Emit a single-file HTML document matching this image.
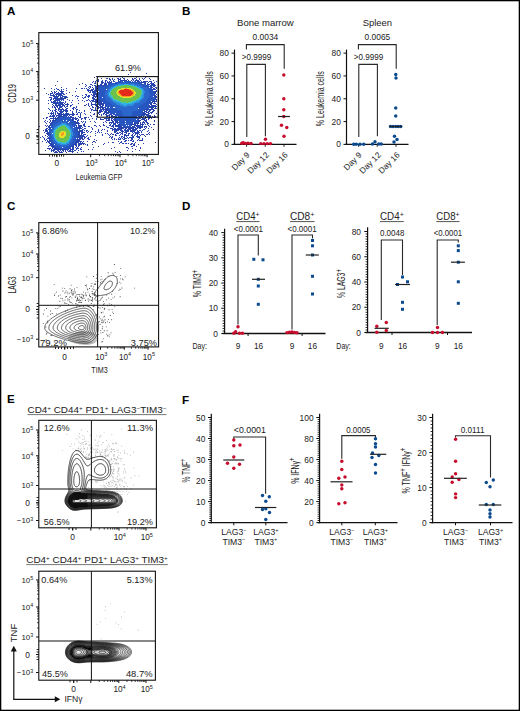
<!DOCTYPE html>
<html><head><meta charset="utf-8"><style>
html,body{margin:0;padding:0;background:#fff;}
svg{display:block;font-family:"Liberation Sans", sans-serif;}
</style></head><body>
<svg width="520" height="711" viewBox="0 0 520 711">
<rect x="0" y="0" width="520" height="711" fill="#fff"/>
<text x="7" y="14.8" font-size="11.6" text-anchor="start" font-weight="bold" fill="#000" >A</text>
<text x="182" y="15" font-size="11.6" text-anchor="start" font-weight="bold" fill="#000" >B</text>
<text x="7" y="210" font-size="11.6" text-anchor="start" font-weight="bold" fill="#000" >C</text>
<text x="182" y="210" font-size="11.6" text-anchor="start" font-weight="bold" fill="#000" >D</text>
<text x="7" y="403.2" font-size="11.6" text-anchor="start" font-weight="bold" fill="#000" >E</text>
<text x="182" y="403.7" font-size="11.6" text-anchor="start" font-weight="bold" fill="#000" >F</text>
<line x1="234.5" y1="145" x2="234.5" y2="49.6" stroke="#111" stroke-width="1.2"/>
<line x1="231.5" y1="144.4" x2="234.5" y2="144.4" stroke="#111" stroke-width="1.0"/>
<text x="228.9" y="147.4" font-size="8.4" text-anchor="end" font-weight="normal" fill="#222" >0</text>
<line x1="231.5" y1="121.59" x2="234.5" y2="121.59" stroke="#111" stroke-width="1.0"/>
<text x="228.9" y="124.59" font-size="8.4" text-anchor="end" font-weight="normal" fill="#222" >20</text>
<line x1="231.5" y1="98.78" x2="234.5" y2="98.78" stroke="#111" stroke-width="1.0"/>
<text x="228.9" y="101.78" font-size="8.4" text-anchor="end" font-weight="normal" fill="#222" >40</text>
<line x1="231.5" y1="75.96" x2="234.5" y2="75.96" stroke="#111" stroke-width="1.0"/>
<text x="228.9" y="78.96" font-size="8.4" text-anchor="end" font-weight="normal" fill="#222" >60</text>
<line x1="231.5" y1="53.15" x2="234.5" y2="53.15" stroke="#111" stroke-width="1.0"/>
<text x="228.9" y="56.15" font-size="8.4" text-anchor="end" font-weight="normal" fill="#222" >80</text>
<line x1="233" y1="144.4" x2="296.5" y2="144.4" stroke="#111" stroke-width="1.2"/>
<line x1="246.6" y1="144.4" x2="246.6" y2="146.8" stroke="#111" stroke-width="0.9"/>
<line x1="265.2" y1="144.4" x2="265.2" y2="146.8" stroke="#111" stroke-width="0.9"/>
<line x1="284" y1="144.4" x2="284" y2="146.8" stroke="#111" stroke-width="0.9"/>
<text x="265.4" y="25.8" font-size="9.4" text-anchor="middle" font-weight="normal" fill="#222" textLength="56.7" lengthAdjust="spacingAndGlyphs" >Bone marrow</text>
<text x="265.4" y="40" font-size="8.3" text-anchor="middle" font-weight="normal" fill="#222" textLength="25.7" lengthAdjust="spacingAndGlyphs" >0.0034</text>
<path d="M246.4 49.6 V44.6 H284.2 V68.8" fill="none" stroke="#2a2a2a" stroke-width="1.1"/>
<text x="256.5" y="60" font-size="8.3" text-anchor="middle" font-weight="normal" fill="#222" textLength="29.5" lengthAdjust="spacingAndGlyphs" >&gt;0.9999</text>
<path d="M246.8 137 V64.4 H265.4 V136.3" fill="none" stroke="#2a2a2a" stroke-width="1.1"/>
<circle cx="241.8" cy="143.2" r="1.72" fill="#c80c2c"/>
<circle cx="243.3" cy="142.8" r="1.72" fill="#c80c2c"/>
<circle cx="245.5" cy="143.4" r="1.72" fill="#c80c2c"/>
<circle cx="248" cy="143.1" r="1.72" fill="#c80c2c"/>
<circle cx="251" cy="143.5" r="1.72" fill="#c80c2c"/>
<circle cx="265.5" cy="139.3" r="1.72" fill="#c80c2c"/>
<circle cx="260.8" cy="143.6" r="1.72" fill="#c80c2c"/>
<circle cx="264" cy="143.6" r="1.72" fill="#c80c2c"/>
<circle cx="267.3" cy="143.6" r="1.72" fill="#c80c2c"/>
<circle cx="270.5" cy="143.6" r="1.72" fill="#c80c2c"/>
<circle cx="283.8" cy="75" r="1.72" fill="#c80c2c"/>
<circle cx="283.8" cy="98.8" r="1.72" fill="#c80c2c"/>
<circle cx="283.8" cy="109.8" r="1.72" fill="#c80c2c"/>
<circle cx="283.8" cy="116.5" r="1.72" fill="#c80c2c"/>
<circle cx="281.5" cy="125.3" r="1.72" fill="#c80c2c"/>
<circle cx="286.8" cy="127.5" r="1.72" fill="#c80c2c"/>
<circle cx="284" cy="136.3" r="1.72" fill="#c80c2c"/>
<line x1="278" y1="116.5" x2="290" y2="116.5" stroke="#222" stroke-width="1.2"/>
<text transform="translate(250.3,155.6) rotate(-45)" font-size="8.3" text-anchor="end" fill="#222">Day 9</text>
<text transform="translate(269.4,155.6) rotate(-45)" font-size="8.3" text-anchor="end" fill="#222">Day 12</text>
<text transform="translate(288.3,155.6) rotate(-45)" font-size="8.3" text-anchor="end" fill="#222">Day 16</text>
<text transform="translate(213.4,98.75) rotate(-90) scale(0.707,1)" x="0" y="0" font-size="10.0" text-anchor="middle" fill="#222" >% Leukemia cells</text>
<line x1="346.5" y1="145" x2="346.5" y2="49.6" stroke="#111" stroke-width="1.2"/>
<line x1="343.5" y1="144.4" x2="346.5" y2="144.4" stroke="#111" stroke-width="1.0"/>
<text x="340.9" y="147.4" font-size="8.4" text-anchor="end" font-weight="normal" fill="#222" >0</text>
<line x1="343.5" y1="121.59" x2="346.5" y2="121.59" stroke="#111" stroke-width="1.0"/>
<text x="340.9" y="124.59" font-size="8.4" text-anchor="end" font-weight="normal" fill="#222" >20</text>
<line x1="343.5" y1="98.78" x2="346.5" y2="98.78" stroke="#111" stroke-width="1.0"/>
<text x="340.9" y="101.78" font-size="8.4" text-anchor="end" font-weight="normal" fill="#222" >40</text>
<line x1="343.5" y1="75.96" x2="346.5" y2="75.96" stroke="#111" stroke-width="1.0"/>
<text x="340.9" y="78.96" font-size="8.4" text-anchor="end" font-weight="normal" fill="#222" >60</text>
<line x1="343.5" y1="53.15" x2="346.5" y2="53.15" stroke="#111" stroke-width="1.0"/>
<text x="340.9" y="56.15" font-size="8.4" text-anchor="end" font-weight="normal" fill="#222" >80</text>
<line x1="345" y1="144.4" x2="408.5" y2="144.4" stroke="#111" stroke-width="1.2"/>
<line x1="358.6" y1="144.4" x2="358.6" y2="146.8" stroke="#111" stroke-width="0.9"/>
<line x1="377.2" y1="144.4" x2="377.2" y2="146.8" stroke="#111" stroke-width="0.9"/>
<line x1="396" y1="144.4" x2="396" y2="146.8" stroke="#111" stroke-width="0.9"/>
<text x="377.4" y="25.8" font-size="9.4" text-anchor="middle" font-weight="normal" fill="#222" textLength="29.5" lengthAdjust="spacingAndGlyphs" >Spleen</text>
<text x="377.4" y="40" font-size="8.3" text-anchor="middle" font-weight="normal" fill="#222" textLength="25.7" lengthAdjust="spacingAndGlyphs" >0.0065</text>
<path d="M358.4 49.6 V44.6 H396.2 V68.8" fill="none" stroke="#2a2a2a" stroke-width="1.1"/>
<text x="368.5" y="60" font-size="8.3" text-anchor="middle" font-weight="normal" fill="#222" textLength="29.5" lengthAdjust="spacingAndGlyphs" >&gt;0.9999</text>
<path d="M358.8 137 V64.4 H377.4 V136.3" fill="none" stroke="#2a2a2a" stroke-width="1.1"/>
<circle cx="353.75" cy="144.2" r="1.72" fill="#0b4a8e"/>
<circle cx="356.25" cy="144.2" r="1.72" fill="#0b4a8e"/>
<circle cx="360" cy="144.2" r="1.72" fill="#0b4a8e"/>
<circle cx="363.75" cy="144.2" r="1.72" fill="#0b4a8e"/>
<circle cx="375" cy="141.8" r="1.72" fill="#0b4a8e"/>
<circle cx="372.5" cy="144" r="1.72" fill="#0b4a8e"/>
<circle cx="378.75" cy="144" r="1.72" fill="#0b4a8e"/>
<circle cx="381.25" cy="144" r="1.72" fill="#0b4a8e"/>
<circle cx="395.75" cy="74.5" r="1.72" fill="#0b4a8e"/>
<circle cx="396" cy="78" r="1.72" fill="#0b4a8e"/>
<circle cx="395.75" cy="108" r="1.72" fill="#0b4a8e"/>
<circle cx="395.75" cy="116" r="1.72" fill="#0b4a8e"/>
<circle cx="390.5" cy="126.5" r="1.72" fill="#0b4a8e"/>
<circle cx="393" cy="126.5" r="1.72" fill="#0b4a8e"/>
<circle cx="395.75" cy="126.5" r="1.72" fill="#0b4a8e"/>
<circle cx="398.25" cy="126.5" r="1.72" fill="#0b4a8e"/>
<circle cx="400.75" cy="126.5" r="1.72" fill="#0b4a8e"/>
<circle cx="394.5" cy="136.3" r="1.72" fill="#0b4a8e"/>
<circle cx="397" cy="139.5" r="1.72" fill="#0b4a8e"/>
<circle cx="394" cy="142" r="1.72" fill="#0b4a8e"/>
<line x1="389.5" y1="126.5" x2="402" y2="126.5" stroke="#222" stroke-width="1.2"/>
<text transform="translate(362.3,155.6) rotate(-45)" font-size="8.3" text-anchor="end" fill="#222">Day 9</text>
<text transform="translate(381.4,155.6) rotate(-45)" font-size="8.3" text-anchor="end" fill="#222">Day 12</text>
<text transform="translate(400.3,155.6) rotate(-45)" font-size="8.3" text-anchor="end" fill="#222">Day 16</text>
<text transform="translate(323.9,98.75) rotate(-90) scale(0.707,1)" x="0" y="0" font-size="10.0" text-anchor="middle" fill="#222" >% Leukemia cells</text>
<line x1="224.6" y1="334.1" x2="224.6" y2="228.8" stroke="#111" stroke-width="1.2"/>
<line x1="222.6" y1="330.98" x2="224.6" y2="330.98" stroke="#111" stroke-width="0.9"/>
<line x1="222.6" y1="328.45" x2="224.6" y2="328.45" stroke="#111" stroke-width="0.9"/>
<line x1="222.6" y1="325.93" x2="224.6" y2="325.93" stroke="#111" stroke-width="0.9"/>
<line x1="222.6" y1="323.41" x2="224.6" y2="323.41" stroke="#111" stroke-width="0.9"/>
<line x1="222.6" y1="320.89" x2="224.6" y2="320.89" stroke="#111" stroke-width="0.9"/>
<line x1="222.6" y1="318.37" x2="224.6" y2="318.37" stroke="#111" stroke-width="0.9"/>
<line x1="222.6" y1="315.84" x2="224.6" y2="315.84" stroke="#111" stroke-width="0.9"/>
<line x1="222.6" y1="313.32" x2="224.6" y2="313.32" stroke="#111" stroke-width="0.9"/>
<line x1="222.6" y1="310.8" x2="224.6" y2="310.8" stroke="#111" stroke-width="0.9"/>
<line x1="222.6" y1="305.75" x2="224.6" y2="305.75" stroke="#111" stroke-width="0.9"/>
<line x1="222.6" y1="303.23" x2="224.6" y2="303.23" stroke="#111" stroke-width="0.9"/>
<line x1="222.6" y1="300.71" x2="224.6" y2="300.71" stroke="#111" stroke-width="0.9"/>
<line x1="222.6" y1="298.19" x2="224.6" y2="298.19" stroke="#111" stroke-width="0.9"/>
<line x1="222.6" y1="295.66" x2="224.6" y2="295.66" stroke="#111" stroke-width="0.9"/>
<line x1="222.6" y1="293.14" x2="224.6" y2="293.14" stroke="#111" stroke-width="0.9"/>
<line x1="222.6" y1="290.62" x2="224.6" y2="290.62" stroke="#111" stroke-width="0.9"/>
<line x1="222.6" y1="288.1" x2="224.6" y2="288.1" stroke="#111" stroke-width="0.9"/>
<line x1="222.6" y1="285.57" x2="224.6" y2="285.57" stroke="#111" stroke-width="0.9"/>
<line x1="222.6" y1="280.53" x2="224.6" y2="280.53" stroke="#111" stroke-width="0.9"/>
<line x1="222.6" y1="278" x2="224.6" y2="278" stroke="#111" stroke-width="0.9"/>
<line x1="222.6" y1="275.48" x2="224.6" y2="275.48" stroke="#111" stroke-width="0.9"/>
<line x1="222.6" y1="272.96" x2="224.6" y2="272.96" stroke="#111" stroke-width="0.9"/>
<line x1="222.6" y1="270.44" x2="224.6" y2="270.44" stroke="#111" stroke-width="0.9"/>
<line x1="222.6" y1="267.92" x2="224.6" y2="267.92" stroke="#111" stroke-width="0.9"/>
<line x1="222.6" y1="265.39" x2="224.6" y2="265.39" stroke="#111" stroke-width="0.9"/>
<line x1="222.6" y1="262.87" x2="224.6" y2="262.87" stroke="#111" stroke-width="0.9"/>
<line x1="222.6" y1="260.35" x2="224.6" y2="260.35" stroke="#111" stroke-width="0.9"/>
<line x1="222.6" y1="255.3" x2="224.6" y2="255.3" stroke="#111" stroke-width="0.9"/>
<line x1="222.6" y1="252.78" x2="224.6" y2="252.78" stroke="#111" stroke-width="0.9"/>
<line x1="222.6" y1="250.26" x2="224.6" y2="250.26" stroke="#111" stroke-width="0.9"/>
<line x1="222.6" y1="247.74" x2="224.6" y2="247.74" stroke="#111" stroke-width="0.9"/>
<line x1="222.6" y1="245.21" x2="224.6" y2="245.21" stroke="#111" stroke-width="0.9"/>
<line x1="222.6" y1="242.69" x2="224.6" y2="242.69" stroke="#111" stroke-width="0.9"/>
<line x1="222.6" y1="240.17" x2="224.6" y2="240.17" stroke="#111" stroke-width="0.9"/>
<line x1="222.6" y1="237.64" x2="224.6" y2="237.64" stroke="#111" stroke-width="0.9"/>
<line x1="222.6" y1="235.12" x2="224.6" y2="235.12" stroke="#111" stroke-width="0.9"/>
<line x1="221.3" y1="333.5" x2="224.6" y2="333.5" stroke="#111" stroke-width="1.0"/>
<text x="218" y="336.5" font-size="8.4" text-anchor="end" font-weight="normal" fill="#222" >0</text>
<line x1="221.3" y1="308.27" x2="224.6" y2="308.27" stroke="#111" stroke-width="1.0"/>
<text x="218" y="311.27" font-size="8.4" text-anchor="end" font-weight="normal" fill="#222" >10</text>
<line x1="221.3" y1="283.05" x2="224.6" y2="283.05" stroke="#111" stroke-width="1.0"/>
<text x="218" y="286.05" font-size="8.4" text-anchor="end" font-weight="normal" fill="#222" >20</text>
<line x1="221.3" y1="257.82" x2="224.6" y2="257.82" stroke="#111" stroke-width="1.0"/>
<text x="218" y="260.82" font-size="8.4" text-anchor="end" font-weight="normal" fill="#222" >30</text>
<line x1="221.3" y1="232.6" x2="224.6" y2="232.6" stroke="#111" stroke-width="1.0"/>
<text x="218" y="235.6" font-size="8.4" text-anchor="end" font-weight="normal" fill="#222" >40</text>
<line x1="222.6" y1="333.5" x2="325.5" y2="333.5" stroke="#111" stroke-width="1.3"/>
<text transform="translate(201.3,283.6) rotate(-90) scale(0.696,1)" x="0" y="0" font-size="10.0" text-anchor="middle" fill="#222" >% TIM3<tspan dy="-3.6" font-size="8.5">+</tspan></text>
<line x1="248.1" y1="333.5" x2="248.1" y2="336" stroke="#111" stroke-width="1.0"/>
<line x1="302.1" y1="333.5" x2="302.1" y2="336" stroke="#111" stroke-width="1.0"/>
<text x="192.5" y="349" font-size="8.3" text-anchor="start" font-weight="normal" fill="#222" textLength="14.5" lengthAdjust="spacingAndGlyphs" >Day:</text>
<text x="238" y="349" font-size="8.3" text-anchor="middle" font-weight="normal" fill="#222" >9</text>
<text x="258.5" y="349" font-size="8.3" text-anchor="middle" font-weight="normal" fill="#222" >16</text>
<text x="292" y="349" font-size="8.3" text-anchor="middle" font-weight="normal" fill="#222" >9</text>
<text x="312.4" y="349" font-size="8.3" text-anchor="middle" font-weight="normal" fill="#222" >16</text>
<line x1="367.6" y1="333.1" x2="367.6" y2="227.3" stroke="#111" stroke-width="1.2"/>
<line x1="365.6" y1="329.98" x2="367.6" y2="329.98" stroke="#111" stroke-width="0.9"/>
<line x1="365.6" y1="327.45" x2="367.6" y2="327.45" stroke="#111" stroke-width="0.9"/>
<line x1="365.6" y1="324.93" x2="367.6" y2="324.93" stroke="#111" stroke-width="0.9"/>
<line x1="365.6" y1="322.4" x2="367.6" y2="322.4" stroke="#111" stroke-width="0.9"/>
<line x1="365.6" y1="319.88" x2="367.6" y2="319.88" stroke="#111" stroke-width="0.9"/>
<line x1="365.6" y1="317.35" x2="367.6" y2="317.35" stroke="#111" stroke-width="0.9"/>
<line x1="365.6" y1="314.82" x2="367.6" y2="314.82" stroke="#111" stroke-width="0.9"/>
<line x1="365.6" y1="312.3" x2="367.6" y2="312.3" stroke="#111" stroke-width="0.9"/>
<line x1="365.6" y1="309.77" x2="367.6" y2="309.77" stroke="#111" stroke-width="0.9"/>
<line x1="365.6" y1="304.73" x2="367.6" y2="304.73" stroke="#111" stroke-width="0.9"/>
<line x1="365.6" y1="302.2" x2="367.6" y2="302.2" stroke="#111" stroke-width="0.9"/>
<line x1="365.6" y1="299.68" x2="367.6" y2="299.68" stroke="#111" stroke-width="0.9"/>
<line x1="365.6" y1="297.15" x2="367.6" y2="297.15" stroke="#111" stroke-width="0.9"/>
<line x1="365.6" y1="294.62" x2="367.6" y2="294.62" stroke="#111" stroke-width="0.9"/>
<line x1="365.6" y1="292.1" x2="367.6" y2="292.1" stroke="#111" stroke-width="0.9"/>
<line x1="365.6" y1="289.57" x2="367.6" y2="289.57" stroke="#111" stroke-width="0.9"/>
<line x1="365.6" y1="287.05" x2="367.6" y2="287.05" stroke="#111" stroke-width="0.9"/>
<line x1="365.6" y1="284.52" x2="367.6" y2="284.52" stroke="#111" stroke-width="0.9"/>
<line x1="365.6" y1="279.48" x2="367.6" y2="279.48" stroke="#111" stroke-width="0.9"/>
<line x1="365.6" y1="276.95" x2="367.6" y2="276.95" stroke="#111" stroke-width="0.9"/>
<line x1="365.6" y1="274.43" x2="367.6" y2="274.43" stroke="#111" stroke-width="0.9"/>
<line x1="365.6" y1="271.9" x2="367.6" y2="271.9" stroke="#111" stroke-width="0.9"/>
<line x1="365.6" y1="269.38" x2="367.6" y2="269.38" stroke="#111" stroke-width="0.9"/>
<line x1="365.6" y1="266.85" x2="367.6" y2="266.85" stroke="#111" stroke-width="0.9"/>
<line x1="365.6" y1="264.32" x2="367.6" y2="264.32" stroke="#111" stroke-width="0.9"/>
<line x1="365.6" y1="261.8" x2="367.6" y2="261.8" stroke="#111" stroke-width="0.9"/>
<line x1="365.6" y1="259.27" x2="367.6" y2="259.27" stroke="#111" stroke-width="0.9"/>
<line x1="365.6" y1="254.23" x2="367.6" y2="254.23" stroke="#111" stroke-width="0.9"/>
<line x1="365.6" y1="251.7" x2="367.6" y2="251.7" stroke="#111" stroke-width="0.9"/>
<line x1="365.6" y1="249.18" x2="367.6" y2="249.18" stroke="#111" stroke-width="0.9"/>
<line x1="365.6" y1="246.65" x2="367.6" y2="246.65" stroke="#111" stroke-width="0.9"/>
<line x1="365.6" y1="244.12" x2="367.6" y2="244.12" stroke="#111" stroke-width="0.9"/>
<line x1="365.6" y1="241.6" x2="367.6" y2="241.6" stroke="#111" stroke-width="0.9"/>
<line x1="365.6" y1="239.07" x2="367.6" y2="239.07" stroke="#111" stroke-width="0.9"/>
<line x1="365.6" y1="236.55" x2="367.6" y2="236.55" stroke="#111" stroke-width="0.9"/>
<line x1="365.6" y1="234.03" x2="367.6" y2="234.03" stroke="#111" stroke-width="0.9"/>
<line x1="364.3" y1="332.5" x2="367.6" y2="332.5" stroke="#111" stroke-width="1.0"/>
<text x="361" y="335.5" font-size="8.4" text-anchor="end" font-weight="normal" fill="#222" >0</text>
<line x1="364.3" y1="307.25" x2="367.6" y2="307.25" stroke="#111" stroke-width="1.0"/>
<text x="361" y="310.25" font-size="8.4" text-anchor="end" font-weight="normal" fill="#222" >20</text>
<line x1="364.3" y1="282" x2="367.6" y2="282" stroke="#111" stroke-width="1.0"/>
<text x="361" y="285" font-size="8.4" text-anchor="end" font-weight="normal" fill="#222" >40</text>
<line x1="364.3" y1="256.75" x2="367.6" y2="256.75" stroke="#111" stroke-width="1.0"/>
<text x="361" y="259.75" font-size="8.4" text-anchor="end" font-weight="normal" fill="#222" >60</text>
<line x1="364.3" y1="231.5" x2="367.6" y2="231.5" stroke="#111" stroke-width="1.0"/>
<text x="361" y="234.5" font-size="8.4" text-anchor="end" font-weight="normal" fill="#222" >80</text>
<line x1="365.6" y1="332.5" x2="472" y2="332.5" stroke="#111" stroke-width="1.3"/>
<text transform="translate(345.1,283.6) rotate(-90) scale(0.682,1)" x="0" y="0" font-size="10.0" text-anchor="middle" fill="#222" >% LAG3<tspan dy="-3.6" font-size="8.5">+</tspan></text>
<line x1="392" y1="332.5" x2="392" y2="335" stroke="#111" stroke-width="1.0"/>
<line x1="447.5" y1="332.5" x2="447.5" y2="335" stroke="#111" stroke-width="1.0"/>
<text x="336.3" y="349" font-size="8.3" text-anchor="start" font-weight="normal" fill="#222" textLength="14.5" lengthAdjust="spacingAndGlyphs" >Day:</text>
<text x="381.3" y="349" font-size="8.3" text-anchor="middle" font-weight="normal" fill="#222" >9</text>
<text x="402.5" y="349" font-size="8.3" text-anchor="middle" font-weight="normal" fill="#222" >16</text>
<text x="437.2" y="349" font-size="8.3" text-anchor="middle" font-weight="normal" fill="#222" >9</text>
<text x="458.3" y="349" font-size="8.3" text-anchor="middle" font-weight="normal" fill="#222" >16</text>
<text x="247.9" y="219.9" font-size="10" text-anchor="middle" fill="#222" textLength="23.2" lengthAdjust="spacingAndGlyphs">CD4<tspan dy="-3.0" font-size="7.2">+</tspan></text>
<line x1="236.3" y1="221.6" x2="259.5" y2="221.6" stroke="#555" stroke-width="1.0"/>
<text x="302.25" y="219.9" font-size="10" text-anchor="middle" fill="#222" textLength="24.5" lengthAdjust="spacingAndGlyphs">CD8<tspan dy="-3.0" font-size="7.2">+</tspan></text>
<line x1="290" y1="221.6" x2="314.5" y2="221.6" stroke="#555" stroke-width="1.0"/>
<text x="391.9" y="219.9" font-size="10" text-anchor="middle" fill="#222" textLength="23.8" lengthAdjust="spacingAndGlyphs">CD4<tspan dy="-3.0" font-size="7.2">+</tspan></text>
<line x1="380" y1="221.6" x2="403.8" y2="221.6" stroke="#555" stroke-width="1.0"/>
<text x="447.9" y="219.9" font-size="10" text-anchor="middle" fill="#222" textLength="23.2" lengthAdjust="spacingAndGlyphs">CD8<tspan dy="-3.0" font-size="7.2">+</tspan></text>
<line x1="436.3" y1="221.6" x2="459.5" y2="221.6" stroke="#555" stroke-width="1.0"/>
<text x="248.4" y="231.8" font-size="8.3" text-anchor="middle" font-weight="normal" fill="#222" textLength="29.2" lengthAdjust="spacingAndGlyphs" >&lt;0.0001</text>
<text x="302.1" y="231.8" font-size="8.3" text-anchor="middle" font-weight="normal" fill="#222" textLength="29.2" lengthAdjust="spacingAndGlyphs" >&lt;0.0001</text>
<text x="392.2" y="236.3" font-size="8.3" text-anchor="middle" font-weight="normal" fill="#222" textLength="24.5" lengthAdjust="spacingAndGlyphs" >0.0048</text>
<text x="447.9" y="236.3" font-size="8.3" text-anchor="middle" font-weight="normal" fill="#222" textLength="28.3" lengthAdjust="spacingAndGlyphs" >&lt;0.0001</text>
<path d="M238 324.5 V235 H258.3 V255.5" fill="none" stroke="#2a2a2a" stroke-width="1.1"/>
<path d="M292 329.5 V235 H312.5 V238.5" fill="none" stroke="#2a2a2a" stroke-width="1.1"/>
<path d="M381.3 320 V240 H402.5 V275" fill="none" stroke="#2a2a2a" stroke-width="1.1"/>
<path d="M437.2 325 V240 H458.3 V242.6" fill="none" stroke="#2a2a2a" stroke-width="1.1"/>
<circle cx="238" cy="326.8" r="1.72" fill="#c80c2c"/>
<circle cx="233.8" cy="333.2" r="1.72" fill="#c80c2c"/>
<circle cx="235.6" cy="331.8" r="1.72" fill="#c80c2c"/>
<circle cx="239.5" cy="333.2" r="1.72" fill="#c80c2c"/>
<circle cx="242.5" cy="333.2" r="1.72" fill="#c80c2c"/>
<rect x="252.3" y="257.8" width="3.0" height="3.0" fill="#0b4a8e"/>
<rect x="261.5" y="258.3" width="3.0" height="3.0" fill="#0b4a8e"/>
<rect x="256.8" y="277.8" width="3.0" height="3.0" fill="#0b4a8e"/>
<rect x="256.8" y="284.5" width="3.0" height="3.0" fill="#0b4a8e"/>
<rect x="256.8" y="302.8" width="3.0" height="3.0" fill="#0b4a8e"/>
<line x1="252" y1="279.3" x2="265" y2="279.3" stroke="#222" stroke-width="1.2"/>
<circle cx="287" cy="332.6" r="1.72" fill="#c80c2c"/>
<circle cx="289.5" cy="332.2" r="1.72" fill="#c80c2c"/>
<circle cx="292" cy="332" r="1.72" fill="#c80c2c"/>
<circle cx="294.5" cy="332.4" r="1.72" fill="#c80c2c"/>
<circle cx="297" cy="332.8" r="1.72" fill="#c80c2c"/>
<rect x="311" y="239" width="3.0" height="3.0" fill="#0b4a8e"/>
<rect x="311" y="244.3" width="3.0" height="3.0" fill="#0b4a8e"/>
<rect x="311" y="253.5" width="3.0" height="3.0" fill="#0b4a8e"/>
<rect x="311" y="274.8" width="3.0" height="3.0" fill="#0b4a8e"/>
<rect x="311" y="292.5" width="3.0" height="3.0" fill="#0b4a8e"/>
<line x1="305.8" y1="255" x2="318.8" y2="255" stroke="#222" stroke-width="1.2"/>
<circle cx="376.8" cy="326.3" r="1.72" fill="#c80c2c"/>
<circle cx="386.3" cy="322.5" r="1.72" fill="#c80c2c"/>
<circle cx="376.8" cy="332.3" r="1.72" fill="#c80c2c"/>
<circle cx="386.3" cy="330.5" r="1.72" fill="#c80c2c"/>
<line x1="374.5" y1="328.3" x2="388.8" y2="328.3" stroke="#222" stroke-width="1.2"/>
<rect x="401" y="275.5" width="3.0" height="3.0" fill="#0b4a8e"/>
<rect x="406" y="280.3" width="3.0" height="3.0" fill="#0b4a8e"/>
<rect x="396" y="283" width="3.0" height="3.0" fill="#0b4a8e"/>
<rect x="401" y="300.8" width="3.0" height="3.0" fill="#0b4a8e"/>
<rect x="401" y="307.8" width="3.0" height="3.0" fill="#0b4a8e"/>
<line x1="395" y1="284.5" x2="410" y2="284.5" stroke="#222" stroke-width="1.2"/>
<circle cx="437.5" cy="327.5" r="1.72" fill="#c80c2c"/>
<circle cx="432.5" cy="332.5" r="1.72" fill="#c80c2c"/>
<circle cx="437.5" cy="332.5" r="1.72" fill="#c80c2c"/>
<circle cx="442.5" cy="332.5" r="1.72" fill="#c80c2c"/>
<rect x="456.8" y="244.3" width="3.0" height="3.0" fill="#0b4a8e"/>
<rect x="456.8" y="249.1" width="3.0" height="3.0" fill="#0b4a8e"/>
<rect x="456.8" y="260.7" width="3.0" height="3.0" fill="#0b4a8e"/>
<rect x="456.8" y="280.3" width="3.0" height="3.0" fill="#0b4a8e"/>
<rect x="456.8" y="301.8" width="3.0" height="3.0" fill="#0b4a8e"/>
<line x1="451" y1="262.2" x2="464.9" y2="262.2" stroke="#222" stroke-width="1.2"/>
<line x1="211.3" y1="523.2" x2="211.3" y2="413.8" stroke="#111" stroke-width="1.2"/>
<line x1="209.3" y1="520.5" x2="211.3" y2="520.5" stroke="#111" stroke-width="0.9"/>
<line x1="209.3" y1="518.4" x2="211.3" y2="518.4" stroke="#111" stroke-width="0.9"/>
<line x1="209.3" y1="516.29" x2="211.3" y2="516.29" stroke="#111" stroke-width="0.9"/>
<line x1="209.3" y1="514.19" x2="211.3" y2="514.19" stroke="#111" stroke-width="0.9"/>
<line x1="209.3" y1="512.09" x2="211.3" y2="512.09" stroke="#111" stroke-width="0.9"/>
<line x1="209.3" y1="509.99" x2="211.3" y2="509.99" stroke="#111" stroke-width="0.9"/>
<line x1="209.3" y1="507.89" x2="211.3" y2="507.89" stroke="#111" stroke-width="0.9"/>
<line x1="209.3" y1="505.78" x2="211.3" y2="505.78" stroke="#111" stroke-width="0.9"/>
<line x1="209.3" y1="503.68" x2="211.3" y2="503.68" stroke="#111" stroke-width="0.9"/>
<line x1="209.3" y1="499.48" x2="211.3" y2="499.48" stroke="#111" stroke-width="0.9"/>
<line x1="209.3" y1="497.38" x2="211.3" y2="497.38" stroke="#111" stroke-width="0.9"/>
<line x1="209.3" y1="495.27" x2="211.3" y2="495.27" stroke="#111" stroke-width="0.9"/>
<line x1="209.3" y1="493.17" x2="211.3" y2="493.17" stroke="#111" stroke-width="0.9"/>
<line x1="209.3" y1="491.07" x2="211.3" y2="491.07" stroke="#111" stroke-width="0.9"/>
<line x1="209.3" y1="488.97" x2="211.3" y2="488.97" stroke="#111" stroke-width="0.9"/>
<line x1="209.3" y1="486.87" x2="211.3" y2="486.87" stroke="#111" stroke-width="0.9"/>
<line x1="209.3" y1="484.76" x2="211.3" y2="484.76" stroke="#111" stroke-width="0.9"/>
<line x1="209.3" y1="482.66" x2="211.3" y2="482.66" stroke="#111" stroke-width="0.9"/>
<line x1="209.3" y1="478.46" x2="211.3" y2="478.46" stroke="#111" stroke-width="0.9"/>
<line x1="209.3" y1="476.36" x2="211.3" y2="476.36" stroke="#111" stroke-width="0.9"/>
<line x1="209.3" y1="474.25" x2="211.3" y2="474.25" stroke="#111" stroke-width="0.9"/>
<line x1="209.3" y1="472.15" x2="211.3" y2="472.15" stroke="#111" stroke-width="0.9"/>
<line x1="209.3" y1="470.05" x2="211.3" y2="470.05" stroke="#111" stroke-width="0.9"/>
<line x1="209.3" y1="467.95" x2="211.3" y2="467.95" stroke="#111" stroke-width="0.9"/>
<line x1="209.3" y1="465.85" x2="211.3" y2="465.85" stroke="#111" stroke-width="0.9"/>
<line x1="209.3" y1="463.74" x2="211.3" y2="463.74" stroke="#111" stroke-width="0.9"/>
<line x1="209.3" y1="461.64" x2="211.3" y2="461.64" stroke="#111" stroke-width="0.9"/>
<line x1="209.3" y1="457.44" x2="211.3" y2="457.44" stroke="#111" stroke-width="0.9"/>
<line x1="209.3" y1="455.34" x2="211.3" y2="455.34" stroke="#111" stroke-width="0.9"/>
<line x1="209.3" y1="453.23" x2="211.3" y2="453.23" stroke="#111" stroke-width="0.9"/>
<line x1="209.3" y1="451.13" x2="211.3" y2="451.13" stroke="#111" stroke-width="0.9"/>
<line x1="209.3" y1="449.03" x2="211.3" y2="449.03" stroke="#111" stroke-width="0.9"/>
<line x1="209.3" y1="446.93" x2="211.3" y2="446.93" stroke="#111" stroke-width="0.9"/>
<line x1="209.3" y1="444.83" x2="211.3" y2="444.83" stroke="#111" stroke-width="0.9"/>
<line x1="209.3" y1="442.72" x2="211.3" y2="442.72" stroke="#111" stroke-width="0.9"/>
<line x1="209.3" y1="440.62" x2="211.3" y2="440.62" stroke="#111" stroke-width="0.9"/>
<line x1="209.3" y1="436.42" x2="211.3" y2="436.42" stroke="#111" stroke-width="0.9"/>
<line x1="209.3" y1="434.32" x2="211.3" y2="434.32" stroke="#111" stroke-width="0.9"/>
<line x1="209.3" y1="432.21" x2="211.3" y2="432.21" stroke="#111" stroke-width="0.9"/>
<line x1="209.3" y1="430.11" x2="211.3" y2="430.11" stroke="#111" stroke-width="0.9"/>
<line x1="209.3" y1="428.01" x2="211.3" y2="428.01" stroke="#111" stroke-width="0.9"/>
<line x1="209.3" y1="425.91" x2="211.3" y2="425.91" stroke="#111" stroke-width="0.9"/>
<line x1="209.3" y1="423.81" x2="211.3" y2="423.81" stroke="#111" stroke-width="0.9"/>
<line x1="209.3" y1="421.7" x2="211.3" y2="421.7" stroke="#111" stroke-width="0.9"/>
<line x1="209.3" y1="419.6" x2="211.3" y2="419.6" stroke="#111" stroke-width="0.9"/>
<line x1="208" y1="522.6" x2="211.3" y2="522.6" stroke="#111" stroke-width="1.0"/>
<text x="205.3" y="525.6" font-size="8.4" text-anchor="end" font-weight="normal" fill="#222" >0</text>
<line x1="208" y1="501.58" x2="211.3" y2="501.58" stroke="#111" stroke-width="1.0"/>
<text x="205.3" y="504.58" font-size="8.4" text-anchor="end" font-weight="normal" fill="#222" >10</text>
<line x1="208" y1="480.56" x2="211.3" y2="480.56" stroke="#111" stroke-width="1.0"/>
<text x="205.3" y="483.56" font-size="8.4" text-anchor="end" font-weight="normal" fill="#222" >20</text>
<line x1="208" y1="459.54" x2="211.3" y2="459.54" stroke="#111" stroke-width="1.0"/>
<text x="205.3" y="462.54" font-size="8.4" text-anchor="end" font-weight="normal" fill="#222" >30</text>
<line x1="208" y1="438.52" x2="211.3" y2="438.52" stroke="#111" stroke-width="1.0"/>
<text x="205.3" y="441.52" font-size="8.4" text-anchor="end" font-weight="normal" fill="#222" >40</text>
<line x1="208" y1="417.5" x2="211.3" y2="417.5" stroke="#111" stroke-width="1.0"/>
<text x="205.3" y="420.5" font-size="8.4" text-anchor="end" font-weight="normal" fill="#222" >50</text>
<line x1="209.3" y1="522.6" x2="287.5" y2="522.6" stroke="#111" stroke-width="1.3"/>
<line x1="233.8" y1="522.6" x2="233.8" y2="525.3" stroke="#111" stroke-width="1.0"/>
<line x1="265.8" y1="522.6" x2="265.8" y2="525.3" stroke="#111" stroke-width="1.0"/>
<text x="233.8" y="534.8" font-size="8.6" text-anchor="middle" fill="#222">LAG3<tspan dy="-3.3" font-size="5.5">−</tspan></text>
<text x="233.8" y="544.5" font-size="8.6" text-anchor="middle" fill="#222">TIM3<tspan dy="-3.3" font-size="5.5">−</tspan></text>
<text x="265.8" y="534.8" font-size="8.6" text-anchor="middle" fill="#222">LAG3<tspan dy="-3.3" font-size="5.5">+</tspan></text>
<text x="265.8" y="544.5" font-size="8.6" text-anchor="middle" fill="#222">TIM3<tspan dy="-3.3" font-size="5.5">+</tspan></text>
<text transform="translate(189.9,470.6) rotate(-90) scale(0.669,1)" x="0" y="0" font-size="10.0" text-anchor="middle" fill="#222" >% TNF<tspan dy="-3.6" font-size="8.5">+</tspan></text>
<text x="249.8" y="433" font-size="8.3" text-anchor="middle" font-weight="normal" fill="#222" textLength="32" lengthAdjust="spacingAndGlyphs" >&lt;0.0001</text>
<path d="M233.8 439.5 V437 H265.6 V493.8" fill="none" stroke="#2a2a2a" stroke-width="1.1"/>
<circle cx="233.8" cy="440" r="1.72" fill="#c80c2c"/>
<circle cx="233.8" cy="445.8" r="1.72" fill="#c80c2c"/>
<circle cx="240" cy="445" r="1.72" fill="#c80c2c"/>
<circle cx="233.8" cy="457" r="1.72" fill="#c80c2c"/>
<circle cx="227.5" cy="463.3" r="1.72" fill="#c80c2c"/>
<circle cx="239.5" cy="464.3" r="1.72" fill="#c80c2c"/>
<circle cx="233.8" cy="468.3" r="1.72" fill="#c80c2c"/>
<line x1="223.3" y1="460" x2="244.3" y2="460" stroke="#222" stroke-width="1.2"/>
<circle cx="262.5" cy="495.5" r="1.72" fill="#0b4a8e"/>
<circle cx="269.3" cy="496.8" r="1.72" fill="#0b4a8e"/>
<circle cx="265.8" cy="501.3" r="1.72" fill="#0b4a8e"/>
<circle cx="262.5" cy="509.5" r="1.72" fill="#0b4a8e"/>
<circle cx="265.8" cy="508.8" r="1.72" fill="#0b4a8e"/>
<circle cx="269.5" cy="512.5" r="1.72" fill="#0b4a8e"/>
<circle cx="265.8" cy="519.5" r="1.72" fill="#0b4a8e"/>
<line x1="255" y1="507.5" x2="276.3" y2="507.5" stroke="#222" stroke-width="1.2"/>
<line x1="319.6" y1="523.2" x2="319.6" y2="413.8" stroke="#111" stroke-width="1.2"/>
<line x1="317.6" y1="520.5" x2="319.6" y2="520.5" stroke="#111" stroke-width="0.9"/>
<line x1="317.6" y1="518.4" x2="319.6" y2="518.4" stroke="#111" stroke-width="0.9"/>
<line x1="317.6" y1="516.29" x2="319.6" y2="516.29" stroke="#111" stroke-width="0.9"/>
<line x1="317.6" y1="514.19" x2="319.6" y2="514.19" stroke="#111" stroke-width="0.9"/>
<line x1="317.6" y1="512.09" x2="319.6" y2="512.09" stroke="#111" stroke-width="0.9"/>
<line x1="317.6" y1="509.99" x2="319.6" y2="509.99" stroke="#111" stroke-width="0.9"/>
<line x1="317.6" y1="507.89" x2="319.6" y2="507.89" stroke="#111" stroke-width="0.9"/>
<line x1="317.6" y1="505.78" x2="319.6" y2="505.78" stroke="#111" stroke-width="0.9"/>
<line x1="317.6" y1="503.68" x2="319.6" y2="503.68" stroke="#111" stroke-width="0.9"/>
<line x1="317.6" y1="499.48" x2="319.6" y2="499.48" stroke="#111" stroke-width="0.9"/>
<line x1="317.6" y1="497.38" x2="319.6" y2="497.38" stroke="#111" stroke-width="0.9"/>
<line x1="317.6" y1="495.27" x2="319.6" y2="495.27" stroke="#111" stroke-width="0.9"/>
<line x1="317.6" y1="493.17" x2="319.6" y2="493.17" stroke="#111" stroke-width="0.9"/>
<line x1="317.6" y1="491.07" x2="319.6" y2="491.07" stroke="#111" stroke-width="0.9"/>
<line x1="317.6" y1="488.97" x2="319.6" y2="488.97" stroke="#111" stroke-width="0.9"/>
<line x1="317.6" y1="486.87" x2="319.6" y2="486.87" stroke="#111" stroke-width="0.9"/>
<line x1="317.6" y1="484.76" x2="319.6" y2="484.76" stroke="#111" stroke-width="0.9"/>
<line x1="317.6" y1="482.66" x2="319.6" y2="482.66" stroke="#111" stroke-width="0.9"/>
<line x1="317.6" y1="478.46" x2="319.6" y2="478.46" stroke="#111" stroke-width="0.9"/>
<line x1="317.6" y1="476.36" x2="319.6" y2="476.36" stroke="#111" stroke-width="0.9"/>
<line x1="317.6" y1="474.25" x2="319.6" y2="474.25" stroke="#111" stroke-width="0.9"/>
<line x1="317.6" y1="472.15" x2="319.6" y2="472.15" stroke="#111" stroke-width="0.9"/>
<line x1="317.6" y1="470.05" x2="319.6" y2="470.05" stroke="#111" stroke-width="0.9"/>
<line x1="317.6" y1="467.95" x2="319.6" y2="467.95" stroke="#111" stroke-width="0.9"/>
<line x1="317.6" y1="465.85" x2="319.6" y2="465.85" stroke="#111" stroke-width="0.9"/>
<line x1="317.6" y1="463.74" x2="319.6" y2="463.74" stroke="#111" stroke-width="0.9"/>
<line x1="317.6" y1="461.64" x2="319.6" y2="461.64" stroke="#111" stroke-width="0.9"/>
<line x1="317.6" y1="457.44" x2="319.6" y2="457.44" stroke="#111" stroke-width="0.9"/>
<line x1="317.6" y1="455.34" x2="319.6" y2="455.34" stroke="#111" stroke-width="0.9"/>
<line x1="317.6" y1="453.23" x2="319.6" y2="453.23" stroke="#111" stroke-width="0.9"/>
<line x1="317.6" y1="451.13" x2="319.6" y2="451.13" stroke="#111" stroke-width="0.9"/>
<line x1="317.6" y1="449.03" x2="319.6" y2="449.03" stroke="#111" stroke-width="0.9"/>
<line x1="317.6" y1="446.93" x2="319.6" y2="446.93" stroke="#111" stroke-width="0.9"/>
<line x1="317.6" y1="444.83" x2="319.6" y2="444.83" stroke="#111" stroke-width="0.9"/>
<line x1="317.6" y1="442.72" x2="319.6" y2="442.72" stroke="#111" stroke-width="0.9"/>
<line x1="317.6" y1="440.62" x2="319.6" y2="440.62" stroke="#111" stroke-width="0.9"/>
<line x1="317.6" y1="436.42" x2="319.6" y2="436.42" stroke="#111" stroke-width="0.9"/>
<line x1="317.6" y1="434.32" x2="319.6" y2="434.32" stroke="#111" stroke-width="0.9"/>
<line x1="317.6" y1="432.21" x2="319.6" y2="432.21" stroke="#111" stroke-width="0.9"/>
<line x1="317.6" y1="430.11" x2="319.6" y2="430.11" stroke="#111" stroke-width="0.9"/>
<line x1="317.6" y1="428.01" x2="319.6" y2="428.01" stroke="#111" stroke-width="0.9"/>
<line x1="317.6" y1="425.91" x2="319.6" y2="425.91" stroke="#111" stroke-width="0.9"/>
<line x1="317.6" y1="423.81" x2="319.6" y2="423.81" stroke="#111" stroke-width="0.9"/>
<line x1="317.6" y1="421.7" x2="319.6" y2="421.7" stroke="#111" stroke-width="0.9"/>
<line x1="317.6" y1="419.6" x2="319.6" y2="419.6" stroke="#111" stroke-width="0.9"/>
<line x1="316.3" y1="522.6" x2="319.6" y2="522.6" stroke="#111" stroke-width="1.0"/>
<text x="313.6" y="525.6" font-size="8.4" text-anchor="end" font-weight="normal" fill="#222" >0</text>
<line x1="316.3" y1="501.58" x2="319.6" y2="501.58" stroke="#111" stroke-width="1.0"/>
<text x="313.6" y="504.58" font-size="8.4" text-anchor="end" font-weight="normal" fill="#222" >20</text>
<line x1="316.3" y1="480.56" x2="319.6" y2="480.56" stroke="#111" stroke-width="1.0"/>
<text x="313.6" y="483.56" font-size="8.4" text-anchor="end" font-weight="normal" fill="#222" >40</text>
<line x1="316.3" y1="459.54" x2="319.6" y2="459.54" stroke="#111" stroke-width="1.0"/>
<text x="313.6" y="462.54" font-size="8.4" text-anchor="end" font-weight="normal" fill="#222" >60</text>
<line x1="316.3" y1="438.52" x2="319.6" y2="438.52" stroke="#111" stroke-width="1.0"/>
<text x="313.6" y="441.52" font-size="8.4" text-anchor="end" font-weight="normal" fill="#222" >80</text>
<line x1="316.3" y1="417.5" x2="319.6" y2="417.5" stroke="#111" stroke-width="1.0"/>
<text x="313.6" y="420.5" font-size="8.4" text-anchor="end" font-weight="normal" fill="#222" >100</text>
<line x1="317.6" y1="522.6" x2="397.5" y2="522.6" stroke="#111" stroke-width="1.3"/>
<line x1="341.8" y1="522.6" x2="341.8" y2="525.3" stroke="#111" stroke-width="1.0"/>
<line x1="375.3" y1="522.6" x2="375.3" y2="525.3" stroke="#111" stroke-width="1.0"/>
<text x="341.8" y="534.8" font-size="8.6" text-anchor="middle" fill="#222">LAG3<tspan dy="-3.3" font-size="5.5">−</tspan></text>
<text x="341.8" y="544.5" font-size="8.6" text-anchor="middle" fill="#222">TIM3<tspan dy="-3.3" font-size="5.5">−</tspan></text>
<text x="375.3" y="534.8" font-size="8.6" text-anchor="middle" fill="#222">LAG3<tspan dy="-3.3" font-size="5.5">+</tspan></text>
<text x="375.3" y="544.5" font-size="8.6" text-anchor="middle" fill="#222">TIM3<tspan dy="-3.3" font-size="5.5">+</tspan></text>
<text transform="translate(299,470.6) rotate(-90) scale(0.699,1)" x="0" y="0" font-size="10.0" text-anchor="middle" fill="#222" >% IFNγ<tspan dy="-3.6" font-size="8.5">+</tspan></text>
<text x="358.4" y="433" font-size="8.3" text-anchor="middle" font-weight="normal" fill="#222" textLength="24.3" lengthAdjust="spacingAndGlyphs" >0.0005</text>
<path d="M341.8 458.8 V435.6 H375.5 V437.5" fill="none" stroke="#2a2a2a" stroke-width="1.1"/>
<circle cx="341.8" cy="461.3" r="1.72" fill="#c80c2c"/>
<circle cx="341.8" cy="469.5" r="1.72" fill="#c80c2c"/>
<circle cx="338.8" cy="478.3" r="1.72" fill="#c80c2c"/>
<circle cx="345" cy="477" r="1.72" fill="#c80c2c"/>
<circle cx="341.8" cy="485" r="1.72" fill="#c80c2c"/>
<circle cx="341.8" cy="488.8" r="1.72" fill="#c80c2c"/>
<circle cx="338.8" cy="503.8" r="1.72" fill="#c80c2c"/>
<circle cx="345" cy="502.8" r="1.72" fill="#c80c2c"/>
<line x1="330.5" y1="481.8" x2="352.5" y2="481.8" stroke="#222" stroke-width="1.2"/>
<circle cx="375.5" cy="438.8" r="1.72" fill="#0b4a8e"/>
<circle cx="375.5" cy="443.8" r="1.72" fill="#0b4a8e"/>
<circle cx="375.5" cy="447" r="1.72" fill="#0b4a8e"/>
<circle cx="372.5" cy="453" r="1.72" fill="#0b4a8e"/>
<circle cx="378.8" cy="455.5" r="1.72" fill="#0b4a8e"/>
<circle cx="372" cy="457.5" r="1.72" fill="#0b4a8e"/>
<circle cx="375.5" cy="464.5" r="1.72" fill="#0b4a8e"/>
<circle cx="375.5" cy="473" r="1.72" fill="#0b4a8e"/>
<line x1="370" y1="454.3" x2="386.3" y2="454.3" stroke="#222" stroke-width="1.2"/>
<line x1="432.6" y1="523.2" x2="432.6" y2="413.8" stroke="#111" stroke-width="1.2"/>
<line x1="430.6" y1="519.1" x2="432.6" y2="519.1" stroke="#111" stroke-width="0.9"/>
<line x1="430.6" y1="515.59" x2="432.6" y2="515.59" stroke="#111" stroke-width="0.9"/>
<line x1="430.6" y1="512.09" x2="432.6" y2="512.09" stroke="#111" stroke-width="0.9"/>
<line x1="430.6" y1="508.59" x2="432.6" y2="508.59" stroke="#111" stroke-width="0.9"/>
<line x1="430.6" y1="505.08" x2="432.6" y2="505.08" stroke="#111" stroke-width="0.9"/>
<line x1="430.6" y1="501.58" x2="432.6" y2="501.58" stroke="#111" stroke-width="0.9"/>
<line x1="430.6" y1="498.08" x2="432.6" y2="498.08" stroke="#111" stroke-width="0.9"/>
<line x1="430.6" y1="494.57" x2="432.6" y2="494.57" stroke="#111" stroke-width="0.9"/>
<line x1="430.6" y1="491.07" x2="432.6" y2="491.07" stroke="#111" stroke-width="0.9"/>
<line x1="430.6" y1="484.06" x2="432.6" y2="484.06" stroke="#111" stroke-width="0.9"/>
<line x1="430.6" y1="480.56" x2="432.6" y2="480.56" stroke="#111" stroke-width="0.9"/>
<line x1="430.6" y1="477.06" x2="432.6" y2="477.06" stroke="#111" stroke-width="0.9"/>
<line x1="430.6" y1="473.55" x2="432.6" y2="473.55" stroke="#111" stroke-width="0.9"/>
<line x1="430.6" y1="470.05" x2="432.6" y2="470.05" stroke="#111" stroke-width="0.9"/>
<line x1="430.6" y1="466.55" x2="432.6" y2="466.55" stroke="#111" stroke-width="0.9"/>
<line x1="430.6" y1="463.04" x2="432.6" y2="463.04" stroke="#111" stroke-width="0.9"/>
<line x1="430.6" y1="459.54" x2="432.6" y2="459.54" stroke="#111" stroke-width="0.9"/>
<line x1="430.6" y1="456.04" x2="432.6" y2="456.04" stroke="#111" stroke-width="0.9"/>
<line x1="430.6" y1="449.03" x2="432.6" y2="449.03" stroke="#111" stroke-width="0.9"/>
<line x1="430.6" y1="445.53" x2="432.6" y2="445.53" stroke="#111" stroke-width="0.9"/>
<line x1="430.6" y1="442.02" x2="432.6" y2="442.02" stroke="#111" stroke-width="0.9"/>
<line x1="430.6" y1="438.52" x2="432.6" y2="438.52" stroke="#111" stroke-width="0.9"/>
<line x1="430.6" y1="435.02" x2="432.6" y2="435.02" stroke="#111" stroke-width="0.9"/>
<line x1="430.6" y1="431.51" x2="432.6" y2="431.51" stroke="#111" stroke-width="0.9"/>
<line x1="430.6" y1="428.01" x2="432.6" y2="428.01" stroke="#111" stroke-width="0.9"/>
<line x1="430.6" y1="424.51" x2="432.6" y2="424.51" stroke="#111" stroke-width="0.9"/>
<line x1="430.6" y1="421" x2="432.6" y2="421" stroke="#111" stroke-width="0.9"/>
<line x1="429.3" y1="522.6" x2="432.6" y2="522.6" stroke="#111" stroke-width="1.0"/>
<text x="426.6" y="525.6" font-size="8.4" text-anchor="end" font-weight="normal" fill="#222" >0</text>
<line x1="429.3" y1="487.57" x2="432.6" y2="487.57" stroke="#111" stroke-width="1.0"/>
<text x="426.6" y="490.57" font-size="8.4" text-anchor="end" font-weight="normal" fill="#222" >10</text>
<line x1="429.3" y1="452.53" x2="432.6" y2="452.53" stroke="#111" stroke-width="1.0"/>
<text x="426.6" y="455.53" font-size="8.4" text-anchor="end" font-weight="normal" fill="#222" >20</text>
<line x1="429.3" y1="417.5" x2="432.6" y2="417.5" stroke="#111" stroke-width="1.0"/>
<text x="426.6" y="420.5" font-size="8.4" text-anchor="end" font-weight="normal" fill="#222" >30</text>
<line x1="430.6" y1="522.6" x2="512.5" y2="522.6" stroke="#111" stroke-width="1.3"/>
<line x1="455.5" y1="522.6" x2="455.5" y2="525.3" stroke="#111" stroke-width="1.0"/>
<line x1="490.5" y1="522.6" x2="490.5" y2="525.3" stroke="#111" stroke-width="1.0"/>
<text x="455.5" y="534.8" font-size="8.6" text-anchor="middle" fill="#222">LAG3<tspan dy="-3.3" font-size="5.5">−</tspan></text>
<text x="455.5" y="544.5" font-size="8.6" text-anchor="middle" fill="#222">TIM3<tspan dy="-3.3" font-size="5.5">−</tspan></text>
<text x="490.5" y="534.8" font-size="8.6" text-anchor="middle" fill="#222">LAG3<tspan dy="-3.3" font-size="5.5">+</tspan></text>
<text x="490.5" y="544.5" font-size="8.6" text-anchor="middle" fill="#222">TIM3<tspan dy="-3.3" font-size="5.5">+</tspan></text>
<text transform="translate(409.5,470.6) rotate(-90) scale(0.711,1)" x="0" y="0" font-size="10.0" text-anchor="middle" fill="#222" >% TNF<tspan dy="-3.6" font-size="8.5">+</tspan><tspan dy="4"> IFNγ</tspan><tspan dy="-3.6" font-size="8.5">+</tspan></text>
<text x="472.6" y="433" font-size="8.3" text-anchor="middle" font-weight="normal" fill="#222" textLength="23.7" lengthAdjust="spacingAndGlyphs" >0.0111</text>
<path d="M455.5 437.5 V435.8 H490.5 V477.5" fill="none" stroke="#2a2a2a" stroke-width="1.1"/>
<circle cx="455.6" cy="439.3" r="1.72" fill="#c80c2c"/>
<circle cx="455.6" cy="461.3" r="1.72" fill="#c80c2c"/>
<circle cx="455.6" cy="473.8" r="1.72" fill="#c80c2c"/>
<circle cx="452.2" cy="476.9" r="1.72" fill="#c80c2c"/>
<circle cx="458.9" cy="479.5" r="1.72" fill="#c80c2c"/>
<circle cx="452.2" cy="482.2" r="1.72" fill="#c80c2c"/>
<circle cx="455.6" cy="493.9" r="1.72" fill="#c80c2c"/>
<circle cx="455.6" cy="497.6" r="1.72" fill="#c80c2c"/>
<line x1="444" y1="478.3" x2="466.8" y2="478.3" stroke="#222" stroke-width="1.2"/>
<circle cx="486.3" cy="482.5" r="1.72" fill="#0b4a8e"/>
<circle cx="493.3" cy="480" r="1.72" fill="#0b4a8e"/>
<circle cx="490" cy="486.8" r="1.72" fill="#0b4a8e"/>
<circle cx="486.3" cy="504.5" r="1.72" fill="#0b4a8e"/>
<circle cx="493.3" cy="504.5" r="1.72" fill="#0b4a8e"/>
<circle cx="490" cy="510" r="1.72" fill="#0b4a8e"/>
<circle cx="490" cy="513.8" r="1.72" fill="#0b4a8e"/>
<circle cx="490" cy="517" r="1.72" fill="#0b4a8e"/>
<line x1="478.8" y1="505" x2="501.3" y2="505" stroke="#222" stroke-width="1.2"/>
<path fill="#2744ac" d="M130 72h1v1h-1zM146 73h1v1h-1zM128 74h1v1h-1zM96 76h1v1h-1zM120 76h1v1h-1zM132 76h1v1h-1zM94 77h1v1h-1zM122 77h1v1h-1zM136 77h1v1h-1zM145 77h1v1h-1zM101 78h1v1h-1zM106 78h2v1h-2zM109 78h1v1h-1zM112 78h1v1h-1zM117 78h2v1h-2zM120 78h1v1h-1zM123 78h2v1h-2zM132 78h1v1h-1zM134 78h2v1h-2zM139 78h1v1h-1zM142 78h1v1h-1zM144 78h1v1h-1zM149 78h1v1h-1zM98 79h1v1h-1zM109 79h2v1h-2zM112 79h1v1h-1zM114 79h1v1h-1zM118 79h3v1h-3zM124 79h1v1h-1zM127 79h1v1h-1zM132 79h2v1h-2zM136 79h1v1h-1zM139 79h1v1h-1zM143 79h1v1h-1zM150 79h1v1h-1zM96 80h1v1h-1zM98 80h1v1h-1zM102 80h1v1h-1zM105 80h2v1h-2zM110 80h1v1h-1zM113 80h1v1h-1zM118 80h1v1h-1zM120 80h7v1h-7zM128 80h1v1h-1zM131 80h1v1h-1zM133 80h1v1h-1zM135 80h4v1h-4zM140 80h1v1h-1zM153 80h1v1h-1zM57 81h1v1h-1zM93 81h1v1h-1zM95 81h1v1h-1zM97 81h2v1h-2zM101 81h2v1h-2zM105 81h1v1h-1zM107 81h1v1h-1zM109 81h1v1h-1zM111 81h1v1h-1zM113 81h2v1h-2zM118 81h1v1h-1zM137 81h3v1h-3zM141 81h1v1h-1zM143 81h5v1h-5zM149 81h3v1h-3zM156 81h1v1h-1zM92 82h1v1h-1zM95 82h1v1h-1zM101 82h3v1h-3zM105 82h1v1h-1zM107 82h5v1h-5zM141 82h5v1h-5zM148 82h1v1h-1zM151 82h1v1h-1zM154 82h1v1h-1zM82 83h1v1h-1zM94 83h2v1h-2zM101 83h2v1h-2zM104 83h3v1h-3zM108 83h1v1h-1zM144 83h2v1h-2zM147 83h1v1h-1zM150 83h4v1h-4zM79 84h1v1h-1zM85 84h1v1h-1zM90 84h2v1h-2zM97 84h1v1h-1zM100 84h2v1h-2zM104 84h3v1h-3zM147 84h3v1h-3zM151 84h4v1h-4zM55 85h1v1h-1zM86 85h1v1h-1zM92 85h1v1h-1zM94 85h2v1h-2zM97 85h9v1h-9zM150 85h6v1h-6zM85 86h1v1h-1zM89 86h2v1h-2zM95 86h5v1h-5zM150 86h2v1h-2zM153 86h2v1h-2zM61 87h1v1h-1zM88 87h1v1h-1zM90 87h1v1h-1zM92 87h1v1h-1zM95 87h2v1h-2zM98 87h1v1h-1zM151 87h2v1h-2zM155 87h2v1h-2zM44 88h1v1h-1zM51 88h1v1h-1zM56 88h1v1h-1zM66 88h1v1h-1zM76 88h1v1h-1zM81 88h2v1h-2zM84 88h1v1h-1zM86 88h1v1h-1zM89 88h1v1h-1zM93 88h1v1h-1zM95 88h3v1h-3zM153 88h2v1h-2zM156 88h1v1h-1zM54 89h1v1h-1zM57 89h2v1h-2zM61 89h1v1h-1zM63 89h1v1h-1zM87 89h2v1h-2zM91 89h3v1h-3zM95 89h2v1h-2zM152 89h4v1h-4zM59 90h1v1h-1zM61 90h1v1h-1zM66 90h1v1h-1zM87 90h6v1h-6zM94 90h3v1h-3zM98 90h1v1h-1zM156 90h1v1h-1zM51 91h1v1h-1zM54 91h1v1h-1zM56 91h1v1h-1zM60 91h4v1h-4zM75 91h1v1h-1zM88 91h1v1h-1zM90 91h1v1h-1zM92 91h6v1h-6zM153 91h4v1h-4zM52 92h1v1h-1zM54 92h2v1h-2zM58 92h1v1h-1zM61 92h2v1h-2zM69 92h1v1h-1zM89 92h2v1h-2zM92 92h4v1h-4zM97 92h2v1h-2zM154 92h2v1h-2zM46 93h1v1h-1zM50 93h3v1h-3zM54 93h1v1h-1zM56 93h8v1h-8zM66 93h1v1h-1zM93 93h6v1h-6zM154 93h2v1h-2zM48 94h1v1h-1zM50 94h1v1h-1zM53 94h1v1h-1zM55 94h7v1h-7zM63 94h2v1h-2zM85 94h2v1h-2zM91 94h1v1h-1zM93 94h5v1h-5zM154 94h1v1h-1zM156 94h1v1h-1zM50 95h5v1h-5zM56 95h1v1h-1zM58 95h5v1h-5zM72 95h1v1h-1zM76 95h1v1h-1zM82 95h1v1h-1zM86 95h1v1h-1zM88 95h2v1h-2zM92 95h3v1h-3zM96 95h2v1h-2zM154 95h2v1h-2zM53 96h6v1h-6zM60 96h1v1h-1zM62 96h5v1h-5zM75 96h1v1h-1zM77 96h2v1h-2zM85 96h1v1h-1zM87 96h3v1h-3zM93 96h5v1h-5zM154 96h3v1h-3zM49 97h3v1h-3zM54 97h4v1h-4zM60 97h3v1h-3zM64 97h4v1h-4zM82 97h1v1h-1zM84 97h2v1h-2zM88 97h1v1h-1zM92 97h2v1h-2zM95 97h1v1h-1zM97 97h1v1h-1zM155 97h2v1h-2zM51 98h1v1h-1zM53 98h13v1h-13zM77 98h1v1h-1zM83 98h1v1h-1zM92 98h3v1h-3zM97 98h2v1h-2zM155 98h1v1h-1zM50 99h2v1h-2zM53 99h1v1h-1zM55 99h9v1h-9zM67 99h1v1h-1zM88 99h1v1h-1zM93 99h4v1h-4zM98 99h1v1h-1zM155 99h2v1h-2zM48 100h1v1h-1zM50 100h1v1h-1zM54 100h4v1h-4zM59 100h1v1h-1zM61 100h1v1h-1zM63 100h1v1h-1zM69 100h1v1h-1zM72 100h1v1h-1zM78 100h1v1h-1zM82 100h1v1h-1zM86 100h2v1h-2zM89 100h1v1h-1zM91 100h3v1h-3zM95 100h6v1h-6zM154 100h1v1h-1zM156 100h1v1h-1zM51 101h1v1h-1zM53 101h3v1h-3zM57 101h1v1h-1zM60 101h1v1h-1zM65 101h1v1h-1zM84 101h1v1h-1zM90 101h1v1h-1zM92 101h10v1h-10zM152 101h5v1h-5zM51 102h7v1h-7zM60 102h4v1h-4zM65 102h1v1h-1zM71 102h1v1h-1zM91 102h1v1h-1zM95 102h7v1h-7zM151 102h2v1h-2zM154 102h1v1h-1zM48 103h1v1h-1zM53 103h5v1h-5zM60 103h3v1h-3zM64 103h1v1h-1zM67 103h1v1h-1zM78 103h1v1h-1zM88 103h1v1h-1zM91 103h1v1h-1zM95 103h1v1h-1zM98 103h6v1h-6zM150 103h2v1h-2zM153 103h3v1h-3zM52 104h1v1h-1zM55 104h2v1h-2zM58 104h6v1h-6zM65 104h4v1h-4zM72 104h1v1h-1zM86 104h1v1h-1zM88 104h1v1h-1zM91 104h6v1h-6zM98 104h6v1h-6zM150 104h2v1h-2zM156 104h1v1h-1zM53 105h1v1h-1zM55 105h6v1h-6zM62 105h3v1h-3zM67 105h1v1h-1zM70 105h2v1h-2zM84 105h2v1h-2zM88 105h1v1h-1zM91 105h1v1h-1zM95 105h2v1h-2zM99 105h2v1h-2zM102 105h2v1h-2zM105 105h1v1h-1zM149 105h1v1h-1zM151 105h5v1h-5zM52 106h1v1h-1zM54 106h1v1h-1zM56 106h2v1h-2zM59 106h4v1h-4zM64 106h1v1h-1zM66 106h2v1h-2zM70 106h1v1h-1zM76 106h1v1h-1zM89 106h1v1h-1zM92 106h1v1h-1zM96 106h3v1h-3zM100 106h3v1h-3zM105 106h1v1h-1zM149 106h8v1h-8zM52 107h1v1h-1zM54 107h2v1h-2zM57 107h1v1h-1zM59 107h3v1h-3zM65 107h1v1h-1zM73 107h2v1h-2zM76 107h1v1h-1zM92 107h2v1h-2zM95 107h1v1h-1zM98 107h8v1h-8zM149 107h5v1h-5zM155 107h1v1h-1zM48 108h1v1h-1zM55 108h1v1h-1zM58 108h2v1h-2zM62 108h1v1h-1zM66 108h2v1h-2zM72 108h2v1h-2zM75 108h1v1h-1zM90 108h1v1h-1zM95 108h1v1h-1zM97 108h2v1h-2zM100 108h1v1h-1zM102 108h2v1h-2zM105 108h3v1h-3zM151 108h2v1h-2zM154 108h3v1h-3zM49 109h1v1h-1zM55 109h2v1h-2zM58 109h6v1h-6zM65 109h2v1h-2zM73 109h1v1h-1zM76 109h2v1h-2zM91 109h2v1h-2zM95 109h1v1h-1zM100 109h8v1h-8zM146 109h8v1h-8zM50 110h1v1h-1zM52 110h1v1h-1zM54 110h2v1h-2zM58 110h1v1h-1zM60 110h2v1h-2zM63 110h5v1h-5zM70 110h1v1h-1zM76 110h1v1h-1zM79 110h1v1h-1zM84 110h1v1h-1zM91 110h1v1h-1zM93 110h5v1h-5zM99 110h3v1h-3zM103 110h1v1h-1zM105 110h4v1h-4zM144 110h1v1h-1zM146 110h2v1h-2zM149 110h2v1h-2zM153 110h2v1h-2zM52 111h1v1h-1zM55 111h2v1h-2zM59 111h5v1h-5zM65 111h3v1h-3zM72 111h1v1h-1zM76 111h1v1h-1zM84 111h1v1h-1zM99 111h4v1h-4zM104 111h3v1h-3zM108 111h2v1h-2zM144 111h3v1h-3zM148 111h2v1h-2zM152 111h2v1h-2zM51 112h1v1h-1zM53 112h1v1h-1zM55 112h1v1h-1zM57 112h1v1h-1zM60 112h3v1h-3zM66 112h1v1h-1zM72 112h1v1h-1zM76 112h1v1h-1zM78 112h2v1h-2zM81 112h1v1h-1zM90 112h1v1h-1zM98 112h3v1h-3zM104 112h6v1h-6zM142 112h3v1h-3zM146 112h3v1h-3zM150 112h3v1h-3zM48 113h1v1h-1zM50 113h4v1h-4zM55 113h1v1h-1zM57 113h5v1h-5zM63 113h1v1h-1zM65 113h4v1h-4zM72 113h2v1h-2zM77 113h1v1h-1zM80 113h1v1h-1zM84 113h1v1h-1zM94 113h1v1h-1zM98 113h1v1h-1zM103 113h2v1h-2zM106 113h3v1h-3zM110 113h1v1h-1zM142 113h4v1h-4zM148 113h2v1h-2zM151 113h1v1h-1zM156 113h1v1h-1zM51 114h1v1h-1zM53 114h1v1h-1zM55 114h1v1h-1zM58 114h17v1h-17zM76 114h2v1h-2zM80 114h1v1h-1zM85 114h1v1h-1zM93 114h2v1h-2zM99 114h1v1h-1zM101 114h1v1h-1zM103 114h1v1h-1zM105 114h2v1h-2zM109 114h3v1h-3zM142 114h7v1h-7zM50 115h1v1h-1zM52 115h3v1h-3zM56 115h6v1h-6zM63 115h5v1h-5zM69 115h1v1h-1zM72 115h2v1h-2zM80 115h1v1h-1zM90 115h1v1h-1zM101 115h1v1h-1zM106 115h4v1h-4zM111 115h2v1h-2zM141 115h4v1h-4zM146 115h5v1h-5zM154 115h1v1h-1zM49 116h6v1h-6zM56 116h1v1h-1zM58 116h6v1h-6zM66 116h1v1h-1zM68 116h1v1h-1zM70 116h2v1h-2zM78 116h1v1h-1zM80 116h1v1h-1zM91 116h1v1h-1zM96 116h2v1h-2zM106 116h2v1h-2zM109 116h1v1h-1zM111 116h4v1h-4zM140 116h2v1h-2zM143 116h1v1h-1zM145 116h1v1h-1zM147 116h4v1h-4zM152 116h1v1h-1zM154 116h2v1h-2zM46 117h2v1h-2zM53 117h1v1h-1zM55 117h1v1h-1zM57 117h3v1h-3zM70 117h4v1h-4zM75 117h1v1h-1zM79 117h2v1h-2zM84 117h3v1h-3zM88 117h1v1h-1zM109 117h2v1h-2zM113 117h1v1h-1zM139 117h1v1h-1zM141 117h2v1h-2zM145 117h2v1h-2zM148 117h4v1h-4zM153 117h2v1h-2zM43 118h1v1h-1zM46 118h1v1h-1zM50 118h9v1h-9zM72 118h6v1h-6zM81 118h2v1h-2zM84 118h2v1h-2zM92 118h1v1h-1zM96 118h1v1h-1zM100 118h1v1h-1zM104 118h6v1h-6zM111 118h2v1h-2zM114 118h2v1h-2zM138 118h3v1h-3zM142 118h4v1h-4zM148 118h2v1h-2zM151 118h1v1h-1zM49 119h1v1h-1zM53 119h1v1h-1zM55 119h2v1h-2zM72 119h2v1h-2zM75 119h2v1h-2zM78 119h1v1h-1zM81 119h1v1h-1zM85 119h1v1h-1zM89 119h1v1h-1zM96 119h1v1h-1zM100 119h4v1h-4zM106 119h1v1h-1zM108 119h2v1h-2zM111 119h1v1h-1zM113 119h3v1h-3zM138 119h1v1h-1zM141 119h4v1h-4zM146 119h1v1h-1zM148 119h1v1h-1zM45 120h1v1h-1zM50 120h1v1h-1zM52 120h4v1h-4zM72 120h2v1h-2zM77 120h2v1h-2zM106 120h4v1h-4zM111 120h2v1h-2zM114 120h3v1h-3zM138 120h3v1h-3zM144 120h3v1h-3zM154 120h1v1h-1zM44 121h1v1h-1zM47 121h1v1h-1zM50 121h1v1h-1zM52 121h2v1h-2zM73 121h3v1h-3zM77 121h1v1h-1zM81 121h1v1h-1zM83 121h1v1h-1zM85 121h1v1h-1zM90 121h1v1h-1zM94 121h1v1h-1zM105 121h1v1h-1zM112 121h2v1h-2zM115 121h3v1h-3zM138 121h2v1h-2zM143 121h1v1h-1zM145 121h2v1h-2zM154 121h1v1h-1zM45 122h1v1h-1zM49 122h1v1h-1zM51 122h2v1h-2zM74 122h5v1h-5zM82 122h1v1h-1zM85 122h1v1h-1zM95 122h1v1h-1zM103 122h1v1h-1zM106 122h1v1h-1zM109 122h5v1h-5zM115 122h4v1h-4zM134 122h1v1h-1zM137 122h2v1h-2zM140 122h1v1h-1zM142 122h3v1h-3zM146 122h2v1h-2zM46 123h1v1h-1zM50 123h2v1h-2zM75 123h5v1h-5zM84 123h1v1h-1zM109 123h1v1h-1zM111 123h1v1h-1zM113 123h3v1h-3zM117 123h1v1h-1zM132 123h1v1h-1zM134 123h5v1h-5zM140 123h1v1h-1zM142 123h1v1h-1zM144 123h1v1h-1zM147 123h2v1h-2zM50 124h1v1h-1zM78 124h1v1h-1zM83 124h2v1h-2zM103 124h1v1h-1zM110 124h1v1h-1zM113 124h3v1h-3zM118 124h2v1h-2zM131 124h5v1h-5zM137 124h1v1h-1zM140 124h4v1h-4zM145 124h1v1h-1zM147 124h1v1h-1zM150 124h1v1h-1zM153 124h2v1h-2zM45 125h1v1h-1zM47 125h1v1h-1zM49 125h2v1h-2zM76 125h1v1h-1zM78 125h4v1h-4zM83 125h2v1h-2zM94 125h2v1h-2zM99 125h1v1h-1zM103 125h2v1h-2zM109 125h2v1h-2zM112 125h2v1h-2zM115 125h6v1h-6zM131 125h1v1h-1zM134 125h7v1h-7zM142 125h1v1h-1zM148 125h1v1h-1zM39 126h1v1h-1zM46 126h1v1h-1zM48 126h2v1h-2zM76 126h1v1h-1zM78 126h4v1h-4zM84 126h2v1h-2zM88 126h2v1h-2zM96 126h1v1h-1zM100 126h1v1h-1zM106 126h1v1h-1zM111 126h3v1h-3zM115 126h7v1h-7zM130 126h1v1h-1zM132 126h3v1h-3zM136 126h7v1h-7zM144 126h3v1h-3zM149 126h1v1h-1zM48 127h2v1h-2zM77 127h4v1h-4zM82 127h1v1h-1zM91 127h1v1h-1zM107 127h2v1h-2zM113 127h1v1h-1zM118 127h18v1h-18zM137 127h6v1h-6zM144 127h1v1h-1zM146 127h1v1h-1zM151 127h1v1h-1zM46 128h2v1h-2zM49 128h1v1h-1zM78 128h4v1h-4zM84 128h2v1h-2zM92 128h1v1h-1zM110 128h3v1h-3zM114 128h2v1h-2zM117 128h7v1h-7zM125 128h2v1h-2zM128 128h6v1h-6zM135 128h3v1h-3zM139 128h2v1h-2zM145 128h1v1h-1zM148 128h1v1h-1zM45 129h2v1h-2zM48 129h1v1h-1zM79 129h1v1h-1zM82 129h2v1h-2zM92 129h1v1h-1zM98 129h1v1h-1zM102 129h1v1h-1zM104 129h1v1h-1zM112 129h10v1h-10zM124 129h2v1h-2zM127 129h4v1h-4zM132 129h5v1h-5zM143 129h2v1h-2zM153 129h1v1h-1zM43 130h1v1h-1zM45 130h3v1h-3zM77 130h1v1h-1zM79 130h4v1h-4zM84 130h1v1h-1zM86 130h2v1h-2zM98 130h1v1h-1zM101 130h1v1h-1zM107 130h1v1h-1zM112 130h1v1h-1zM114 130h5v1h-5zM120 130h3v1h-3zM124 130h5v1h-5zM130 130h6v1h-6zM137 130h1v1h-1zM139 130h2v1h-2zM142 130h1v1h-1zM148 130h1v1h-1zM45 131h3v1h-3zM77 131h6v1h-6zM86 131h1v1h-1zM88 131h1v1h-1zM91 131h1v1h-1zM95 131h1v1h-1zM98 131h1v1h-1zM107 131h1v1h-1zM114 131h3v1h-3zM121 131h3v1h-3zM125 131h4v1h-4zM130 131h5v1h-5zM137 131h2v1h-2zM141 131h1v1h-1zM147 131h1v1h-1zM44 132h1v1h-1zM47 132h2v1h-2zM78 132h2v1h-2zM81 132h4v1h-4zM87 132h1v1h-1zM90 132h1v1h-1zM97 132h1v1h-1zM99 132h1v1h-1zM101 132h1v1h-1zM114 132h2v1h-2zM117 132h1v1h-1zM119 132h2v1h-2zM122 132h1v1h-1zM124 132h3v1h-3zM132 132h1v1h-1zM134 132h6v1h-6zM141 132h1v1h-1zM149 132h1v1h-1zM46 133h3v1h-3zM78 133h2v1h-2zM81 133h2v1h-2zM95 133h1v1h-1zM105 133h1v1h-1zM107 133h1v1h-1zM111 133h1v1h-1zM116 133h3v1h-3zM121 133h2v1h-2zM126 133h1v1h-1zM128 133h2v1h-2zM133 133h1v1h-1zM135 133h4v1h-4zM148 133h1v1h-1zM47 134h2v1h-2zM78 134h2v1h-2zM81 134h1v1h-1zM83 134h3v1h-3zM102 134h1v1h-1zM108 134h1v1h-1zM110 134h1v1h-1zM112 134h2v1h-2zM115 134h1v1h-1zM120 134h1v1h-1zM122 134h1v1h-1zM124 134h2v1h-2zM128 134h1v1h-1zM132 134h1v1h-1zM135 134h1v1h-1zM137 134h1v1h-1zM139 134h1v1h-1zM141 134h3v1h-3zM146 134h2v1h-2zM149 134h1v1h-1zM45 135h1v1h-1zM48 135h1v1h-1zM78 135h6v1h-6zM87 135h1v1h-1zM95 135h1v1h-1zM102 135h1v1h-1zM109 135h1v1h-1zM115 135h2v1h-2zM119 135h1v1h-1zM124 135h5v1h-5zM131 135h2v1h-2zM134 135h1v1h-1zM137 135h1v1h-1zM140 135h1v1h-1zM144 135h1v1h-1zM42 136h1v1h-1zM47 136h1v1h-1zM78 136h7v1h-7zM86 136h1v1h-1zM90 136h1v1h-1zM110 136h1v1h-1zM112 136h1v1h-1zM121 136h2v1h-2zM124 136h1v1h-1zM126 136h1v1h-1zM132 136h2v1h-2zM136 136h4v1h-4zM145 136h1v1h-1zM40 137h1v1h-1zM43 137h1v1h-1zM48 137h1v1h-1zM78 137h5v1h-5zM84 137h2v1h-2zM88 137h1v1h-1zM109 137h1v1h-1zM111 137h2v1h-2zM119 137h1v1h-1zM121 137h1v1h-1zM123 137h2v1h-2zM127 137h1v1h-1zM129 137h5v1h-5zM137 137h3v1h-3zM44 138h1v1h-1zM47 138h3v1h-3zM77 138h1v1h-1zM79 138h4v1h-4zM84 138h1v1h-1zM87 138h2v1h-2zM111 138h1v1h-1zM114 138h1v1h-1zM118 138h1v1h-1zM120 138h1v1h-1zM122 138h1v1h-1zM124 138h3v1h-3zM128 138h1v1h-1zM131 138h2v1h-2zM139 138h1v1h-1zM142 138h1v1h-1zM44 139h1v1h-1zM46 139h1v1h-1zM49 139h1v1h-1zM77 139h4v1h-4zM82 139h2v1h-2zM88 139h2v1h-2zM94 139h1v1h-1zM112 139h1v1h-1zM114 139h1v1h-1zM116 139h1v1h-1zM118 139h3v1h-3zM123 139h2v1h-2zM131 139h2v1h-2zM138 139h1v1h-1zM142 139h1v1h-1zM45 140h1v1h-1zM47 140h1v1h-1zM49 140h1v1h-1zM76 140h4v1h-4zM96 140h1v1h-1zM125 140h2v1h-2zM128 140h1v1h-1zM130 140h2v1h-2zM133 140h1v1h-1zM137 140h1v1h-1zM139 140h4v1h-4zM42 141h1v1h-1zM47 141h4v1h-4zM76 141h6v1h-6zM83 141h1v1h-1zM87 141h1v1h-1zM93 141h2v1h-2zM118 141h1v1h-1zM121 141h1v1h-1zM124 141h2v1h-2zM132 141h2v1h-2zM46 142h1v1h-1zM48 142h2v1h-2zM75 142h4v1h-4zM80 142h1v1h-1zM82 142h1v1h-1zM92 142h1v1h-1zM95 142h1v1h-1zM108 142h1v1h-1zM112 142h2v1h-2zM120 142h2v1h-2zM135 142h1v1h-1zM155 142h1v1h-1zM49 143h3v1h-3zM75 143h2v1h-2zM78 143h7v1h-7zM104 143h1v1h-1zM119 143h1v1h-1zM122 143h2v1h-2zM125 143h2v1h-2zM128 143h1v1h-1zM131 143h2v1h-2zM134 143h1v1h-1zM143 143h1v1h-1zM50 144h3v1h-3zM73 144h4v1h-4zM78 144h4v1h-4zM83 144h1v1h-1zM85 144h1v1h-1zM87 144h1v1h-1zM92 144h1v1h-1zM103 144h1v1h-1zM130 144h2v1h-2zM133 144h2v1h-2zM138 144h1v1h-1zM49 145h4v1h-4zM72 145h2v1h-2zM75 145h2v1h-2zM78 145h2v1h-2zM87 145h1v1h-1zM133 145h2v1h-2zM48 146h1v1h-1zM51 146h3v1h-3zM71 146h3v1h-3zM76 146h1v1h-1zM78 146h1v1h-1zM98 146h1v1h-1zM131 146h2v1h-2zM136 146h1v1h-1zM52 147h4v1h-4zM72 147h2v1h-2zM75 147h1v1h-1zM77 147h1v1h-1zM81 147h1v1h-1zM93 147h1v1h-1zM114 147h1v1h-1zM126 147h2v1h-2zM140 147h1v1h-1zM47 148h4v1h-4zM52 148h1v1h-1zM54 148h5v1h-5zM69 148h2v1h-2zM72 148h2v1h-2zM76 148h3v1h-3zM80 148h1v1h-1zM111 148h1v1h-1zM128 148h1v1h-1zM132 148h1v1h-1zM140 148h1v1h-1zM49 149h1v1h-1zM51 149h1v1h-1zM53 149h16v1h-16zM70 149h4v1h-4zM76 149h1v1h-1zM80 149h2v1h-2zM88 149h1v1h-1zM92 149h1v1h-1zM135 149h1v1h-1zM45 150h1v1h-1zM51 150h4v1h-4zM57 150h2v1h-2zM60 150h1v1h-1zM62 150h2v1h-2zM65 150h1v1h-1zM67 150h1v1h-1zM69 150h2v1h-2zM72 150h1v1h-1zM74 150h2v1h-2zM78 150h1v1h-1zM127 150h1v1h-1zM139 150h1v1h-1zM51 151h1v1h-1zM53 151h1v1h-1zM55 151h2v1h-2zM58 151h2v1h-2zM61 151h1v1h-1zM63 151h1v1h-1zM65 151h1v1h-1zM68 151h6v1h-6zM81 151h1v1h-1zM83 151h1v1h-1zM115 151h1v1h-1zM119 151h1v1h-1zM132 151h1v1h-1zM54 152h4v1h-4zM59 152h4v1h-4zM66 152h1v1h-1zM72 152h1v1h-1zM77 152h1v1h-1zM117 152h1v1h-1zM120 152h1v1h-1z"/>
<path fill="#2856c0" d="M119 81h4v1h-4zM124 81h7v1h-7zM132 81h1v1h-1zM134 81h2v1h-2zM115 82h8v1h-8zM127 82h14v1h-14zM109 83h8v1h-8zM137 83h5v1h-5zM108 84h5v1h-5zM140 84h6v1h-6zM106 85h5v1h-5zM142 85h7v1h-7zM100 86h9v1h-9zM143 86h7v1h-7zM99 87h9v1h-9zM147 87h2v1h-2zM150 87h1v1h-1zM98 88h9v1h-9zM148 88h4v1h-4zM98 89h8v1h-8zM148 89h4v1h-4zM99 90h7v1h-7zM149 90h4v1h-4zM99 91h6v1h-6zM149 91h4v1h-4zM99 92h6v1h-6zM149 92h5v1h-5zM99 93h6v1h-6zM149 93h5v1h-5zM98 94h6v1h-6zM150 94h4v1h-4zM98 95h7v1h-7zM150 95h4v1h-4zM98 96h7v1h-7zM149 96h4v1h-4zM98 97h4v1h-4zM103 97h2v1h-2zM149 97h6v1h-6zM99 98h6v1h-6zM148 98h7v1h-7zM99 99h7v1h-7zM147 99h8v1h-8zM58 100h1v1h-1zM101 100h5v1h-5zM146 100h8v1h-8zM59 101h1v1h-1zM102 101h6v1h-6zM146 101h5v1h-5zM58 102h2v1h-2zM103 102h7v1h-7zM145 102h6v1h-6zM58 103h2v1h-2zM104 103h7v1h-7zM143 103h7v1h-7zM105 104h7v1h-7zM142 104h7v1h-7zM106 105h8v1h-8zM140 105h9v1h-9zM106 106h8v1h-8zM138 106h11v1h-11zM107 107h2v1h-2zM110 107h3v1h-3zM138 107h11v1h-11zM108 108h7v1h-7zM139 108h10v1h-10zM108 109h9v1h-9zM138 109h8v1h-8zM109 110h12v1h-12zM138 110h6v1h-6zM110 111h12v1h-12zM133 111h10v1h-10zM110 112h12v1h-12zM132 112h10v1h-10zM111 113h4v1h-4zM116 113h6v1h-6zM132 113h10v1h-10zM113 114h10v1h-10zM132 114h10v1h-10zM115 115h8v1h-8zM132 115h9v1h-9zM64 116h2v1h-2zM115 116h2v1h-2zM118 116h5v1h-5zM131 116h6v1h-6zM138 116h2v1h-2zM60 117h10v1h-10zM115 117h9v1h-9zM127 117h2v1h-2zM130 117h8v1h-8zM59 118h12v1h-12zM116 118h22v1h-22zM57 119h15v1h-15zM116 119h20v1h-20zM137 119h1v1h-1zM56 120h7v1h-7zM64 120h2v1h-2zM67 120h5v1h-5zM117 120h21v1h-21zM54 121h6v1h-6zM68 121h1v1h-1zM70 121h3v1h-3zM119 121h6v1h-6zM126 121h12v1h-12zM53 122h5v1h-5zM69 122h5v1h-5zM119 122h14v1h-14zM135 122h2v1h-2zM52 123h5v1h-5zM70 123h5v1h-5zM119 123h6v1h-6zM126 123h6v1h-6zM51 124h4v1h-4zM71 124h5v1h-5zM120 124h11v1h-11zM51 125h3v1h-3zM72 125h4v1h-4zM121 125h5v1h-5zM127 125h1v1h-1zM129 125h2v1h-2zM51 126h2v1h-2zM73 126h2v1h-2zM123 126h7v1h-7zM50 127h3v1h-3zM74 127h3v1h-3zM50 128h1v1h-1zM74 128h4v1h-4zM49 129h3v1h-3zM74 129h4v1h-4zM49 130h3v1h-3zM74 130h3v1h-3zM49 131h2v1h-2zM74 131h3v1h-3zM49 132h2v1h-2zM74 132h4v1h-4zM49 133h2v1h-2zM75 133h3v1h-3zM49 134h2v1h-2zM75 134h3v1h-3zM49 135h2v1h-2zM75 135h3v1h-3zM49 136h3v1h-3zM74 136h4v1h-4zM49 137h3v1h-3zM74 137h4v1h-4zM50 138h2v1h-2zM74 138h2v1h-2zM50 139h2v1h-2zM73 139h4v1h-4zM50 140h3v1h-3zM73 140h3v1h-3zM51 141h2v1h-2zM72 141h4v1h-4zM51 142h3v1h-3zM72 142h3v1h-3zM52 143h3v1h-3zM71 143h4v1h-4zM53 144h1v1h-1zM55 144h1v1h-1zM70 144h3v1h-3zM53 145h5v1h-5zM69 145h3v1h-3zM54 146h6v1h-6zM66 146h5v1h-5zM56 147h6v1h-6zM63 147h8v1h-8zM59 148h10v1h-10z"/>
<path fill="#2a66cc" d="M123 82h4v1h-4zM117 83h20v1h-20zM113 84h5v1h-5zM134 84h6v1h-6zM111 85h4v1h-4zM137 85h5v1h-5zM109 86h4v1h-4zM140 86h3v1h-3zM108 87h3v1h-3zM141 87h6v1h-6zM107 88h3v1h-3zM143 88h5v1h-5zM107 89h2v1h-2zM144 89h4v1h-4zM106 90h3v1h-3zM144 90h5v1h-5zM105 91h3v1h-3zM145 91h4v1h-4zM105 92h3v1h-3zM145 92h4v1h-4zM105 93h2v1h-2zM144 93h5v1h-5zM104 94h3v1h-3zM144 94h6v1h-6zM105 95h3v1h-3zM144 95h6v1h-6zM105 96h3v1h-3zM144 96h5v1h-5zM105 97h4v1h-4zM144 97h5v1h-5zM105 98h5v1h-5zM143 98h5v1h-5zM106 99h5v1h-5zM142 99h5v1h-5zM106 100h6v1h-6zM141 100h5v1h-5zM108 101h5v1h-5zM140 101h6v1h-6zM110 102h4v1h-4zM139 102h6v1h-6zM111 103h5v1h-5zM135 103h8v1h-8zM112 104h5v1h-5zM134 104h8v1h-8zM114 105h6v1h-6zM133 105h7v1h-7zM114 106h9v1h-9zM127 106h11v1h-11zM115 107h23v1h-23zM115 108h23v1h-23zM117 109h21v1h-21zM121 110h17v1h-17zM122 111h11v1h-11zM122 112h10v1h-10zM122 113h10v1h-10zM123 114h9v1h-9zM123 115h9v1h-9zM123 116h8v1h-8zM124 117h3v1h-3zM129 117h1v1h-1zM60 121h8v1h-8zM58 122h10v1h-10zM57 123h4v1h-4zM66 123h4v1h-4zM55 124h5v1h-5zM67 124h4v1h-4zM54 125h4v1h-4zM69 125h3v1h-3zM53 126h3v1h-3zM70 126h3v1h-3zM53 127h2v1h-2zM70 127h3v1h-3zM52 128h2v1h-2zM71 128h3v1h-3zM52 129h2v1h-2zM72 129h2v1h-2zM52 130h1v1h-1zM72 130h2v1h-2zM51 131h2v1h-2zM72 131h2v1h-2zM51 132h2v1h-2zM73 132h1v1h-1zM51 133h1v1h-1zM73 133h2v1h-2zM51 134h2v1h-2zM73 134h2v1h-2zM51 135h2v1h-2zM73 135h2v1h-2zM52 136h1v1h-1zM72 136h2v1h-2zM52 137h2v1h-2zM72 137h2v1h-2zM52 138h2v1h-2zM72 138h2v1h-2zM52 139h2v1h-2zM71 139h2v1h-2zM53 140h2v1h-2zM71 140h2v1h-2zM53 141h3v1h-3zM70 141h2v1h-2zM54 142h3v1h-3zM69 142h3v1h-3zM55 143h3v1h-3zM69 143h2v1h-2zM56 144h4v1h-4zM67 144h3v1h-3zM58 145h11v1h-11zM60 146h6v1h-6z"/>
<path fill="#2f8edc" d="M118 84h6v1h-6zM128 84h6v1h-6zM115 85h3v1h-3zM134 85h3v1h-3zM113 86h2v1h-2zM137 86h3v1h-3zM111 87h2v1h-2zM139 87h2v1h-2zM110 88h2v1h-2zM141 88h2v1h-2zM109 89h2v1h-2zM142 89h2v1h-2zM109 90h1v1h-1zM143 90h1v1h-1zM108 91h2v1h-2zM143 91h2v1h-2zM108 92h1v1h-1zM143 92h2v1h-2zM107 93h2v1h-2zM143 93h1v1h-1zM107 94h2v1h-2zM143 94h1v1h-1zM108 95h1v1h-1zM142 95h2v1h-2zM108 96h2v1h-2zM142 96h2v1h-2zM109 97h2v1h-2zM142 97h2v1h-2zM110 98h2v1h-2zM141 98h2v1h-2zM111 99h2v1h-2zM140 99h2v1h-2zM112 100h2v1h-2zM138 100h3v1h-3zM113 101h3v1h-3zM136 101h4v1h-4zM114 102h5v1h-5zM134 102h5v1h-5zM116 103h5v1h-5zM132 103h3v1h-3zM117 104h6v1h-6zM127 104h7v1h-7zM120 105h13v1h-13zM123 106h4v1h-4zM61 123h5v1h-5zM60 124h2v1h-2zM65 124h2v1h-2zM58 125h2v1h-2zM67 125h2v1h-2zM56 126h2v1h-2zM68 126h2v1h-2zM55 127h2v1h-2zM69 127h1v1h-1zM54 128h2v1h-2zM70 128h1v1h-1zM54 129h1v1h-1zM70 129h2v1h-2zM53 130h1v1h-1zM71 130h1v1h-1zM53 131h1v1h-1zM71 131h1v1h-1zM53 132h1v1h-1zM71 132h2v1h-2zM53 133h1v1h-1zM71 133h2v1h-2zM53 134h1v1h-1zM71 134h2v1h-2zM53 135h1v1h-1zM71 135h2v1h-2zM53 136h1v1h-1zM71 136h1v1h-1zM71 137h1v1h-1zM54 138h1v1h-1zM70 138h2v1h-2zM54 139h1v1h-1zM70 139h1v1h-1zM55 140h1v1h-1zM69 140h2v1h-2zM56 141h1v1h-1zM69 141h1v1h-1zM57 142h1v1h-1zM68 142h1v1h-1zM58 143h3v1h-3zM66 143h3v1h-3zM60 144h7v1h-7z"/>
<path fill="#2fb6e6" d="M124 84h4v1h-4zM118 85h3v1h-3zM131 85h3v1h-3zM115 86h2v1h-2zM135 86h2v1h-2zM113 87h2v1h-2zM137 87h2v1h-2zM112 88h1v1h-1zM139 88h2v1h-2zM111 89h1v1h-1zM141 89h1v1h-1zM110 90h1v1h-1zM142 90h1v1h-1zM110 91h1v1h-1zM142 91h1v1h-1zM109 92h1v1h-1zM142 92h1v1h-1zM109 93h1v1h-1zM142 93h1v1h-1zM109 94h1v1h-1zM142 94h1v1h-1zM109 95h2v1h-2zM141 95h1v1h-1zM110 96h1v1h-1zM141 96h1v1h-1zM111 97h1v1h-1zM140 97h2v1h-2zM112 98h1v1h-1zM139 98h2v1h-2zM113 99h1v1h-1zM138 99h2v1h-2zM114 100h3v1h-3zM136 100h2v1h-2zM116 101h4v1h-4zM133 101h3v1h-3zM119 102h2v1h-2zM131 102h3v1h-3zM121 103h11v1h-11zM123 104h4v1h-4zM62 124h3v1h-3zM60 125h2v1h-2zM65 125h2v1h-2zM58 126h2v1h-2zM66 126h2v1h-2zM57 127h1v1h-1zM67 127h2v1h-2zM56 128h1v1h-1zM68 128h2v1h-2zM55 129h1v1h-1zM69 129h1v1h-1zM54 130h1v1h-1zM70 130h1v1h-1zM54 131h1v1h-1zM70 131h1v1h-1zM54 132h1v1h-1zM70 132h1v1h-1zM54 133h1v1h-1zM54 134h1v1h-1zM54 135h1v1h-1zM70 135h1v1h-1zM54 136h1v1h-1zM70 136h1v1h-1zM54 137h1v1h-1zM70 137h1v1h-1zM55 138h1v1h-1zM69 138h1v1h-1zM55 139h1v1h-1zM69 139h1v1h-1zM56 140h1v1h-1zM68 140h1v1h-1zM57 141h1v1h-1zM67 141h2v1h-2zM58 142h4v1h-4zM66 142h2v1h-2zM61 143h5v1h-5z"/>
<path fill="#4cc39a" d="M121 85h3v1h-3zM129 85h2v1h-2zM117 86h1v1h-1zM133 86h2v1h-2zM115 87h1v1h-1zM136 87h1v1h-1zM113 88h1v1h-1zM138 88h1v1h-1zM112 89h1v1h-1zM139 89h2v1h-2zM111 90h1v1h-1zM141 90h1v1h-1zM141 91h1v1h-1zM110 92h1v1h-1zM141 92h1v1h-1zM110 93h1v1h-1zM141 93h1v1h-1zM110 94h1v1h-1zM141 94h1v1h-1zM111 95h1v1h-1zM140 95h1v1h-1zM111 96h2v1h-2zM140 96h1v1h-1zM112 97h1v1h-1zM139 97h1v1h-1zM113 98h1v1h-1zM138 98h1v1h-1zM114 99h3v1h-3zM136 99h2v1h-2zM117 100h2v1h-2zM134 100h2v1h-2zM120 101h1v1h-1zM131 101h2v1h-2zM121 102h5v1h-5zM128 102h3v1h-3zM62 125h3v1h-3zM60 126h1v1h-1zM65 126h1v1h-1zM58 127h1v1h-1zM66 127h1v1h-1zM57 128h1v1h-1zM67 128h1v1h-1zM56 129h1v1h-1zM68 129h1v1h-1zM55 130h1v1h-1zM69 130h1v1h-1zM55 131h1v1h-1zM69 131h1v1h-1zM70 133h1v1h-1zM70 134h1v1h-1zM69 136h1v1h-1zM55 137h1v1h-1zM69 137h1v1h-1zM56 139h1v1h-1zM68 139h1v1h-1zM57 140h1v1h-1zM67 140h1v1h-1zM58 141h2v1h-2zM66 141h1v1h-1zM62 142h4v1h-4z"/>
<path fill="#6bc24c" d="M124 85h5v1h-5zM118 86h15v1h-15zM116 87h20v1h-20zM114 88h7v1h-7zM131 88h7v1h-7zM113 89h5v1h-5zM133 89h6v1h-6zM112 90h5v1h-5zM134 90h7v1h-7zM111 91h6v1h-6zM135 91h6v1h-6zM111 92h5v1h-5zM136 92h5v1h-5zM111 93h6v1h-6zM136 93h5v1h-5zM111 94h6v1h-6zM135 94h6v1h-6zM112 95h6v1h-6zM135 95h5v1h-5zM113 96h7v1h-7zM133 96h7v1h-7zM113 97h9v1h-9zM131 97h8v1h-8zM114 98h24v1h-24zM117 99h19v1h-19zM119 100h15v1h-15zM121 101h10v1h-10zM126 102h2v1h-2zM61 126h4v1h-4zM59 127h7v1h-7zM58 128h9v1h-9zM57 129h11v1h-11zM56 130h13v1h-13zM56 131h5v1h-5zM65 131h4v1h-4zM55 132h5v1h-5zM66 132h4v1h-4zM55 133h4v1h-4zM66 133h4v1h-4zM55 134h4v1h-4zM66 134h4v1h-4zM55 135h4v1h-4zM66 135h4v1h-4zM55 136h4v1h-4zM65 136h4v1h-4zM56 137h4v1h-4zM64 137h5v1h-5zM56 138h13v1h-13zM57 139h11v1h-11zM58 140h9v1h-9zM60 141h6v1h-6z"/>
<path fill="#e6e02a" d="M121 88h4v1h-4zM127 88h4v1h-4zM118 89h3v1h-3zM131 89h2v1h-2zM117 90h2v1h-2zM133 90h1v1h-1zM117 91h1v1h-1zM134 91h1v1h-1zM116 92h2v1h-2zM134 92h2v1h-2zM117 93h1v1h-1zM134 93h2v1h-2zM117 94h2v1h-2zM134 94h1v1h-1zM118 95h2v1h-2zM133 95h2v1h-2zM120 96h2v1h-2zM130 96h3v1h-3zM122 97h9v1h-9zM61 131h4v1h-4zM60 132h2v1h-2zM64 132h2v1h-2zM59 133h2v1h-2zM64 133h2v1h-2zM59 134h2v1h-2zM64 134h2v1h-2zM59 135h2v1h-2zM63 135h3v1h-3zM59 136h6v1h-6zM60 137h4v1h-4z"/>
<path fill="#f4a024" d="M125 88h2v1h-2zM121 89h3v1h-3zM129 89h2v1h-2zM119 90h1v1h-1zM131 90h2v1h-2zM118 91h1v1h-1zM132 91h2v1h-2zM118 92h1v1h-1zM133 92h1v1h-1zM118 93h2v1h-2zM133 93h1v1h-1zM119 94h2v1h-2zM132 94h2v1h-2zM120 95h2v1h-2zM131 95h2v1h-2zM122 96h8v1h-8zM62 132h2v1h-2zM61 133h3v1h-3zM61 134h3v1h-3zM61 135h2v1h-2z"/>
<path fill="#e42a1c" d="M124 89h5v1h-5zM120 90h11v1h-11zM119 91h13v1h-13zM119 92h14v1h-14zM120 93h13v1h-13zM121 94h11v1h-11zM122 95h9v1h-9z"/>
<rect x="38.8" y="32.6" width="119.6" height="121.8" fill="none" stroke="#111" stroke-width="1.1"/>
<line x1="36" y1="43.6" x2="38.8" y2="43.6" stroke="#111" stroke-width="1.0"/>
<text x="33.2" y="46.5" font-size="7.9" text-anchor="end" fill="#222">10<tspan dy="-2.7" font-size="5.4">5</tspan></text>
<line x1="36" y1="71.6" x2="38.8" y2="71.6" stroke="#111" stroke-width="1.0"/>
<text x="33.2" y="74.5" font-size="7.9" text-anchor="end" fill="#222">10<tspan dy="-2.7" font-size="5.4">4</tspan></text>
<line x1="36" y1="100.2" x2="38.8" y2="100.2" stroke="#111" stroke-width="1.0"/>
<text x="33.2" y="103.1" font-size="7.9" text-anchor="end" fill="#222">10<tspan dy="-2.7" font-size="5.4">3</tspan></text>
<line x1="36" y1="135.8" x2="38.8" y2="135.8" stroke="#111" stroke-width="1.0"/>
<text x="27.5" y="138.8" font-size="8.4" text-anchor="middle" font-weight="normal" fill="#222" >0</text>
<line x1="37" y1="91.59" x2="38.8" y2="91.59" stroke="#111" stroke-width="0.8"/>
<line x1="37" y1="86.55" x2="38.8" y2="86.55" stroke="#111" stroke-width="0.8"/>
<line x1="37" y1="82.98" x2="38.8" y2="82.98" stroke="#111" stroke-width="0.8"/>
<line x1="37" y1="80.21" x2="38.8" y2="80.21" stroke="#111" stroke-width="0.8"/>
<line x1="37" y1="77.94" x2="38.8" y2="77.94" stroke="#111" stroke-width="0.8"/>
<line x1="37" y1="76.03" x2="38.8" y2="76.03" stroke="#111" stroke-width="0.8"/>
<line x1="37" y1="74.37" x2="38.8" y2="74.37" stroke="#111" stroke-width="0.8"/>
<line x1="37" y1="72.91" x2="38.8" y2="72.91" stroke="#111" stroke-width="0.8"/>
<line x1="37" y1="63.17" x2="38.8" y2="63.17" stroke="#111" stroke-width="0.8"/>
<line x1="37" y1="58.24" x2="38.8" y2="58.24" stroke="#111" stroke-width="0.8"/>
<line x1="37" y1="54.74" x2="38.8" y2="54.74" stroke="#111" stroke-width="0.8"/>
<line x1="37" y1="52.03" x2="38.8" y2="52.03" stroke="#111" stroke-width="0.8"/>
<line x1="37" y1="49.81" x2="38.8" y2="49.81" stroke="#111" stroke-width="0.8"/>
<line x1="37" y1="47.94" x2="38.8" y2="47.94" stroke="#111" stroke-width="0.8"/>
<line x1="37" y1="46.31" x2="38.8" y2="46.31" stroke="#111" stroke-width="0.8"/>
<line x1="37" y1="44.88" x2="38.8" y2="44.88" stroke="#111" stroke-width="0.8"/>
<line x1="36.6" y1="129.5" x2="38.8" y2="129.5" stroke="#111" stroke-width="0.9"/>
<line x1="36.6" y1="132.7" x2="38.8" y2="132.7" stroke="#111" stroke-width="0.9"/>
<line x1="36.6" y1="136.4" x2="38.8" y2="136.4" stroke="#111" stroke-width="0.9"/>
<line x1="36.6" y1="137" x2="38.8" y2="137" stroke="#111" stroke-width="0.9"/>
<line x1="36.6" y1="139.6" x2="38.8" y2="139.6" stroke="#111" stroke-width="0.9"/>
<line x1="36.6" y1="143.3" x2="38.8" y2="143.3" stroke="#111" stroke-width="0.9"/>
<line x1="56.8" y1="154.4" x2="56.8" y2="157.2" stroke="#111" stroke-width="1.0"/>
<line x1="90.7" y1="154.4" x2="90.7" y2="157.2" stroke="#111" stroke-width="1.0"/>
<line x1="120" y1="154.4" x2="120" y2="157.2" stroke="#111" stroke-width="1.0"/>
<line x1="147.1" y1="154.4" x2="147.1" y2="157.2" stroke="#111" stroke-width="1.0"/>
<line x1="99.52" y1="154.4" x2="99.52" y2="156.2" stroke="#111" stroke-width="0.8"/>
<line x1="104.68" y1="154.4" x2="104.68" y2="156.2" stroke="#111" stroke-width="0.8"/>
<line x1="108.34" y1="154.4" x2="108.34" y2="156.2" stroke="#111" stroke-width="0.8"/>
<line x1="111.18" y1="154.4" x2="111.18" y2="156.2" stroke="#111" stroke-width="0.8"/>
<line x1="113.5" y1="154.4" x2="113.5" y2="156.2" stroke="#111" stroke-width="0.8"/>
<line x1="115.46" y1="154.4" x2="115.46" y2="156.2" stroke="#111" stroke-width="0.8"/>
<line x1="117.16" y1="154.4" x2="117.16" y2="156.2" stroke="#111" stroke-width="0.8"/>
<line x1="118.66" y1="154.4" x2="118.66" y2="156.2" stroke="#111" stroke-width="0.8"/>
<line x1="128.16" y1="154.4" x2="128.16" y2="156.2" stroke="#111" stroke-width="0.8"/>
<line x1="132.93" y1="154.4" x2="132.93" y2="156.2" stroke="#111" stroke-width="0.8"/>
<line x1="136.32" y1="154.4" x2="136.32" y2="156.2" stroke="#111" stroke-width="0.8"/>
<line x1="138.94" y1="154.4" x2="138.94" y2="156.2" stroke="#111" stroke-width="0.8"/>
<line x1="141.09" y1="154.4" x2="141.09" y2="156.2" stroke="#111" stroke-width="0.8"/>
<line x1="142.9" y1="154.4" x2="142.9" y2="156.2" stroke="#111" stroke-width="0.8"/>
<line x1="144.47" y1="154.4" x2="144.47" y2="156.2" stroke="#111" stroke-width="0.8"/>
<line x1="145.86" y1="154.4" x2="145.86" y2="156.2" stroke="#111" stroke-width="0.8"/>
<line x1="49.6" y1="154.4" x2="49.6" y2="156.6" stroke="#111" stroke-width="0.9"/>
<line x1="52.5" y1="154.4" x2="52.5" y2="156.6" stroke="#111" stroke-width="0.9"/>
<line x1="54.5" y1="154.4" x2="54.5" y2="156.6" stroke="#111" stroke-width="0.9"/>
<line x1="56.8" y1="154.4" x2="56.8" y2="156.6" stroke="#111" stroke-width="0.9"/>
<line x1="59.5" y1="154.4" x2="59.5" y2="156.6" stroke="#111" stroke-width="0.9"/>
<line x1="61.5" y1="154.4" x2="61.5" y2="156.6" stroke="#111" stroke-width="0.9"/>
<line x1="63.6" y1="154.4" x2="63.6" y2="156.6" stroke="#111" stroke-width="0.9"/>
<text x="56.8" y="165.9" font-size="8.4" text-anchor="middle" font-weight="normal" fill="#222" >0</text>
<text x="91.5" y="165.7" font-size="8.2" text-anchor="middle" fill="#222">10<tspan dy="-3.2" font-size="5.5">3</tspan></text>
<text x="120.8" y="165.7" font-size="8.2" text-anchor="middle" fill="#222">10<tspan dy="-3.2" font-size="5.5">4</tspan></text>
<text x="147.9" y="165.7" font-size="8.2" text-anchor="middle" fill="#222">10<tspan dy="-3.2" font-size="5.5">5</tspan></text>
<text x="99.1" y="180" font-size="9.6" text-anchor="middle" font-weight="normal" fill="#222" textLength="46.7" lengthAdjust="spacingAndGlyphs" >Leukemia GFP</text>
<text transform="translate(16.2,93.4) rotate(-90) scale(0.713,1)" x="0" y="0" font-size="10.2" text-anchor="middle" fill="#222" >CD19</text>
<rect x="97.3" y="76.6" width="60.9" height="40.6" fill="none" stroke="#111" stroke-width="1.1"/>
<text x="128" y="71.1" font-size="9.7" text-anchor="middle" font-weight="normal" fill="#222" textLength="26" lengthAdjust="spacingAndGlyphs" >61.9%</text>
<defs><clipPath id="clipC"><rect x="38.8" y="222.6" width="119.8" height="124.29999999999998"/></clipPath></defs>
<g clip-path="url(#clipC)">
<path fill="#3a3a3a" d="M111.96 290.97h0.85v0.85h-0.85zM109.24 304.88h0.85v0.85h-0.85zM81.54 299.63h0.85v0.85h-0.85zM69.73 301.84h0.85v0.85h-0.85zM99.65 307.55h0.85v0.85h-0.85zM85.84 286.5h0.85v0.85h-0.85zM78.4 299.94h0.85v0.85h-0.85zM87.73 298.39h0.85v0.85h-0.85zM75.11 296.81h0.85v0.85h-0.85zM103.02 303.91h0.85v0.85h-0.85zM91.72 291.04h0.85v0.85h-0.85zM79.12 294.28h0.85v0.85h-0.85zM108.85 303.42h0.85v0.85h-0.85zM64.53 299.73h0.85v0.85h-0.85zM120.29 278.52h0.85v0.85h-0.85zM93.14 276.1h0.85v0.85h-0.85zM95.62 299.85h0.85v0.85h-0.85zM95.25 296.39h0.85v0.85h-0.85zM67.28 291.75h0.85v0.85h-0.85zM88.44 306.08h0.85v0.85h-0.85zM64.31 287.97h0.85v0.85h-0.85zM89.65 296.33h0.85v0.85h-0.85zM83.16 295.92h0.85v0.85h-0.85zM103.81 308.86h0.85v0.85h-0.85zM96.55 314h0.85v0.85h-0.85zM120.29 268.17h0.85v0.85h-0.85zM69.99 296.27h0.85v0.85h-0.85zM106.67 330.35h0.85v0.85h-0.85zM101.58 278.72h0.85v0.85h-0.85zM83.23 295.04h0.85v0.85h-0.85zM114.33 306.51h0.85v0.85h-0.85zM116.53 275.98h0.85v0.85h-0.85zM56.14 291.72h0.85v0.85h-0.85zM75.45 303.07h0.85v0.85h-0.85zM101.72 322.43h0.85v0.85h-0.85zM84.99 292.55h0.85v0.85h-0.85zM98.1 334h0.85v0.85h-0.85zM78.54 302.07h0.85v0.85h-0.85zM81.02 302.07h0.85v0.85h-0.85zM55.33 307.97h0.85v0.85h-0.85zM111.29 293.82h0.85v0.85h-0.85zM102.63 311.66h0.85v0.85h-0.85zM53.74 284h0.85v0.85h-0.85zM119.43 288.73h0.85v0.85h-0.85zM106.95 305.46h0.85v0.85h-0.85zM90.28 307.27h0.85v0.85h-0.85zM65.51 292.16h0.85v0.85h-0.85zM73.85 290.46h0.85v0.85h-0.85zM77.37 298.46h0.85v0.85h-0.85zM101.73 283h0.85v0.85h-0.85zM92.73 309.23h0.85v0.85h-0.85zM69.13 292.68h0.85v0.85h-0.85zM98.3 300.75h0.85v0.85h-0.85zM81.16 296.95h0.85v0.85h-0.85zM64.39 292.69h0.85v0.85h-0.85zM97.55 281.16h0.85v0.85h-0.85zM83.36 294.86h0.85v0.85h-0.85zM68.93 296.82h0.85v0.85h-0.85zM111.72 309.13h0.85v0.85h-0.85zM107.3 335.55h0.85v0.85h-0.85zM122.04 278.61h0.85v0.85h-0.85zM92.63 294.28h0.85v0.85h-0.85zM76.46 294.19h0.85v0.85h-0.85zM95.88 277.83h0.85v0.85h-0.85zM100.39 332.49h0.85v0.85h-0.85zM100.8 276.23h0.85v0.85h-0.85zM45.55 339.29h0.85v0.85h-0.85zM51.73 313.07h0.85v0.85h-0.85zM85.86 295.32h0.85v0.85h-0.85zM91.81 292.92h0.85v0.85h-0.85zM51.49 335.09h0.85v0.85h-0.85zM92.05 292.75h0.85v0.85h-0.85zM105.21 322.35h0.85v0.85h-0.85zM100.95 297.77h0.85v0.85h-0.85zM120.48 282.64h0.85v0.85h-0.85zM72.66 294.54h0.85v0.85h-0.85zM99.57 300.19h0.85v0.85h-0.85zM91.5 283.26h0.85v0.85h-0.85zM44.22 309.65h0.85v0.85h-0.85zM49.99 310.57h0.85v0.85h-0.85zM107.87 275.76h0.85v0.85h-0.85zM77.77 299.62h0.85v0.85h-0.85zM79.41 300.76h0.85v0.85h-0.85zM46.97 320.87h0.85v0.85h-0.85zM83.01 305.89h0.85v0.85h-0.85zM113.01 274.44h0.85v0.85h-0.85zM101.74 318.79h0.85v0.85h-0.85zM79.38 295.97h0.85v0.85h-0.85zM91.87 297.04h0.85v0.85h-0.85zM108.18 319.14h0.85v0.85h-0.85zM94.04 295.07h0.85v0.85h-0.85zM104.54 319.28h0.85v0.85h-0.85zM100.28 279.38h0.85v0.85h-0.85zM103.84 330.29h0.85v0.85h-0.85zM68.8 298.91h0.85v0.85h-0.85zM112.46 297.49h0.85v0.85h-0.85zM89.13 288.09h0.85v0.85h-0.85zM73.13 293.33h0.85v0.85h-0.85zM70.87 290.75h0.85v0.85h-0.85zM92.8 305.94h0.85v0.85h-0.85zM75.67 295.42h0.85v0.85h-0.85zM105.84 299.48h0.85v0.85h-0.85zM59.41 300.8h0.85v0.85h-0.85zM112.33 311.63h0.85v0.85h-0.85zM93.81 283.95h0.85v0.85h-0.85zM100.18 281.97h0.85v0.85h-0.85zM97.05 313.05h0.85v0.85h-0.85zM108.65 309.28h0.85v0.85h-0.85zM101.57 320.05h0.85v0.85h-0.85zM66.22 296.04h0.85v0.85h-0.85zM86.16 284.57h0.85v0.85h-0.85zM77.8 294.17h0.85v0.85h-0.85zM107.02 321.52h0.85v0.85h-0.85zM54.18 295.07h0.85v0.85h-0.85zM95.92 296.25h0.85v0.85h-0.85zM91.06 285.6h0.85v0.85h-0.85zM116.98 283.24h0.85v0.85h-0.85zM61.94 287.68h0.85v0.85h-0.85zM110.67 299.13h0.85v0.85h-0.85zM90.84 303.12h0.85v0.85h-0.85zM80.81 293.78h0.85v0.85h-0.85zM99.62 324.12h0.85v0.85h-0.85zM58.04 295.56h0.85v0.85h-0.85zM49.26 342.78h0.85v0.85h-0.85zM91.89 297.56h0.85v0.85h-0.85zM85.21 300.07h0.85v0.85h-0.85zM94.5 294.16h0.85v0.85h-0.85zM82.12 294.47h0.85v0.85h-0.85zM124.71 276.48h0.85v0.85h-0.85zM77.35 304.2h0.85v0.85h-0.85zM91.99 300.66h0.85v0.85h-0.85zM64.12 302.53h0.85v0.85h-0.85zM65.06 296.53h0.85v0.85h-0.85zM98.37 321.53h0.85v0.85h-0.85zM81.25 296.57h0.85v0.85h-0.85zM45.39 326.62h0.85v0.85h-0.85zM71.55 289.29h0.85v0.85h-0.85zM119.72 296.34h0.85v0.85h-0.85zM113.15 313.15h0.85v0.85h-0.85zM65.65 290.44h0.85v0.85h-0.85zM100.71 312.41h0.85v0.85h-0.85zM96.17 314.57h0.85v0.85h-0.85zM94.78 294.12h0.85v0.85h-0.85zM65.2 310.79h0.85v0.85h-0.85zM61.91 298.34h0.85v0.85h-0.85zM93.55 306.21h0.85v0.85h-0.85zM42.89 323.14h0.85v0.85h-0.85zM70.73 292.21h0.85v0.85h-0.85zM56.09 313.39h0.85v0.85h-0.85zM89.25 293.77h0.85v0.85h-0.85zM60.45 297.78h0.85v0.85h-0.85zM102.47 332.08h0.85v0.85h-0.85zM134.22 287.77h0.85v0.85h-0.85zM99.27 316.61h0.85v0.85h-0.85zM62.55 290.6h0.85v0.85h-0.85zM87.29 289.31h0.85v0.85h-0.85zM89.16 295.03h0.85v0.85h-0.85zM86.81 288.38h0.85v0.85h-0.85zM59.83 306.15h0.85v0.85h-0.85zM94.39 292.55h0.85v0.85h-0.85zM94.69 298.45h0.85v0.85h-0.85zM67.41 298.53h0.85v0.85h-0.85zM102.23 307.01h0.85v0.85h-0.85zM70.85 302.01h0.85v0.85h-0.85zM66.36 303.23h0.85v0.85h-0.85zM76.21 300.75h0.85v0.85h-0.85zM103.05 301.2h0.85v0.85h-0.85zM77.27 296.71h0.85v0.85h-0.85zM100.36 298.82h0.85v0.85h-0.85zM112.48 272.86h0.85v0.85h-0.85zM110.89 319.32h0.85v0.85h-0.85zM93.58 289.07h0.85v0.85h-0.85zM79.41 300.71h0.85v0.85h-0.85zM122.78 279.43h0.85v0.85h-0.85zM120.04 275.16h0.85v0.85h-0.85zM89.48 299.56h0.85v0.85h-0.85zM83.24 297.7h0.85v0.85h-0.85zM92.35 288.47h0.85v0.85h-0.85zM79.8 300.1h0.85v0.85h-0.85zM114.05 296.47h0.85v0.85h-0.85zM103.24 338.4h0.85v0.85h-0.85zM93.67 304.43h0.85v0.85h-0.85zM46.21 308.07h0.85v0.85h-0.85zM92.7 293.36h0.85v0.85h-0.85zM105.85 326.5h0.85v0.85h-0.85zM47.29 322.28h0.85v0.85h-0.85zM65.25 302.72h0.85v0.85h-0.85zM97.62 295.33h0.85v0.85h-0.85zM85.3 294.51h0.85v0.85h-0.85zM106.23 294.65h0.85v0.85h-0.85zM50.5 335.01h0.85v0.85h-0.85zM100.31 330.24h0.85v0.85h-0.85zM102.27 341.21h0.85v0.85h-0.85zM106.19 333.63h0.85v0.85h-0.85zM97.6 287.53h0.85v0.85h-0.85zM101.22 321.77h0.85v0.85h-0.85zM95.42 280.93h0.85v0.85h-0.85zM90.94 300.17h0.85v0.85h-0.85zM43.17 313.58h0.85v0.85h-0.85zM50.2 313.86h0.85v0.85h-0.85zM76.02 306.81h0.85v0.85h-0.85zM103.15 321.72h0.85v0.85h-0.85zM94.57 283.32h0.85v0.85h-0.85zM71.83 294.42h0.85v0.85h-0.85zM69.6 288.34h0.85v0.85h-0.85zM74.7 296.51h0.85v0.85h-0.85zM76.7 298.63h0.85v0.85h-0.85zM104 315.77h0.85v0.85h-0.85zM70.86 284.7h0.85v0.85h-0.85zM47.45 315.7h0.85v0.85h-0.85zM74.52 292.66h0.85v0.85h-0.85zM96.28 274.45h0.85v0.85h-0.85zM109 321.88h0.85v0.85h-0.85zM71.41 297.46h0.85v0.85h-0.85zM102.26 326.34h0.85v0.85h-0.85zM82.95 291.66h0.85v0.85h-0.85zM79.21 298.63h0.85v0.85h-0.85zM86.7 304.76h0.85v0.85h-0.85zM102.67 321.63h0.85v0.85h-0.85zM98.07 306.94h0.85v0.85h-0.85zM109.83 315.05h0.85v0.85h-0.85zM72.61 291.54h0.85v0.85h-0.85zM90.05 296.06h0.85v0.85h-0.85zM98.79 321.01h0.85v0.85h-0.85zM103.33 281.37h0.85v0.85h-0.85zM95.18 297h0.85v0.85h-0.85zM111.05 304.17h0.85v0.85h-0.85zM101.02 311.96h0.85v0.85h-0.85zM59.83 294.75h0.85v0.85h-0.85zM114.75 272.2h0.85v0.85h-0.85zM54.55 293.46h0.85v0.85h-0.85zM110.64 332.51h0.85v0.85h-0.85zM97.15 314.67h0.85v0.85h-0.85zM109.47 334.44h0.85v0.85h-0.85zM104.05 308.68h0.85v0.85h-0.85zM54.59 342.25h0.85v0.85h-0.85zM118.42 290.27h0.85v0.85h-0.85zM84.87 285.04h0.85v0.85h-0.85zM92.28 298.87h0.85v0.85h-0.85zM119.76 289.18h0.85v0.85h-0.85zM77.26 299.86h0.85v0.85h-0.85zM104.6 279.3h0.85v0.85h-0.85zM95.16 283.86h0.85v0.85h-0.85zM79.74 302.07h0.85v0.85h-0.85zM91.34 299.7h0.85v0.85h-0.85zM90.22 296.38h0.85v0.85h-0.85zM97.04 295.01h0.85v0.85h-0.85zM81.74 297.61h0.85v0.85h-0.85zM103.42 320.52h0.85v0.85h-0.85zM101.57 280.91h0.85v0.85h-0.85zM85.09 299.69h0.85v0.85h-0.85zM80.27 297.01h0.85v0.85h-0.85zM113.95 264.07h0.85v0.85h-0.85zM104.26 307.85h0.85v0.85h-0.85zM99.86 318.41h0.85v0.85h-0.85zM86.41 276.4h0.85v0.85h-0.85zM101.46 341.54h0.85v0.85h-0.85zM107.72 272.33h0.85v0.85h-0.85zM68.23 303.92h0.85v0.85h-0.85zM94.1 298.48h0.85v0.85h-0.85zM81.77 298.12h0.85v0.85h-0.85zM77.63 294.13h0.85v0.85h-0.85zM108.93 336.47h0.85v0.85h-0.85zM103.49 316.55h0.85v0.85h-0.85zM75.96 300.15h0.85v0.85h-0.85zM71.84 303.47h0.85v0.85h-0.85zM46.51 332.57h0.85v0.85h-0.85zM79.41 305.66h0.85v0.85h-0.85zM85.61 294.42h0.85v0.85h-0.85zM92.93 286.42h0.85v0.85h-0.85zM92.08 300.58h0.85v0.85h-0.85zM77.05 297.85h0.85v0.85h-0.85zM97.66 302.77h0.85v0.85h-0.85zM69.11 300.76h0.85v0.85h-0.85zM101.83 328.32h0.85v0.85h-0.85zM71.61 293.03h0.85v0.85h-0.85zM102.22 296.78h0.85v0.85h-0.85zM75.59 303.65h0.85v0.85h-0.85zM57.33 308h0.85v0.85h-0.85zM108.16 297.68h0.85v0.85h-0.85zM88.07 300.69h0.85v0.85h-0.85zM107.61 334.77h0.85v0.85h-0.85zM87.54 291.67h0.85v0.85h-0.85zM118.92 281.64h0.85v0.85h-0.85zM121.53 287.6h0.85v0.85h-0.85zM83.78 297.69h0.85v0.85h-0.85zM62.44 300.42h0.85v0.85h-0.85zM90.57 285.68h0.85v0.85h-0.85zM74.77 291.59h0.85v0.85h-0.85zM71 290.03h0.85v0.85h-0.85zM87.66 298.89h0.85v0.85h-0.85zM76.63 287.25h0.85v0.85h-0.85zM66.95 309.62h0.85v0.85h-0.85zM45.91 333.6h0.85v0.85h-0.85zM74.13 288.62h0.85v0.85h-0.85zM67.54 300.18h0.85v0.85h-0.85zM58.58 306.41h0.85v0.85h-0.85zM99.92 283.39h0.85v0.85h-0.85zM67.51 293.4h0.85v0.85h-0.85zM103.75 303.31h0.85v0.85h-0.85z"/>
<path d="M89.5,344.1 89.0,344.2 88.5,344.3 88.0,344.3 87.5,344.3 87.0,344.3 86.5,344.3 86.0,344.3 85.5,344.3 85.0,344.3 84.5,344.3 84.0,344.3 83.5,344.3 83.0,344.2 82.5,344.2 82.0,344.2 81.5,344.1 81.3,344.1 80.8,344.0 80.3,344.0 79.8,343.9 79.3,343.9 79.0,343.8 78.5,343.7 78.0,343.7 77.7,343.6 77.3,343.5 76.8,343.4 76.5,343.4 76.0,343.3 75.5,343.1 75.3,343.1 74.8,342.9 74.5,342.9 74.0,342.7 73.7,342.6 73.3,342.5 73.0,342.4 72.5,342.2 72.3,342.1 71.8,341.9 71.5,341.7 71.3,341.6 70.8,341.4 70.5,341.2 70.3,341.0 70.0,340.9 69.7,340.6 69.4,340.4 69.2,340.1 69.0,339.9 68.8,339.5 68.6,339.1 68.5,338.8 68.5,338.4 68.6,338.1 68.7,337.6 68.8,337.3 69.0,336.9 69.2,336.6 69.5,336.4 69.7,336.1 70.0,335.9 70.3,335.6 70.5,335.4 70.8,335.2 71.0,335.1 71.4,334.9 71.8,334.6 72.0,334.5 72.3,334.4 72.8,334.1 73.0,334.0 73.5,333.9 73.8,333.7 74.1,333.6 74.5,333.5 74.9,333.4 75.3,333.2 75.7,333.1 76.0,333.0 76.5,332.9 76.8,332.8 77.3,332.7 77.8,332.6 78.0,332.5 78.5,332.4 79.0,332.4 79.3,332.3 79.8,332.2 80.3,332.2 80.8,332.1 81.0,332.1 81.5,332.0 82.0,332.0 82.5,331.9 83.0,331.9 83.5,331.9 83.8,331.8 84.3,331.8 84.8,331.8 85.3,331.8 85.8,331.8 86.3,331.8 86.8,331.8 87.3,331.8 87.8,331.8 88.3,331.8 88.5,331.9 89.0,331.9 89.5,332.0 90.0,332.1 90.3,332.2 90.8,332.3 91.1,332.4 91.5,332.5 91.9,332.6 92.3,332.7 92.6,332.9 93.0,333.0 93.3,333.1 93.8,333.4 94.0,333.5 94.3,333.6 94.6,333.9 95.0,334.1 95.3,334.3 95.5,334.5 95.8,334.7 96.0,334.9 96.3,335.2 96.5,335.5 96.8,335.8 97.0,336.1 97.2,336.4 97.3,336.6 97.5,337.1 97.6,337.4 97.7,337.9 97.7,338.4 97.7,338.9 97.6,339.4 97.5,339.6 97.3,340.1 97.2,340.4 97.0,340.6 96.8,340.9 96.5,341.1 96.3,341.4 96.0,341.6 95.7,341.9 95.4,342.1 95.0,342.3 94.8,342.4 94.5,342.6 94.0,342.8 93.8,342.9 93.4,343.1 93.0,343.3 92.8,343.4 92.3,343.5 92.0,343.6 91.5,343.7 91.0,343.8 90.8,343.9 90.3,344.0 89.8,344.1 89.5,344.1Z" fill="none" stroke="#9a9a9a" stroke-width="0.6"/>
<path d="M88.8,343.9 88.3,343.9 87.8,343.9 87.3,344.0 86.8,344.0 86.3,344.0 85.8,344.0 85.3,344.0 84.8,344.0 84.3,343.9 83.8,343.9 83.3,343.9 82.8,343.9 82.5,343.8 82.0,343.8 81.5,343.7 81.0,343.7 80.5,343.6 80.3,343.6 79.8,343.5 79.3,343.5 78.8,343.4 78.5,343.3 78.0,343.3 77.5,343.2 77.3,343.1 76.8,343.0 76.3,342.9 76.0,342.8 75.5,342.7 75.3,342.6 74.8,342.5 74.5,342.4 74.0,342.2 73.8,342.1 73.3,341.9 73.0,341.8 72.6,341.6 72.3,341.5 72.0,341.3 71.6,341.1 71.3,340.9 71.0,340.7 70.8,340.5 70.5,340.3 70.3,340.0 70.0,339.7 69.8,339.4 69.7,339.1 69.6,338.6 69.7,338.1 69.8,337.6 69.9,337.4 70.0,337.1 70.3,336.7 70.5,336.4 70.8,336.2 71.0,336.0 71.3,335.7 71.5,335.6 71.9,335.4 72.3,335.1 72.5,334.9 72.8,334.8 73.2,334.6 73.5,334.4 73.8,334.3 74.3,334.1 74.5,334.0 75.0,333.9 75.3,333.8 75.8,333.6 76.0,333.5 76.5,333.4 76.8,333.3 77.3,333.2 77.7,333.1 78.0,333.0 78.5,332.9 78.9,332.9 79.3,332.8 79.8,332.7 80.3,332.6 80.5,332.6 81.0,332.5 81.5,332.4 82.0,332.4 82.5,332.4 82.8,332.3 83.3,332.3 83.8,332.2 84.3,332.2 84.8,332.2 85.3,332.2 85.8,332.2 86.3,332.2 86.8,332.2 87.3,332.2 87.8,332.2 88.3,332.3 88.8,332.3 89.0,332.4 89.5,332.4 90.0,332.5 90.3,332.6 90.8,332.7 91.3,332.9 91.5,332.9 92.0,333.1 92.3,333.2 92.6,333.4 93.0,333.5 93.3,333.7 93.7,333.9 94.0,334.1 94.3,334.2 94.5,334.4 94.8,334.6 95.1,334.9 95.4,335.1 95.7,335.4 95.9,335.6 96.1,335.9 96.3,336.2 96.5,336.6 96.7,336.9 96.8,337.1 96.9,337.6 97.0,338.1 97.0,338.6 97.0,339.1 96.8,339.6 96.7,339.9 96.5,340.2 96.3,340.5 96.0,340.8 95.8,341.1 95.5,341.3 95.3,341.5 95.0,341.7 94.8,341.9 94.5,342.1 94.0,342.3 93.8,342.5 93.5,342.6 93.0,342.8 92.8,342.9 92.3,343.1 92.0,343.2 91.5,343.3 91.3,343.4 90.8,343.5 90.4,343.6 90.0,343.7 89.5,343.8 89.0,343.8 88.8,343.9Z" fill="none" stroke="#9a9a9a" stroke-width="0.6"/>
<path d="M86.5,343.6 86.0,343.6 85.8,343.6 85.3,343.6 84.8,343.6 84.3,343.6 83.8,343.5 83.3,343.5 82.8,343.5 82.3,343.4 81.8,343.4 81.5,343.3 81.0,343.3 80.5,343.2 80.0,343.2 79.7,343.1 79.3,343.0 78.8,342.9 78.3,342.9 78.0,342.8 77.5,342.7 77.2,342.6 76.8,342.5 76.3,342.4 76.0,342.3 75.5,342.2 75.3,342.1 74.8,341.9 74.5,341.8 74.0,341.6 73.8,341.5 73.5,341.4 73.0,341.1 72.8,341.0 72.5,340.8 72.2,340.6 71.9,340.4 71.6,340.1 71.4,339.9 71.2,339.6 71.0,339.4 70.8,338.9 70.8,338.4 70.9,337.9 71.0,337.5 71.3,337.1 71.4,336.9 71.6,336.6 71.9,336.4 72.2,336.1 72.5,335.9 72.8,335.6 73.0,335.5 73.3,335.3 73.7,335.1 74.0,334.9 74.3,334.8 74.7,334.6 75.0,334.5 75.4,334.4 75.8,334.2 76.1,334.1 76.5,333.9 76.9,333.9 77.3,333.7 77.8,333.6 78.0,333.5 78.5,333.4 78.9,333.4 79.3,333.3 79.8,333.2 80.2,333.1 80.5,333.0 81.0,333.0 81.5,332.9 82.0,332.9 82.3,332.8 82.8,332.8 83.3,332.7 83.8,332.7 84.3,332.7 84.8,332.6 85.3,332.6 85.8,332.6 86.3,332.6 86.8,332.6 87.3,332.6 87.8,332.7 88.3,332.7 88.8,332.8 89.3,332.9 89.5,332.9 90.0,333.0 90.4,333.1 90.8,333.2 91.3,333.4 91.5,333.4 91.9,333.6 92.3,333.7 92.5,333.9 93.0,334.1 93.3,334.3 93.5,334.4 93.9,334.6 94.2,334.9 94.5,335.1 94.8,335.4 95.0,335.6 95.3,335.9 95.5,336.1 95.6,336.4 95.8,336.6 96.0,337.1 96.1,337.4 96.3,337.9 96.3,338.2 96.3,338.6 96.3,338.9 96.2,339.4 96.0,339.7 95.8,340.1 95.6,340.4 95.4,340.6 95.2,340.9 94.9,341.1 94.6,341.4 94.3,341.6 94.0,341.8 93.8,341.9 93.5,342.1 93.0,342.3 92.8,342.4 92.3,342.6 92.0,342.7 91.6,342.9 91.3,343.0 90.8,343.1 90.5,343.1 90.0,343.3 89.5,343.3 89.3,343.4 88.8,343.5 88.3,343.5 87.8,343.6 87.3,343.6 86.8,343.6 86.5,343.6Z" fill="none" stroke="#9a9a9a" stroke-width="0.6"/>
<path d="M88.0,343.1 87.5,343.2 87.0,343.2 86.5,343.2 86.0,343.2 85.5,343.2 85.0,343.2 84.5,343.1 84.0,343.1 83.7,343.1 83.3,343.1 82.8,343.0 82.3,343.0 81.8,342.9 81.3,342.9 81.0,342.8 80.5,342.8 80.0,342.7 79.5,342.6 79.3,342.6 78.8,342.5 78.3,342.4 78.0,342.3 77.5,342.2 77.3,342.1 76.8,342.0 76.4,341.9 76.0,341.7 75.7,341.6 75.3,341.5 75.0,341.4 74.5,341.1 74.3,341.0 74.0,340.9 73.6,340.6 73.3,340.4 73.0,340.2 72.8,340.0 72.5,339.7 72.3,339.4 72.2,339.1 72.1,338.6 72.1,338.1 72.3,337.6 72.4,337.4 72.6,337.1 72.8,336.8 73.0,336.5 73.3,336.3 73.6,336.1 73.9,335.9 74.3,335.6 74.5,335.5 74.8,335.3 75.3,335.1 75.5,335.0 75.9,334.9 76.3,334.7 76.5,334.6 77.0,334.4 77.3,334.3 77.8,334.2 78.1,334.1 78.5,334.0 79.0,333.9 79.3,333.8 79.8,333.7 80.3,333.6 80.5,333.6 81.0,333.5 81.5,333.4 82.0,333.4 82.3,333.3 82.8,333.3 83.3,333.2 83.8,333.2 84.3,333.2 84.8,333.1 85.3,333.1 85.7,333.1 86.0,333.1 86.5,333.1 87.0,333.1 87.3,333.1 87.8,333.1 88.3,333.2 88.8,333.3 89.3,333.4 89.5,333.4 90.0,333.5 90.3,333.6 90.8,333.7 91.1,333.9 91.5,334.0 91.8,334.1 92.3,334.4 92.5,334.5 92.8,334.6 93.2,334.9 93.5,335.1 93.8,335.3 94.0,335.5 94.3,335.8 94.5,336.1 94.8,336.4 94.9,336.6 95.1,336.9 95.3,337.3 95.4,337.6 95.5,338.1 95.5,338.6 95.4,339.1 95.3,339.5 95.1,339.9 95.0,340.1 94.8,340.4 94.5,340.6 94.3,340.9 94.0,341.1 93.7,341.4 93.3,341.6 93.0,341.7 92.8,341.9 92.3,342.1 92.0,342.2 91.6,342.4 91.3,342.5 90.9,342.6 90.5,342.7 90.0,342.8 89.8,342.9 89.3,343.0 88.8,343.0 88.3,343.1 88.0,343.1Z" fill="none" stroke="#9a9a9a" stroke-width="0.6"/>
<path d="M88.3,342.6 87.8,342.7 87.3,342.7 86.8,342.7 86.3,342.7 85.8,342.7 85.3,342.7 84.8,342.7 84.3,342.7 83.8,342.6 83.3,342.6 83.0,342.6 82.5,342.5 82.0,342.5 81.5,342.4 81.1,342.4 80.8,342.3 80.3,342.2 79.8,342.1 79.5,342.1 79.0,342.0 78.5,341.9 78.3,341.8 77.8,341.7 77.5,341.6 77.0,341.4 76.8,341.3 76.3,341.1 76.0,341.0 75.7,340.9 75.3,340.7 75.0,340.5 74.8,340.4 74.4,340.1 74.2,339.9 73.9,339.6 73.7,339.4 73.5,338.9 73.5,338.6 73.5,338.1 73.6,337.9 73.8,337.4 74.0,337.1 74.2,336.9 74.5,336.6 74.8,336.4 75.0,336.2 75.3,336.0 75.6,335.9 76.0,335.6 76.3,335.5 76.5,335.3 77.0,335.1 77.3,335.0 77.8,334.9 78.0,334.8 78.5,334.6 78.8,334.6 79.3,334.4 79.6,334.4 80.0,334.3 80.5,334.2 80.8,334.1 81.3,334.0 81.8,333.9 82.3,333.9 82.5,333.8 83.0,333.8 83.5,333.7 84.0,333.7 84.5,333.7 85.0,333.6 85.5,333.6 86.0,333.6 86.5,333.6 87.0,333.6 87.5,333.7 88.0,333.7 88.5,333.8 89.0,333.9 89.3,333.9 89.8,334.0 90.0,334.1 90.5,334.3 90.8,334.4 91.3,334.6 91.5,334.7 91.9,334.9 92.3,335.1 92.5,335.2 92.8,335.4 93.1,335.6 93.3,335.9 93.6,336.1 93.8,336.4 94.0,336.7 94.3,337.1 94.4,337.4 94.5,337.8 94.6,338.1 94.6,338.6 94.6,339.1 94.5,339.4 94.3,339.7 94.0,340.1 93.8,340.4 93.6,340.6 93.3,340.8 93.0,341.0 92.8,341.2 92.5,341.4 92.0,341.6 91.8,341.7 91.5,341.9 91.0,342.0 90.8,342.1 90.3,342.2 89.9,342.4 89.5,342.4 89.0,342.5 88.5,342.6 88.3,342.6Z" fill="none" stroke="#9a9a9a" stroke-width="0.6"/>
<path d="M88.3,342.1 87.8,342.2 87.3,342.2 86.8,342.2 86.3,342.2 85.8,342.2 85.3,342.2 84.8,342.2 84.3,342.2 83.8,342.1 83.5,342.1 83.0,342.1 82.5,342.0 82.0,341.9 81.5,341.9 81.3,341.8 80.8,341.7 80.3,341.6 80.0,341.6 79.5,341.5 79.1,341.4 78.8,341.3 78.3,341.1 78.0,341.0 77.6,340.9 77.3,340.7 77.0,340.6 76.6,340.4 76.3,340.2 76.0,340.0 75.8,339.8 75.5,339.6 75.3,339.3 75.1,338.9 75.0,338.6 75.1,338.4 75.2,337.9 75.3,337.6 75.5,337.2 75.8,337.0 76.0,336.7 76.3,336.5 76.6,336.4 77.0,336.1 77.3,335.9 77.5,335.8 78.0,335.6 78.3,335.5 78.7,335.4 79.0,335.2 79.5,335.1 79.8,335.0 80.3,334.9 80.5,334.8 81.0,334.7 81.5,334.6 81.8,334.6 82.3,334.5 82.8,334.4 83.3,334.4 83.5,334.3 84.0,334.3 84.5,334.3 85.0,334.2 85.5,334.2 86.0,334.2 86.5,334.2 87.0,334.2 87.5,334.2 88.0,334.3 88.3,334.4 88.8,334.4 89.3,334.5 89.5,334.6 90.0,334.8 90.3,334.9 90.8,335.1 91.0,335.2 91.4,335.4 91.8,335.6 92.0,335.8 92.3,336.0 92.5,336.2 92.8,336.5 93.0,336.8 93.3,337.1 93.4,337.4 93.5,337.8 93.6,338.1 93.7,338.6 93.6,339.1 93.5,339.4 93.3,339.7 93.0,340.0 92.8,340.3 92.5,340.5 92.3,340.7 92.0,340.9 91.6,341.1 91.3,341.3 91.0,341.4 90.5,341.6 90.3,341.7 89.8,341.8 89.5,341.9 89.0,342.0 88.5,342.1 88.3,342.1Z" fill="none" stroke="#9a9a9a" stroke-width="0.6"/>
<path d="M87.3,341.6 86.8,341.6 86.3,341.6 85.8,341.6 85.3,341.6 85.0,341.6 84.5,341.6 84.0,341.5 83.5,341.5 83.0,341.4 82.5,341.4 82.3,341.3 81.8,341.2 81.3,341.1 81.0,341.1 80.5,341.0 80.1,340.9 79.8,340.7 79.4,340.6 79.0,340.5 78.7,340.4 78.3,340.1 78.0,340.0 77.8,339.8 77.5,339.6 77.2,339.4 77.0,339.1 76.9,338.6 76.9,338.1 77.0,337.8 77.3,337.4 77.5,337.2 77.8,337.0 78.0,336.8 78.3,336.6 78.8,336.4 79.0,336.2 79.3,336.1 79.8,335.9 80.0,335.8 80.5,335.7 80.8,335.6 81.3,335.5 81.8,335.4 82.0,335.3 82.5,335.2 83.0,335.1 83.3,335.1 83.8,335.0 84.3,335.0 84.8,334.9 85.3,334.9 85.8,334.9 86.3,334.9 86.8,334.9 87.3,334.9 87.8,335.0 88.3,335.1 88.5,335.1 89.0,335.2 89.4,335.4 89.8,335.5 90.1,335.6 90.5,335.8 90.8,336.0 91.0,336.1 91.3,336.4 91.6,336.6 91.9,336.9 92.1,337.1 92.3,337.5 92.4,337.9 92.5,338.4 92.5,338.9 92.3,339.3 92.1,339.6 91.9,339.9 91.7,340.1 91.4,340.4 91.0,340.5 90.8,340.7 90.5,340.9 90.0,341.0 89.8,341.1 89.3,341.3 89.0,341.4 88.5,341.4 88.0,341.5 87.5,341.6 87.3,341.6Z" fill="none" stroke="#9a9a9a" stroke-width="0.6"/>
<path d="M87.3,340.9 86.8,340.9 86.3,340.9 85.8,340.9 85.3,340.9 85.0,340.9 84.5,340.8 84.0,340.8 83.5,340.7 83.0,340.6 82.8,340.6 82.3,340.5 81.8,340.4 81.5,340.3 81.0,340.1 80.8,340.0 80.4,339.9 80.0,339.7 79.8,339.5 79.5,339.3 79.3,339.0 79.1,338.6 79.2,338.1 79.3,337.9 79.5,337.6 79.8,337.3 80.1,337.1 80.5,336.9 80.8,336.7 81.1,336.6 81.5,336.5 81.9,336.4 82.3,336.2 82.8,336.1 83.0,336.1 83.5,336.0 84.0,335.9 84.4,335.9 84.8,335.8 85.3,335.8 85.8,335.7 86.3,335.7 86.8,335.7 87.3,335.8 87.8,335.8 88.0,335.9 88.5,336.0 88.8,336.1 89.3,336.3 89.5,336.4 89.8,336.6 90.2,336.9 90.5,337.1 90.7,337.4 90.9,337.6 91.0,338.1 91.1,338.4 91.1,338.9 91.0,339.1 90.8,339.4 90.5,339.6 90.3,339.9 89.9,340.1 89.5,340.3 89.3,340.4 88.8,340.6 88.5,340.6 88.0,340.8 87.5,340.8 87.3,340.9Z" fill="none" stroke="#9a9a9a" stroke-width="0.6"/>
<path d="M87.8,339.6 87.3,339.7 86.8,339.8 86.3,339.8 85.8,339.8 85.3,339.7 84.8,339.7 84.4,339.6 84.0,339.5 83.5,339.4 83.3,339.3 83.0,339.1 82.7,338.9 82.5,338.6 82.5,338.3 82.8,337.9 83.0,337.8 83.3,337.6 83.8,337.4 84.0,337.3 84.5,337.2 85.0,337.1 85.3,337.1 85.8,337.0 86.3,337.0 86.8,337.0 87.3,337.1 87.5,337.1 88.0,337.3 88.3,337.5 88.5,337.6 88.8,337.9 89.0,338.4 88.9,338.9 88.7,339.1 88.4,339.4 88.0,339.5 87.8,339.6Z" fill="none" stroke="#9a9a9a" stroke-width="0.6"/>
<path d="M86.3,343.1 85.8,343.2 85.3,343.2 84.8,343.2 84.3,343.2 83.8,343.2 83.3,343.2 82.8,343.2 82.3,343.1 82.0,343.1 81.5,343.0 81.0,342.9 80.5,342.9 80.3,342.8 79.8,342.8 79.3,342.7 78.8,342.6 78.5,342.6 78.0,342.5 77.5,342.4 77.2,342.4 76.8,342.3 76.3,342.2 75.8,342.1 75.5,342.0 75.0,342.0 74.5,341.9 74.3,341.8 73.8,341.7 73.3,341.6 73.0,341.5 72.5,341.4 72.2,341.4 71.8,341.3 71.3,341.2 71.0,341.1 70.5,341.0 70.0,340.9 69.8,340.8 69.3,340.7 69.0,340.6 68.5,340.5 68.0,340.4 67.8,340.3 67.3,340.2 67.0,340.1 66.5,340.0 66.1,339.9 65.8,339.8 65.3,339.6 65.0,339.6 64.5,339.4 64.3,339.3 63.8,339.2 63.5,339.1 63.0,339.0 62.7,338.9 62.3,338.7 61.9,338.6 61.5,338.5 61.1,338.4 60.8,338.2 60.4,338.1 60.0,338.0 59.6,337.9 59.3,337.7 58.9,337.6 58.5,337.5 58.2,337.4 57.8,337.2 57.5,337.1 57.0,336.9 56.8,336.8 56.3,336.6 56.0,336.5 55.6,336.4 55.3,336.2 55.0,336.1 54.5,335.9 54.3,335.8 53.8,335.6 53.5,335.5 53.3,335.4 52.8,335.1 52.5,335.0 52.2,334.9 51.8,334.7 51.5,334.5 51.2,334.4 50.8,334.2 50.5,334.0 50.2,333.9 49.8,333.6 49.5,333.5 49.3,333.3 48.9,333.1 48.5,332.9 48.3,332.7 48.0,332.5 47.8,332.3 47.5,332.1 47.1,331.9 46.8,331.6 46.5,331.4 46.3,331.1 46.0,330.9 45.8,330.6 45.6,330.4 45.4,330.1 45.3,329.9 45.0,329.5 44.9,329.1 44.8,328.9 44.7,328.4 44.7,327.9 44.7,327.4 44.8,326.9 44.8,326.6 45.0,326.1 45.0,325.8 45.2,325.4 45.3,325.1 45.5,324.7 45.7,324.4 45.9,324.1 46.0,323.8 46.3,323.4 46.5,323.1 46.7,322.9 46.9,322.6 47.1,322.4 47.4,322.1 47.6,321.9 47.8,321.6 48.1,321.4 48.3,321.1 48.6,320.9 48.9,320.6 49.1,320.4 49.4,320.1 49.7,319.9 50.0,319.6 50.3,319.4 50.5,319.2 50.8,319.0 51.0,318.8 51.3,318.6 51.6,318.4 52.0,318.1 52.3,317.9 52.5,317.7 52.8,317.5 53.1,317.4 53.5,317.1 53.8,316.9 54.0,316.7 54.3,316.6 54.6,316.4 55.0,316.1 55.3,316.0 55.5,315.8 55.9,315.6 56.3,315.4 56.5,315.2 56.8,315.1 57.2,314.9 57.5,314.7 57.8,314.5 58.1,314.4 58.5,314.1 58.8,314.0 59.1,313.9 59.5,313.6 59.8,313.5 60.1,313.4 60.5,313.1 60.8,313.0 61.1,312.9 61.5,312.6 61.8,312.5 62.2,312.4 62.5,312.2 62.8,312.1 63.3,311.9 63.5,311.7 63.9,311.6 64.3,311.4 64.5,311.3 65.0,311.1 65.3,311.0 65.6,310.9 66.0,310.7 66.3,310.6 66.8,310.4 67.0,310.3 67.5,310.1 67.8,310.0 68.2,309.9 68.5,309.7 68.8,309.6 69.3,309.4 69.5,309.3 70.0,309.2 70.3,309.1 70.8,308.9 71.0,308.8 71.5,308.7 71.8,308.6 72.3,308.4 72.5,308.3 73.0,308.2 73.3,308.1 73.8,307.9 74.1,307.9 74.5,307.7 75.0,307.6 75.3,307.5 75.8,307.4 76.0,307.3 76.5,307.2 76.8,307.1 77.3,307.0 77.8,306.9 78.0,306.8 78.5,306.7 78.8,306.6 79.3,306.5 79.8,306.4 80.0,306.3 80.5,306.2 81.0,306.1 81.3,306.1 81.8,306.0 82.3,305.9 82.5,305.8 83.0,305.8 83.5,305.7 84.0,305.7 84.5,305.7 85.0,305.7 85.5,305.7 86.0,305.8 86.3,305.9 86.8,306.0 87.3,306.1 87.5,306.2 88.0,306.4 88.3,306.5 88.6,306.6 89.0,306.8 89.3,307.0 89.6,307.1 90.0,307.4 90.3,307.6 90.5,307.8 90.8,308.0 91.0,308.2 91.3,308.4 91.5,308.6 91.8,308.9 92.1,309.1 92.3,309.4 92.5,309.6 92.8,309.9 93.0,310.2 93.3,310.6 93.5,310.9 93.7,311.1 93.9,311.4 94.0,311.6 94.3,312.0 94.5,312.4 94.6,312.6 94.8,312.9 95.0,313.4 95.2,313.6 95.3,313.9 95.5,314.4 95.6,314.6 95.8,315.0 95.9,315.4 96.0,315.7 96.2,316.1 96.3,316.4 96.5,316.9 96.6,317.1 96.7,317.6 96.8,317.9 96.9,318.4 97.0,318.8 97.1,319.1 97.2,319.6 97.3,319.9 97.4,320.4 97.5,320.9 97.6,321.1 97.6,321.6 97.7,322.1 97.8,322.6 97.8,322.9 97.9,323.4 98.0,323.9 98.0,324.4 98.0,324.9 98.1,325.1 98.1,325.6 98.1,326.1 98.1,326.6 98.2,327.1 98.2,327.6 98.2,328.1 98.2,328.6 98.1,329.1 98.1,329.6 98.1,330.1 98.0,330.4 98.0,330.9 97.9,331.4 97.8,331.7 97.7,332.1 97.6,332.6 97.5,332.9 97.4,333.4 97.3,333.6 97.1,334.1 97.0,334.4 96.8,334.9 96.7,335.1 96.5,335.5 96.4,335.9 96.2,336.1 96.0,336.4 95.8,336.9 95.6,337.1 95.5,337.4 95.3,337.6 95.0,338.0 94.8,338.3 94.6,338.6 94.3,338.9 94.1,339.1 93.9,339.4 93.6,339.6 93.4,339.9 93.1,340.1 92.8,340.3 92.5,340.5 92.3,340.7 92.0,340.9 91.8,341.1 91.4,341.4 91.0,341.5 90.8,341.7 90.5,341.9 90.0,342.1 89.8,342.2 89.4,342.4 89.0,342.5 88.7,342.6 88.3,342.7 87.8,342.8 87.5,342.9 87.0,343.0 86.5,343.1 86.3,343.1Z" fill="none" stroke="#2e2e2e" stroke-width="0.8"/>
<path d="M86.0,341.4 85.5,341.4 85.0,341.5 84.5,341.5 84.0,341.5 83.5,341.5 83.0,341.5 82.5,341.5 82.0,341.4 81.6,341.4 81.3,341.3 80.8,341.3 80.3,341.2 79.8,341.1 79.5,341.1 79.0,341.0 78.5,340.9 78.0,340.9 77.8,340.8 77.3,340.7 76.8,340.7 76.5,340.6 76.0,340.5 75.5,340.4 75.1,340.4 74.8,340.3 74.3,340.2 73.9,340.1 73.5,340.0 73.0,339.9 72.7,339.9 72.3,339.8 71.8,339.7 71.5,339.6 71.0,339.5 70.5,339.4 70.3,339.3 69.8,339.2 69.4,339.1 69.0,339.0 68.5,338.9 68.3,338.8 67.8,338.7 67.5,338.6 67.0,338.5 66.6,338.4 66.3,338.3 65.8,338.1 65.5,338.0 65.0,337.9 64.8,337.8 64.3,337.7 64.0,337.6 63.5,337.4 63.3,337.3 62.8,337.2 62.5,337.1 62.0,336.9 61.8,336.8 61.3,336.7 61.0,336.6 60.5,336.4 60.3,336.3 59.8,336.1 59.5,336.0 59.1,335.9 58.8,335.7 58.5,335.6 58.0,335.4 57.8,335.3 57.3,335.1 57.0,335.0 56.7,334.9 56.3,334.7 56.0,334.5 55.6,334.4 55.3,334.2 55.0,334.1 54.6,333.9 54.3,333.7 54.0,333.5 53.7,333.4 53.3,333.1 53.0,333.0 52.8,332.8 52.5,332.6 52.1,332.4 51.8,332.1 51.5,332.0 51.3,331.8 51.0,331.6 50.8,331.3 50.5,331.1 50.3,330.9 50.0,330.6 49.8,330.3 49.5,330.0 49.3,329.6 49.2,329.4 49.0,329.0 48.9,328.6 48.9,328.1 48.9,327.6 48.9,327.1 49.0,326.6 49.1,326.4 49.3,325.9 49.3,325.6 49.5,325.1 49.7,324.9 49.8,324.6 50.0,324.2 50.3,323.9 50.4,323.6 50.6,323.4 50.8,323.1 51.0,322.8 51.3,322.5 51.5,322.2 51.8,321.9 52.0,321.7 52.3,321.4 52.5,321.2 52.8,321.0 53.0,320.7 53.3,320.5 53.5,320.3 53.8,320.1 54.1,319.9 54.4,319.6 54.7,319.4 55.0,319.1 55.3,318.9 55.5,318.8 55.8,318.6 56.1,318.4 56.5,318.1 56.8,317.9 57.0,317.8 57.3,317.6 57.7,317.4 58.0,317.1 58.3,317.0 58.5,316.8 58.9,316.6 59.3,316.4 59.5,316.2 59.8,316.1 60.3,315.9 60.5,315.7 60.8,315.6 61.2,315.4 61.5,315.2 61.8,315.1 62.2,314.9 62.5,314.7 62.8,314.6 63.2,314.4 63.5,314.2 63.8,314.1 64.3,313.9 64.5,313.7 64.9,313.6 65.3,313.4 65.5,313.3 66.0,313.1 66.3,313.0 66.6,312.9 67.0,312.7 67.3,312.6 67.8,312.4 68.0,312.3 68.5,312.1 68.8,312.0 69.2,311.9 69.5,311.7 69.9,311.6 70.3,311.4 70.6,311.4 71.0,311.2 71.3,311.1 71.8,310.9 72.0,310.8 72.5,310.7 72.8,310.6 73.3,310.5 73.6,310.4 74.0,310.2 74.5,310.1 74.8,310.0 75.3,309.9 75.5,309.8 76.0,309.7 76.3,309.6 76.8,309.5 77.3,309.4 77.5,309.3 78.0,309.2 78.4,309.1 78.8,309.0 79.3,308.9 79.5,308.8 80.0,308.7 80.5,308.6 80.8,308.6 81.3,308.5 81.8,308.4 82.2,308.4 82.5,308.3 83.0,308.2 83.5,308.2 84.0,308.2 84.5,308.2 85.0,308.2 85.5,308.3 85.8,308.4 86.3,308.5 86.7,308.6 87.0,308.7 87.4,308.9 87.8,309.0 88.0,309.1 88.5,309.4 88.8,309.6 89.0,309.7 89.3,309.9 89.6,310.1 89.9,310.4 90.2,310.6 90.5,310.9 90.8,311.1 91.0,311.4 91.2,311.6 91.5,311.9 91.7,312.1 91.9,312.4 92.1,312.6 92.3,312.9 92.5,313.3 92.8,313.6 92.9,313.9 93.1,314.1 93.3,314.5 93.5,314.9 93.6,315.1 93.8,315.4 94.0,315.9 94.1,316.1 94.3,316.5 94.4,316.9 94.5,317.2 94.7,317.6 94.8,317.9 95.0,318.4 95.1,318.6 95.2,319.1 95.3,319.4 95.4,319.9 95.5,320.4 95.6,320.6 95.7,321.1 95.8,321.5 95.9,321.9 96.0,322.4 96.0,322.9 96.1,323.1 96.1,323.6 96.2,324.1 96.3,324.6 96.3,325.0 96.3,325.4 96.4,325.9 96.4,326.4 96.4,326.9 96.4,327.4 96.4,327.9 96.4,328.4 96.4,328.9 96.4,329.4 96.3,329.9 96.3,330.1 96.2,330.6 96.1,331.1 96.0,331.5 96.0,331.9 95.8,332.4 95.7,332.6 95.6,333.1 95.5,333.4 95.3,333.8 95.2,334.1 95.0,334.4 94.8,334.9 94.7,335.1 94.5,335.4 94.3,335.8 94.1,336.1 94.0,336.4 93.8,336.6 93.5,336.9 93.3,337.2 93.0,337.5 92.8,337.8 92.5,338.1 92.3,338.3 92.0,338.5 91.8,338.8 91.5,339.0 91.3,339.2 91.0,339.4 90.7,339.6 90.3,339.8 90.0,340.0 89.8,340.1 89.4,340.4 89.0,340.5 88.8,340.6 88.3,340.8 88.0,340.9 87.5,341.0 87.3,341.1 86.8,341.2 86.3,341.3 86.0,341.4Z" fill="none" stroke="#2e2e2e" stroke-width="0.8"/>
<path d="M85.8,339.6 85.3,339.7 84.8,339.8 84.3,339.8 83.8,339.8 83.3,339.8 82.8,339.8 82.3,339.8 81.8,339.7 81.3,339.6 80.9,339.6 80.5,339.6 80.0,339.5 79.5,339.4 79.0,339.4 78.8,339.3 78.3,339.3 77.8,339.2 77.3,339.1 77.0,339.1 76.5,339.0 76.0,338.9 75.8,338.8 75.3,338.8 74.8,338.7 74.5,338.6 74.0,338.5 73.5,338.4 73.3,338.4 72.8,338.2 72.3,338.1 72.0,338.1 71.5,338.0 71.1,337.9 70.8,337.8 70.3,337.7 70.0,337.6 69.5,337.5 69.1,337.4 68.8,337.3 68.3,337.1 68.0,337.1 67.5,336.9 67.3,336.8 66.8,336.7 66.5,336.6 66.0,336.5 65.7,336.4 65.3,336.2 64.9,336.1 64.5,336.0 64.2,335.9 63.8,335.7 63.4,335.6 63.0,335.5 62.8,335.4 62.3,335.2 62.0,335.1 61.5,334.9 61.3,334.8 60.9,334.6 60.5,334.5 60.3,334.4 59.8,334.1 59.5,334.0 59.2,333.9 58.8,333.7 58.5,333.5 58.2,333.4 57.8,333.1 57.5,333.0 57.3,332.8 56.9,332.6 56.5,332.4 56.3,332.2 56.0,332.1 55.8,331.9 55.4,331.6 55.1,331.4 54.8,331.1 54.5,330.9 54.3,330.6 54.1,330.4 53.9,330.1 53.7,329.9 53.5,329.6 53.3,329.1 53.2,328.9 53.1,328.4 53.1,327.9 53.1,327.4 53.2,326.9 53.3,326.4 53.4,326.1 53.5,325.6 53.7,325.4 53.8,325.1 54.0,324.6 54.2,324.4 54.4,324.1 54.5,323.8 54.8,323.5 55.0,323.2 55.3,322.9 55.5,322.6 55.8,322.4 56.0,322.1 56.3,321.9 56.5,321.6 56.8,321.4 57.0,321.1 57.3,320.9 57.5,320.7 57.8,320.5 58.0,320.3 58.3,320.1 58.6,319.9 59.0,319.6 59.3,319.4 59.5,319.2 59.8,319.0 60.1,318.9 60.5,318.6 60.8,318.4 61.0,318.2 61.3,318.1 61.7,317.9 62.0,317.6 62.3,317.5 62.6,317.4 63.0,317.1 63.3,316.9 63.5,316.8 64.0,316.6 64.3,316.4 64.5,316.3 65.0,316.1 65.3,315.9 65.5,315.8 66.0,315.6 66.3,315.5 66.6,315.4 67.0,315.1 67.3,315.0 67.8,314.9 68.0,314.7 68.4,314.6 68.8,314.4 69.0,314.3 69.5,314.1 69.8,314.0 70.3,313.9 70.5,313.8 71.0,313.6 71.3,313.5 71.7,313.4 72.0,313.2 72.5,313.1 72.8,313.0 73.3,312.9 73.5,312.8 74.0,312.6 74.3,312.5 74.8,312.4 75.0,312.3 75.5,312.2 75.9,312.1 76.3,312.0 76.8,311.9 77.0,311.8 77.5,311.7 77.9,311.6 78.3,311.5 78.8,311.4 79.1,311.4 79.5,311.3 80.0,311.2 80.4,311.1 80.8,311.0 81.3,310.9 81.8,310.9 82.0,310.8 82.5,310.8 83.0,310.7 83.5,310.7 84.0,310.7 84.5,310.7 85.0,310.8 85.3,310.9 85.8,311.0 86.2,311.1 86.5,311.2 86.9,311.4 87.3,311.6 87.5,311.7 87.8,311.9 88.2,312.1 88.5,312.3 88.8,312.5 89.0,312.7 89.3,312.9 89.5,313.2 89.8,313.4 90.0,313.7 90.3,313.9 90.5,314.2 90.8,314.5 91.0,314.9 91.2,315.1 91.4,315.4 91.5,315.6 91.8,316.0 92.0,316.4 92.1,316.6 92.3,317.0 92.5,317.4 92.6,317.6 92.8,318.0 92.9,318.4 93.0,318.6 93.2,319.1 93.3,319.4 93.5,319.9 93.6,320.1 93.7,320.6 93.8,321.0 93.9,321.4 94.0,321.9 94.1,322.1 94.2,322.6 94.3,323.1 94.3,323.4 94.4,323.9 94.5,324.4 94.5,324.9 94.5,325.2 94.6,325.6 94.6,326.1 94.7,326.6 94.7,327.1 94.7,327.6 94.7,328.1 94.7,328.6 94.6,329.1 94.6,329.6 94.5,329.9 94.5,330.4 94.4,330.9 94.3,331.2 94.2,331.6 94.1,332.1 94.0,332.4 93.8,332.8 93.7,333.1 93.5,333.4 93.3,333.9 93.2,334.1 93.0,334.4 92.8,334.8 92.6,335.1 92.4,335.4 92.3,335.6 92.0,335.9 91.8,336.2 91.5,336.5 91.3,336.7 91.0,337.0 90.8,337.2 90.5,337.4 90.3,337.6 90.0,337.9 89.6,338.1 89.3,338.3 89.0,338.4 88.8,338.6 88.3,338.8 88.0,338.9 87.7,339.1 87.3,339.2 86.9,339.4 86.5,339.5 86.0,339.6 85.8,339.6Z" fill="none" stroke="#2e2e2e" stroke-width="0.8"/>
<path d="M83.8,338.1 83.3,338.1 82.8,338.1 82.5,338.1 82.0,338.0 81.5,338.0 81.0,338.0 80.5,337.9 80.1,337.9 79.8,337.8 79.3,337.8 78.8,337.7 78.3,337.6 78.0,337.6 77.5,337.5 77.0,337.4 76.6,337.4 76.3,337.3 75.8,337.2 75.3,337.1 75.0,337.1 74.5,337.0 74.0,336.9 73.8,336.8 73.3,336.7 72.9,336.6 72.5,336.5 72.0,336.4 71.8,336.4 71.3,336.2 70.8,336.1 70.5,336.0 70.0,335.9 69.8,335.8 69.3,335.7 69.0,335.6 68.5,335.5 68.2,335.4 67.8,335.2 67.4,335.1 67.0,335.0 66.6,334.9 66.3,334.7 65.9,334.6 65.5,334.5 65.3,334.4 64.8,334.2 64.5,334.1 64.0,333.9 63.8,333.8 63.4,333.6 63.0,333.4 62.8,333.3 62.4,333.1 62.0,332.9 61.8,332.8 61.4,332.6 61.0,332.4 60.8,332.2 60.5,332.1 60.2,331.9 59.8,331.6 59.5,331.4 59.3,331.2 59.0,331.0 58.8,330.8 58.5,330.5 58.3,330.3 58.0,330.0 57.8,329.6 57.6,329.4 57.5,329.1 57.4,328.6 57.3,328.3 57.3,327.9 57.3,327.6 57.4,327.1 57.5,326.6 57.5,326.3 57.7,325.9 57.8,325.6 58.0,325.1 58.2,324.9 58.3,324.6 58.5,324.3 58.8,323.9 59.0,323.6 59.2,323.4 59.5,323.1 59.7,322.9 59.9,322.6 60.2,322.4 60.4,322.1 60.7,321.9 61.0,321.6 61.3,321.4 61.5,321.2 61.8,321.0 62.0,320.8 62.3,320.6 62.6,320.4 63.0,320.1 63.3,319.9 63.5,319.7 63.8,319.6 64.2,319.4 64.5,319.1 64.8,319.0 65.0,318.8 65.5,318.6 65.8,318.4 66.0,318.3 66.4,318.1 66.8,317.9 67.0,317.8 67.4,317.6 67.8,317.4 68.0,317.3 68.5,317.1 68.8,317.0 69.1,316.9 69.5,316.6 69.8,316.5 70.3,316.4 70.5,316.2 70.9,316.1 71.3,316.0 71.6,315.9 72.0,315.7 72.3,315.6 72.8,315.4 73.0,315.3 73.5,315.2 73.8,315.1 74.3,314.9 74.6,314.9 75.0,314.7 75.5,314.6 75.8,314.5 76.3,314.4 76.5,314.3 77.0,314.2 77.5,314.1 77.8,314.0 78.3,313.9 78.7,313.9 79.0,313.8 79.5,313.7 80.0,313.6 80.3,313.5 80.8,313.5 81.3,313.4 81.6,313.4 82.0,313.3 82.5,313.2 83.0,313.2 83.5,313.2 84.0,313.2 84.5,313.3 84.9,313.4 85.3,313.5 85.8,313.6 86.0,313.7 86.4,313.9 86.8,314.1 87.0,314.2 87.3,314.4 87.6,314.6 87.9,314.9 88.2,315.1 88.5,315.4 88.8,315.6 89.0,315.9 89.2,316.1 89.4,316.4 89.6,316.6 89.8,316.9 90.0,317.2 90.3,317.6 90.5,317.9 90.6,318.1 90.8,318.4 91.0,318.9 91.1,319.1 91.3,319.5 91.5,319.9 91.6,320.1 91.7,320.6 91.8,320.9 92.0,321.4 92.1,321.6 92.2,322.1 92.3,322.5 92.4,322.9 92.5,323.4 92.5,323.6 92.6,324.1 92.7,324.6 92.8,325.1 92.8,325.4 92.9,325.9 92.9,326.4 92.9,326.9 92.9,327.4 92.9,327.9 92.9,328.4 92.9,328.9 92.9,329.4 92.8,329.8 92.8,330.1 92.6,330.6 92.5,331.0 92.4,331.4 92.3,331.8 92.2,332.1 92.0,332.4 91.8,332.9 91.7,333.1 91.5,333.4 91.3,333.8 91.1,334.1 90.9,334.4 90.7,334.6 90.5,334.9 90.3,335.1 90.0,335.4 89.8,335.6 89.5,335.9 89.3,336.1 88.9,336.4 88.6,336.6 88.3,336.8 88.0,336.9 87.7,337.1 87.3,337.3 87.0,337.4 86.5,337.6 86.3,337.7 85.8,337.8 85.5,337.9 85.0,338.0 84.5,338.1 84.0,338.1 83.8,338.1Z" fill="none" stroke="#2e2e2e" stroke-width="0.8"/>
<path d="M84.0,336.4 83.5,336.4 83.0,336.4 82.5,336.4 82.0,336.4 81.8,336.4 81.3,336.3 80.8,336.3 80.3,336.2 79.8,336.2 79.3,336.1 79.0,336.1 78.5,336.0 78.0,335.9 77.6,335.9 77.3,335.8 76.8,335.7 76.3,335.6 76.0,335.6 75.5,335.5 75.0,335.4 74.8,335.3 74.3,335.2 73.8,335.1 73.5,335.1 73.0,334.9 72.7,334.9 72.3,334.7 71.8,334.6 71.5,334.5 71.0,334.4 70.8,334.3 70.3,334.2 70.0,334.1 69.5,333.9 69.3,333.8 68.8,333.7 68.5,333.6 68.0,333.4 67.8,333.3 67.3,333.1 67.0,333.0 66.7,332.9 66.3,332.7 66.0,332.5 65.7,332.4 65.3,332.2 65.0,332.0 64.7,331.9 64.3,331.6 64.0,331.4 63.8,331.3 63.5,331.1 63.2,330.9 62.9,330.6 62.7,330.4 62.4,330.1 62.2,329.9 62.0,329.6 61.8,329.2 61.6,328.9 61.5,328.5 61.5,328.1 61.5,327.6 61.5,327.2 61.6,326.9 61.8,326.4 61.8,326.1 62.0,325.6 62.2,325.4 62.3,325.1 62.5,324.8 62.8,324.4 63.0,324.1 63.2,323.9 63.4,323.6 63.7,323.4 63.9,323.1 64.2,322.9 64.5,322.6 64.7,322.4 65.0,322.1 65.3,321.9 65.5,321.7 65.8,321.5 66.0,321.3 66.4,321.1 66.8,320.9 67.0,320.7 67.3,320.5 67.6,320.4 68.0,320.1 68.3,320.0 68.5,319.8 69.0,319.6 69.3,319.4 69.5,319.3 70.0,319.1 70.3,319.0 70.5,318.8 71.0,318.6 71.3,318.5 71.7,318.4 72.0,318.2 72.3,318.1 72.8,317.9 73.0,317.8 73.5,317.7 73.8,317.6 74.3,317.4 74.5,317.3 75.0,317.2 75.3,317.1 75.8,317.0 76.2,316.9 76.5,316.8 77.0,316.6 77.3,316.6 77.8,316.5 78.3,316.4 78.5,316.3 79.0,316.2 79.5,316.1 79.8,316.1 80.3,316.0 80.8,315.9 81.2,315.9 81.5,315.8 82.0,315.7 82.5,315.7 83.0,315.7 83.5,315.7 84.0,315.7 84.5,315.8 84.8,315.9 85.3,316.1 85.5,316.2 85.9,316.4 86.3,316.6 86.5,316.8 86.8,316.9 87.0,317.1 87.3,317.4 87.6,317.6 87.8,317.9 88.1,318.1 88.3,318.4 88.5,318.7 88.8,319.1 89.0,319.4 89.1,319.6 89.3,319.9 89.5,320.4 89.7,320.6 89.8,320.9 90.0,321.4 90.1,321.6 90.3,322.1 90.4,322.4 90.5,322.9 90.6,323.1 90.7,323.6 90.8,324.0 90.9,324.4 91.0,324.9 91.0,325.4 91.1,325.6 91.1,326.1 91.2,326.6 91.2,327.1 91.2,327.6 91.2,328.1 91.2,328.6 91.1,329.1 91.1,329.6 91.0,329.9 90.9,330.4 90.8,330.7 90.7,331.1 90.5,331.4 90.4,331.9 90.2,332.1 90.0,332.4 89.8,332.8 89.6,333.1 89.4,333.4 89.2,333.6 89.0,333.9 88.8,334.1 88.5,334.4 88.3,334.6 87.9,334.9 87.6,335.1 87.3,335.3 87.0,335.4 86.7,335.6 86.3,335.8 86.0,335.9 85.5,336.1 85.3,336.1 84.8,336.3 84.3,336.3 84.0,336.4Z" fill="none" stroke="#2e2e2e" stroke-width="0.8"/>
<path d="M84.0,334.6 83.5,334.7 83.0,334.7 82.5,334.7 82.0,334.7 81.5,334.7 81.0,334.6 80.8,334.6 80.3,334.5 79.8,334.5 79.3,334.4 78.8,334.4 78.5,334.3 78.0,334.3 77.5,334.2 77.1,334.1 76.8,334.0 76.3,333.9 75.9,333.9 75.5,333.8 75.0,333.7 74.8,333.6 74.3,333.5 73.8,333.4 73.5,333.3 73.0,333.1 72.8,333.1 72.3,332.9 72.0,332.8 71.5,332.7 71.3,332.6 70.8,332.4 70.5,332.3 70.1,332.1 69.8,332.0 69.5,331.8 69.1,331.6 68.8,331.5 68.5,331.3 68.1,331.1 67.8,330.9 67.5,330.7 67.3,330.5 67.0,330.3 66.8,330.1 66.5,329.9 66.3,329.6 66.0,329.2 65.9,328.9 65.8,328.6 65.7,328.1 65.7,327.6 65.8,327.1 65.8,326.9 66.0,326.4 66.1,326.1 66.3,325.7 66.5,325.4 66.7,325.1 66.9,324.9 67.0,324.6 67.3,324.3 67.5,324.0 67.8,323.8 68.0,323.6 68.3,323.3 68.6,323.1 68.9,322.9 69.2,322.6 69.5,322.4 69.8,322.2 70.0,322.0 70.4,321.9 70.8,321.6 71.0,321.5 71.3,321.3 71.7,321.1 72.0,320.9 72.3,320.8 72.8,320.6 73.0,320.5 73.3,320.4 73.8,320.2 74.0,320.1 74.5,319.9 74.8,319.8 75.3,319.6 75.5,319.5 76.0,319.4 76.3,319.3 76.8,319.2 77.0,319.1 77.5,319.0 78.0,318.9 78.3,318.8 78.8,318.7 79.2,318.6 79.5,318.5 80.0,318.4 80.5,318.4 80.8,318.3 81.3,318.3 81.8,318.2 82.3,318.2 82.8,318.1 83.3,318.2 83.8,318.2 84.3,318.4 84.5,318.4 84.9,318.6 85.3,318.8 85.5,318.9 85.8,319.1 86.1,319.4 86.4,319.6 86.7,319.9 86.9,320.1 87.1,320.4 87.3,320.6 87.5,320.9 87.8,321.3 87.9,321.6 88.1,321.9 88.3,322.3 88.4,322.6 88.5,322.9 88.7,323.4 88.8,323.6 89.0,324.1 89.0,324.5 89.1,324.9 89.2,325.4 89.3,325.8 89.3,326.1 89.4,326.6 89.4,327.1 89.5,327.6 89.5,328.1 89.4,328.6 89.4,329.1 89.3,329.5 89.2,329.9 89.1,330.4 89.0,330.6 88.8,331.0 88.6,331.4 88.5,331.6 88.3,331.9 88.0,332.2 87.8,332.5 87.5,332.8 87.3,333.1 87.0,333.3 86.8,333.5 86.5,333.6 86.2,333.9 85.8,334.1 85.5,334.2 85.1,334.4 84.8,334.5 84.3,334.6 84.0,334.6Z" fill="none" stroke="#2e2e2e" stroke-width="0.8"/>
<path d="M84.0,332.9 83.5,333.0 83.0,333.0 82.5,333.0 82.0,333.0 81.5,333.0 81.0,333.0 80.5,332.9 80.0,332.9 79.8,332.8 79.3,332.8 78.8,332.7 78.3,332.6 78.0,332.6 77.5,332.5 77.1,332.4 76.8,332.3 76.3,332.2 76.0,332.1 75.5,332.0 75.1,331.9 74.8,331.7 74.4,331.6 74.0,331.5 73.7,331.4 73.3,331.2 73.0,331.1 72.5,330.9 72.3,330.7 72.0,330.6 71.7,330.4 71.3,330.1 71.0,329.9 70.8,329.7 70.5,329.4 70.3,329.1 70.1,328.9 70.0,328.6 69.9,328.1 69.9,327.6 70.0,327.1 70.1,326.9 70.3,326.4 70.4,326.1 70.6,325.9 70.8,325.5 71.0,325.2 71.3,324.9 71.5,324.7 71.8,324.4 72.0,324.2 72.3,324.0 72.5,323.8 72.9,323.6 73.3,323.4 73.5,323.2 73.8,323.0 74.1,322.9 74.5,322.6 74.8,322.5 75.2,322.4 75.5,322.2 75.8,322.1 76.3,321.9 76.5,321.8 77.0,321.6 77.3,321.6 77.8,321.4 78.0,321.3 78.5,321.2 79.0,321.1 79.3,321.0 79.8,320.9 80.3,320.9 80.5,320.8 81.0,320.7 81.5,320.7 82.0,320.6 82.5,320.6 83.0,320.6 83.5,320.7 84.0,320.9 84.3,321.0 84.6,321.1 84.9,321.4 85.3,321.6 85.5,321.9 85.8,322.1 86.0,322.4 86.2,322.6 86.3,322.9 86.5,323.2 86.8,323.6 86.9,323.9 87.0,324.2 87.2,324.6 87.3,325.0 87.4,325.4 87.5,325.9 87.6,326.1 87.6,326.6 87.7,327.1 87.7,327.6 87.7,328.1 87.7,328.6 87.6,329.1 87.5,329.4 87.4,329.9 87.3,330.1 87.0,330.6 86.9,330.9 86.7,331.1 86.5,331.4 86.3,331.6 86.0,331.9 85.7,332.1 85.3,332.4 85.0,332.5 84.8,332.6 84.3,332.8 84.0,332.9Z" fill="none" stroke="#2e2e2e" stroke-width="0.8"/>
<path d="M82.8,331.4 82.3,331.4 82.0,331.3 81.5,331.3 81.0,331.3 80.5,331.2 80.0,331.2 79.7,331.1 79.3,331.0 78.8,330.9 78.4,330.9 78.0,330.7 77.5,330.6 77.3,330.5 76.8,330.4 76.5,330.3 76.2,330.1 75.8,329.9 75.5,329.8 75.2,329.6 74.9,329.4 74.6,329.1 74.4,328.9 74.2,328.6 74.1,328.1 74.1,327.6 74.3,327.1 74.4,326.9 74.5,326.5 74.8,326.2 75.0,325.9 75.3,325.6 75.5,325.4 75.8,325.2 76.0,325.0 76.3,324.8 76.7,324.6 77.0,324.4 77.3,324.3 77.7,324.1 78.0,324.0 78.4,323.9 78.8,323.7 79.2,323.6 79.5,323.5 80.0,323.4 80.3,323.3 80.8,323.2 81.3,323.2 81.8,323.1 82.1,323.1 82.5,323.1 82.9,323.1 83.3,323.2 83.7,323.4 84.0,323.5 84.3,323.7 84.5,324.0 84.8,324.2 85.0,324.6 85.2,324.9 85.3,325.1 85.5,325.6 85.6,325.9 85.8,326.4 85.8,326.6 85.9,327.1 86.0,327.6 86.0,328.1 85.9,328.6 85.8,329.1 85.7,329.4 85.5,329.7 85.3,330.0 85.0,330.3 84.8,330.6 84.5,330.8 84.3,330.9 83.9,331.1 83.5,331.2 83.0,331.3 82.8,331.4Z" fill="none" stroke="#2e2e2e" stroke-width="0.8"/>
<path d="M83.0,329.6 82.5,329.7 82.0,329.7 81.5,329.6 81.3,329.6 80.8,329.5 80.3,329.4 80.0,329.3 79.5,329.2 79.3,329.1 78.9,328.9 78.6,328.6 78.4,328.4 78.3,327.9 78.5,327.4 78.6,327.1 78.8,326.9 79.1,326.6 79.4,326.4 79.8,326.2 80.0,326.0 80.5,325.9 80.8,325.8 81.3,325.7 81.7,325.6 82.0,325.6 82.5,325.5 82.9,325.6 83.3,325.8 83.5,326.0 83.8,326.3 83.9,326.6 84.0,326.9 84.2,327.4 84.2,327.9 84.2,328.4 84.0,328.8 83.8,329.1 83.6,329.4 83.3,329.5 83.0,329.6Z" fill="none" stroke="#2e2e2e" stroke-width="0.8"/>
<path d="M99.5,295.6 99.0,295.7 98.5,295.7 98.0,295.7 97.5,295.7 97.0,295.7 96.5,295.7 96.1,295.6 95.8,295.5 95.3,295.4 95.0,295.2 94.8,295.0 94.5,294.6 94.5,294.4 94.4,293.9 94.5,293.4 94.6,293.1 94.8,292.6 94.9,292.4 95.0,292.0 95.3,291.6 95.5,291.4 95.7,291.1 95.9,290.9 96.0,290.6 96.3,290.3 96.5,290.0 96.8,289.7 97.0,289.4 97.3,289.1 97.5,288.9 97.7,288.6 97.9,288.4 98.1,288.1 98.3,287.9 98.6,287.6 98.8,287.3 99.0,287.0 99.3,286.7 99.5,286.4 99.8,286.1 99.9,285.9 100.1,285.6 100.3,285.4 100.5,285.0 100.8,284.7 101.0,284.4 101.2,284.1 101.4,283.9 101.6,283.6 101.8,283.3 102.0,283.0 102.3,282.6 102.5,282.4 102.7,282.1 102.9,281.9 103.1,281.6 103.3,281.3 103.5,281.0 103.8,280.7 104.0,280.4 104.3,280.1 104.5,279.9 104.7,279.6 105.0,279.4 105.2,279.1 105.5,278.9 105.7,278.6 106.0,278.4 106.3,278.1 106.5,277.9 106.8,277.7 107.0,277.5 107.3,277.3 107.6,277.1 108.0,276.9 108.3,276.7 108.5,276.5 108.9,276.4 109.3,276.2 109.5,276.1 110.0,275.9 110.3,275.8 110.8,275.6 111.0,275.6 111.5,275.5 112.0,275.4 112.5,275.4 113.0,275.5 113.5,275.5 113.8,275.6 114.3,275.8 114.5,275.9 115.0,276.1 115.3,276.3 115.5,276.5 115.8,276.7 116.0,277.0 116.3,277.3 116.5,277.6 116.6,277.9 116.8,278.2 117.0,278.6 117.0,278.9 117.2,279.4 117.3,279.9 117.3,280.1 117.3,280.6 117.4,281.1 117.3,281.6 117.3,282.1 117.3,282.4 117.2,282.9 117.1,283.4 117.0,283.6 116.9,284.1 116.8,284.4 116.6,284.9 116.5,285.1 116.3,285.6 116.2,285.9 116.0,286.2 115.9,286.6 115.7,286.9 115.5,287.2 115.3,287.6 115.1,287.9 115.0,288.1 114.8,288.4 114.5,288.7 114.3,289.0 114.0,289.3 113.8,289.6 113.6,289.9 113.3,290.1 113.1,290.4 112.9,290.6 112.6,290.9 112.3,291.1 112.0,291.3 111.8,291.5 111.5,291.7 111.3,291.9 111.0,292.1 110.7,292.4 110.3,292.6 110.0,292.8 109.8,292.9 109.5,293.1 109.0,293.3 108.8,293.4 108.5,293.6 108.0,293.8 107.8,293.9 107.3,294.1 107.0,294.2 106.5,294.3 106.3,294.4 105.8,294.5 105.5,294.6 105.0,294.7 104.6,294.9 104.3,294.9 103.8,295.0 103.3,295.1 103.0,295.1 102.5,295.2 102.0,295.3 101.7,295.4 101.3,295.4 100.8,295.5 100.3,295.5 99.8,295.6 99.5,295.6Z" fill="none" stroke="#333" stroke-width="0.85"/>
<path d="M106.8,289.6 106.3,289.7 105.8,289.7 105.3,289.7 105.0,289.6 104.5,289.4 104.3,289.1 104.1,288.9 104.0,288.5 104.0,288.1 104.1,287.9 104.2,287.4 104.3,287.0 104.4,286.6 104.6,286.4 104.8,285.9 104.9,285.6 105.1,285.4 105.3,285.0 105.5,284.6 105.8,284.4 105.9,284.1 106.1,283.9 106.3,283.6 106.6,283.4 106.8,283.1 107.0,282.8 107.3,282.6 107.6,282.4 107.9,282.1 108.3,281.9 108.5,281.7 108.8,281.5 109.2,281.4 109.5,281.2 110.0,281.1 110.3,281.1 110.6,281.1 111.0,281.2 111.5,281.4 111.8,281.6 112.0,281.9 112.2,282.1 112.3,282.4 112.4,282.9 112.4,283.4 112.4,283.9 112.3,284.4 112.2,284.6 112.1,285.1 112.0,285.4 111.8,285.7 111.6,286.1 111.4,286.4 111.2,286.6 111.0,286.9 110.8,287.2 110.5,287.4 110.3,287.7 110.0,287.9 109.8,288.1 109.5,288.4 109.2,288.6 108.8,288.8 108.5,289.0 108.3,289.1 107.8,289.3 107.5,289.4 107.0,289.6 106.8,289.6Z" fill="none" stroke="#333" stroke-width="0.85"/>
</g>
<line x1="97.6" y1="222.6" x2="97.6" y2="346.9" stroke="#111" stroke-width="1.0"/>
<line x1="38.8" y1="305.3" x2="158.6" y2="305.3" stroke="#111" stroke-width="1.0"/>
<rect x="38.8" y="222.6" width="119.8" height="124.3" fill="none" stroke="#111" stroke-width="1.1"/>
<line x1="36" y1="232.9" x2="38.8" y2="232.9" stroke="#111" stroke-width="1.0"/>
<text x="33.2" y="235.8" font-size="7.9" text-anchor="end" fill="#222">10<tspan dy="-2.7" font-size="5.4">5</tspan></text>
<line x1="36" y1="254" x2="38.8" y2="254" stroke="#111" stroke-width="1.0"/>
<text x="33.2" y="256.9" font-size="7.9" text-anchor="end" fill="#222">10<tspan dy="-2.7" font-size="5.4">4</tspan></text>
<line x1="36" y1="277.7" x2="38.8" y2="277.7" stroke="#111" stroke-width="1.0"/>
<text x="33.2" y="280.6" font-size="7.9" text-anchor="end" fill="#222">10<tspan dy="-2.7" font-size="5.4">3</tspan></text>
<line x1="36" y1="309.4" x2="38.8" y2="309.4" stroke="#111" stroke-width="1.0"/>
<text x="27.5" y="312.4" font-size="8.4" text-anchor="middle" font-weight="normal" fill="#222" >0</text>
<line x1="36" y1="339.2" x2="38.8" y2="339.2" stroke="#111" stroke-width="1.0"/>
<text x="33.2" y="342.1" font-size="7.9" text-anchor="end" fill="#222">−10<tspan dy="-2.7" font-size="5.4">3</tspan></text>
<line x1="37" y1="270.57" x2="38.8" y2="270.57" stroke="#111" stroke-width="0.8"/>
<line x1="37" y1="266.39" x2="38.8" y2="266.39" stroke="#111" stroke-width="0.8"/>
<line x1="37" y1="263.43" x2="38.8" y2="263.43" stroke="#111" stroke-width="0.8"/>
<line x1="37" y1="261.13" x2="38.8" y2="261.13" stroke="#111" stroke-width="0.8"/>
<line x1="37" y1="259.26" x2="38.8" y2="259.26" stroke="#111" stroke-width="0.8"/>
<line x1="37" y1="257.67" x2="38.8" y2="257.67" stroke="#111" stroke-width="0.8"/>
<line x1="37" y1="256.3" x2="38.8" y2="256.3" stroke="#111" stroke-width="0.8"/>
<line x1="37" y1="255.08" x2="38.8" y2="255.08" stroke="#111" stroke-width="0.8"/>
<line x1="37" y1="247.65" x2="38.8" y2="247.65" stroke="#111" stroke-width="0.8"/>
<line x1="37" y1="243.93" x2="38.8" y2="243.93" stroke="#111" stroke-width="0.8"/>
<line x1="37" y1="241.3" x2="38.8" y2="241.3" stroke="#111" stroke-width="0.8"/>
<line x1="37" y1="239.25" x2="38.8" y2="239.25" stroke="#111" stroke-width="0.8"/>
<line x1="37" y1="237.58" x2="38.8" y2="237.58" stroke="#111" stroke-width="0.8"/>
<line x1="37" y1="236.17" x2="38.8" y2="236.17" stroke="#111" stroke-width="0.8"/>
<line x1="37" y1="234.94" x2="38.8" y2="234.94" stroke="#111" stroke-width="0.8"/>
<line x1="37" y1="233.87" x2="38.8" y2="233.87" stroke="#111" stroke-width="0.8"/>
<line x1="36.6" y1="303.5" x2="38.8" y2="303.5" stroke="#111" stroke-width="0.9"/>
<line x1="36.6" y1="306.5" x2="38.8" y2="306.5" stroke="#111" stroke-width="0.9"/>
<line x1="36.6" y1="309.4" x2="38.8" y2="309.4" stroke="#111" stroke-width="0.9"/>
<line x1="36.6" y1="312" x2="38.8" y2="312" stroke="#111" stroke-width="0.9"/>
<line x1="36.6" y1="314.5" x2="38.8" y2="314.5" stroke="#111" stroke-width="0.9"/>
<line x1="36.6" y1="318" x2="38.8" y2="318" stroke="#111" stroke-width="0.9"/>
<line x1="64.7" y1="346.9" x2="64.7" y2="349.7" stroke="#111" stroke-width="1.0"/>
<line x1="100.5" y1="346.9" x2="100.5" y2="349.7" stroke="#111" stroke-width="1.0"/>
<line x1="124.3" y1="346.9" x2="124.3" y2="349.7" stroke="#111" stroke-width="1.0"/>
<line x1="148.1" y1="346.9" x2="148.1" y2="349.7" stroke="#111" stroke-width="1.0"/>
<line x1="107.66" y1="346.9" x2="107.66" y2="348.7" stroke="#111" stroke-width="0.8"/>
<line x1="111.86" y1="346.9" x2="111.86" y2="348.7" stroke="#111" stroke-width="0.8"/>
<line x1="114.83" y1="346.9" x2="114.83" y2="348.7" stroke="#111" stroke-width="0.8"/>
<line x1="117.14" y1="346.9" x2="117.14" y2="348.7" stroke="#111" stroke-width="0.8"/>
<line x1="119.02" y1="346.9" x2="119.02" y2="348.7" stroke="#111" stroke-width="0.8"/>
<line x1="120.61" y1="346.9" x2="120.61" y2="348.7" stroke="#111" stroke-width="0.8"/>
<line x1="121.99" y1="346.9" x2="121.99" y2="348.7" stroke="#111" stroke-width="0.8"/>
<line x1="123.21" y1="346.9" x2="123.21" y2="348.7" stroke="#111" stroke-width="0.8"/>
<line x1="131.46" y1="346.9" x2="131.46" y2="348.7" stroke="#111" stroke-width="0.8"/>
<line x1="135.66" y1="346.9" x2="135.66" y2="348.7" stroke="#111" stroke-width="0.8"/>
<line x1="138.63" y1="346.9" x2="138.63" y2="348.7" stroke="#111" stroke-width="0.8"/>
<line x1="140.94" y1="346.9" x2="140.94" y2="348.7" stroke="#111" stroke-width="0.8"/>
<line x1="142.82" y1="346.9" x2="142.82" y2="348.7" stroke="#111" stroke-width="0.8"/>
<line x1="144.41" y1="346.9" x2="144.41" y2="348.7" stroke="#111" stroke-width="0.8"/>
<line x1="145.79" y1="346.9" x2="145.79" y2="348.7" stroke="#111" stroke-width="0.8"/>
<line x1="147.01" y1="346.9" x2="147.01" y2="348.7" stroke="#111" stroke-width="0.8"/>
<line x1="55.5" y1="346.9" x2="55.5" y2="349.1" stroke="#111" stroke-width="0.9"/>
<line x1="58.5" y1="346.9" x2="58.5" y2="349.1" stroke="#111" stroke-width="0.9"/>
<line x1="61.5" y1="346.9" x2="61.5" y2="349.1" stroke="#111" stroke-width="0.9"/>
<line x1="64.7" y1="346.9" x2="64.7" y2="349.1" stroke="#111" stroke-width="0.9"/>
<line x1="67.5" y1="346.9" x2="67.5" y2="349.1" stroke="#111" stroke-width="0.9"/>
<line x1="70.5" y1="346.9" x2="70.5" y2="349.1" stroke="#111" stroke-width="0.9"/>
<line x1="73.5" y1="346.9" x2="73.5" y2="349.1" stroke="#111" stroke-width="0.9"/>
<text x="64.7" y="359.7" font-size="8.4" text-anchor="middle" font-weight="normal" fill="#222" >0</text>
<text x="101.3" y="359.5" font-size="8.2" text-anchor="middle" fill="#222">10<tspan dy="-3.2" font-size="5.5">3</tspan></text>
<text x="125.1" y="359.5" font-size="8.2" text-anchor="middle" fill="#222">10<tspan dy="-3.2" font-size="5.5">4</tspan></text>
<text x="148.9" y="359.5" font-size="8.2" text-anchor="middle" fill="#222">10<tspan dy="-3.2" font-size="5.5">5</tspan></text>
<text x="99.5" y="373.1" font-size="9.6" text-anchor="middle" font-weight="normal" fill="#222" textLength="16.3" lengthAdjust="spacingAndGlyphs" >TIM3</text>
<text transform="translate(16.2,285) rotate(-90) scale(0.652,1)" x="0" y="0" font-size="10.2" text-anchor="middle" fill="#222" >LAG3</text>
<text x="42" y="234.3" font-size="9.7" text-anchor="start" font-weight="normal" fill="#222" textLength="26" lengthAdjust="spacingAndGlyphs" >6.86%</text>
<text x="155.5" y="234.3" font-size="9.7" text-anchor="end" font-weight="normal" fill="#222" textLength="25.5" lengthAdjust="spacingAndGlyphs" >10.2%</text>
<text x="40" y="345.6" font-size="9.7" text-anchor="start" font-weight="normal" fill="#222" textLength="27" lengthAdjust="spacingAndGlyphs" >79.2%</text>
<text x="157" y="345.6" font-size="9.7" text-anchor="end" font-weight="normal" fill="#222" textLength="26.2" lengthAdjust="spacingAndGlyphs" >3.75%</text>
<defs><clipPath id="clipE1"><rect x="38.8" y="420.3" width="117.60000000000001" height="107.49999999999994"/></clipPath></defs>
<g clip-path="url(#clipE1)">
<path fill="#a8a8a8" d="M107.76 455.06h0.8v0.8h-0.8zM118.98 484.64h0.8v0.8h-0.8zM110.37 464.09h0.8v0.8h-0.8zM103.64 452.82h0.8v0.8h-0.8zM78.46 448.75h0.8v0.8h-0.8zM94.98 439.8h0.8v0.8h-0.8zM95.72 450.56h0.8v0.8h-0.8zM122.24 480.82h0.8v0.8h-0.8zM117.33 471.42h0.8v0.8h-0.8zM112.31 476.18h0.8v0.8h-0.8zM125.03 500.75h0.8v0.8h-0.8zM120.57 479.44h0.8v0.8h-0.8zM93.13 448.7h0.8v0.8h-0.8zM127.09 486.26h0.8v0.8h-0.8zM99.29 489.75h0.8v0.8h-0.8zM105.57 450.72h0.8v0.8h-0.8zM109.18 482.68h0.8v0.8h-0.8zM111.12 457.82h0.8v0.8h-0.8zM115.3 483.85h0.8v0.8h-0.8zM100.49 485.18h0.8v0.8h-0.8zM87.33 456.69h0.8v0.8h-0.8zM106.43 490.65h0.8v0.8h-0.8zM134.53 475.33h0.8v0.8h-0.8zM96.82 448.43h0.8v0.8h-0.8zM126.97 494.03h0.8v0.8h-0.8zM87.29 449.01h0.8v0.8h-0.8zM75.42 438.53h0.8v0.8h-0.8zM71.11 443.67h0.8v0.8h-0.8zM109.12 461.27h0.8v0.8h-0.8zM115.07 462.59h0.8v0.8h-0.8zM113.42 468.57h0.8v0.8h-0.8zM112.12 476.29h0.8v0.8h-0.8zM119.06 478.74h0.8v0.8h-0.8zM61.84 450.17h0.8v0.8h-0.8zM113.24 453.89h0.8v0.8h-0.8zM85.27 440.74h0.8v0.8h-0.8zM117.4 478.68h0.8v0.8h-0.8zM120.55 478.55h0.8v0.8h-0.8zM113.78 490.66h0.8v0.8h-0.8zM114.52 459.57h0.8v0.8h-0.8zM111.34 485.49h0.8v0.8h-0.8zM114.31 451.12h0.8v0.8h-0.8zM125 470.75h0.8v0.8h-0.8zM96.94 451.67h0.8v0.8h-0.8zM123.31 472.57h0.8v0.8h-0.8zM115.62 477.63h0.8v0.8h-0.8zM117.54 481.18h0.8v0.8h-0.8zM112.39 449.54h0.8v0.8h-0.8zM121.55 457.89h0.8v0.8h-0.8zM121.57 494.13h0.8v0.8h-0.8zM124.13 468.81h0.8v0.8h-0.8zM94.74 453.7h0.8v0.8h-0.8zM116.08 483.7h0.8v0.8h-0.8zM87.7 453.76h0.8v0.8h-0.8zM124.53 476.66h0.8v0.8h-0.8zM113.39 492.01h0.8v0.8h-0.8zM121.36 445.8h0.8v0.8h-0.8zM117.36 511.8h0.8v0.8h-0.8zM113.43 454.95h0.8v0.8h-0.8zM92.2 448.66h0.8v0.8h-0.8zM115.3 442.35h0.8v0.8h-0.8zM119.71 490.9h0.8v0.8h-0.8zM110.54 474.74h0.8v0.8h-0.8zM96.48 452.12h0.8v0.8h-0.8zM87.07 431.32h0.8v0.8h-0.8zM108.75 489.78h0.8v0.8h-0.8zM116.81 489.02h0.8v0.8h-0.8zM106.94 459.52h0.8v0.8h-0.8zM100.36 454.85h0.8v0.8h-0.8zM118.42 490.74h0.8v0.8h-0.8zM77.9 447.62h0.8v0.8h-0.8zM99.1 436.76h0.8v0.8h-0.8zM110.14 481.27h0.8v0.8h-0.8zM110.13 451.06h0.8v0.8h-0.8zM82.12 434.97h0.8v0.8h-0.8zM109.79 476.19h0.8v0.8h-0.8zM117.22 492.83h0.8v0.8h-0.8zM112.68 478.47h0.8v0.8h-0.8zM74.15 443.78h0.8v0.8h-0.8zM104.84 454.67h0.8v0.8h-0.8zM88.46 455.51h0.8v0.8h-0.8zM108.72 460.4h0.8v0.8h-0.8zM88 455.02h0.8v0.8h-0.8zM117.93 481.74h0.8v0.8h-0.8zM97.31 442.68h0.8v0.8h-0.8zM111.13 482.47h0.8v0.8h-0.8zM109.81 486.14h0.8v0.8h-0.8zM125.63 488.73h0.8v0.8h-0.8zM113.97 469.48h0.8v0.8h-0.8zM80.95 447.78h0.8v0.8h-0.8zM111.49 462.77h0.8v0.8h-0.8zM115.19 484.98h0.8v0.8h-0.8zM138.8 475.63h0.8v0.8h-0.8zM88.66 458.82h0.8v0.8h-0.8zM96.96 449.21h0.8v0.8h-0.8zM99.44 451.81h0.8v0.8h-0.8zM111.31 451.18h0.8v0.8h-0.8zM91.85 446.73h0.8v0.8h-0.8zM104.71 450.95h0.8v0.8h-0.8zM122.85 464.56h0.8v0.8h-0.8zM83.53 448.04h0.8v0.8h-0.8zM107.63 454.01h0.8v0.8h-0.8zM88.29 456.97h0.8v0.8h-0.8zM116.72 449.84h0.8v0.8h-0.8zM117.02 475.83h0.8v0.8h-0.8zM112.51 469.22h0.8v0.8h-0.8zM82.93 444.31h0.8v0.8h-0.8zM84.29 441.04h0.8v0.8h-0.8zM114.62 481.17h0.8v0.8h-0.8zM91.26 443.88h0.8v0.8h-0.8zM110.8 451.77h0.8v0.8h-0.8zM95.38 448.65h0.8v0.8h-0.8zM109.92 489.45h0.8v0.8h-0.8zM116.1 458.88h0.8v0.8h-0.8zM118.5 469.04h0.8v0.8h-0.8zM118.59 468.06h0.8v0.8h-0.8zM106.08 448.46h0.8v0.8h-0.8zM89.21 480.45h0.8v0.8h-0.8zM77.35 438.38h0.8v0.8h-0.8zM117.79 452.05h0.8v0.8h-0.8zM72.62 448.45h0.8v0.8h-0.8zM96.61 489.24h0.8v0.8h-0.8zM108.51 484.44h0.8v0.8h-0.8zM106.58 478.99h0.8v0.8h-0.8zM116.45 462.61h0.8v0.8h-0.8zM104.21 457.51h0.8v0.8h-0.8zM96.55 445.26h0.8v0.8h-0.8zM106.22 483.05h0.8v0.8h-0.8zM91.24 480.51h0.8v0.8h-0.8zM97.11 481.62h0.8v0.8h-0.8zM118.52 454.8h0.8v0.8h-0.8zM112.1 463.22h0.8v0.8h-0.8zM100.22 453.95h0.8v0.8h-0.8zM118.06 463.47h0.8v0.8h-0.8zM107.2 449.78h0.8v0.8h-0.8zM126.05 491.04h0.8v0.8h-0.8zM87.69 441.32h0.8v0.8h-0.8zM132.9 484.75h0.8v0.8h-0.8zM98.18 445.23h0.8v0.8h-0.8zM110.06 463.73h0.8v0.8h-0.8zM85.71 444.05h0.8v0.8h-0.8zM80.85 451.43h0.8v0.8h-0.8zM82.51 439.03h0.8v0.8h-0.8zM81.82 442.15h0.8v0.8h-0.8zM125.88 489.05h0.8v0.8h-0.8zM107.42 447.38h0.8v0.8h-0.8zM111.59 473.46h0.8v0.8h-0.8zM108.75 449.48h0.8v0.8h-0.8zM89.01 453.13h0.8v0.8h-0.8zM75.11 449.41h0.8v0.8h-0.8zM105.69 455.58h0.8v0.8h-0.8zM99.76 453.46h0.8v0.8h-0.8zM112.67 470.25h0.8v0.8h-0.8zM95.16 452.02h0.8v0.8h-0.8zM98.92 450.41h0.8v0.8h-0.8zM85.81 443.36h0.8v0.8h-0.8zM112.06 443.34h0.8v0.8h-0.8zM89.8 444.76h0.8v0.8h-0.8zM102.19 449.4h0.8v0.8h-0.8zM80.1 448.87h0.8v0.8h-0.8zM78.5 435.78h0.8v0.8h-0.8zM112.95 482.8h0.8v0.8h-0.8zM90.72 450.88h0.8v0.8h-0.8zM113.23 471.12h0.8v0.8h-0.8zM105.78 482.78h0.8v0.8h-0.8zM87.87 486.93h0.8v0.8h-0.8zM115.42 488.18h0.8v0.8h-0.8zM83.94 438.37h0.8v0.8h-0.8zM130.67 477.58h0.8v0.8h-0.8zM114.65 458.8h0.8v0.8h-0.8zM85.34 457.11h0.8v0.8h-0.8zM118.32 449.68h0.8v0.8h-0.8zM113.23 468.48h0.8v0.8h-0.8zM83.09 451.83h0.8v0.8h-0.8zM91.45 455.6h0.8v0.8h-0.8zM113.07 442.9h0.8v0.8h-0.8zM128.67 492.32h0.8v0.8h-0.8zM97.45 446.04h0.8v0.8h-0.8zM88.44 445.18h0.8v0.8h-0.8zM124.34 451.85h0.8v0.8h-0.8zM105.72 486.92h0.8v0.8h-0.8zM115.32 462.96h0.8v0.8h-0.8zM86.58 458.71h0.8v0.8h-0.8zM98.4 440.84h0.8v0.8h-0.8zM95 444.63h0.8v0.8h-0.8zM89.8 447.7h0.8v0.8h-0.8zM118.09 458.23h0.8v0.8h-0.8zM88.62 455.13h0.8v0.8h-0.8zM112.6 476.93h0.8v0.8h-0.8zM108.41 486.19h0.8v0.8h-0.8zM86.16 457.2h0.8v0.8h-0.8zM90.75 447.11h0.8v0.8h-0.8zM100.41 434.83h0.8v0.8h-0.8zM111.19 474.93h0.8v0.8h-0.8zM115.93 463.68h0.8v0.8h-0.8zM124.35 452.92h0.8v0.8h-0.8zM110.7 459.26h0.8v0.8h-0.8zM113.7 457.95h0.8v0.8h-0.8zM94.08 448.82h0.8v0.8h-0.8zM108.81 483.89h0.8v0.8h-0.8zM112.39 491.09h0.8v0.8h-0.8zM104.34 454.73h0.8v0.8h-0.8zM124.21 486.11h0.8v0.8h-0.8zM106.6 445.7h0.8v0.8h-0.8zM102.36 486.52h0.8v0.8h-0.8zM99.84 435.89h0.8v0.8h-0.8zM105.66 455.38h0.8v0.8h-0.8zM91.13 447.41h0.8v0.8h-0.8zM124.36 468.36h0.8v0.8h-0.8zM83.69 447.98h0.8v0.8h-0.8zM118.02 469.65h0.8v0.8h-0.8zM89.13 454.27h0.8v0.8h-0.8zM89.98 448.73h0.8v0.8h-0.8zM111.81 481.87h0.8v0.8h-0.8zM111.42 459.53h0.8v0.8h-0.8zM117.12 486.75h0.8v0.8h-0.8zM79.12 433.33h0.8v0.8h-0.8zM126.23 482.8h0.8v0.8h-0.8zM115.36 490.9h0.8v0.8h-0.8zM103.4 481.53h0.8v0.8h-0.8zM109.39 459.92h0.8v0.8h-0.8zM116.64 484.89h0.8v0.8h-0.8zM109.07 445.78h0.8v0.8h-0.8zM78.09 449.9h0.8v0.8h-0.8zM114.46 458.38h0.8v0.8h-0.8zM106.09 440.32h0.8v0.8h-0.8zM102.52 442.1h0.8v0.8h-0.8zM108.24 444.43h0.8v0.8h-0.8zM116.85 479.18h0.8v0.8h-0.8zM108.49 481.99h0.8v0.8h-0.8zM83.7 435.99h0.8v0.8h-0.8zM114.11 486.19h0.8v0.8h-0.8zM113.29 473.36h0.8v0.8h-0.8zM81.38 443.53h0.8v0.8h-0.8zM118.39 467.01h0.8v0.8h-0.8zM103.19 484.71h0.8v0.8h-0.8zM123.66 450.22h0.8v0.8h-0.8zM80.78 429.62h0.8v0.8h-0.8zM124.36 481.63h0.8v0.8h-0.8zM119.59 493.85h0.8v0.8h-0.8zM100.86 455.79h0.8v0.8h-0.8zM127.01 453.51h0.8v0.8h-0.8zM105.25 485.73h0.8v0.8h-0.8zM109.03 477.44h0.8v0.8h-0.8zM111.11 469.5h0.8v0.8h-0.8zM79.78 442.87h0.8v0.8h-0.8zM79.52 450.62h0.8v0.8h-0.8zM110.56 458.94h0.8v0.8h-0.8zM83.09 451.37h0.8v0.8h-0.8zM119.47 483.83h0.8v0.8h-0.8zM106.97 455.29h0.8v0.8h-0.8zM91.69 451.9h0.8v0.8h-0.8zM111.17 466.04h0.8v0.8h-0.8zM96.24 481.47h0.8v0.8h-0.8zM79.82 451.72h0.8v0.8h-0.8zM90.23 480.52h0.8v0.8h-0.8zM66.35 434.16h0.8v0.8h-0.8zM131.1 488.42h0.8v0.8h-0.8zM117.86 471.01h0.8v0.8h-0.8zM95.53 482.46h0.8v0.8h-0.8zM120.07 452.39h0.8v0.8h-0.8zM103.69 490.15h0.8v0.8h-0.8zM116.94 457.08h0.8v0.8h-0.8zM106.42 490.14h0.8v0.8h-0.8zM112.84 448.96h0.8v0.8h-0.8zM110.75 449.12h0.8v0.8h-0.8zM108.04 481.76h0.8v0.8h-0.8zM101.58 451.59h0.8v0.8h-0.8zM88.73 454.3h0.8v0.8h-0.8zM76.57 450.37h0.8v0.8h-0.8zM105.63 449.97h0.8v0.8h-0.8zM90.99 447.77h0.8v0.8h-0.8zM79.78 445.39h0.8v0.8h-0.8zM114.12 480.86h0.8v0.8h-0.8zM122.96 485.99h0.8v0.8h-0.8zM89.9 434.87h0.8v0.8h-0.8zM123.57 487.67h0.8v0.8h-0.8zM97.31 451.61h0.8v0.8h-0.8zM112.08 472.04h0.8v0.8h-0.8zM112.96 480.29h0.8v0.8h-0.8zM101.4 444.43h0.8v0.8h-0.8zM85.38 456.31h0.8v0.8h-0.8zM113.6 456.02h0.8v0.8h-0.8zM100.61 452.35h0.8v0.8h-0.8zM81.62 443.58h0.8v0.8h-0.8zM116.34 459.58h0.8v0.8h-0.8zM87.09 447.62h0.8v0.8h-0.8zM81.07 450.6h0.8v0.8h-0.8zM122.43 491.47h0.8v0.8h-0.8zM111.21 448.33h0.8v0.8h-0.8zM120.05 488.76h0.8v0.8h-0.8zM119.23 474.63h0.8v0.8h-0.8zM89.04 444.51h0.8v0.8h-0.8zM101.84 456.29h0.8v0.8h-0.8zM117.79 469.84h0.8v0.8h-0.8zM125.46 472.61h0.8v0.8h-0.8zM108.79 453.72h0.8v0.8h-0.8zM89.97 452h0.8v0.8h-0.8zM133.43 467.66h0.8v0.8h-0.8zM104.02 486.82h0.8v0.8h-0.8zM106.02 489.89h0.8v0.8h-0.8zM118.27 493.63h0.8v0.8h-0.8zM94.04 456.9h0.8v0.8h-0.8zM113.3 473.26h0.8v0.8h-0.8zM105.5 456.01h0.8v0.8h-0.8zM123.58 477.84h0.8v0.8h-0.8zM111.67 480.31h0.8v0.8h-0.8zM117.45 473.52h0.8v0.8h-0.8zM104.91 452.59h0.8v0.8h-0.8zM102.37 455.62h0.8v0.8h-0.8zM82.87 442.15h0.8v0.8h-0.8zM120.6 485.53h0.8v0.8h-0.8zM117.94 511.39h0.8v0.8h-0.8zM133.05 451.62h0.8v0.8h-0.8zM79.36 437.24h0.8v0.8h-0.8zM116.65 490.72h0.8v0.8h-0.8zM95.14 480.84h0.8v0.8h-0.8zM82.97 446.42h0.8v0.8h-0.8zM119.45 479.93h0.8v0.8h-0.8zM117.99 480.46h0.8v0.8h-0.8zM105.37 454.85h0.8v0.8h-0.8zM115.67 443.46h0.8v0.8h-0.8zM102.72 442.16h0.8v0.8h-0.8zM116.24 487.3h0.8v0.8h-0.8zM77.79 448.23h0.8v0.8h-0.8zM104.22 484.94h0.8v0.8h-0.8zM130.08 454.74h0.8v0.8h-0.8zM107.67 488.46h0.8v0.8h-0.8zM112.97 466.23h0.8v0.8h-0.8zM112.27 485.42h0.8v0.8h-0.8zM111.29 463.89h0.8v0.8h-0.8zM91.84 488.3h0.8v0.8h-0.8zM123.92 464.2h0.8v0.8h-0.8zM99.38 489.43h0.8v0.8h-0.8zM92.16 457.18h0.8v0.8h-0.8zM103.67 431.72h0.8v0.8h-0.8zM120.35 458.73h0.8v0.8h-0.8zM93.49 457.2h0.8v0.8h-0.8zM85.99 453.76h0.8v0.8h-0.8zM84.86 443.7h0.8v0.8h-0.8zM130.31 429.56h0.8v0.8h-0.8zM121.22 428.75h0.8v0.8h-0.8zM105.93 456.03h0.8v0.8h-0.8zM85.91 442.86h0.8v0.8h-0.8zM85.13 451.55h0.8v0.8h-0.8zM121.61 480.46h0.8v0.8h-0.8zM118.01 463.04h0.8v0.8h-0.8zM84.04 448.6h0.8v0.8h-0.8zM90.29 456.6h0.8v0.8h-0.8zM107.7 456.07h0.8v0.8h-0.8zM119.67 458.24h0.8v0.8h-0.8zM112.28 473.26h0.8v0.8h-0.8zM112.72 460.94h0.8v0.8h-0.8zM91.53 450.9h0.8v0.8h-0.8zM116 443.07h0.8v0.8h-0.8zM76.16 450.03h0.8v0.8h-0.8zM117.39 463.52h0.8v0.8h-0.8zM120.71 460.8h0.8v0.8h-0.8zM92.23 481.63h0.8v0.8h-0.8zM96.55 435.56h0.8v0.8h-0.8zM113.76 449.37h0.8v0.8h-0.8zM95.15 455.13h0.8v0.8h-0.8zM113.06 478.19h0.8v0.8h-0.8zM118.45 468.08h0.8v0.8h-0.8zM114.27 463.56h0.8v0.8h-0.8zM111.47 434.22h0.8v0.8h-0.8zM107.88 482.47h0.8v0.8h-0.8zM107.03 485h0.8v0.8h-0.8zM113.42 458.56h0.8v0.8h-0.8zM115.58 481.55h0.8v0.8h-0.8zM69.81 446.12h0.8v0.8h-0.8zM94.51 439.41h0.8v0.8h-0.8zM95.74 449.95h0.8v0.8h-0.8zM103.89 450.53h0.8v0.8h-0.8zM78.36 441.84h0.8v0.8h-0.8zM117.95 473.13h0.8v0.8h-0.8zM123.41 470.63h0.8v0.8h-0.8zM104.94 449.1h0.8v0.8h-0.8zM116.93 455.97h0.8v0.8h-0.8zM114.22 454.52h0.8v0.8h-0.8z"/>
<path fill="rgb(25,25,25)" d="M73.8 492.3h7v1h-7zM71.8 493.3h16v1h-16zM70.8 494.3h17v1h-17zM69.8 495.3h18v1h-18zM68.8 496.3h19v1h-19zM68.8 497.3h19v1h-19zM68.8 498.3h19v1h-19zM67.8 499.3h11v1h-11zM67.8 500.3h5v1h-5zM67.8 501.3h5v1h-5zM67.8 502.3h20v1h-20zM68.8 503.3h19v1h-19zM68.8 504.3h19v1h-19zM69.8 505.3h18v1h-18zM70.8 506.3h17v1h-17zM73.8 507.3h4v1h-4z"/>
<path fill="rgb(102,102,102)" d="M87.8 496.3h3v1h-3zM87.8 497.3h12v1h-12zM87.8 498.3h18v1h-18zM87.8 502.3h17v1h-17zM87.8 503.3h9v1h-9z"/>
<path fill="rgb(127,127,127)" d="M87.8 493.3h8v1h-8zM87.8 494.3h21v1h-21zM87.8 495.3h25v1h-25zM90.8 496.3h24v1h-24zM99.8 497.3h16v1h-16zM105.8 498.3h11v1h-11zM115.8 499.3h2v1h-2zM115.8 500.3h2v1h-2zM115.8 501.3h2v1h-2zM104.8 502.3h12v1h-12zM96.8 503.3h19v1h-19zM87.8 504.3h26v1h-26zM87.8 505.3h21v1h-21zM87.8 506.3h1v1h-1z"/>
<path fill="rgb(229,229,229)" d="M78.8 499.3h37v1h-37zM72.8 500.3h43v1h-43zM72.8 501.3h43v1h-43z"/>
<path d="M77.8,510.1 77.3,510.1 76.8,510.2 76.3,510.2 75.8,510.2 75.3,510.3 74.8,510.3 74.3,510.3 73.8,510.2 73.3,510.1 72.9,510.1 72.5,510.0 72.0,509.8 71.8,509.7 71.4,509.6 71.0,509.4 70.8,509.3 70.4,509.1 70.0,508.8 69.8,508.6 69.5,508.5 69.3,508.3 69.0,508.0 68.8,507.8 68.5,507.6 68.2,507.3 68.0,507.1 67.8,506.8 67.5,506.6 67.3,506.3 67.0,506.0 66.8,505.6 66.6,505.3 66.4,505.1 66.2,504.8 66.0,504.5 65.8,504.1 65.6,503.8 65.5,503.6 65.3,503.1 65.2,502.8 65.1,502.3 65.0,502.0 65.0,501.6 64.9,501.1 64.9,500.6 65.0,500.1 65.0,499.6 65.1,499.3 65.2,498.8 65.3,498.3 65.3,498.1 65.5,497.6 65.6,497.3 65.8,496.8 65.9,496.6 66.0,496.2 66.2,495.8 66.4,495.6 66.5,495.2 66.8,494.8 66.9,494.6 67.1,494.3 67.3,493.9 67.5,493.6 67.7,493.3 67.8,493.1 68.0,492.6 68.2,492.3 68.3,492.1 68.5,491.6 68.6,491.3 68.7,490.8 68.8,490.3 68.8,489.8 68.7,489.3 68.6,488.8 68.5,488.4 68.5,488.1 68.4,487.6 68.3,487.2 68.2,486.8 68.1,486.3 68.1,485.8 68.0,485.6 68.0,485.1 67.9,484.6 67.9,484.1 67.8,483.6 67.8,483.1 67.8,482.7 67.8,482.3 67.8,481.8 67.8,481.3 67.8,480.8 67.8,480.4 67.8,480.1 67.8,479.6 67.8,479.1 67.8,478.6 67.9,478.1 67.9,477.6 67.9,477.1 67.9,476.6 67.9,476.1 68.0,475.6 68.0,475.1 68.0,474.6 68.1,474.3 68.1,473.8 68.1,473.3 68.2,472.8 68.2,472.3 68.3,471.8 68.3,471.4 68.3,471.1 68.4,470.6 68.4,470.1 68.5,469.6 68.5,469.2 68.6,468.8 68.7,468.3 68.7,467.8 68.8,467.3 68.8,467.1 68.9,466.6 69.0,466.1 69.0,465.8 69.1,465.3 69.2,464.8 69.3,464.4 69.4,464.1 69.5,463.6 69.5,463.1 69.6,462.8 69.7,462.3 69.8,462.0 69.9,461.6 70.0,461.1 70.1,460.8 70.2,460.3 70.3,460.0 70.4,459.6 70.5,459.1 70.6,458.8 70.8,458.3 70.9,458.1 71.0,457.6 71.1,457.3 71.3,456.9 71.4,456.6 71.5,456.2 71.7,455.8 71.8,455.6 72.0,455.1 72.2,454.8 72.3,454.5 72.5,454.1 72.7,453.8 72.8,453.6 73.0,453.2 73.3,452.8 73.5,452.6 73.7,452.3 73.9,452.1 74.1,451.8 74.4,451.6 74.7,451.3 75.0,451.1 75.3,450.9 75.5,450.7 76.0,450.6 76.3,450.5 76.8,450.5 77.3,450.5 77.5,450.6 78.0,450.7 78.3,450.8 78.7,451.1 79.0,451.3 79.3,451.4 79.5,451.6 79.8,451.8 80.0,452.1 80.3,452.3 80.5,452.6 80.8,452.8 81.0,453.1 81.3,453.4 81.5,453.7 81.8,454.0 82.0,454.3 82.2,454.6 82.4,454.8 82.6,455.1 82.8,455.3 83.0,455.7 83.3,456.0 83.5,456.3 83.8,456.6 84.0,456.8 84.2,457.1 84.4,457.3 84.6,457.6 84.9,457.8 85.1,458.1 85.4,458.3 85.8,458.6 86.0,458.7 86.3,458.9 86.8,459.1 87.0,459.1 87.5,459.2 88.0,459.2 88.5,459.1 89.0,459.1 89.3,459.0 89.8,458.8 90.0,458.7 90.5,458.6 90.8,458.5 91.3,458.3 91.5,458.3 92.0,458.1 92.3,458.0 92.8,457.8 93.0,457.8 93.5,457.6 93.8,457.5 94.3,457.4 94.7,457.3 95.0,457.2 95.5,457.1 95.8,457.0 96.3,456.9 96.7,456.8 97.0,456.7 97.5,456.6 98.0,456.6 98.3,456.5 98.8,456.5 99.3,456.4 99.8,456.4 100.3,456.4 100.8,456.5 101.3,456.5 101.6,456.6 102.0,456.6 102.5,456.8 102.8,456.8 103.3,457.0 103.5,457.1 104.0,457.3 104.3,457.5 104.5,457.6 104.9,457.8 105.3,458.1 105.5,458.2 105.8,458.4 106.0,458.6 106.3,458.9 106.5,459.1 106.8,459.4 107.0,459.6 107.3,459.9 107.5,460.2 107.8,460.6 108.0,460.8 108.1,461.1 108.3,461.3 108.5,461.7 108.7,462.1 108.9,462.3 109.0,462.7 109.2,463.1 109.3,463.3 109.5,463.8 109.6,464.1 109.8,464.5 109.9,464.8 110.0,465.3 110.1,465.6 110.2,466.1 110.3,466.3 110.4,466.8 110.5,467.3 110.5,467.7 110.6,468.1 110.7,468.6 110.7,469.1 110.7,469.6 110.7,470.1 110.8,470.6 110.7,471.1 110.7,471.6 110.6,472.1 110.5,472.4 110.5,472.8 110.3,473.3 110.2,473.6 110.0,474.0 109.9,474.3 109.8,474.6 109.6,475.1 109.4,475.3 109.3,475.6 109.0,475.9 108.8,476.2 108.5,476.5 108.3,476.8 108.1,477.1 107.8,477.3 107.5,477.5 107.3,477.7 107.0,477.9 106.8,478.1 106.5,478.3 106.2,478.6 105.8,478.8 105.5,478.9 105.2,479.1 104.8,479.2 104.5,479.3 104.0,479.5 103.8,479.6 103.3,479.8 103.0,479.8 102.5,479.9 102.0,480.0 101.8,480.1 101.3,480.1 100.8,480.2 100.3,480.2 99.8,480.2 99.3,480.2 98.8,480.2 98.3,480.2 97.8,480.1 97.3,480.1 96.8,480.1 96.5,480.0 96.0,480.0 95.5,479.9 95.0,479.9 94.6,479.8 94.3,479.8 93.8,479.7 93.3,479.6 92.8,479.6 92.3,479.6 92.0,479.5 91.5,479.5 91.0,479.5 90.5,479.5 90.3,479.6 89.8,479.7 89.5,479.8 89.0,480.0 88.8,480.2 88.5,480.4 88.3,480.7 88.0,481.0 87.9,481.3 87.7,481.6 87.5,481.9 87.4,482.3 87.3,482.6 87.1,483.1 87.0,483.3 86.8,483.8 86.7,484.1 86.6,484.6 86.5,484.8 86.3,485.3 86.2,485.6 86.1,486.1 86.0,486.3 85.9,486.8 85.8,487.2 85.7,487.6 85.7,488.1 85.8,488.6 85.9,488.8 86.1,489.1 86.4,489.3 86.8,489.6 87.0,489.6 87.5,489.8 87.8,489.9 88.3,490.0 88.7,490.1 89.0,490.1 89.5,490.2 90.0,490.2 90.5,490.2 91.0,490.3 91.3,490.3 91.8,490.3 92.3,490.4 92.8,490.4 93.3,490.4 93.8,490.5 94.3,490.5 94.8,490.5 95.3,490.5 95.5,490.6 96.0,490.6 96.5,490.6 97.0,490.6 97.5,490.7 98.0,490.7 98.5,490.7 99.0,490.8 99.5,490.8 99.9,490.8 100.3,490.8 100.8,490.8 101.3,490.9 101.8,490.9 102.3,490.9 102.8,491.0 103.3,491.0 103.8,491.0 104.3,491.1 104.5,491.1 105.0,491.1 105.5,491.1 106.0,491.1 106.5,491.2 107.0,491.2 107.5,491.2 108.0,491.3 108.3,491.3 108.8,491.3 109.3,491.4 109.8,491.4 110.3,491.5 110.7,491.6 111.0,491.6 111.5,491.7 112.0,491.8 112.3,491.8 112.8,491.9 113.3,492.0 113.5,492.1 114.0,492.2 114.3,492.3 114.8,492.4 115.1,492.6 115.5,492.7 115.8,492.8 116.3,493.0 116.5,493.1 116.9,493.3 117.3,493.5 117.5,493.6 117.8,493.8 118.2,494.1 118.5,494.3 118.8,494.5 119.0,494.6 119.3,494.9 119.5,495.1 119.8,495.3 120.0,495.6 120.3,495.8 120.5,496.1 120.8,496.4 121.0,496.8 121.2,497.1 121.4,497.3 121.5,497.6 121.7,498.1 121.9,498.3 122.0,498.8 122.1,499.1 122.2,499.6 122.3,500.1 122.3,500.3 122.4,500.8 122.3,501.3 122.3,501.6 122.2,502.1 122.0,502.4 121.9,502.8 121.8,503.1 121.5,503.4 121.3,503.7 121.0,504.0 120.8,504.3 120.6,504.6 120.3,504.8 120.0,505.0 119.8,505.2 119.5,505.4 119.3,505.6 118.8,505.8 118.5,506.0 118.3,506.1 117.9,506.3 117.5,506.5 117.3,506.6 116.8,506.7 116.5,506.8 116.0,507.0 115.8,507.1 115.3,507.2 115.0,507.3 114.5,507.4 114.0,507.5 113.8,507.6 113.3,507.7 112.8,507.8 112.5,507.8 112.0,507.9 111.5,508.0 111.0,508.0 110.6,508.1 110.3,508.1 109.8,508.1 109.3,508.2 108.8,508.2 108.3,508.2 107.8,508.3 107.3,508.3 107.0,508.3 106.5,508.3 106.0,508.3 105.5,508.4 105.0,508.4 104.5,508.4 104.0,508.4 103.5,508.4 103.0,508.5 102.5,508.5 102.0,508.5 101.5,508.5 101.0,508.5 100.8,508.6 100.3,508.6 99.8,508.6 99.3,508.6 98.8,508.6 98.3,508.6 97.8,508.7 97.3,508.7 96.8,508.7 96.3,508.7 95.8,508.7 95.3,508.7 94.8,508.8 94.3,508.8 93.8,508.8 93.3,508.8 93.0,508.8 92.5,508.8 92.0,508.8 91.5,508.8 91.0,508.9 90.5,508.9 90.0,508.9 89.5,508.9 89.0,508.9 88.5,508.9 88.0,508.9 87.5,509.0 87.0,509.0 86.5,509.0 86.0,509.0 85.5,509.0 85.2,509.1 84.8,509.1 84.3,509.1 83.8,509.2 83.3,509.2 82.8,509.3 82.5,509.3 82.0,509.4 81.5,509.5 81.0,509.5 80.8,509.6 80.3,509.7 79.8,509.8 79.5,509.8 79.0,509.9 78.5,510.0 78.0,510.0 77.8,510.1Z" fill="none" stroke="#111" stroke-width="0.8"/>
<path d="M76.5,509.8 76.0,509.9 75.5,509.9 75.0,509.9 74.5,509.9 74.0,509.9 73.6,509.8 73.3,509.8 72.8,509.6 72.5,509.6 72.0,509.4 71.8,509.3 71.3,509.1 71.0,509.0 70.7,508.8 70.3,508.6 70.0,508.4 69.8,508.2 69.5,508.0 69.3,507.8 69.0,507.6 68.8,507.3 68.5,507.1 68.3,506.8 68.0,506.6 67.8,506.3 67.5,506.0 67.3,505.6 67.0,505.3 66.9,505.1 66.7,504.8 66.5,504.5 66.3,504.1 66.1,503.8 66.0,503.6 65.8,503.1 65.7,502.8 65.6,502.3 65.5,502.0 65.5,501.6 65.4,501.1 65.4,500.6 65.5,500.1 65.5,499.6 65.6,499.3 65.7,498.8 65.8,498.3 65.9,498.1 66.0,497.6 66.1,497.3 66.3,496.9 66.4,496.6 66.6,496.3 66.8,495.8 66.9,495.6 67.1,495.3 67.3,494.9 67.5,494.6 67.7,494.3 67.8,494.1 68.0,493.7 68.3,493.4 68.5,493.1 68.7,492.8 68.8,492.6 69.0,492.2 69.3,491.8 69.4,491.6 69.6,491.3 69.7,490.8 69.8,490.6 69.9,490.1 69.9,489.6 69.8,489.1 69.8,488.8 69.7,488.3 69.6,487.8 69.5,487.6 69.4,487.1 69.3,486.6 69.2,486.3 69.2,485.8 69.1,485.3 69.0,485.1 69.0,484.6 68.9,484.1 68.9,483.6 68.9,483.1 68.8,482.6 68.8,482.1 68.8,481.6 68.8,481.1 68.8,480.6 68.9,480.1 68.9,479.6 68.9,479.1 68.9,478.6 68.9,478.1 68.9,477.6 69.0,477.1 69.0,476.6 69.0,476.1 69.0,475.6 69.1,475.3 69.1,474.8 69.1,474.3 69.2,473.8 69.2,473.3 69.3,472.8 69.3,472.5 69.3,472.1 69.4,471.6 69.5,471.1 69.5,470.6 69.6,470.3 69.6,469.8 69.7,469.3 69.8,468.8 69.8,468.6 69.9,468.1 70.0,467.6 70.0,467.1 70.1,466.8 70.2,466.3 70.3,465.8 70.3,465.6 70.5,465.1 70.5,464.6 70.6,464.3 70.7,463.8 70.8,463.6 70.9,463.1 71.0,462.6 71.1,462.3 71.3,461.8 71.4,461.6 71.5,461.1 71.6,460.8 71.8,460.3 71.9,460.1 72.0,459.6 72.1,459.3 72.3,458.9 72.5,458.6 72.6,458.3 72.8,457.8 72.9,457.6 73.1,457.3 73.3,456.9 73.5,456.6 73.7,456.3 73.9,456.1 74.0,455.8 74.3,455.5 74.5,455.2 74.8,455.0 75.1,454.8 75.4,454.6 75.8,454.4 76.0,454.3 76.5,454.2 77.0,454.2 77.5,454.3 77.8,454.3 78.3,454.6 78.5,454.7 78.8,454.9 79.1,455.1 79.4,455.3 79.6,455.6 79.9,455.8 80.1,456.1 80.3,456.3 80.5,456.6 80.8,456.9 81.0,457.2 81.3,457.5 81.5,457.8 81.6,458.1 81.8,458.3 82.0,458.7 82.3,459.1 82.5,459.3 82.6,459.6 82.8,459.9 83.0,460.3 83.2,460.6 83.4,460.8 83.5,461.1 83.8,461.6 83.9,461.8 84.1,462.1 84.3,462.4 84.5,462.8 84.7,463.1 84.9,463.3 85.0,463.6 85.3,463.9 85.5,464.3 85.7,464.6 86.0,464.8 86.2,465.1 86.4,465.3 86.7,465.6 87.0,465.7 87.3,465.8 87.8,465.9 88.2,465.8 88.5,465.6 88.8,465.5 89.1,465.3 89.4,465.1 89.7,464.8 90.0,464.6 90.3,464.3 90.5,464.1 90.8,463.8 91.0,463.6 91.3,463.4 91.5,463.2 91.8,463.0 92.1,462.8 92.4,462.6 92.7,462.3 93.0,462.1 93.3,461.9 93.5,461.8 93.9,461.6 94.3,461.3 94.5,461.2 94.8,461.0 95.3,460.8 95.5,460.7 95.8,460.5 96.3,460.3 96.5,460.2 97.0,460.1 97.3,460.0 97.8,459.8 98.0,459.7 98.5,459.6 99.0,459.6 99.3,459.5 99.8,459.5 100.3,459.5 100.8,459.5 101.3,459.5 101.5,459.6 102.0,459.7 102.5,459.8 102.8,459.9 103.2,460.1 103.5,460.2 103.8,460.4 104.1,460.6 104.5,460.8 104.8,461.1 105.0,461.3 105.3,461.5 105.5,461.7 105.8,462.0 106.0,462.3 106.2,462.6 106.4,462.8 106.6,463.1 106.8,463.4 107.0,463.8 107.2,464.1 107.3,464.3 107.5,464.8 107.6,465.1 107.8,465.4 107.9,465.8 108.0,466.2 108.2,466.6 108.3,467.1 108.3,467.3 108.4,467.8 108.5,468.3 108.6,468.6 108.6,469.1 108.6,469.6 108.7,470.1 108.7,470.6 108.7,471.1 108.6,471.6 108.5,471.8 108.4,472.3 108.3,472.8 108.2,473.1 108.0,473.4 107.9,473.8 107.7,474.1 107.5,474.4 107.3,474.8 107.1,475.1 106.9,475.3 106.6,475.6 106.4,475.8 106.1,476.1 105.8,476.3 105.5,476.5 105.3,476.7 105.0,476.8 104.6,477.1 104.3,477.2 104.0,477.3 103.5,477.5 103.3,477.6 102.8,477.8 102.5,477.8 102.0,477.9 101.5,478.0 101.1,478.1 100.8,478.1 100.3,478.1 99.8,478.1 99.3,478.1 99.0,478.0 98.5,478.0 98.0,477.9 97.5,477.8 97.3,477.8 96.8,477.7 96.3,477.6 96.0,477.5 95.5,477.3 95.3,477.3 94.8,477.1 94.5,477.0 94.0,476.8 93.8,476.7 93.4,476.6 93.0,476.4 92.8,476.3 92.3,476.1 92.0,475.9 91.7,475.8 91.3,475.6 91.0,475.5 90.7,475.3 90.3,475.1 90.0,475.0 89.5,474.9 89.3,474.8 88.8,474.8 88.5,474.8 88.0,475.0 87.8,475.2 87.5,475.5 87.4,475.8 87.2,476.1 87.0,476.4 86.9,476.8 86.8,477.1 86.6,477.6 86.5,477.8 86.3,478.3 86.3,478.6 86.1,479.1 86.0,479.4 86.0,479.8 85.8,480.3 85.8,480.6 85.7,481.1 85.6,481.6 85.5,481.8 85.5,482.3 85.4,482.8 85.3,483.2 85.2,483.6 85.1,484.1 85.0,484.4 84.9,484.8 84.8,485.3 84.8,485.6 84.6,486.1 84.5,486.4 84.4,486.8 84.3,487.3 84.3,487.6 84.2,488.1 84.2,488.6 84.3,488.9 84.5,489.3 84.7,489.6 85.0,489.8 85.3,489.9 85.6,490.1 86.0,490.2 86.4,490.3 86.8,490.4 87.3,490.5 87.7,490.6 88.0,490.6 88.5,490.6 89.0,490.7 89.5,490.7 90.0,490.8 90.5,490.8 90.8,490.8 91.3,490.8 91.8,490.9 92.3,490.9 92.8,490.9 93.3,490.9 93.8,491.0 94.3,491.0 94.8,491.0 95.2,491.1 95.5,491.1 96.0,491.1 96.5,491.1 97.0,491.1 97.5,491.2 98.0,491.2 98.5,491.2 99.0,491.3 99.5,491.3 99.9,491.3 100.3,491.3 100.8,491.3 101.3,491.4 101.8,491.4 102.3,491.4 102.8,491.5 103.3,491.5 103.8,491.5 104.3,491.6 104.5,491.6 105.0,491.6 105.5,491.6 106.0,491.6 106.5,491.7 107.0,491.7 107.5,491.7 108.0,491.8 108.3,491.8 108.8,491.9 109.3,491.9 109.8,492.0 110.3,492.0 110.5,492.1 111.0,492.1 111.5,492.2 112.0,492.3 112.3,492.3 112.8,492.5 113.2,492.6 113.5,492.6 114.0,492.8 114.3,492.9 114.8,493.0 115.0,493.1 115.5,493.3 115.8,493.4 116.1,493.6 116.5,493.8 116.8,493.9 117.1,494.1 117.5,494.3 117.8,494.5 118.0,494.7 118.3,494.8 118.6,495.1 118.9,495.3 119.2,495.6 119.4,495.8 119.7,496.1 119.9,496.3 120.1,496.6 120.3,496.8 120.5,497.2 120.7,497.6 120.9,497.8 121.0,498.2 121.2,498.6 121.3,498.8 121.5,499.3 121.5,499.8 121.6,500.1 121.6,500.6 121.7,501.1 121.6,501.6 121.5,501.8 121.4,502.3 121.3,502.6 121.0,503.0 120.9,503.3 120.7,503.6 120.5,503.8 120.3,504.1 120.0,504.3 119.7,504.6 119.4,504.8 119.1,505.1 118.8,505.2 118.5,505.4 118.3,505.6 117.8,505.8 117.5,505.9 117.3,506.1 116.8,506.3 116.5,506.4 116.0,506.5 115.8,506.6 115.3,506.8 115.0,506.9 114.5,507.0 114.3,507.1 113.8,507.2 113.3,507.3 113.0,507.3 112.5,507.4 112.0,507.5 111.5,507.5 111.3,507.6 110.8,507.6 110.3,507.7 109.8,507.7 109.3,507.8 109.0,507.8 108.5,507.8 108.0,507.9 107.5,507.9 107.0,507.9 106.5,507.9 106.0,508.0 105.5,508.0 105.0,508.0 104.5,508.0 104.0,508.0 103.8,508.1 103.3,508.1 102.8,508.1 102.3,508.1 101.8,508.1 101.3,508.2 100.8,508.2 100.3,508.2 99.8,508.2 99.3,508.2 98.8,508.3 98.3,508.3 97.8,508.3 97.5,508.3 97.0,508.3 96.5,508.3 96.0,508.4 95.5,508.4 95.0,508.4 94.5,508.4 94.0,508.4 93.5,508.4 93.0,508.5 92.5,508.5 92.0,508.5 91.5,508.5 91.0,508.5 90.5,508.5 90.0,508.5 89.5,508.5 89.2,508.6 88.8,508.6 88.3,508.6 87.8,508.6 87.3,508.6 86.8,508.6 86.3,508.7 85.8,508.7 85.3,508.7 84.8,508.7 84.3,508.8 83.8,508.8 83.5,508.8 83.0,508.9 82.5,509.0 82.0,509.0 81.8,509.1 81.3,509.1 80.8,509.2 80.3,509.3 80.0,509.3 79.5,509.4 79.0,509.5 78.8,509.6 78.3,509.6 77.8,509.7 77.3,509.8 76.8,509.8 76.5,509.8Z" fill="none" stroke="#111" stroke-width="0.8"/>
<path d="M77.5,509.3 77.0,509.4 76.5,509.4 76.0,509.5 75.5,509.5 75.0,509.5 74.5,509.5 74.0,509.5 73.5,509.4 73.1,509.3 72.8,509.2 72.3,509.1 72.0,509.0 71.6,508.8 71.3,508.7 71.0,508.5 70.7,508.3 70.3,508.1 70.0,507.9 69.8,507.7 69.5,507.5 69.3,507.3 69.0,507.0 68.8,506.8 68.5,506.5 68.3,506.2 68.0,505.9 67.8,505.6 67.6,505.3 67.4,505.1 67.2,504.8 67.0,504.5 66.8,504.1 66.7,503.8 66.5,503.6 66.3,503.1 66.3,502.8 66.1,502.3 66.0,502.0 66.0,501.6 66.0,501.1 66.0,500.6 66.0,500.1 66.0,499.6 66.1,499.3 66.2,498.8 66.3,498.4 66.4,498.1 66.5,497.6 66.7,497.3 66.8,497.0 67.0,496.6 67.1,496.3 67.3,495.9 67.5,495.6 67.7,495.3 67.8,495.1 68.0,494.7 68.3,494.3 68.5,494.1 68.7,493.8 68.9,493.6 69.0,493.3 69.3,493.0 69.5,492.7 69.8,492.3 70.0,492.1 70.2,491.8 70.4,491.6 70.6,491.3 70.8,490.9 71.0,490.6 71.1,490.3 71.2,489.8 71.2,489.3 71.1,488.8 71.0,488.3 71.0,488.1 70.9,487.6 70.8,487.3 70.7,486.8 70.5,486.4 70.5,486.1 70.4,485.6 70.3,485.1 70.3,484.8 70.2,484.3 70.1,483.8 70.1,483.3 70.1,482.8 70.1,482.3 70.1,481.8 70.1,481.3 70.1,480.8 70.1,480.3 70.1,479.8 70.1,479.3 70.1,478.8 70.1,478.3 70.2,477.8 70.2,477.3 70.2,476.8 70.2,476.3 70.3,475.8 70.3,475.6 70.3,475.1 70.4,474.6 70.4,474.1 70.5,473.6 70.5,473.1 70.6,472.8 70.6,472.3 70.7,471.8 70.8,471.3 70.8,471.1 70.9,470.6 71.0,470.1 71.0,469.6 71.1,469.3 71.2,468.8 71.3,468.3 71.3,468.1 71.4,467.6 71.5,467.1 71.6,466.8 71.7,466.3 71.8,466.1 71.9,465.6 72.0,465.2 72.2,464.8 72.3,464.3 72.4,464.1 72.5,463.6 72.7,463.3 72.8,462.9 73.0,462.6 73.1,462.3 73.3,461.8 73.4,461.6 73.5,461.3 73.8,460.8 74.0,460.6 74.1,460.3 74.3,460.1 74.5,459.7 74.8,459.5 75.0,459.2 75.3,459.0 75.6,458.8 76.0,458.6 76.3,458.5 76.8,458.5 77.3,458.5 77.5,458.6 78.0,458.8 78.3,458.9 78.5,459.1 78.8,459.3 79.1,459.6 79.3,459.8 79.6,460.1 79.8,460.3 80.0,460.7 80.3,461.0 80.5,461.3 80.6,461.6 80.8,461.8 81.0,462.3 81.2,462.6 81.3,462.8 81.5,463.2 81.7,463.6 81.8,463.8 82.0,464.3 82.2,464.6 82.3,464.9 82.5,465.3 82.6,465.6 82.7,466.1 82.8,466.3 83.0,466.8 83.1,467.1 83.2,467.6 83.3,467.8 83.4,468.3 83.5,468.7 83.6,469.1 83.7,469.6 83.8,469.8 83.9,470.3 84.0,470.8 84.0,471.3 84.1,471.6 84.1,472.1 84.2,472.6 84.2,473.1 84.2,473.6 84.3,474.1 84.3,474.6 84.3,475.1 84.2,475.6 84.2,476.1 84.2,476.6 84.2,477.1 84.2,477.6 84.1,478.1 84.1,478.6 84.1,479.1 84.0,479.3 84.0,479.8 84.0,480.3 83.9,480.8 83.9,481.3 83.8,481.8 83.8,482.3 83.8,482.6 83.7,483.1 83.6,483.6 83.5,484.0 83.5,484.3 83.4,484.8 83.3,485.2 83.2,485.6 83.1,486.1 83.0,486.3 82.9,486.8 82.8,487.1 82.7,487.6 82.6,488.1 82.5,488.3 82.5,488.8 82.6,489.1 82.8,489.6 83.0,489.8 83.3,490.0 83.5,490.2 83.8,490.3 84.3,490.5 84.5,490.6 85.0,490.7 85.3,490.8 85.8,490.9 86.3,491.0 86.8,491.0 87.0,491.1 87.5,491.1 88.0,491.2 88.5,491.2 89.0,491.2 89.5,491.3 89.8,491.3 90.3,491.3 90.8,491.4 91.3,491.4 91.8,491.4 92.3,491.4 92.8,491.4 93.3,491.5 93.8,491.5 94.3,491.5 94.8,491.5 95.0,491.6 95.5,491.6 96.0,491.6 96.5,491.6 97.0,491.7 97.5,491.7 98.0,491.7 98.5,491.7 99.0,491.8 99.5,491.8 99.8,491.8 100.3,491.8 100.8,491.9 101.3,491.9 101.8,491.9 102.3,492.0 102.8,492.0 103.3,492.0 103.8,492.0 104.0,492.1 104.5,492.1 105.0,492.1 105.5,492.1 106.0,492.2 106.5,492.2 107.0,492.2 107.5,492.3 107.8,492.3 108.3,492.3 108.8,492.4 109.3,492.4 109.8,492.5 110.2,492.6 110.5,492.6 111.0,492.7 111.5,492.8 111.8,492.8 112.3,492.9 112.8,493.0 113.0,493.1 113.5,493.2 113.8,493.3 114.3,493.5 114.5,493.6 115.0,493.7 115.3,493.8 115.8,494.1 116.0,494.2 116.3,494.3 116.7,494.6 117.0,494.7 117.3,494.9 117.5,495.1 117.8,495.3 118.2,495.6 118.5,495.8 118.7,496.1 119.0,496.3 119.2,496.6 119.4,496.8 119.6,497.1 119.8,497.4 120.0,497.8 120.2,498.1 120.3,498.3 120.5,498.8 120.6,499.1 120.8,499.6 120.8,499.8 120.9,500.3 120.9,500.8 120.9,501.3 120.8,501.7 120.7,502.1 120.5,502.5 120.4,502.8 120.2,503.1 120.0,503.3 119.8,503.6 119.5,503.9 119.3,504.1 119.0,504.3 118.8,504.6 118.5,504.8 118.1,505.1 117.8,505.2 117.5,505.4 117.2,505.6 116.8,505.7 116.5,505.8 116.0,506.0 115.8,506.1 115.3,506.3 115.0,506.4 114.5,506.5 114.3,506.6 113.8,506.7 113.4,506.8 113.0,506.9 112.5,507.0 112.0,507.0 111.8,507.1 111.3,507.2 110.8,507.2 110.3,507.3 110.0,507.3 109.5,507.3 109.0,507.4 108.5,507.4 108.0,507.5 107.5,507.5 107.0,507.5 106.5,507.5 106.3,507.6 105.8,507.6 105.3,507.6 104.8,507.6 104.3,507.6 103.8,507.7 103.3,507.7 102.8,507.7 102.3,507.7 101.8,507.8 101.3,507.8 100.8,507.8 100.5,507.8 100.0,507.8 99.5,507.9 99.0,507.9 98.5,507.9 98.0,507.9 97.5,507.9 97.0,507.9 96.5,508.0 96.0,508.0 95.5,508.0 95.0,508.0 94.5,508.0 94.0,508.0 93.8,508.1 93.3,508.1 92.8,508.1 92.3,508.1 91.8,508.1 91.3,508.1 90.8,508.1 90.3,508.2 89.8,508.2 89.3,508.2 88.8,508.2 88.3,508.2 87.8,508.2 87.3,508.2 86.8,508.3 86.3,508.3 85.8,508.3 85.5,508.3 85.0,508.3 84.5,508.4 84.0,508.4 83.5,508.5 83.0,508.5 82.7,508.6 82.3,508.6 81.8,508.7 81.3,508.8 81.0,508.8 80.5,508.9 80.0,509.0 79.5,509.0 79.3,509.1 78.8,509.2 78.3,509.2 77.8,509.3 77.5,509.3Z" fill="none" stroke="#111" stroke-width="0.8"/>
<path d="M101.5,475.1 101.0,475.2 100.5,475.2 100.0,475.2 99.5,475.1 99.3,475.1 98.8,474.9 98.3,474.8 98.0,474.7 97.7,474.6 97.3,474.4 97.0,474.2 96.8,474.1 96.4,473.8 96.1,473.6 95.8,473.3 95.6,473.1 95.4,472.8 95.2,472.6 95.0,472.3 94.8,471.9 94.7,471.6 94.5,471.2 94.5,470.8 94.5,470.3 94.5,469.8 94.5,469.3 94.6,469.1 94.7,468.6 94.8,468.3 95.0,467.8 95.1,467.6 95.3,467.2 95.5,466.8 95.7,466.6 95.9,466.3 96.1,466.1 96.3,465.8 96.5,465.5 96.8,465.3 97.0,465.0 97.4,464.8 97.7,464.6 98.0,464.4 98.3,464.2 98.7,464.1 99.0,463.9 99.5,463.8 99.8,463.7 100.3,463.7 100.8,463.7 101.3,463.7 101.6,463.8 102.0,464.0 102.3,464.1 102.8,464.3 103.0,464.5 103.3,464.7 103.5,464.9 103.8,465.1 104.0,465.4 104.3,465.7 104.5,466.1 104.7,466.3 104.8,466.6 105.0,467.1 105.1,467.3 105.3,467.8 105.4,468.1 105.5,468.6 105.6,468.8 105.6,469.3 105.7,469.8 105.7,470.3 105.7,470.8 105.6,471.3 105.5,471.7 105.4,472.1 105.3,472.4 105.1,472.8 104.9,473.1 104.7,473.3 104.5,473.6 104.3,473.8 104.0,474.1 103.6,474.3 103.3,474.5 103.0,474.6 102.6,474.8 102.3,474.9 101.8,475.0 101.5,475.1Z" fill="none" stroke="#111" stroke-width="0.8"/>
<path d="M75.8,509.1 75.3,509.1 74.8,509.1 74.4,509.1 74.0,509.0 73.5,509.0 73.0,508.9 72.8,508.8 72.3,508.6 72.0,508.5 71.5,508.3 71.3,508.2 71.0,508.0 70.7,507.8 70.3,507.6 70.0,507.4 69.8,507.2 69.5,506.9 69.3,506.7 69.0,506.5 68.8,506.2 68.5,505.9 68.3,505.6 68.1,505.3 67.9,505.1 67.7,504.8 67.5,504.5 67.3,504.1 67.2,503.8 67.0,503.5 66.9,503.1 66.8,502.8 66.6,502.3 66.5,501.9 66.5,501.6 66.5,501.1 66.5,500.6 66.5,500.1 66.6,499.8 66.6,499.3 66.7,498.8 66.8,498.5 66.9,498.1 67.0,497.7 67.2,497.3 67.3,497.1 67.5,496.6 67.7,496.3 67.8,496.1 68.0,495.6 68.3,495.3 68.4,495.1 68.6,494.8 68.8,494.5 69.0,494.2 69.3,493.9 69.5,493.6 69.8,493.3 70.0,493.1 70.3,492.8 70.5,492.6 70.8,492.3 71.0,492.1 71.3,491.8 71.5,491.6 71.8,491.3 72.0,491.1 72.3,490.8 72.5,490.6 72.7,490.3 72.8,490.1 73.0,489.6 73.0,489.1 73.0,488.6 72.8,488.1 72.7,487.8 72.5,487.3 72.5,487.1 72.3,486.6 72.2,486.3 72.1,485.8 72.0,485.6 71.9,485.1 71.8,484.7 71.7,484.3 71.7,483.8 71.6,483.3 71.6,482.8 71.6,482.3 71.6,481.8 71.6,481.3 71.6,480.8 71.6,480.3 71.6,479.8 71.6,479.3 71.6,478.8 71.7,478.3 71.7,477.8 71.7,477.3 71.8,476.8 71.8,476.4 71.8,476.1 71.9,475.6 71.9,475.1 72.0,474.6 72.0,474.2 72.1,473.8 72.2,473.3 72.3,472.8 72.3,472.5 72.4,472.1 72.5,471.6 72.5,471.2 72.6,470.8 72.8,470.3 72.8,470.1 72.9,469.6 73.0,469.1 73.2,468.8 73.3,468.3 73.4,468.1 73.5,467.6 73.7,467.3 73.8,467.0 74.0,466.6 74.1,466.3 74.3,465.9 74.5,465.6 74.7,465.3 74.8,465.1 75.0,464.8 75.3,464.5 75.5,464.3 75.9,464.1 76.3,463.8 76.5,463.8 77.0,463.8 77.3,463.8 77.8,464.1 78.0,464.2 78.3,464.4 78.5,464.7 78.8,464.9 79.0,465.3 79.2,465.6 79.4,465.8 79.6,466.1 79.8,466.5 80.0,466.8 80.1,467.1 80.3,467.6 80.4,467.8 80.5,468.2 80.7,468.6 80.8,468.9 80.9,469.3 81.0,469.7 81.1,470.1 81.3,470.6 81.3,470.8 81.4,471.3 81.5,471.8 81.6,472.1 81.7,472.6 81.7,473.1 81.8,473.5 81.8,473.8 81.9,474.3 81.9,474.8 82.0,475.3 82.0,475.8 82.0,476.3 82.1,476.6 82.1,477.1 82.1,477.6 82.1,478.1 82.1,478.6 82.1,479.1 82.1,479.6 82.1,480.1 82.1,480.6 82.1,481.1 82.0,481.3 82.0,481.8 82.0,482.3 82.0,482.8 81.9,483.3 81.8,483.8 81.8,484.1 81.7,484.6 81.5,485.0 81.5,485.3 81.3,485.8 81.3,486.1 81.1,486.6 81.0,486.8 80.8,487.3 80.7,487.6 80.5,488.0 80.5,488.3 80.4,488.8 80.4,489.3 80.5,489.6 80.8,489.9 81.0,490.2 81.3,490.3 81.7,490.6 82.0,490.7 82.3,490.8 82.8,491.0 83.1,491.1 83.5,491.2 84.0,491.3 84.3,491.3 84.8,491.4 85.3,491.5 85.8,491.5 86.0,491.6 86.5,491.6 87.0,491.7 87.5,491.7 88.0,491.7 88.5,491.8 89.0,491.8 89.3,491.8 89.8,491.8 90.3,491.9 90.8,491.9 91.3,491.9 91.8,491.9 92.3,492.0 92.8,492.0 93.3,492.0 93.8,492.0 94.2,492.1 94.5,492.1 95.0,492.1 95.5,492.1 96.0,492.1 96.5,492.2 97.0,492.2 97.5,492.2 98.0,492.3 98.5,492.3 98.9,492.3 99.3,492.3 99.8,492.3 100.3,492.4 100.8,492.4 101.3,492.4 101.8,492.5 102.3,492.5 102.8,492.5 103.0,492.6 103.5,492.6 104.0,492.6 104.5,492.6 105.0,492.7 105.5,492.7 106.0,492.7 106.5,492.8 106.9,492.8 107.3,492.8 107.8,492.9 108.3,492.9 108.8,493.0 109.3,493.0 109.6,493.1 110.0,493.1 110.5,493.2 111.0,493.3 111.3,493.3 111.8,493.4 112.3,493.5 112.5,493.6 113.0,493.7 113.3,493.8 113.8,494.0 114.1,494.1 114.5,494.2 114.8,494.3 115.3,494.5 115.5,494.7 115.8,494.8 116.3,495.1 116.5,495.2 116.8,495.4 117.0,495.6 117.4,495.8 117.7,496.1 117.9,496.3 118.2,496.6 118.4,496.8 118.6,497.1 118.8,497.3 119.0,497.6 119.3,498.0 119.5,498.3 119.6,498.6 119.8,499.1 119.9,499.3 120.0,499.8 120.0,500.2 120.1,500.6 120.1,501.1 120.0,501.4 120.0,501.8 119.8,502.3 119.7,502.6 119.5,502.8 119.3,503.1 119.0,503.4 118.8,503.7 118.5,503.9 118.3,504.1 118.0,504.3 117.8,504.6 117.4,504.8 117.0,505.0 116.8,505.1 116.4,505.3 116.0,505.5 115.8,505.6 115.3,505.8 115.0,505.8 114.5,506.0 114.3,506.1 113.8,506.2 113.4,506.3 113.0,506.4 112.5,506.5 112.2,506.6 111.8,506.6 111.3,506.7 110.8,506.8 110.5,506.8 110.0,506.9 109.5,506.9 109.0,507.0 108.5,507.0 108.0,507.0 107.6,507.1 107.3,507.1 106.8,507.1 106.3,507.1 105.8,507.2 105.3,507.2 104.8,507.2 104.3,507.2 103.8,507.3 103.3,507.3 102.8,507.3 102.5,507.3 102.0,507.3 101.5,507.4 101.0,507.4 100.5,507.4 100.0,507.4 99.5,507.4 99.0,507.5 98.5,507.5 98.0,507.5 97.5,507.5 97.0,507.5 96.7,507.6 96.3,507.6 95.8,507.6 95.3,507.6 94.8,507.6 94.3,507.6 93.8,507.7 93.3,507.7 92.8,507.7 92.3,507.7 91.8,507.7 91.3,507.7 90.8,507.8 90.3,507.8 89.8,507.8 89.3,507.8 89.0,507.8 88.5,507.8 88.0,507.8 87.5,507.9 87.0,507.9 86.5,507.9 86.0,507.9 85.5,507.9 85.0,508.0 84.5,508.0 84.0,508.0 83.7,508.1 83.3,508.1 82.8,508.2 82.3,508.2 81.8,508.3 81.5,508.3 81.0,508.4 80.5,508.5 80.0,508.5 79.8,508.6 79.3,508.7 78.8,508.8 78.4,508.8 78.0,508.9 77.5,508.9 77.0,509.0 76.5,509.0 76.0,509.0 75.8,509.1Z" fill="none" stroke="#111" stroke-width="0.8"/>
<path d="M76.8,486.8 76.3,486.8 76.0,486.8 75.6,486.6 75.3,486.3 75.1,486.1 74.9,485.8 74.7,485.6 74.5,485.3 74.3,484.8 74.2,484.6 74.1,484.1 74.0,483.8 73.9,483.3 73.8,482.8 73.8,482.4 73.8,482.1 73.8,481.6 73.8,481.1 73.8,480.8 73.8,480.3 73.8,479.8 73.9,479.3 73.9,478.8 74.0,478.3 74.0,477.8 74.1,477.6 74.1,477.1 74.2,476.6 74.3,476.1 74.4,475.8 74.5,475.3 74.5,475.0 74.7,474.6 74.8,474.1 74.9,473.8 75.0,473.5 75.2,473.1 75.4,472.8 75.5,472.5 75.8,472.2 76.0,471.9 76.3,471.8 76.8,471.7 77.2,471.8 77.5,472.1 77.8,472.3 77.9,472.6 78.1,472.8 78.3,473.2 78.5,473.6 78.6,473.8 78.7,474.3 78.8,474.6 78.9,475.1 79.0,475.5 79.1,475.8 79.2,476.3 79.3,476.8 79.3,477.1 79.4,477.6 79.4,478.1 79.5,478.6 79.5,479.1 79.5,479.6 79.5,480.1 79.6,480.3 79.6,480.8 79.6,481.3 79.5,481.7 79.5,482.1 79.5,482.6 79.4,483.1 79.3,483.6 79.3,483.8 79.1,484.3 79.0,484.6 78.8,485.0 78.7,485.3 78.5,485.6 78.3,485.8 78.0,486.1 77.8,486.3 77.5,486.6 77.0,486.8 76.8,486.8Z" fill="none" stroke="#111" stroke-width="0.8"/>
<path d="M76.8,508.6 76.3,508.6 75.8,508.6 75.3,508.6 74.8,508.6 74.3,508.6 73.8,508.6 73.5,508.5 73.0,508.4 72.7,508.3 72.3,508.2 72.0,508.1 71.5,507.8 71.3,507.7 71.0,507.5 70.7,507.3 70.3,507.1 70.0,506.8 69.8,506.6 69.5,506.3 69.3,506.1 69.0,505.8 68.8,505.6 68.6,505.3 68.4,505.1 68.3,504.8 68.0,504.4 67.8,504.1 67.7,503.8 67.5,503.5 67.4,503.1 67.3,502.8 67.2,502.3 67.1,501.8 67.0,501.6 67.0,501.1 67.0,500.6 67.0,500.2 67.1,499.8 67.2,499.3 67.3,498.8 67.3,498.6 67.5,498.1 67.6,497.8 67.8,497.3 67.9,497.1 68.0,496.7 68.3,496.3 68.4,496.1 68.6,495.8 68.8,495.5 69.0,495.1 69.3,494.8 69.5,494.6 69.7,494.3 69.9,494.1 70.1,493.8 70.4,493.6 70.6,493.3 70.9,493.1 71.2,492.8 71.5,492.6 71.8,492.4 72.0,492.2 72.3,492.0 72.6,491.8 73.0,491.6 73.3,491.4 73.6,491.3 74.0,491.1 74.3,491.0 74.8,490.8 75.0,490.7 75.5,490.6 75.8,490.6 76.3,490.5 76.8,490.5 77.3,490.5 77.5,490.6 78.0,490.7 78.5,490.8 78.8,490.8 79.3,491.0 79.6,491.1 80.0,491.2 80.5,491.3 80.8,491.4 81.3,491.5 81.6,491.6 82.0,491.6 82.5,491.7 82.9,491.8 83.3,491.9 83.8,491.9 84.3,492.0 84.7,492.1 85.0,492.1 85.5,492.1 86.0,492.2 86.5,492.2 87.0,492.2 87.5,492.3 87.8,492.3 88.3,492.3 88.8,492.4 89.3,492.4 89.8,492.4 90.3,492.4 90.8,492.4 91.3,492.5 91.8,492.5 92.3,492.5 92.8,492.5 93.0,492.6 93.5,492.6 94.0,492.6 94.5,492.6 95.0,492.7 95.5,492.7 96.0,492.7 96.5,492.7 97.0,492.8 97.5,492.8 97.8,492.8 98.3,492.8 98.8,492.9 99.3,492.9 99.8,492.9 100.3,493.0 100.8,493.0 101.3,493.0 101.8,493.1 102.0,493.1 102.5,493.1 103.0,493.1 103.5,493.2 104.0,493.2 104.5,493.2 105.0,493.3 105.5,493.3 105.8,493.3 106.3,493.3 106.8,493.4 107.3,493.4 107.8,493.5 108.3,493.5 108.5,493.6 109.0,493.6 109.5,493.7 110.0,493.7 110.4,493.8 110.8,493.9 111.3,494.0 111.7,494.1 112.0,494.1 112.5,494.3 112.8,494.3 113.3,494.5 113.5,494.6 114.0,494.8 114.3,494.9 114.7,495.1 115.0,495.2 115.3,495.3 115.7,495.6 116.0,495.8 116.3,495.9 116.5,496.1 116.8,496.3 117.1,496.6 117.3,496.8 117.6,497.1 117.8,497.3 118.0,497.6 118.3,498.0 118.5,498.3 118.6,498.6 118.8,498.9 118.9,499.3 119.0,499.7 119.1,500.1 119.2,500.6 119.2,501.1 119.1,501.6 119.0,501.8 118.9,502.3 118.7,502.6 118.5,502.8 118.3,503.1 118.0,503.4 117.8,503.7 117.5,503.9 117.3,504.1 117.0,504.3 116.5,504.5 116.3,504.7 116.0,504.8 115.5,505.0 115.3,505.2 114.9,505.3 114.5,505.4 114.2,505.6 113.8,505.7 113.3,505.8 113.0,505.9 112.5,506.0 112.2,506.1 111.8,506.1 111.3,506.2 110.8,506.3 110.5,506.3 110.0,506.4 109.5,506.4 109.0,506.5 108.5,506.5 108.1,506.6 107.8,506.6 107.3,506.6 106.8,506.6 106.3,506.7 105.8,506.7 105.3,506.7 104.8,506.8 104.3,506.8 103.8,506.8 103.5,506.8 103.0,506.8 102.5,506.9 102.0,506.9 101.5,506.9 101.0,506.9 100.5,507.0 100.0,507.0 99.5,507.0 99.0,507.0 98.5,507.0 98.3,507.1 97.8,507.1 97.3,507.1 96.8,507.1 96.3,507.1 95.8,507.2 95.3,507.2 94.8,507.2 94.3,507.2 93.8,507.2 93.3,507.3 92.8,507.3 92.3,507.3 91.9,507.3 91.5,507.3 91.0,507.3 90.5,507.3 90.0,507.4 89.5,507.4 89.0,507.4 88.5,507.4 88.0,507.4 87.5,507.4 87.0,507.5 86.5,507.5 86.0,507.5 85.5,507.5 85.0,507.5 84.8,507.6 84.3,507.6 83.8,507.6 83.3,507.7 82.8,507.7 82.3,507.8 82.0,507.8 81.5,507.9 81.0,508.0 80.5,508.0 80.3,508.1 79.8,508.2 79.3,508.2 78.9,508.3 78.5,508.4 78.0,508.4 77.5,508.5 77.0,508.5 76.8,508.6Z" fill="none" stroke="#111" stroke-width="0.8"/>
<path d="M75.8,508.1 75.3,508.1 74.8,508.1 74.5,508.0 74.0,508.0 73.5,507.9 73.0,507.8 72.8,507.7 72.3,507.6 72.0,507.4 71.8,507.3 71.3,507.1 71.0,506.9 70.8,506.7 70.5,506.5 70.3,506.3 70.0,506.0 69.8,505.8 69.5,505.5 69.3,505.2 69.0,504.9 68.8,504.6 68.7,504.3 68.5,504.1 68.3,503.6 68.2,503.3 68.0,503.0 67.9,502.6 67.8,502.1 67.7,501.8 67.7,501.3 67.7,500.8 67.7,500.3 67.8,499.8 67.8,499.6 67.9,499.1 68.0,498.6 68.1,498.3 68.3,497.8 68.4,497.6 68.5,497.2 68.8,496.8 68.9,496.6 69.1,496.3 69.3,495.9 69.5,495.6 69.8,495.3 70.0,495.1 70.2,494.8 70.4,494.6 70.7,494.3 70.9,494.1 71.2,493.8 71.5,493.6 71.8,493.4 72.0,493.2 72.3,493.1 72.8,492.8 73.0,492.7 73.4,492.6 73.8,492.4 74.1,492.3 74.5,492.2 75.0,492.1 75.5,492.1 75.8,492.0 76.3,492.0 76.8,492.0 77.3,492.0 77.8,492.0 78.2,492.1 78.5,492.1 79.0,492.1 79.5,492.2 80.0,492.3 80.3,492.3 80.8,492.4 81.3,492.4 81.8,492.5 82.1,492.6 82.5,492.6 83.0,492.7 83.5,492.7 84.0,492.8 84.3,492.8 84.8,492.8 85.3,492.9 85.8,492.9 86.3,492.9 86.8,493.0 87.3,493.0 87.8,493.0 88.2,493.1 88.5,493.1 89.0,493.1 89.5,493.1 90.0,493.1 90.5,493.2 91.0,493.2 91.5,493.2 92.0,493.2 92.5,493.3 93.0,493.3 93.3,493.3 93.8,493.3 94.3,493.4 94.8,493.4 95.3,493.4 95.8,493.4 96.3,493.5 96.8,493.5 97.3,493.5 97.6,493.6 98.0,493.6 98.5,493.6 99.0,493.6 99.5,493.7 100.0,493.7 100.5,493.7 101.0,493.8 101.4,493.8 101.8,493.8 102.3,493.9 102.8,493.9 103.3,493.9 103.8,494.0 104.3,494.0 104.8,494.0 105.0,494.1 105.5,494.1 106.0,494.1 106.5,494.2 107.0,494.2 107.5,494.3 107.8,494.3 108.3,494.4 108.8,494.4 109.3,494.5 109.8,494.6 110.0,494.6 110.5,494.7 111.0,494.8 111.3,494.8 111.8,495.0 112.1,495.1 112.5,495.2 112.9,495.3 113.3,495.5 113.5,495.6 114.0,495.8 114.3,495.9 114.6,496.1 115.0,496.3 115.3,496.5 115.5,496.7 115.8,496.9 116.0,497.1 116.3,497.3 116.6,497.6 116.8,497.8 117.0,498.2 117.3,498.5 117.4,498.8 117.6,499.1 117.8,499.6 117.8,499.8 117.9,500.3 118.0,500.8 117.9,501.3 117.8,501.8 117.7,502.1 117.5,502.3 117.3,502.7 117.0,503.0 116.8,503.2 116.5,503.5 116.3,503.7 116.0,503.8 115.7,504.1 115.3,504.3 115.0,504.4 114.7,504.6 114.3,504.7 114.0,504.8 113.5,505.0 113.3,505.1 112.8,505.2 112.4,505.3 112.0,505.4 111.5,505.5 111.2,505.6 110.8,505.6 110.3,505.7 109.8,505.8 109.4,505.8 109.0,505.8 108.5,505.9 108.0,505.9 107.5,506.0 107.0,506.0 106.5,506.0 106.3,506.1 105.8,506.1 105.3,506.1 104.8,506.1 104.3,506.2 103.8,506.2 103.3,506.2 102.8,506.3 102.3,506.3 101.9,506.3 101.5,506.3 101.0,506.4 100.5,506.4 100.0,506.4 99.5,506.4 99.0,506.5 98.5,506.5 98.0,506.5 97.5,506.5 97.0,506.5 96.8,506.6 96.3,506.6 95.8,506.6 95.3,506.6 94.8,506.6 94.3,506.7 93.8,506.7 93.3,506.7 92.8,506.7 92.3,506.7 91.8,506.8 91.3,506.8 90.8,506.8 90.5,506.8 90.0,506.8 89.5,506.8 89.0,506.9 88.5,506.9 88.0,506.9 87.5,506.9 87.0,506.9 86.5,506.9 86.0,507.0 85.5,507.0 85.0,507.0 84.5,507.0 84.3,507.1 83.8,507.1 83.3,507.1 82.8,507.2 82.3,507.3 81.9,507.3 81.5,507.4 81.0,507.4 80.5,507.5 80.2,507.6 79.8,507.6 79.3,507.7 78.8,507.8 78.5,507.8 78.0,507.9 77.5,507.9 77.0,508.0 76.5,508.0 76.0,508.0 75.8,508.1Z" fill="none" stroke="#111" stroke-width="0.7"/>
<path d="M78.3,507.6 77.8,507.6 77.3,507.7 76.8,507.7 76.3,507.8 75.8,507.8 75.3,507.8 74.8,507.8 74.3,507.8 73.8,507.7 73.3,507.6 73.0,507.5 72.5,507.4 72.3,507.3 71.9,507.1 71.5,506.9 71.3,506.7 71.0,506.5 70.7,506.3 70.4,506.1 70.2,505.8 69.9,505.6 69.7,505.3 69.5,505.1 69.3,504.8 69.0,504.4 68.8,504.1 68.7,503.8 68.5,503.5 68.4,503.1 68.3,502.8 68.1,502.3 68.1,501.8 68.0,501.6 68.0,501.1 68.0,500.6 68.0,500.2 68.1,499.8 68.2,499.3 68.3,498.8 68.4,498.6 68.5,498.1 68.6,497.8 68.8,497.5 69.0,497.1 69.1,496.8 69.3,496.5 69.5,496.1 69.8,495.8 70.0,495.6 70.2,495.3 70.4,495.1 70.6,494.8 70.9,494.6 71.2,494.3 71.5,494.1 71.8,493.8 72.0,493.6 72.3,493.5 72.7,493.3 73.0,493.1 73.3,493.0 73.8,492.8 74.0,492.8 74.5,492.6 75.0,492.6 75.3,492.5 75.8,492.5 76.3,492.5 76.8,492.4 77.3,492.4 77.8,492.5 78.3,492.5 78.8,492.6 79.0,492.6 79.5,492.6 80.0,492.7 80.5,492.7 81.0,492.8 81.3,492.8 81.8,492.9 82.3,493.0 82.8,493.0 83.1,493.1 83.5,493.1 84.0,493.1 84.5,493.2 85.0,493.2 85.5,493.2 86.0,493.3 86.3,493.3 86.8,493.3 87.3,493.3 87.8,493.4 88.3,493.4 88.8,493.4 89.3,493.5 89.8,493.5 90.3,493.5 90.8,493.5 91.2,493.6 91.5,493.6 92.0,493.6 92.5,493.6 93.0,493.6 93.5,493.7 94.0,493.7 94.5,493.7 95.0,493.7 95.5,493.8 95.8,493.8 96.3,493.8 96.8,493.9 97.3,493.9 97.8,493.9 98.3,494.0 98.8,494.0 99.3,494.0 99.7,494.1 100.0,494.1 100.5,494.1 101.0,494.1 101.5,494.2 102.0,494.2 102.5,494.3 103.0,494.3 103.3,494.3 103.8,494.4 104.3,494.4 104.8,494.4 105.3,494.5 105.8,494.5 106.3,494.6 106.5,494.6 107.0,494.6 107.5,494.7 108.0,494.7 108.5,494.8 108.8,494.8 109.3,494.9 109.8,495.0 110.2,495.1 110.5,495.1 111.0,495.2 111.3,495.3 111.8,495.4 112.2,495.6 112.5,495.7 112.9,495.8 113.3,496.0 113.5,496.1 114.0,496.3 114.3,496.5 114.5,496.6 114.9,496.8 115.2,497.1 115.5,497.3 115.8,497.6 116.0,497.8 116.3,498.1 116.5,498.3 116.6,498.6 116.8,498.8 117.0,499.3 117.1,499.6 117.3,500.1 117.3,500.3 117.4,500.8 117.3,501.3 117.3,501.6 117.1,502.1 116.9,502.3 116.7,502.6 116.5,502.8 116.3,503.1 116.0,503.3 115.7,503.6 115.3,503.8 115.0,503.9 114.8,504.1 114.3,504.3 114.0,504.4 113.7,504.6 113.3,504.7 112.9,504.8 112.5,504.9 112.0,505.0 111.8,505.1 111.3,505.2 110.8,505.3 110.5,505.3 110.0,505.4 109.5,505.5 109.0,505.5 108.8,505.6 108.3,505.6 107.8,505.6 107.3,505.7 106.8,505.7 106.3,505.8 105.8,505.8 105.5,505.8 105.0,505.8 104.5,505.9 104.0,505.9 103.5,505.9 103.0,506.0 102.5,506.0 102.0,506.0 101.5,506.0 101.3,506.1 100.8,506.1 100.3,506.1 99.8,506.1 99.3,506.2 98.8,506.2 98.3,506.2 97.8,506.2 97.3,506.3 96.8,506.3 96.4,506.3 96.0,506.3 95.5,506.3 95.0,506.4 94.5,506.4 94.0,506.4 93.5,506.4 93.0,506.4 92.5,506.5 92.0,506.5 91.5,506.5 91.0,506.5 90.5,506.5 90.1,506.6 89.8,506.6 89.3,506.6 88.8,506.6 88.3,506.6 87.8,506.6 87.3,506.7 86.8,506.7 86.3,506.7 85.8,506.7 85.3,506.7 84.8,506.8 84.3,506.8 84.0,506.8 83.5,506.9 83.0,506.9 82.5,507.0 82.0,507.0 81.8,507.1 81.3,507.1 80.8,507.2 80.3,507.3 80.0,507.3 79.5,507.4 79.0,507.5 78.5,507.5 78.3,507.6Z" fill="none" stroke="#111" stroke-width="0.7"/>
<path d="M78.0,507.3 77.5,507.4 77.0,507.4 76.5,507.5 76.0,507.5 75.5,507.5 75.0,507.5 74.5,507.5 74.0,507.4 73.5,507.4 73.3,507.3 72.8,507.1 72.5,507.0 72.0,506.8 71.8,506.7 71.5,506.5 71.2,506.3 70.9,506.1 70.6,505.8 70.3,505.6 70.1,505.3 69.9,505.1 69.7,504.8 69.5,504.6 69.3,504.3 69.0,503.8 68.9,503.6 68.8,503.3 68.6,502.8 68.5,502.6 68.4,502.1 68.3,501.6 68.3,501.1 68.3,500.6 68.4,500.1 68.5,499.6 68.5,499.2 68.6,498.8 68.8,498.3 68.9,498.1 69.0,497.7 69.2,497.3 69.4,497.1 69.5,496.7 69.8,496.3 70.0,496.1 70.2,495.8 70.4,495.6 70.6,495.3 70.9,495.1 71.1,494.8 71.4,494.6 71.7,494.3 72.0,494.1 72.3,493.9 72.5,493.8 73.0,493.6 73.3,493.4 73.7,493.3 74.0,493.2 74.5,493.1 74.8,493.0 75.3,493.0 75.8,492.9 76.3,492.9 76.8,492.9 77.3,492.9 77.8,492.9 78.3,492.9 78.8,493.0 79.3,493.0 79.6,493.1 80.0,493.1 80.5,493.1 81.0,493.2 81.5,493.3 81.9,493.3 82.3,493.3 82.8,493.4 83.3,493.4 83.8,493.5 84.3,493.5 84.6,493.6 85.0,493.6 85.5,493.6 86.0,493.6 86.5,493.7 87.0,493.7 87.5,493.7 88.0,493.7 88.5,493.8 89.0,493.8 89.3,493.8 89.8,493.8 90.3,493.9 90.8,493.9 91.3,493.9 91.8,493.9 92.3,494.0 92.8,494.0 93.3,494.0 93.8,494.0 94.0,494.1 94.5,494.1 95.0,494.1 95.5,494.2 96.0,494.2 96.5,494.2 97.0,494.3 97.5,494.3 97.8,494.3 98.3,494.3 98.8,494.4 99.3,494.4 99.8,494.4 100.3,494.5 100.8,494.5 101.2,494.6 101.5,494.6 102.0,494.6 102.5,494.7 103.0,494.7 103.5,494.7 104.0,494.8 104.3,494.8 104.8,494.8 105.3,494.9 105.8,494.9 106.3,495.0 106.8,495.0 107.1,495.1 107.5,495.1 108.0,495.2 108.5,495.2 109.0,495.3 109.3,495.3 109.8,495.4 110.3,495.5 110.5,495.6 111.0,495.7 111.4,495.8 111.8,495.9 112.2,496.1 112.5,496.2 112.8,496.3 113.3,496.5 113.5,496.6 113.8,496.8 114.3,497.1 114.5,497.2 114.8,497.4 115.0,497.6 115.3,497.9 115.5,498.1 115.8,498.4 116.0,498.8 116.2,499.1 116.3,499.3 116.5,499.8 116.6,500.1 116.7,500.6 116.7,501.1 116.6,501.6 116.5,501.8 116.3,502.1 116.0,502.5 115.8,502.8 115.5,503.0 115.3,503.2 115.0,503.4 114.8,503.6 114.3,503.8 114.0,503.9 113.8,504.1 113.3,504.3 113.0,504.3 112.5,504.5 112.3,504.6 111.8,504.7 111.4,504.8 111.0,504.9 110.5,505.0 110.0,505.0 109.8,505.1 109.3,505.2 108.8,505.2 108.3,505.3 107.9,505.3 107.5,505.3 107.0,505.4 106.5,505.4 106.0,505.5 105.5,505.5 105.0,505.5 104.5,505.5 104.3,505.6 103.8,505.6 103.3,505.6 102.8,505.7 102.3,505.7 101.8,505.7 101.3,505.7 100.8,505.8 100.4,505.8 100.0,505.8 99.5,505.9 99.0,505.9 98.5,505.9 98.0,505.9 97.5,506.0 97.0,506.0 96.5,506.0 96.0,506.0 95.6,506.1 95.3,506.1 94.8,506.1 94.3,506.1 93.8,506.1 93.3,506.2 92.8,506.2 92.3,506.2 91.8,506.2 91.3,506.2 90.8,506.3 90.3,506.3 89.8,506.3 89.5,506.3 89.0,506.3 88.5,506.3 88.0,506.4 87.5,506.4 87.0,506.4 86.5,506.4 86.0,506.4 85.5,506.5 85.0,506.5 84.5,506.5 84.1,506.6 83.8,506.6 83.3,506.6 82.8,506.7 82.3,506.7 81.8,506.8 81.5,506.8 81.0,506.9 80.5,507.0 80.0,507.0 79.8,507.1 79.3,507.2 78.8,507.2 78.3,507.3 78.0,507.3Z" fill="none" stroke="#111" stroke-width="0.7"/>
<path d="M77.8,507.1 77.3,507.1 76.8,507.2 76.3,507.2 75.8,507.2 75.3,507.2 74.8,507.2 74.3,507.2 73.8,507.1 73.5,507.1 73.0,506.9 72.7,506.8 72.3,506.6 72.0,506.5 71.7,506.3 71.4,506.1 71.0,505.8 70.8,505.6 70.5,505.4 70.3,505.1 70.1,504.8 69.9,504.6 69.7,504.3 69.5,504.1 69.3,503.6 69.1,503.3 69.0,503.1 68.9,502.6 68.8,502.3 68.7,501.8 68.7,501.3 68.7,500.8 68.7,500.3 68.8,499.8 68.8,499.6 68.9,499.1 69.0,498.6 69.2,498.3 69.3,497.9 69.5,497.6 69.6,497.3 69.8,497.0 70.0,496.6 70.2,496.3 70.4,496.1 70.6,495.8 70.9,495.6 71.1,495.3 71.4,495.1 71.7,494.8 72.0,494.6 72.3,494.4 72.5,494.2 72.9,494.1 73.3,493.9 73.5,493.8 74.0,493.6 74.3,493.6 74.8,493.5 75.3,493.4 75.8,493.3 76.3,493.3 76.7,493.3 77.0,493.3 77.3,493.3 77.8,493.3 78.3,493.3 78.8,493.4 79.3,493.4 79.8,493.5 80.3,493.5 80.6,493.6 81.0,493.6 81.5,493.6 82.0,493.7 82.5,493.8 83.0,493.8 83.3,493.8 83.8,493.9 84.3,493.9 84.8,493.9 85.3,494.0 85.8,494.0 86.3,494.0 86.6,494.1 87.0,494.1 87.5,494.1 88.0,494.1 88.5,494.1 89.0,494.2 89.5,494.2 90.0,494.2 90.5,494.3 91.0,494.3 91.3,494.3 91.8,494.3 92.3,494.4 92.8,494.4 93.3,494.4 93.8,494.4 94.3,494.5 94.8,494.5 95.3,494.5 95.5,494.6 96.0,494.6 96.5,494.6 97.0,494.7 97.5,494.7 98.0,494.7 98.5,494.8 99.0,494.8 99.3,494.8 99.8,494.9 100.3,494.9 100.8,494.9 101.3,495.0 101.8,495.0 102.1,495.1 102.5,495.1 103.0,495.1 103.5,495.2 104.0,495.2 104.5,495.3 105.0,495.3 105.3,495.3 105.8,495.4 106.3,495.4 106.8,495.5 107.3,495.5 107.5,495.6 108.0,495.6 108.5,495.7 109.0,495.8 109.3,495.8 109.8,495.9 110.3,496.0 110.5,496.1 111.0,496.2 111.3,496.3 111.8,496.5 112.0,496.6 112.5,496.8 112.8,496.9 113.1,497.1 113.5,497.3 113.8,497.5 114.0,497.6 114.3,497.8 114.6,498.1 114.8,498.3 115.0,498.6 115.3,498.9 115.5,499.3 115.7,499.6 115.8,500.0 115.9,500.3 115.9,500.8 115.9,501.3 115.8,501.6 115.6,502.1 115.4,502.3 115.2,502.6 114.9,502.8 114.6,503.1 114.3,503.3 114.0,503.4 113.8,503.6 113.3,503.8 113.0,503.9 112.6,504.1 112.3,504.1 111.8,504.3 111.5,504.4 111.0,504.5 110.7,504.6 110.3,504.6 109.8,504.7 109.3,504.8 109.0,504.8 108.5,504.9 108.0,504.9 107.5,505.0 107.0,505.0 106.7,505.1 106.3,505.1 105.8,505.1 105.3,505.2 104.8,505.2 104.3,505.2 103.8,505.3 103.3,505.3 103.0,505.3 102.5,505.3 102.0,505.4 101.5,505.4 101.0,505.4 100.5,505.5 100.0,505.5 99.5,505.5 99.3,505.6 98.8,505.6 98.3,505.6 97.8,505.6 97.3,505.7 96.8,505.7 96.3,505.7 95.8,505.7 95.3,505.8 94.8,505.8 94.5,505.8 94.0,505.8 93.5,505.9 93.0,505.9 92.5,505.9 92.0,505.9 91.5,505.9 91.0,506.0 90.5,506.0 90.0,506.0 89.5,506.0 89.0,506.0 88.6,506.1 88.3,506.1 87.8,506.1 87.3,506.1 86.8,506.1 86.3,506.1 85.8,506.2 85.3,506.2 84.8,506.2 84.3,506.3 83.8,506.3 83.5,506.3 83.0,506.4 82.5,506.4 82.0,506.5 81.5,506.5 81.3,506.6 80.8,506.7 80.3,506.7 79.8,506.8 79.5,506.8 79.0,506.9 78.5,507.0 78.0,507.0 77.8,507.1Z" fill="none" stroke="#111" stroke-width="0.7"/>
<path d="M77.5,506.8 77.0,506.9 76.5,506.9 76.0,506.9 75.5,506.9 75.0,506.9 74.5,506.9 74.0,506.8 73.8,506.8 73.3,506.7 72.9,506.6 72.5,506.4 72.3,506.3 71.9,506.1 71.5,505.8 71.3,505.6 71.0,505.4 70.8,505.2 70.5,504.9 70.3,504.6 70.1,504.3 69.9,504.1 69.7,503.8 69.5,503.4 69.4,503.1 69.3,502.8 69.1,502.3 69.1,501.8 69.0,501.6 69.0,501.1 69.0,500.6 69.0,500.2 69.1,499.8 69.2,499.3 69.3,499.0 69.4,498.6 69.5,498.2 69.7,497.8 69.9,497.6 70.0,497.2 70.3,496.8 70.5,496.6 70.7,496.3 70.9,496.1 71.1,495.8 71.4,495.6 71.6,495.3 72.0,495.1 72.3,494.8 72.5,494.7 72.8,494.5 73.3,494.3 73.5,494.2 74.0,494.1 74.3,494.0 74.8,493.9 75.3,493.8 75.5,493.8 76.0,493.7 76.5,493.7 77.0,493.7 77.5,493.7 78.0,493.7 78.5,493.8 78.9,493.8 79.3,493.8 79.8,493.9 80.3,493.9 80.8,494.0 81.3,494.0 81.5,494.1 82.0,494.1 82.5,494.1 83.0,494.2 83.5,494.2 84.0,494.3 84.3,494.3 84.8,494.3 85.3,494.4 85.8,494.4 86.3,494.4 86.8,494.5 87.3,494.5 87.8,494.5 88.3,494.5 88.6,494.6 89.0,494.6 89.5,494.6 90.0,494.6 90.5,494.7 91.0,494.7 91.5,494.7 92.0,494.7 92.5,494.8 93.0,494.8 93.3,494.8 93.8,494.8 94.3,494.9 94.8,494.9 95.3,495.0 95.8,495.0 96.3,495.0 96.6,495.1 97.0,495.1 97.5,495.1 98.0,495.2 98.5,495.2 99.0,495.2 99.5,495.3 99.8,495.3 100.3,495.3 100.8,495.4 101.3,495.4 101.8,495.5 102.3,495.5 102.5,495.6 103.0,495.6 103.5,495.6 104.0,495.7 104.5,495.7 105.0,495.8 105.3,495.8 105.8,495.9 106.3,495.9 106.8,496.0 107.3,496.0 107.5,496.1 108.0,496.1 108.5,496.2 109.0,496.3 109.3,496.4 109.8,496.5 110.1,496.6 110.5,496.7 111.0,496.8 111.3,496.9 111.7,497.1 112.0,497.2 112.3,497.3 112.7,497.6 113.0,497.7 113.3,497.9 113.5,498.1 113.8,498.3 114.1,498.6 114.3,498.8 114.5,499.2 114.8,499.6 114.9,499.8 115.0,500.3 115.1,500.6 115.1,501.1 115.0,501.3 114.8,501.8 114.7,502.1 114.5,502.3 114.2,502.6 113.9,502.8 113.5,503.0 113.3,503.2 113.0,503.3 112.5,503.5 112.3,503.6 111.8,503.8 111.5,503.9 111.0,504.0 110.8,504.1 110.3,504.2 109.8,504.3 109.5,504.3 109.0,504.4 108.5,504.5 108.0,504.5 107.8,504.6 107.3,504.6 106.8,504.7 106.3,504.7 105.8,504.8 105.3,504.8 105.0,504.8 104.5,504.8 104.0,504.9 103.5,504.9 103.0,505.0 102.5,505.0 102.0,505.0 101.7,505.1 101.3,505.1 100.8,505.1 100.3,505.2 99.8,505.2 99.3,505.2 98.8,505.2 98.3,505.3 97.9,505.3 97.5,505.3 97.0,505.3 96.5,505.4 96.0,505.4 95.5,505.4 95.0,505.5 94.5,505.5 94.0,505.5 93.5,505.5 93.2,505.6 92.8,505.6 92.3,505.6 91.8,505.6 91.3,505.6 90.8,505.7 90.3,505.7 89.8,505.7 89.3,505.7 88.8,505.7 88.3,505.8 87.8,505.8 87.3,505.8 87.0,505.8 86.5,505.8 86.0,505.9 85.5,505.9 85.0,505.9 84.5,505.9 84.0,506.0 83.5,506.0 83.2,506.1 82.8,506.1 82.3,506.2 81.8,506.2 81.3,506.3 81.0,506.3 80.5,506.4 80.0,506.5 79.5,506.5 79.3,506.6 78.8,506.7 78.3,506.7 77.8,506.8 77.5,506.8Z" fill="none" stroke="#111" stroke-width="0.7"/>
<path d="M76.8,506.6 76.3,506.6 75.8,506.6 75.3,506.6 74.8,506.6 74.4,506.6 74.0,506.5 73.5,506.4 73.2,506.3 72.8,506.1 72.5,506.0 72.1,505.8 71.8,505.6 71.5,505.4 71.3,505.2 71.0,505.0 70.8,504.7 70.5,504.4 70.3,504.1 70.1,503.8 70.0,503.6 69.8,503.2 69.7,502.8 69.5,502.5 69.4,502.1 69.4,501.6 69.4,501.1 69.4,500.6 69.4,500.1 69.5,499.6 69.6,499.3 69.7,498.8 69.8,498.6 70.0,498.1 70.1,497.8 70.3,497.5 70.5,497.1 70.8,496.8 71.0,496.6 71.2,496.3 71.4,496.1 71.7,495.8 72.0,495.6 72.3,495.3 72.5,495.1 72.8,495.0 73.2,494.8 73.5,494.6 73.8,494.5 74.3,494.4 74.8,494.3 75.0,494.3 75.5,494.2 76.0,494.2 76.5,494.1 77.0,494.1 77.5,494.1 78.0,494.2 78.5,494.2 79.0,494.2 79.5,494.3 79.8,494.3 80.3,494.3 80.8,494.4 81.3,494.4 81.8,494.5 82.3,494.5 82.5,494.6 83.0,494.6 83.5,494.7 84.0,494.7 84.5,494.7 85.0,494.8 85.5,494.8 85.8,494.8 86.3,494.8 86.8,494.9 87.3,494.9 87.8,494.9 88.3,495.0 88.8,495.0 89.3,495.0 89.8,495.0 90.0,495.1 90.5,495.1 91.0,495.1 91.5,495.2 92.0,495.2 92.5,495.2 93.0,495.2 93.5,495.3 93.9,495.3 94.3,495.3 94.8,495.4 95.3,495.4 95.8,495.4 96.3,495.5 96.8,495.5 97.1,495.6 97.5,495.6 98.0,495.6 98.5,495.7 99.0,495.7 99.5,495.8 100.0,495.8 100.3,495.8 100.8,495.9 101.3,495.9 101.8,496.0 102.3,496.0 102.5,496.1 103.0,496.1 103.5,496.2 104.0,496.2 104.5,496.3 104.8,496.3 105.3,496.3 105.8,496.4 106.3,496.5 106.8,496.5 107.0,496.6 107.5,496.6 108.0,496.7 108.5,496.8 108.8,496.9 109.3,497.0 109.6,497.1 110.0,497.2 110.5,497.3 110.8,497.4 111.2,497.6 111.5,497.7 111.8,497.8 112.2,498.1 112.5,498.3 112.8,498.5 113.0,498.7 113.3,499.0 113.5,499.3 113.7,499.6 113.9,499.8 114.0,500.3 114.1,500.6 114.1,501.1 114.0,501.4 113.8,501.8 113.6,502.1 113.4,502.3 113.1,502.6 112.8,502.7 112.5,502.9 112.2,503.1 111.8,503.2 111.5,503.3 111.0,503.5 110.8,503.6 110.3,503.7 109.8,503.8 109.5,503.9 109.0,503.9 108.5,504.0 108.3,504.1 107.8,504.1 107.3,504.2 106.8,504.2 106.3,504.3 106.0,504.3 105.5,504.4 105.0,504.4 104.5,504.4 104.0,504.5 103.5,504.5 103.2,504.6 102.8,504.6 102.3,504.6 101.8,504.7 101.3,504.7 100.8,504.7 100.3,504.8 100.0,504.8 99.5,504.8 99.0,504.9 98.5,504.9 98.0,504.9 97.5,505.0 97.0,505.0 96.5,505.0 96.1,505.1 95.8,505.1 95.3,505.1 94.8,505.1 94.3,505.2 93.8,505.2 93.3,505.2 92.8,505.2 92.3,505.3 91.8,505.3 91.4,505.3 91.0,505.3 90.5,505.3 90.0,505.4 89.5,505.4 89.0,505.4 88.5,505.4 88.0,505.5 87.5,505.5 87.0,505.5 86.5,505.5 86.0,505.5 85.8,505.6 85.3,505.6 84.8,505.6 84.3,505.6 83.8,505.7 83.3,505.7 82.8,505.8 82.5,505.8 82.0,505.9 81.5,505.9 81.0,506.0 80.7,506.1 80.3,506.1 79.8,506.2 79.3,506.3 79.0,506.3 78.5,506.4 78.0,506.4 77.5,506.5 77.0,506.5 76.8,506.6Z" fill="none" stroke="#111" stroke-width="0.7"/>
<path d="M78.3,506.1 77.8,506.1 77.3,506.2 76.8,506.2 76.3,506.3 75.8,506.3 75.3,506.3 74.8,506.2 74.3,506.2 73.8,506.1 73.5,506.0 73.0,505.9 72.8,505.8 72.4,505.6 72.0,505.3 71.8,505.2 71.5,505.0 71.3,504.7 71.0,504.5 70.8,504.2 70.6,503.8 70.4,503.6 70.3,503.3 70.0,502.8 70.0,502.6 69.8,502.1 69.8,501.8 69.7,501.3 69.7,500.8 69.8,500.3 69.8,500.1 69.9,499.6 70.0,499.1 70.1,498.8 70.3,498.4 70.5,498.1 70.6,497.8 70.8,497.4 71.0,497.1 71.3,496.8 71.5,496.6 71.7,496.3 72.0,496.1 72.3,495.8 72.5,495.6 72.8,495.5 73.1,495.3 73.5,495.1 73.8,495.0 74.3,494.9 74.6,494.8 75.0,494.7 75.5,494.6 76.0,494.6 76.5,494.6 77.0,494.6 77.5,494.6 78.0,494.6 78.5,494.6 79.0,494.7 79.5,494.7 80.0,494.8 80.5,494.8 80.8,494.8 81.3,494.9 81.8,494.9 82.3,495.0 82.8,495.0 83.0,495.1 83.5,495.1 84.0,495.1 84.5,495.2 85.0,495.2 85.5,495.2 86.0,495.3 86.4,495.3 86.8,495.3 87.3,495.4 87.8,495.4 88.3,495.4 88.8,495.4 89.3,495.5 89.8,495.5 90.3,495.5 90.5,495.6 91.0,495.6 91.5,495.6 92.0,495.7 92.5,495.7 93.0,495.7 93.5,495.8 94.0,495.8 94.3,495.8 94.8,495.9 95.3,495.9 95.8,495.9 96.3,496.0 96.8,496.0 97.0,496.1 97.5,496.1 98.0,496.1 98.5,496.2 99.0,496.2 99.5,496.3 99.8,496.3 100.3,496.4 100.8,496.4 101.3,496.5 101.8,496.5 102.0,496.6 102.5,496.6 103.0,496.7 103.5,496.7 104.0,496.8 104.3,496.8 104.8,496.9 105.3,497.0 105.8,497.0 106.0,497.1 106.5,497.1 107.0,497.2 107.5,497.3 107.8,497.3 108.3,497.5 108.7,497.6 109.0,497.6 109.5,497.8 109.8,497.9 110.3,498.0 110.5,498.1 110.9,498.3 111.3,498.5 111.5,498.7 111.8,498.9 112.0,499.1 112.3,499.3 112.5,499.6 112.8,500.1 112.9,500.3 113.0,500.8 112.9,501.3 112.8,501.6 112.5,501.9 112.3,502.1 112.0,502.3 111.6,502.6 111.3,502.7 111.0,502.8 110.5,503.0 110.3,503.1 109.8,503.2 109.5,503.3 109.0,503.4 108.5,503.5 108.2,503.6 107.8,503.6 107.3,503.7 106.8,503.8 106.4,503.8 106.0,503.8 105.5,503.9 105.0,503.9 104.5,504.0 104.0,504.0 103.8,504.1 103.3,504.1 102.8,504.1 102.3,504.2 101.8,504.2 101.3,504.3 101.0,504.3 100.5,504.3 100.0,504.4 99.5,504.4 99.0,504.5 98.5,504.5 98.0,504.5 97.8,504.6 97.3,504.6 96.8,504.6 96.3,504.7 95.8,504.7 95.3,504.7 94.8,504.8 94.3,504.8 94.0,504.8 93.5,504.8 93.0,504.9 92.5,504.9 92.0,504.9 91.5,504.9 91.0,505.0 90.5,505.0 90.0,505.0 89.5,505.0 89.2,505.1 88.8,505.1 88.3,505.1 87.8,505.1 87.3,505.1 86.8,505.2 86.3,505.2 85.8,505.2 85.3,505.2 84.8,505.3 84.4,505.3 84.0,505.3 83.5,505.4 83.0,505.4 82.5,505.5 82.0,505.5 81.8,505.6 81.3,505.6 80.8,505.7 80.3,505.8 80.0,505.8 79.5,505.9 79.0,506.0 78.5,506.0 78.3,506.1Z" fill="none" stroke="#111" stroke-width="0.7"/>
<path d="M77.5,505.8 77.0,505.9 76.5,505.9 76.0,505.9 75.5,505.9 75.0,505.9 74.5,505.9 74.2,505.8 73.8,505.7 73.3,505.6 73.0,505.5 72.7,505.3 72.3,505.1 72.0,504.9 71.8,504.7 71.5,504.4 71.3,504.2 71.0,503.9 70.8,503.6 70.7,503.3 70.5,503.0 70.4,502.6 70.3,502.3 70.2,501.8 70.1,501.3 70.1,500.8 70.2,500.3 70.3,499.8 70.3,499.6 70.5,499.1 70.6,498.8 70.8,498.3 70.9,498.1 71.1,497.8 71.3,497.4 71.5,497.1 71.8,496.8 72.0,496.6 72.3,496.4 72.5,496.2 72.8,496.0 73.1,495.8 73.5,495.6 73.8,495.5 74.3,495.3 74.5,495.3 75.0,495.2 75.5,495.1 76.0,495.1 76.3,495.0 76.8,495.0 77.3,495.0 77.8,495.0 78.0,495.1 78.5,495.1 79.0,495.1 79.5,495.2 80.0,495.2 80.5,495.3 80.9,495.3 81.3,495.3 81.8,495.4 82.3,495.5 82.8,495.5 83.3,495.6 83.5,495.6 84.0,495.6 84.5,495.7 85.0,495.7 85.5,495.7 86.0,495.8 86.5,495.8 86.8,495.8 87.3,495.8 87.8,495.9 88.3,495.9 88.8,495.9 89.3,496.0 89.8,496.0 90.3,496.0 90.5,496.1 91.0,496.1 91.5,496.1 92.0,496.2 92.5,496.2 93.0,496.2 93.5,496.3 93.8,496.3 94.3,496.4 94.8,496.4 95.3,496.4 95.8,496.5 96.3,496.5 96.5,496.6 97.0,496.6 97.5,496.7 98.0,496.7 98.5,496.8 98.8,496.8 99.3,496.9 99.8,496.9 100.3,497.0 100.8,497.0 101.0,497.1 101.5,497.1 102.0,497.2 102.5,497.3 102.8,497.3 103.3,497.4 103.8,497.5 104.3,497.5 104.5,497.6 105.0,497.6 105.5,497.7 106.0,497.8 106.3,497.8 106.8,497.9 107.3,498.1 107.5,498.1 108.0,498.2 108.3,498.3 108.8,498.5 109.1,498.6 109.5,498.8 109.8,498.9 110.1,499.1 110.5,499.3 110.8,499.5 111.0,499.8 111.2,500.1 111.4,500.3 111.5,500.8 111.4,501.3 111.2,501.6 111.0,501.8 110.6,502.1 110.3,502.2 110.0,502.3 109.5,502.5 109.3,502.6 108.8,502.8 108.5,502.8 108.0,502.9 107.5,503.0 107.3,503.1 106.8,503.2 106.3,503.2 105.8,503.3 105.5,503.3 105.0,503.4 104.5,503.5 104.0,503.5 103.7,503.6 103.3,503.6 102.8,503.6 102.3,503.7 101.8,503.7 101.3,503.8 101.0,503.8 100.5,503.9 100.0,503.9 99.5,504.0 99.0,504.0 98.6,504.1 98.3,504.1 97.8,504.1 97.3,504.2 96.8,504.2 96.3,504.2 95.8,504.3 95.4,504.3 95.0,504.3 94.5,504.4 94.0,504.4 93.5,504.4 93.0,504.5 92.5,504.5 92.0,504.5 91.5,504.5 91.3,504.6 90.8,504.6 90.3,504.6 89.8,504.6 89.3,504.7 88.8,504.7 88.3,504.7 87.8,504.7 87.3,504.8 86.8,504.8 86.5,504.8 86.0,504.8 85.5,504.9 85.0,504.9 84.5,504.9 84.0,505.0 83.5,505.0 83.2,505.1 82.8,505.1 82.3,505.2 81.8,505.2 81.3,505.3 81.0,505.3 80.5,505.4 80.0,505.5 79.6,505.6 79.3,505.6 78.8,505.7 78.3,505.7 77.8,505.8 77.5,505.8Z" fill="none" stroke="#111" stroke-width="0.7"/>
<path d="M78.5,505.3 78.0,505.4 77.5,505.4 77.0,505.5 76.5,505.5 76.0,505.5 75.5,505.5 75.0,505.5 74.5,505.5 74.0,505.4 73.8,505.3 73.3,505.1 73.0,505.0 72.6,504.8 72.3,504.6 72.0,504.4 71.8,504.1 71.5,503.8 71.3,503.6 71.2,503.3 71.0,503.1 70.8,502.6 70.7,502.3 70.6,501.8 70.6,501.3 70.6,500.8 70.6,500.3 70.7,499.8 70.8,499.5 70.9,499.1 71.0,498.8 71.3,498.3 71.4,498.1 71.6,497.8 71.8,497.5 72.0,497.2 72.3,497.0 72.5,496.8 72.8,496.6 73.2,496.3 73.5,496.1 73.8,496.0 74.3,495.8 74.5,495.8 75.0,495.7 75.5,495.6 76.0,495.6 76.3,495.5 76.8,495.5 77.3,495.5 77.8,495.5 78.2,495.6 78.5,495.6 79.0,495.6 79.5,495.7 80.0,495.7 80.5,495.8 80.9,495.8 81.3,495.8 81.8,495.9 82.3,496.0 82.8,496.0 83.1,496.1 83.5,496.1 84.0,496.1 84.5,496.2 85.0,496.2 85.5,496.3 86.0,496.3 86.3,496.3 86.8,496.4 87.3,496.4 87.8,496.4 88.3,496.5 88.8,496.5 89.3,496.5 89.5,496.6 90.0,496.6 90.5,496.6 91.0,496.7 91.5,496.7 92.0,496.8 92.5,496.8 92.8,496.8 93.3,496.9 93.8,496.9 94.3,497.0 94.8,497.0 95.1,497.1 95.5,497.1 96.0,497.2 96.5,497.2 97.0,497.3 97.3,497.3 97.8,497.4 98.3,497.4 98.8,497.5 99.3,497.6 99.5,497.6 100.0,497.7 100.5,497.7 100.9,497.8 101.3,497.9 101.8,497.9 102.3,498.0 102.5,498.1 103.0,498.2 103.5,498.3 103.8,498.3 104.3,498.4 104.8,498.5 105.0,498.6 105.5,498.7 106.0,498.8 106.3,498.9 106.8,499.0 107.0,499.1 107.5,499.3 107.8,499.4 108.1,499.6 108.5,499.8 108.8,500.0 109.0,500.3 109.2,500.6 109.2,501.1 109.0,501.4 108.8,501.6 108.4,501.8 108.0,502.0 107.8,502.1 107.3,502.2 107.0,502.3 106.5,502.4 106.0,502.5 105.8,502.6 105.3,502.6 104.8,502.7 104.3,502.8 104.0,502.8 103.5,502.9 103.0,503.0 102.6,503.1 102.3,503.1 101.8,503.2 101.3,503.2 100.8,503.3 100.5,503.3 100.0,503.4 99.5,503.4 99.0,503.5 98.5,503.5 98.3,503.6 97.8,503.6 97.3,503.7 96.8,503.7 96.3,503.7 95.8,503.8 95.5,503.8 95.0,503.9 94.5,503.9 94.0,503.9 93.5,504.0 93.0,504.0 92.5,504.0 92.3,504.1 91.8,504.1 91.3,504.1 90.8,504.1 90.3,504.2 89.8,504.2 89.3,504.2 88.8,504.3 88.3,504.3 88.0,504.3 87.5,504.3 87.0,504.4 86.5,504.4 86.0,504.4 85.5,504.5 85.0,504.5 84.5,504.5 84.3,504.6 83.8,504.6 83.3,504.6 82.8,504.7 82.3,504.8 82.0,504.8 81.5,504.9 81.0,504.9 80.5,505.0 80.3,505.1 79.8,505.1 79.3,505.2 78.8,505.3 78.5,505.3Z" fill="none" stroke="#111" stroke-width="0.7"/>
<path d="M77.3,505.1 76.8,505.1 76.3,505.1 75.8,505.1 75.3,505.1 74.8,505.1 74.5,505.0 74.0,504.9 73.7,504.8 73.3,504.7 73.0,504.5 72.7,504.3 72.4,504.1 72.1,503.8 71.9,503.6 71.7,503.3 71.5,503.1 71.3,502.6 71.2,502.3 71.1,501.8 71.0,501.6 71.0,501.1 71.0,500.6 71.1,500.3 71.2,499.8 71.3,499.5 71.5,499.1 71.6,498.8 71.8,498.4 72.0,498.1 72.2,497.8 72.4,497.6 72.7,497.3 73.0,497.1 73.3,496.8 73.5,496.7 73.9,496.6 74.3,496.4 74.7,496.3 75.0,496.2 75.5,496.1 76.0,496.1 76.5,496.1 76.8,496.0 77.3,496.0 77.8,496.1 78.0,496.1 78.5,496.1 79.0,496.1 79.5,496.2 80.0,496.2 80.5,496.3 80.8,496.3 81.3,496.4 81.8,496.5 82.3,496.5 82.5,496.6 83.0,496.6 83.5,496.7 84.0,496.7 84.5,496.8 84.8,496.8 85.3,496.8 85.8,496.9 86.3,496.9 86.8,497.0 87.3,497.0 87.8,497.0 88.0,497.1 88.5,497.1 89.0,497.1 89.5,497.2 90.0,497.2 90.5,497.3 90.8,497.3 91.3,497.4 91.8,497.4 92.3,497.5 92.8,497.5 93.2,497.6 93.5,497.6 94.0,497.7 94.5,497.7 95.0,497.8 95.3,497.8 95.8,497.9 96.3,498.0 96.8,498.0 97.0,498.1 97.5,498.1 98.0,498.2 98.5,498.3 98.8,498.4 99.3,498.4 99.8,498.5 100.0,498.6 100.5,498.7 101.0,498.8 101.3,498.9 101.8,499.0 102.0,499.1 102.5,499.2 102.8,499.3 103.3,499.5 103.5,499.6 104.0,499.8 104.3,499.9 104.6,500.1 105.0,500.3 105.2,500.6 105.4,500.8 105.3,501.1 105.0,501.3 104.6,501.6 104.3,501.7 104.0,501.8 103.5,501.9 103.1,502.1 102.8,502.1 102.3,502.2 102.0,502.3 101.5,502.4 101.0,502.5 100.7,502.6 100.3,502.6 99.8,502.7 99.3,502.8 99.0,502.8 98.5,502.9 98.0,502.9 97.5,503.0 97.2,503.1 96.8,503.1 96.3,503.1 95.8,503.2 95.3,503.3 94.9,503.3 94.5,503.3 94.0,503.4 93.5,503.4 93.0,503.5 92.5,503.5 92.0,503.5 91.8,503.6 91.3,503.6 90.8,503.6 90.3,503.7 89.8,503.7 89.3,503.7 88.8,503.8 88.5,503.8 88.0,503.8 87.5,503.9 87.0,503.9 86.5,503.9 86.0,504.0 85.5,504.0 85.0,504.0 84.8,504.1 84.3,504.1 83.8,504.2 83.3,504.2 82.8,504.3 82.5,504.3 82.0,504.4 81.5,504.4 81.0,504.5 80.8,504.6 80.3,504.6 79.8,504.7 79.3,504.8 79.0,504.8 78.5,504.9 78.0,505.0 77.5,505.0 77.3,505.1Z" fill="none" stroke="#111" stroke-width="0.7"/>
<path d="M77.5,504.6 77.0,504.6 76.5,504.6 76.0,504.7 75.5,504.6 75.0,504.6 74.7,504.6 74.3,504.5 73.8,504.3 73.5,504.2 73.2,504.1 72.9,503.8 72.6,503.6 72.3,503.3 72.1,503.1 72.0,502.8 71.8,502.4 71.7,502.1 71.6,501.6 71.5,501.3 71.5,500.9 71.6,500.6 71.7,500.1 71.8,499.6 71.9,499.3 72.0,499.0 72.3,498.6 72.5,498.3 72.7,498.1 73.0,497.8 73.3,497.6 73.5,497.4 73.8,497.2 74.2,497.1 74.5,496.9 75.0,496.8 75.3,496.8 75.8,496.7 76.3,496.6 76.8,496.6 77.3,496.6 77.8,496.6 78.3,496.7 78.8,496.7 79.3,496.8 79.6,496.8 80.0,496.9 80.5,496.9 81.0,497.0 81.5,497.1 81.8,497.1 82.3,497.2 82.8,497.2 83.3,497.3 83.5,497.3 84.0,497.4 84.5,497.5 85.0,497.5 85.4,497.6 85.8,497.6 86.3,497.6 86.8,497.7 87.3,497.7 87.8,497.8 88.0,497.8 88.5,497.9 89.0,497.9 89.5,498.0 90.0,498.0 90.3,498.1 90.8,498.1 91.3,498.2 91.8,498.3 92.2,498.3 92.5,498.4 93.0,498.4 93.5,498.5 93.9,498.6 94.3,498.6 94.8,498.7 95.2,498.8 95.5,498.9 96.0,499.0 96.4,499.1 96.8,499.2 97.3,499.3 97.5,499.3 98.0,499.5 98.3,499.6 98.8,499.8 99.0,499.9 99.5,500.1 99.8,500.3 100.0,500.5 100.2,500.8 100.0,501.2 99.8,501.4 99.5,501.6 99.0,501.7 98.7,501.8 98.3,501.9 97.8,502.0 97.5,502.1 97.0,502.2 96.5,502.3 96.3,502.3 95.8,502.4 95.3,502.5 95.0,502.6 94.5,502.6 94.0,502.7 93.5,502.7 93.0,502.8 92.8,502.8 92.3,502.9 91.8,502.9 91.3,503.0 90.8,503.0 90.5,503.1 90.0,503.1 89.5,503.1 89.0,503.2 88.5,503.2 88.0,503.3 87.6,503.3 87.3,503.3 86.8,503.4 86.3,503.4 85.8,503.4 85.3,503.5 84.8,503.5 84.5,503.6 84.0,503.6 83.5,503.7 83.0,503.7 82.6,503.8 82.3,503.8 81.8,503.9 81.3,504.0 81.0,504.1 80.5,504.1 80.0,504.2 79.5,504.3 79.3,504.3 78.8,504.4 78.3,504.5 77.8,504.5 77.5,504.6Z" fill="none" stroke="#111" stroke-width="0.7"/>
<path d="M77.5,504.1 77.0,504.1 76.5,504.1 76.0,504.1 75.5,504.1 75.1,504.1 74.8,504.0 74.3,503.9 74.0,503.8 73.5,503.6 73.3,503.4 73.0,503.2 72.8,502.9 72.5,502.6 72.4,502.3 72.3,502.1 72.2,501.6 72.1,501.1 72.2,500.6 72.3,500.1 72.4,499.8 72.5,499.4 72.8,499.1 72.9,498.8 73.2,498.6 73.4,498.3 73.7,498.1 74.0,497.9 74.3,497.8 74.8,497.6 75.0,497.5 75.5,497.4 76.0,497.3 76.3,497.3 76.8,497.3 77.3,497.3 77.8,497.3 78.0,497.3 78.5,497.4 79.0,497.4 79.5,497.5 80.0,497.6 80.3,497.6 80.8,497.7 81.3,497.8 81.5,497.8 82.0,497.9 82.5,498.0 82.9,498.1 83.3,498.1 83.8,498.2 84.3,498.3 84.5,498.3 85.0,498.4 85.5,498.5 86.0,498.5 86.3,498.6 86.8,498.6 87.3,498.7 87.8,498.8 88.0,498.8 88.5,498.9 89.0,499.0 89.5,499.1 89.8,499.1 90.3,499.2 90.8,499.3 91.0,499.4 91.5,499.5 91.9,499.6 92.3,499.7 92.7,499.8 93.0,499.9 93.4,500.1 93.8,500.3 94.0,500.4 94.3,500.7 94.3,501.0 94.0,501.3 93.8,501.4 93.4,501.6 93.0,501.7 92.5,501.8 92.3,501.8 91.8,501.9 91.3,502.0 91.0,502.1 90.5,502.2 90.0,502.2 89.6,502.3 89.3,502.3 88.8,502.4 88.3,502.5 87.8,502.5 87.5,502.6 87.0,502.6 86.5,502.7 86.0,502.7 85.5,502.8 85.3,502.8 84.8,502.9 84.3,502.9 83.8,503.0 83.5,503.1 83.0,503.1 82.5,503.2 82.0,503.3 81.8,503.3 81.3,503.4 80.8,503.5 80.5,503.6 80.0,503.7 79.5,503.8 79.3,503.8 78.8,503.9 78.3,504.0 77.8,504.0 77.5,504.1Z" fill="none" stroke="#111" stroke-width="0.7"/>
<path d="M78.3,503.3 77.8,503.4 77.3,503.5 76.8,503.5 76.3,503.5 75.8,503.5 75.3,503.4 74.8,503.3 74.5,503.2 74.1,503.1 73.8,502.9 73.5,502.7 73.3,502.4 73.1,502.1 73.0,501.8 72.9,501.3 72.9,500.8 73.0,500.3 73.1,500.1 73.3,499.7 73.5,499.3 73.8,499.1 74.0,498.8 74.3,498.7 74.6,498.6 75.0,498.4 75.3,498.3 75.8,498.2 76.3,498.1 76.8,498.1 77.3,498.1 77.8,498.1 78.3,498.1 78.8,498.2 79.3,498.3 79.5,498.3 80.0,498.4 80.5,498.6 80.8,498.6 81.3,498.7 81.5,498.8 82.0,498.9 82.5,499.1 82.8,499.2 83.3,499.3 83.5,499.4 84.0,499.5 84.3,499.6 84.8,499.8 85.0,499.8 85.5,500.0 85.8,500.1 86.2,500.3 86.5,500.5 86.8,500.8 86.5,501.2 86.3,501.3 85.8,501.5 85.5,501.6 85.0,501.7 84.8,501.8 84.3,501.9 83.8,502.0 83.5,502.1 83.0,502.2 82.8,502.3 82.3,502.4 81.8,502.5 81.5,502.6 81.0,502.7 80.8,502.8 80.3,502.9 79.8,503.0 79.5,503.1 79.0,503.2 78.5,503.3 78.3,503.3Z" fill="none" stroke="#111" stroke-width="0.7"/>
<path d="M77.5,502.6 77.0,502.6 76.5,502.6 76.0,502.6 75.7,502.6 75.3,502.4 74.9,502.3 74.5,502.1 74.3,501.8 74.1,501.6 74.1,501.1 74.2,500.6 74.3,500.3 74.5,500.0 74.8,499.8 75.2,499.6 75.5,499.4 75.8,499.3 76.3,499.2 76.8,499.2 77.3,499.2 77.8,499.2 78.3,499.3 78.5,499.3 79.0,499.5 79.3,499.6 79.8,499.8 80.0,499.9 80.3,500.1 80.7,500.3 80.9,500.6 81.0,501.1 80.8,501.4 80.5,501.6 80.1,501.8 79.8,501.9 79.5,502.1 79.0,502.2 78.8,502.3 78.3,502.4 77.8,502.5 77.5,502.6Z" fill="none" stroke="#111" stroke-width="0.7"/>
</g>
<line x1="91.4" y1="420.3" x2="91.4" y2="527.8" stroke="#111" stroke-width="1.0"/>
<line x1="38.8" y1="489" x2="156.4" y2="489" stroke="#111" stroke-width="1.0"/>
<rect x="38.8" y="420.3" width="117.6" height="107.5" fill="none" stroke="#111" stroke-width="1.1"/>
<line x1="36" y1="430" x2="38.8" y2="430" stroke="#111" stroke-width="1.0"/>
<text x="33.2" y="432.9" font-size="7.9" text-anchor="end" fill="#222">10<tspan dy="-2.7" font-size="5.4">5</tspan></text>
<line x1="36" y1="455.8" x2="38.8" y2="455.8" stroke="#111" stroke-width="1.0"/>
<text x="33.2" y="458.7" font-size="7.9" text-anchor="end" fill="#222">10<tspan dy="-2.7" font-size="5.4">4</tspan></text>
<line x1="36" y1="485.5" x2="38.8" y2="485.5" stroke="#111" stroke-width="1.0"/>
<text x="33.2" y="488.4" font-size="7.9" text-anchor="end" fill="#222">10<tspan dy="-2.7" font-size="5.4">3</tspan></text>
<line x1="36" y1="502.8" x2="38.8" y2="502.8" stroke="#111" stroke-width="1.0"/>
<text x="27.5" y="505.8" font-size="8.4" text-anchor="middle" font-weight="normal" fill="#222" >0</text>
<line x1="36" y1="520.5" x2="38.8" y2="520.5" stroke="#111" stroke-width="1.0"/>
<text x="33.2" y="523.4" font-size="7.9" text-anchor="end" fill="#222">−10<tspan dy="-2.7" font-size="5.4">3</tspan></text>
<line x1="37" y1="476.56" x2="38.8" y2="476.56" stroke="#111" stroke-width="0.8"/>
<line x1="37" y1="471.33" x2="38.8" y2="471.33" stroke="#111" stroke-width="0.8"/>
<line x1="37" y1="467.62" x2="38.8" y2="467.62" stroke="#111" stroke-width="0.8"/>
<line x1="37" y1="464.74" x2="38.8" y2="464.74" stroke="#111" stroke-width="0.8"/>
<line x1="37" y1="462.39" x2="38.8" y2="462.39" stroke="#111" stroke-width="0.8"/>
<line x1="37" y1="460.4" x2="38.8" y2="460.4" stroke="#111" stroke-width="0.8"/>
<line x1="37" y1="458.68" x2="38.8" y2="458.68" stroke="#111" stroke-width="0.8"/>
<line x1="37" y1="457.16" x2="38.8" y2="457.16" stroke="#111" stroke-width="0.8"/>
<line x1="37" y1="448.03" x2="38.8" y2="448.03" stroke="#111" stroke-width="0.8"/>
<line x1="37" y1="443.49" x2="38.8" y2="443.49" stroke="#111" stroke-width="0.8"/>
<line x1="37" y1="440.27" x2="38.8" y2="440.27" stroke="#111" stroke-width="0.8"/>
<line x1="37" y1="437.77" x2="38.8" y2="437.77" stroke="#111" stroke-width="0.8"/>
<line x1="37" y1="435.72" x2="38.8" y2="435.72" stroke="#111" stroke-width="0.8"/>
<line x1="37" y1="434" x2="38.8" y2="434" stroke="#111" stroke-width="0.8"/>
<line x1="37" y1="432.5" x2="38.8" y2="432.5" stroke="#111" stroke-width="0.8"/>
<line x1="37" y1="431.18" x2="38.8" y2="431.18" stroke="#111" stroke-width="0.8"/>
<line x1="36.6" y1="497.5" x2="38.8" y2="497.5" stroke="#111" stroke-width="0.9"/>
<line x1="36.6" y1="500.5" x2="38.8" y2="500.5" stroke="#111" stroke-width="0.9"/>
<line x1="36.6" y1="502.8" x2="38.8" y2="502.8" stroke="#111" stroke-width="0.9"/>
<line x1="36.6" y1="505" x2="38.8" y2="505" stroke="#111" stroke-width="0.9"/>
<line x1="36.6" y1="507.5" x2="38.8" y2="507.5" stroke="#111" stroke-width="0.9"/>
<line x1="72.7" y1="527.8" x2="72.7" y2="530.6" stroke="#111" stroke-width="1.0"/>
<line x1="90.8" y1="527.8" x2="90.8" y2="530.6" stroke="#111" stroke-width="1.0"/>
<line x1="119" y1="527.8" x2="119" y2="530.6" stroke="#111" stroke-width="1.0"/>
<line x1="146" y1="527.8" x2="146" y2="530.6" stroke="#111" stroke-width="1.0"/>
<line x1="99.29" y1="527.8" x2="99.29" y2="529.6" stroke="#111" stroke-width="0.8"/>
<line x1="104.25" y1="527.8" x2="104.25" y2="529.6" stroke="#111" stroke-width="0.8"/>
<line x1="107.78" y1="527.8" x2="107.78" y2="529.6" stroke="#111" stroke-width="0.8"/>
<line x1="110.51" y1="527.8" x2="110.51" y2="529.6" stroke="#111" stroke-width="0.8"/>
<line x1="112.74" y1="527.8" x2="112.74" y2="529.6" stroke="#111" stroke-width="0.8"/>
<line x1="114.63" y1="527.8" x2="114.63" y2="529.6" stroke="#111" stroke-width="0.8"/>
<line x1="116.27" y1="527.8" x2="116.27" y2="529.6" stroke="#111" stroke-width="0.8"/>
<line x1="117.71" y1="527.8" x2="117.71" y2="529.6" stroke="#111" stroke-width="0.8"/>
<line x1="127.13" y1="527.8" x2="127.13" y2="529.6" stroke="#111" stroke-width="0.8"/>
<line x1="131.88" y1="527.8" x2="131.88" y2="529.6" stroke="#111" stroke-width="0.8"/>
<line x1="135.26" y1="527.8" x2="135.26" y2="529.6" stroke="#111" stroke-width="0.8"/>
<line x1="137.87" y1="527.8" x2="137.87" y2="529.6" stroke="#111" stroke-width="0.8"/>
<line x1="140.01" y1="527.8" x2="140.01" y2="529.6" stroke="#111" stroke-width="0.8"/>
<line x1="141.82" y1="527.8" x2="141.82" y2="529.6" stroke="#111" stroke-width="0.8"/>
<line x1="143.38" y1="527.8" x2="143.38" y2="529.6" stroke="#111" stroke-width="0.8"/>
<line x1="144.76" y1="527.8" x2="144.76" y2="529.6" stroke="#111" stroke-width="0.8"/>
<line x1="69" y1="527.8" x2="69" y2="530" stroke="#111" stroke-width="0.9"/>
<line x1="72.7" y1="527.8" x2="72.7" y2="530" stroke="#111" stroke-width="0.9"/>
<line x1="76" y1="527.8" x2="76" y2="530" stroke="#111" stroke-width="0.9"/>
<text x="72.7" y="540.3" font-size="8.4" text-anchor="middle" font-weight="normal" fill="#222" >0</text>
<text x="119.8" y="540.1" font-size="8.2" text-anchor="middle" fill="#222">10<tspan dy="-3.2" font-size="5.5">4</tspan></text>
<text x="146.8" y="540.1" font-size="8.2" text-anchor="middle" fill="#222">10<tspan dy="-3.2" font-size="5.5">5</tspan></text>
<text x="43.8" y="430.8" font-size="9.7" text-anchor="start" font-weight="normal" fill="#222" textLength="25.8" lengthAdjust="spacingAndGlyphs" >12.6%</text>
<text x="153" y="430.6" font-size="9.7" text-anchor="end" font-weight="normal" fill="#222" textLength="26" lengthAdjust="spacingAndGlyphs" >11.3%</text>
<text x="43.8" y="524.6" font-size="9.7" text-anchor="start" font-weight="normal" fill="#222" textLength="25.8" lengthAdjust="spacingAndGlyphs" >56.5%</text>
<text x="153" y="524.6" font-size="9.7" text-anchor="end" font-weight="normal" fill="#222" textLength="26" lengthAdjust="spacingAndGlyphs" >19.2%</text>
<text x="27.5" y="413.2" font-size="8.6" fill="#222" textLength="138.9" lengthAdjust="spacingAndGlyphs">CD4<tspan dy="-3.3" font-size="5.5">+</tspan><tspan dy="3.3"> CD44</tspan><tspan dy="-3.3" font-size="5.5">+</tspan><tspan dy="3.3"> PD1</tspan><tspan dy="-3.3" font-size="5.5">+</tspan><tspan dy="3.3"> LAG3</tspan><tspan dy="-3.3" font-size="5.5">−</tspan><tspan dy="3.3">TIM3</tspan><tspan dy="-3.3" font-size="5.5">−</tspan></text>
<line x1="27.5" y1="414.6" x2="166.4" y2="414.6" stroke="#666" stroke-width="0.9"/>
<defs><clipPath id="clipE2"><rect x="38.8" y="571.2" width="116.60000000000001" height="109.0"/></clipPath></defs>
<g clip-path="url(#clipE2)">
<path fill="#aaa" d="M104.67 610.01h0.8v0.8h-0.8zM137.85 629.85h0.8v0.8h-0.8zM100.71 638.57h0.8v0.8h-0.8zM115.5 622.5h0.8v0.8h-0.8zM100.22 621.4h0.8v0.8h-0.8zM104.93 606.33h0.8v0.8h-0.8zM110.26 603.52h0.8v0.8h-0.8zM105.36 617.95h0.8v0.8h-0.8zM120.95 616.61h0.8v0.8h-0.8zM96.6 624.16h0.8v0.8h-0.8zM118.05 623.96h0.8v0.8h-0.8zM120.72 628.51h0.8v0.8h-0.8zM124.04 611.38h0.8v0.8h-0.8z"/>
<path fill="rgb(0,0,0)" d="M75.8 645.2h6v1h-6zM73.8 646.2h13v1h-13zM72.8 647.2h3v1h-3zM82.8 647.2h10v1h-10zM71.8 648.2h2v1h-2zM84.8 648.2h8v1h-8zM70.8 649.2h2v1h-2zM87.8 649.2h5v1h-5zM70.8 650.2h2v1h-2zM70.8 651.2h2v1h-2zM70.8 652.2h2v1h-2zM70.8 653.2h2v1h-2zM70.8 654.2h2v1h-2zM87.8 654.2h5v1h-5zM71.8 655.2h2v1h-2zM85.8 655.2h7v1h-7zM71.8 656.2h3v1h-3zM82.8 656.2h10v1h-10zM73.8 657.2h12v1h-12zM75.8 658.2h6v1h-6z"/>
<path fill="rgb(25,25,25)" d="M74.8 645.2h1v1h-1zM81.8 645.2h3v1h-3zM72.8 646.2h1v1h-1zM86.8 646.2h6v1h-6zM71.8 647.2h1v1h-1zM70.8 648.2h1v1h-1zM69.8 650.2h1v1h-1zM69.8 651.2h1v1h-1zM69.8 652.2h1v1h-1zM69.8 653.2h1v1h-1zM69.8 654.2h1v1h-1zM70.8 655.2h1v1h-1zM72.8 657.2h1v1h-1zM85.8 657.2h7v1h-7zM73.8 658.2h2v1h-2zM81.8 658.2h3v1h-3z"/>
<path fill="rgb(102,102,102)" d="M75.8 647.2h7v1h-7zM73.8 648.2h2v1h-2zM81.8 648.2h3v1h-3zM92.8 648.2h16v1h-16zM72.8 649.2h2v1h-2zM83.8 649.2h4v1h-4zM92.8 649.2h8v1h-8zM103.8 649.2h7v1h-7zM72.8 650.2h1v1h-1zM85.8 650.2h9v1h-9zM107.8 650.2h5v1h-5zM72.8 651.2h1v1h-1zM85.8 651.2h7v1h-7zM108.8 651.2h4v1h-4zM72.8 652.2h1v1h-1zM85.8 652.2h7v1h-7zM108.8 652.2h4v1h-4zM72.8 653.2h1v1h-1zM85.8 653.2h8v1h-8zM108.8 653.2h4v1h-4zM72.8 654.2h1v1h-1zM84.8 654.2h3v1h-3zM92.8 654.2h5v1h-5zM106.8 654.2h5v1h-5zM73.8 655.2h2v1h-2zM82.8 655.2h3v1h-3zM92.8 655.2h18v1h-18zM74.8 656.2h8v1h-8zM96.8 656.2h10v1h-10z"/>
<path fill="rgb(153,153,153)" d="M92.8 646.2h13v1h-13zM92.8 647.2h18v1h-18zM108.8 648.2h5v1h-5zM110.8 649.2h4v1h-4zM112.8 650.2h3v1h-3zM112.8 651.2h4v1h-4zM112.8 652.2h4v1h-4zM112.8 653.2h3v1h-3zM111.8 654.2h4v1h-4zM110.8 655.2h3v1h-3zM92.8 656.2h4v1h-4zM106.8 656.2h6v1h-6zM92.8 657.2h16v1h-16z"/>
<path fill="rgb(204,204,204)" d="M100.8 649.2h3v1h-3zM94.8 650.2h13v1h-13zM92.8 651.2h16v1h-16zM92.8 652.2h16v1h-16zM93.8 653.2h15v1h-15zM97.8 654.2h9v1h-9z"/>
<path fill="rgb(229,229,229)" d="M75.8 648.2h6v1h-6zM74.8 649.2h9v1h-9zM73.8 650.2h12v1h-12zM73.8 651.2h12v1h-12zM73.8 652.2h12v1h-12zM73.8 653.2h12v1h-12zM73.8 654.2h11v1h-11zM75.8 655.2h7v1h-7z"/>
<path d="M80.5,662.7 80.0,662.7 79.5,662.8 79.0,662.8 78.5,662.8 78.0,662.8 77.5,662.7 77.0,662.7 76.8,662.7 76.3,662.6 75.8,662.6 75.3,662.5 75.0,662.4 74.5,662.3 74.2,662.2 73.8,662.1 73.4,662.0 73.0,661.8 72.7,661.7 72.3,661.5 72.0,661.4 71.6,661.2 71.3,661.1 71.0,660.9 70.7,660.7 70.3,660.5 70.0,660.3 69.8,660.1 69.5,659.9 69.3,659.7 69.0,659.5 68.7,659.2 68.4,659.0 68.2,658.7 68.0,658.5 67.7,658.2 67.5,658.0 67.3,657.6 67.0,657.3 66.8,657.0 66.7,656.7 66.5,656.5 66.3,656.0 66.2,655.7 66.0,655.4 65.9,655.0 65.8,654.7 65.7,654.2 65.6,653.7 65.5,653.5 65.4,653.0 65.4,652.5 65.4,652.0 65.5,651.5 65.5,651.0 65.6,650.7 65.7,650.2 65.8,649.7 65.9,649.5 66.0,649.0 66.1,648.7 66.3,648.3 66.5,648.0 66.6,647.7 66.8,647.4 67.0,647.0 67.2,646.7 67.4,646.5 67.6,646.2 67.8,645.9 68.0,645.6 68.3,645.3 68.5,645.1 68.8,644.8 69.0,644.6 69.3,644.4 69.5,644.1 69.8,643.9 70.1,643.7 70.5,643.5 70.8,643.2 71.0,643.1 71.3,642.9 71.7,642.7 72.0,642.5 72.3,642.4 72.7,642.2 73.0,642.1 73.3,642.0 73.8,641.8 74.1,641.7 74.5,641.6 75.0,641.5 75.3,641.4 75.8,641.3 76.3,641.2 76.5,641.2 77.0,641.1 77.5,641.1 78.0,641.0 78.5,641.0 79.0,641.0 79.5,641.0 80.0,641.1 80.5,641.1 81.0,641.1 81.5,641.2 82.0,641.2 82.3,641.2 82.8,641.3 83.3,641.3 83.8,641.4 84.3,641.4 84.5,641.5 85.0,641.5 85.5,641.6 86.0,641.6 86.5,641.7 87.0,641.7 87.3,641.7 87.8,641.7 88.3,641.8 88.8,641.8 89.3,641.8 89.8,641.8 90.3,641.8 90.8,641.8 91.3,641.8 91.8,641.8 92.3,641.9 92.8,641.9 93.3,641.9 93.8,641.9 94.3,641.9 94.7,642.0 95.0,642.0 95.5,642.0 96.0,642.0 96.5,642.0 97.0,642.1 97.5,642.1 98.0,642.1 98.5,642.2 99.0,642.2 99.3,642.2 99.8,642.2 100.3,642.3 100.8,642.3 101.3,642.3 101.8,642.3 102.3,642.3 102.8,642.3 103.3,642.3 103.8,642.3 104.3,642.3 104.8,642.3 105.3,642.4 105.8,642.4 106.0,642.5 106.5,642.5 107.0,642.6 107.5,642.6 108.0,642.7 108.3,642.7 108.8,642.8 109.3,642.8 109.8,642.8 110.3,642.9 110.8,642.9 111.3,643.0 111.5,643.0 112.0,643.0 112.5,643.0 113.0,643.1 113.5,643.1 114.0,643.1 114.5,643.2 114.8,643.2 115.3,643.2 115.8,643.3 116.3,643.3 116.8,643.4 117.3,643.5 117.5,643.5 118.0,643.5 118.5,643.6 119.0,643.7 119.3,643.7 119.8,643.8 120.3,643.9 120.5,644.0 121.0,644.1 121.5,644.2 121.8,644.2 122.3,644.4 122.6,644.5 123.0,644.6 123.5,644.7 123.8,644.8 124.2,645.0 124.5,645.1 124.9,645.2 125.3,645.4 125.5,645.5 126.0,645.7 126.3,645.8 126.6,646.0 127.0,646.2 127.3,646.3 127.5,646.5 127.9,646.7 128.3,647.0 128.6,647.2 128.8,647.3 129.1,647.5 129.3,647.8 129.6,648.0 129.8,648.3 130.1,648.5 130.3,648.8 130.6,649.2 130.7,649.5 130.9,649.7 131.1,650.1 131.2,650.5 131.3,650.7 131.4,651.2 131.5,651.7 131.5,652.2 131.4,652.7 131.3,653.2 131.2,653.5 131.1,653.9 130.9,654.2 130.8,654.5 130.6,654.8 130.3,655.2 130.1,655.5 129.9,655.7 129.6,656.0 129.3,656.2 129.1,656.5 128.8,656.7 128.6,656.9 128.3,657.0 128.1,657.2 127.7,657.5 127.3,657.7 127.0,657.8 126.8,658.0 126.3,658.2 126.0,658.3 125.8,658.5 125.3,658.7 125.0,658.8 124.6,659.0 124.3,659.1 123.9,659.2 123.5,659.3 123.1,659.5 122.8,659.5 122.3,659.7 122.0,659.8 121.5,659.9 121.3,660.0 120.8,660.1 120.3,660.2 120.0,660.2 119.5,660.3 119.0,660.4 118.8,660.5 118.3,660.6 117.8,660.6 117.4,660.7 117.0,660.8 116.5,660.8 116.0,660.9 115.6,661.0 115.3,661.0 114.8,661.1 114.3,661.1 113.8,661.2 113.5,661.2 113.0,661.3 112.5,661.3 112.0,661.4 111.5,661.4 111.2,661.5 110.8,661.5 110.3,661.5 109.8,661.6 109.3,661.6 108.8,661.6 108.3,661.7 107.9,661.7 107.5,661.7 107.0,661.8 106.5,661.8 106.0,661.8 105.5,661.8 105.0,661.8 104.5,661.9 104.0,661.9 103.5,661.9 103.0,661.9 102.5,661.9 102.0,661.9 101.5,661.9 101.0,661.9 100.5,661.9 100.0,661.9 99.5,661.9 99.0,661.9 98.5,661.9 98.0,661.9 97.5,661.9 97.0,661.9 96.5,661.9 96.0,661.9 95.5,661.9 95.0,661.9 94.5,661.9 94.1,662.0 93.8,662.0 93.3,662.0 92.8,662.0 92.3,662.0 91.8,662.0 91.3,662.0 90.8,662.0 90.3,662.0 89.8,662.0 89.3,662.0 88.8,662.0 88.3,662.0 87.8,662.0 87.3,662.1 86.8,662.1 86.3,662.2 85.8,662.2 85.5,662.2 85.0,662.3 84.5,662.3 84.0,662.4 83.5,662.4 83.3,662.5 82.8,662.5 82.3,662.6 81.8,662.6 81.3,662.7 80.8,662.7 80.5,662.7Z" fill="none" stroke="#151515" stroke-width="0.7"/>
<path d="M80.0,662.5 79.5,662.5 79.0,662.5 78.5,662.5 78.0,662.5 77.5,662.5 77.3,662.4 76.8,662.4 76.3,662.4 75.8,662.3 75.4,662.2 75.0,662.1 74.5,662.0 74.3,661.9 73.8,661.8 73.5,661.7 73.0,661.5 72.8,661.4 72.3,661.2 72.0,661.1 71.8,661.0 71.3,660.7 71.0,660.6 70.8,660.4 70.5,660.2 70.1,660.0 69.8,659.7 69.5,659.5 69.3,659.3 69.0,659.1 68.8,658.9 68.5,658.6 68.3,658.3 68.0,658.1 67.8,657.7 67.6,657.5 67.4,657.2 67.2,657.0 67.0,656.7 66.8,656.2 66.7,656.0 66.5,655.7 66.3,655.2 66.3,655.0 66.1,654.5 66.0,654.2 65.9,653.7 65.9,653.2 65.8,652.7 65.8,652.2 65.8,651.7 65.9,651.2 65.9,650.7 66.0,650.2 66.1,650.0 66.3,649.5 66.3,649.2 66.5,648.7 66.6,648.5 66.8,648.1 67.0,647.7 67.2,647.5 67.3,647.2 67.5,646.8 67.8,646.5 68.0,646.2 68.2,646.0 68.4,645.7 68.6,645.5 68.9,645.2 69.1,645.0 69.4,644.7 69.7,644.5 70.0,644.2 70.3,644.0 70.5,643.8 70.8,643.6 71.0,643.4 71.4,643.2 71.8,643.0 72.0,642.9 72.4,642.7 72.8,642.5 73.0,642.4 73.5,642.2 73.8,642.1 74.3,642.0 74.5,641.9 75.0,641.7 75.3,641.7 75.8,641.6 76.3,641.5 76.7,641.5 77.0,641.4 77.5,641.4 78.0,641.4 78.5,641.3 79.0,641.3 79.5,641.4 80.0,641.4 80.5,641.4 81.0,641.4 81.3,641.5 81.8,641.5 82.3,641.5 82.8,641.6 83.3,641.7 83.7,641.7 84.0,641.7 84.5,641.8 85.0,641.8 85.5,641.9 86.0,642.0 86.3,642.0 86.8,642.0 87.3,642.0 87.8,642.1 88.3,642.1 88.8,642.1 89.3,642.1 89.8,642.2 90.3,642.2 90.8,642.2 91.3,642.2 91.5,642.2 92.0,642.2 92.5,642.2 93.0,642.2 93.5,642.3 94.0,642.3 94.5,642.3 95.0,642.3 95.5,642.3 96.0,642.4 96.5,642.4 97.0,642.4 97.5,642.5 97.8,642.5 98.3,642.5 98.8,642.5 99.3,642.6 99.8,642.6 100.3,642.6 100.8,642.6 101.3,642.7 101.8,642.7 102.0,642.7 102.5,642.7 103.0,642.7 103.5,642.7 104.0,642.8 104.5,642.8 105.0,642.8 105.5,642.9 106.0,642.9 106.5,643.0 106.8,643.0 107.3,643.0 107.8,643.1 108.3,643.1 108.8,643.2 109.2,643.2 109.5,643.2 110.0,643.3 110.5,643.3 111.0,643.3 111.5,643.4 112.0,643.4 112.3,643.5 112.8,643.5 113.3,643.5 113.8,643.6 114.3,643.6 114.8,643.7 115.0,643.7 115.5,643.8 116.0,643.8 116.5,643.9 116.9,644.0 117.3,644.0 117.8,644.1 118.3,644.2 118.5,644.2 119.0,644.3 119.5,644.4 119.9,644.5 120.3,644.5 120.8,644.6 121.0,644.7 121.5,644.8 122.0,645.0 122.3,645.0 122.8,645.2 123.0,645.3 123.5,645.4 123.8,645.5 124.2,645.7 124.5,645.8 124.8,646.0 125.3,646.2 125.5,646.3 125.9,646.5 126.3,646.7 126.5,646.8 126.8,647.0 127.1,647.2 127.5,647.5 127.8,647.7 128.1,647.9 128.3,648.1 128.6,648.4 128.8,648.6 129.1,648.9 129.3,649.2 129.5,649.5 129.6,649.7 129.8,650.0 130.0,650.5 130.1,650.7 130.2,651.2 130.3,651.7 130.3,652.2 130.2,652.7 130.1,653.2 130.0,653.5 129.8,654.0 129.7,654.2 129.5,654.5 129.3,654.8 129.1,655.1 128.8,655.4 128.6,655.7 128.3,655.9 128.1,656.1 127.8,656.3 127.5,656.5 127.3,656.7 126.9,657.0 126.5,657.2 126.3,657.3 126.0,657.5 125.6,657.7 125.3,657.9 125.0,658.0 124.6,658.2 124.3,658.3 123.9,658.5 123.5,658.6 123.3,658.7 122.8,658.9 122.5,659.0 122.0,659.1 121.7,659.2 121.3,659.3 120.8,659.4 120.5,659.5 120.0,659.6 119.7,659.7 119.3,659.8 118.8,659.9 118.5,660.0 118.0,660.1 117.5,660.1 117.3,660.2 116.8,660.3 116.3,660.4 115.8,660.4 115.5,660.5 115.0,660.6 114.5,660.6 114.1,660.7 113.8,660.7 113.3,660.8 112.8,660.9 112.3,660.9 112.0,661.0 111.5,661.0 111.0,661.1 110.5,661.1 110.0,661.2 109.8,661.2 109.3,661.3 108.8,661.3 108.3,661.3 107.8,661.4 107.3,661.4 106.8,661.4 106.5,661.5 106.0,661.5 105.5,661.5 105.0,661.5 104.5,661.5 104.0,661.6 103.5,661.6 103.0,661.6 102.5,661.6 102.0,661.6 101.5,661.6 101.0,661.6 100.5,661.6 100.0,661.6 99.5,661.6 99.0,661.6 98.5,661.6 98.0,661.6 97.5,661.6 97.0,661.6 96.5,661.6 96.0,661.6 95.5,661.6 95.0,661.6 94.5,661.6 94.0,661.6 93.5,661.6 93.0,661.6 92.5,661.6 92.0,661.6 91.5,661.6 91.0,661.6 90.5,661.6 90.0,661.6 89.5,661.6 89.0,661.7 88.5,661.7 88.0,661.7 87.8,661.7 87.3,661.7 86.8,661.8 86.3,661.8 85.8,661.9 85.3,661.9 85.0,662.0 84.5,662.0 84.0,662.1 83.5,662.1 83.0,662.2 82.8,662.2 82.3,662.3 81.8,662.3 81.3,662.4 80.8,662.4 80.3,662.4 80.0,662.5Z" fill="none" stroke="#151515" stroke-width="0.7"/>
<path d="M82.5,662.0 82.0,662.0 81.5,662.1 81.0,662.1 80.5,662.1 80.0,662.2 79.5,662.2 79.0,662.2 78.5,662.2 78.0,662.2 77.5,662.2 77.0,662.1 76.5,662.1 76.0,662.0 75.7,662.0 75.3,661.9 74.8,661.8 74.5,661.7 74.0,661.6 73.7,661.5 73.3,661.3 73.0,661.2 72.5,661.0 72.3,660.9 71.9,660.7 71.5,660.5 71.3,660.4 71.0,660.2 70.7,660.0 70.3,659.7 70.0,659.5 69.8,659.3 69.5,659.1 69.3,658.9 69.0,658.6 68.8,658.4 68.5,658.1 68.3,657.8 68.0,657.5 67.8,657.2 67.6,657.0 67.5,656.7 67.3,656.4 67.1,656.0 66.9,655.7 66.8,655.3 66.6,655.0 66.5,654.6 66.4,654.2 66.3,653.7 66.3,653.5 66.2,653.0 66.2,652.5 66.2,652.0 66.2,651.5 66.3,651.0 66.3,650.7 66.4,650.2 66.5,649.8 66.7,649.5 66.8,649.1 66.9,648.7 67.1,648.5 67.3,648.0 67.4,647.7 67.6,647.5 67.8,647.1 68.0,646.7 68.3,646.5 68.5,646.2 68.7,646.0 68.9,645.7 69.1,645.5 69.4,645.2 69.6,645.0 69.9,644.7 70.2,644.5 70.5,644.2 70.8,644.0 71.0,643.8 71.3,643.7 71.7,643.5 72.0,643.2 72.3,643.1 72.6,643.0 73.0,642.7 73.3,642.6 73.8,642.5 74.0,642.4 74.5,642.2 74.8,642.1 75.3,642.0 75.6,642.0 76.0,641.9 76.5,641.8 77.0,641.7 77.5,641.7 77.8,641.7 78.3,641.7 78.8,641.7 79.3,641.7 79.8,641.7 80.1,641.7 80.5,641.7 81.0,641.8 81.5,641.8 82.0,641.8 82.5,641.9 83.0,642.0 83.3,642.0 83.8,642.0 84.3,642.1 84.8,642.2 85.1,642.2 85.5,642.2 86.0,642.3 86.5,642.3 87.0,642.4 87.5,642.4 87.9,642.5 88.3,642.5 88.8,642.5 89.3,642.5 89.8,642.5 90.3,642.5 90.8,642.5 91.3,642.6 91.8,642.6 92.3,642.6 92.8,642.6 93.3,642.6 93.8,642.6 94.3,642.6 94.8,642.7 95.3,642.7 95.5,642.7 96.0,642.7 96.5,642.8 97.0,642.8 97.5,642.8 98.0,642.8 98.5,642.9 99.0,642.9 99.5,642.9 99.8,643.0 100.3,643.0 100.8,643.0 101.3,643.0 101.8,643.1 102.3,643.1 102.8,643.1 103.3,643.1 103.8,643.2 104.3,643.2 104.6,643.2 105.0,643.2 105.5,643.3 106.0,643.3 106.5,643.3 107.0,643.4 107.5,643.4 107.8,643.5 108.3,643.5 108.8,643.5 109.3,643.6 109.8,643.6 110.3,643.7 110.5,643.7 111.0,643.8 111.5,643.8 112.0,643.9 112.5,643.9 112.8,644.0 113.3,644.0 113.8,644.1 114.3,644.1 114.7,644.2 115.0,644.2 115.5,644.3 116.0,644.4 116.4,644.5 116.8,644.5 117.3,644.6 117.8,644.7 118.0,644.7 118.5,644.8 119.0,644.9 119.3,645.0 119.8,645.1 120.3,645.2 120.5,645.3 121.0,645.4 121.3,645.5 121.8,645.6 122.0,645.7 122.5,645.9 122.8,646.0 123.3,646.2 123.5,646.3 124.0,646.5 124.3,646.6 124.5,646.7 125.0,647.0 125.3,647.1 125.5,647.3 125.9,647.5 126.2,647.7 126.5,647.9 126.8,648.1 127.0,648.3 127.3,648.6 127.5,648.8 127.8,649.1 128.1,649.4 128.2,649.7 128.4,650.0 128.6,650.2 128.7,650.7 128.8,651.0 128.9,651.5 129.0,652.0 129.0,652.5 128.9,653.0 128.8,653.2 128.6,653.7 128.5,654.0 128.3,654.2 128.1,654.6 127.8,654.9 127.5,655.2 127.3,655.5 127.0,655.7 126.8,655.9 126.5,656.1 126.3,656.3 126.0,656.5 125.7,656.7 125.3,656.9 125.0,657.1 124.8,657.2 124.3,657.5 124.0,657.6 123.8,657.7 123.3,657.9 123.0,658.0 122.5,658.2 122.3,658.3 121.8,658.5 121.5,658.5 121.1,658.7 120.8,658.8 120.3,658.9 120.0,659.0 119.5,659.1 119.3,659.2 118.8,659.3 118.3,659.4 118.0,659.5 117.5,659.6 117.1,659.7 116.8,659.8 116.3,659.9 115.8,660.0 115.5,660.0 115.0,660.1 114.5,660.2 114.3,660.2 113.8,660.3 113.3,660.4 112.9,660.5 112.5,660.5 112.0,660.6 111.5,660.6 111.1,660.7 110.8,660.7 110.3,660.8 109.8,660.9 109.3,660.9 108.8,660.9 108.5,661.0 108.0,661.0 107.5,661.1 107.0,661.1 106.5,661.1 106.0,661.2 105.5,661.2 105.0,661.2 104.8,661.2 104.3,661.2 103.8,661.2 103.3,661.3 102.8,661.3 102.3,661.3 101.8,661.3 101.3,661.3 100.8,661.3 100.3,661.3 99.8,661.3 99.3,661.3 98.8,661.3 98.3,661.3 97.8,661.3 97.3,661.3 96.8,661.3 96.3,661.3 95.8,661.3 95.3,661.3 94.8,661.3 94.3,661.3 93.8,661.3 93.3,661.3 92.8,661.3 92.3,661.3 91.8,661.3 91.3,661.3 90.8,661.3 90.3,661.3 89.8,661.3 89.3,661.3 88.8,661.3 88.3,661.3 87.8,661.4 87.3,661.4 86.8,661.4 86.5,661.5 86.0,661.5 85.5,661.6 85.0,661.6 84.6,661.7 84.3,661.7 83.8,661.8 83.3,661.9 82.8,661.9 82.5,662.0Z" fill="none" stroke="#151515" stroke-width="0.7"/>
<path d="M81.8,661.7 81.3,661.8 80.8,661.8 80.3,661.9 79.8,661.9 79.3,661.9 78.8,661.9 78.3,661.9 77.8,661.9 77.3,661.9 76.8,661.8 76.3,661.8 76.0,661.7 75.5,661.6 75.0,661.5 74.8,661.5 74.3,661.3 73.9,661.2 73.5,661.1 73.2,661.0 72.8,660.8 72.5,660.7 72.1,660.5 71.8,660.3 71.5,660.1 71.2,660.0 70.9,659.7 70.5,659.5 70.3,659.3 70.0,659.1 69.8,658.9 69.5,658.7 69.3,658.4 69.0,658.2 68.8,657.9 68.5,657.6 68.3,657.3 68.1,657.0 67.9,656.7 67.8,656.5 67.5,656.1 67.4,655.7 67.2,655.5 67.0,655.0 67.0,654.7 66.8,654.2 66.8,654.0 66.7,653.5 66.6,653.0 66.6,652.5 66.6,652.0 66.6,651.5 66.7,651.0 66.8,650.5 66.8,650.2 67.0,649.7 67.1,649.5 67.2,649.0 67.4,648.7 67.5,648.3 67.7,648.0 67.9,647.7 68.0,647.4 68.3,647.0 68.5,646.7 68.7,646.5 68.9,646.2 69.1,646.0 69.4,645.7 69.6,645.5 69.9,645.2 70.2,645.0 70.5,644.7 70.8,644.5 71.0,644.2 71.3,644.1 71.5,643.9 71.9,643.7 72.3,643.5 72.5,643.3 72.9,643.2 73.3,643.0 73.5,642.9 74.0,642.7 74.3,642.6 74.8,642.5 75.0,642.4 75.5,642.3 76.0,642.2 76.3,642.2 76.8,642.1 77.3,642.0 77.8,642.0 78.3,642.0 78.8,642.0 79.3,642.0 79.8,642.0 80.3,642.0 80.8,642.1 81.3,642.1 81.8,642.2 82.2,642.2 82.5,642.2 83.0,642.3 83.5,642.4 84.0,642.4 84.3,642.5 84.8,642.5 85.3,642.6 85.8,642.6 86.3,642.7 86.5,642.7 87.0,642.8 87.5,642.8 88.0,642.8 88.5,642.9 89.0,642.9 89.5,642.9 90.0,642.9 90.5,642.9 91.0,642.9 91.5,643.0 91.8,643.0 92.3,643.0 92.8,643.0 93.3,643.0 93.8,643.0 94.3,643.0 94.8,643.0 95.3,643.1 95.8,643.1 96.3,643.1 96.8,643.1 97.3,643.2 97.8,643.2 98.0,643.2 98.5,643.2 99.0,643.3 99.5,643.3 100.0,643.3 100.5,643.3 101.0,643.4 101.5,643.4 102.0,643.4 102.3,643.5 102.8,643.5 103.3,643.5 103.8,643.5 104.3,643.6 104.8,643.6 105.3,643.6 105.8,643.7 106.2,643.7 106.5,643.7 107.0,643.8 107.5,643.8 108.0,643.9 108.5,643.9 108.9,644.0 109.3,644.0 109.8,644.0 110.3,644.1 110.8,644.2 111.1,644.2 111.5,644.3 112.0,644.3 112.5,644.4 113.0,644.5 113.3,644.5 113.8,644.6 114.3,644.6 114.6,644.7 115.0,644.8 115.5,644.9 116.0,645.0 116.3,645.0 116.8,645.1 117.3,645.2 117.5,645.2 118.0,645.4 118.4,645.5 118.8,645.5 119.3,645.7 119.5,645.7 120.0,645.9 120.3,646.0 120.8,646.1 121.1,646.2 121.5,646.3 121.8,646.5 122.3,646.6 122.5,646.7 123.0,647.0 123.3,647.1 123.6,647.2 124.0,647.5 124.3,647.6 124.5,647.8 124.9,648.0 125.2,648.2 125.5,648.5 125.8,648.7 126.0,648.9 126.3,649.2 126.5,649.4 126.7,649.7 126.9,650.0 127.1,650.2 127.3,650.7 127.4,651.0 127.5,651.5 127.5,651.8 127.6,652.2 127.5,652.5 127.4,653.0 127.3,653.3 127.1,653.7 127.0,654.0 126.8,654.3 126.5,654.6 126.3,654.9 126.0,655.1 125.8,655.4 125.5,655.6 125.3,655.8 125.0,656.0 124.7,656.2 124.3,656.5 124.0,656.6 123.8,656.8 123.4,657.0 123.0,657.1 122.8,657.3 122.4,657.5 122.0,657.6 121.7,657.7 121.3,657.9 121.0,658.0 120.5,658.1 120.3,658.2 119.8,658.4 119.5,658.5 119.0,658.6 118.7,658.7 118.3,658.8 117.8,659.0 117.5,659.0 117.0,659.1 116.8,659.2 116.3,659.3 115.8,659.4 115.5,659.5 115.0,659.6 114.6,659.7 114.3,659.8 113.8,659.9 113.3,659.9 113.0,660.0 112.5,660.1 112.0,660.2 111.8,660.2 111.3,660.3 110.8,660.4 110.3,660.4 110.0,660.5 109.5,660.5 109.0,660.6 108.5,660.6 108.0,660.7 107.7,660.7 107.3,660.7 106.8,660.8 106.3,660.8 105.8,660.8 105.3,660.9 104.8,660.9 104.3,660.9 103.8,660.9 103.3,660.9 102.8,660.9 102.3,660.9 101.8,660.9 101.5,661.0 101.0,661.0 100.5,661.0 100.0,661.0 99.5,661.0 99.0,661.0 98.5,661.0 98.0,661.0 97.5,661.0 97.3,660.9 96.8,660.9 96.3,660.9 95.8,660.9 95.3,660.9 94.8,660.9 94.3,660.9 93.8,660.9 93.3,660.9 92.8,660.9 92.3,660.9 91.8,660.9 91.3,660.9 90.8,660.9 90.3,660.9 89.8,660.9 89.3,660.9 88.8,661.0 88.5,661.0 88.0,661.0 87.5,661.0 87.0,661.1 86.5,661.1 86.0,661.2 85.8,661.2 85.3,661.3 84.8,661.3 84.3,661.4 84.0,661.5 83.5,661.5 83.0,661.6 82.5,661.6 82.0,661.7 81.8,661.7Z" fill="none" stroke="#151515" stroke-width="0.7"/>
<path d="M81.3,661.5 80.8,661.5 80.3,661.5 79.8,661.6 79.3,661.6 78.8,661.6 78.3,661.6 77.8,661.6 77.3,661.6 76.8,661.5 76.4,661.5 76.0,661.4 75.5,661.3 75.1,661.2 74.8,661.1 74.3,661.0 74.0,660.9 73.5,660.7 73.3,660.6 72.9,660.5 72.5,660.3 72.3,660.2 71.9,660.0 71.5,659.8 71.3,659.6 71.0,659.4 70.7,659.2 70.4,659.0 70.1,658.7 69.8,658.5 69.6,658.2 69.3,658.0 69.1,657.7 68.9,657.5 68.7,657.2 68.5,657.0 68.3,656.6 68.0,656.2 67.9,656.0 67.8,655.7 67.5,655.2 67.4,655.0 67.3,654.5 67.2,654.2 67.1,653.7 67.0,653.3 67.0,653.0 67.0,652.5 67.0,652.0 67.0,651.5 67.1,651.2 67.1,650.7 67.2,650.2 67.3,650.0 67.5,649.5 67.6,649.2 67.8,648.7 67.9,648.5 68.0,648.1 68.3,647.7 68.4,647.5 68.6,647.2 68.8,646.9 69.0,646.6 69.3,646.3 69.5,646.0 69.8,645.8 70.0,645.5 70.3,645.3 70.5,645.1 70.8,644.9 71.0,644.7 71.4,644.5 71.7,644.2 72.0,644.0 72.3,643.9 72.6,643.7 73.0,643.5 73.3,643.4 73.7,643.2 74.0,643.1 74.4,643.0 74.8,642.8 75.3,642.7 75.5,642.6 76.0,642.5 76.5,642.5 76.8,642.4 77.3,642.4 77.8,642.3 78.3,642.3 78.8,642.3 79.3,642.3 79.8,642.3 80.3,642.4 80.8,642.4 81.2,642.5 81.5,642.5 82.0,642.5 82.5,642.6 83.0,642.7 83.4,642.7 83.8,642.8 84.3,642.8 84.8,642.9 85.3,643.0 85.5,643.0 86.0,643.0 86.5,643.1 87.0,643.1 87.5,643.2 87.8,643.2 88.3,643.2 88.8,643.3 89.3,643.3 89.8,643.3 90.3,643.3 90.8,643.3 91.3,643.3 91.8,643.3 92.3,643.4 92.8,643.4 93.3,643.4 93.8,643.4 94.3,643.4 94.8,643.4 95.2,643.5 95.5,643.5 96.0,643.5 96.5,643.5 97.0,643.5 97.5,643.6 98.0,643.6 98.5,643.6 99.0,643.6 99.5,643.7 100.0,643.7 100.3,643.7 100.8,643.7 101.3,643.8 101.8,643.8 102.3,643.8 102.8,643.8 103.3,643.9 103.8,643.9 104.3,643.9 104.5,644.0 105.0,644.0 105.5,644.0 106.0,644.1 106.5,644.1 107.0,644.2 107.5,644.2 107.8,644.2 108.3,644.3 108.8,644.3 109.3,644.4 109.7,644.5 110.0,644.5 110.5,644.6 111.0,644.6 111.5,644.7 111.8,644.7 112.3,644.8 112.8,644.9 113.1,645.0 113.5,645.0 114.0,645.1 114.4,645.2 114.8,645.3 115.3,645.4 115.7,645.5 116.0,645.5 116.5,645.7 116.8,645.7 117.3,645.8 117.7,646.0 118.0,646.0 118.5,646.2 118.8,646.3 119.3,646.4 119.5,646.5 120.0,646.7 120.3,646.7 120.8,646.9 121.0,647.0 121.4,647.2 121.8,647.4 122.0,647.5 122.5,647.7 122.8,647.9 123.0,648.0 123.3,648.2 123.7,648.5 124.0,648.7 124.3,648.9 124.5,649.1 124.8,649.4 125.0,649.7 125.3,650.0 125.5,650.2 125.6,650.5 125.8,650.9 125.9,651.2 126.0,651.7 126.0,652.2 125.9,652.7 125.8,653.1 125.7,653.5 125.5,653.7 125.3,654.1 125.0,654.4 124.8,654.7 124.5,654.9 124.3,655.2 124.0,655.4 123.8,655.6 123.5,655.8 123.3,656.0 122.9,656.2 122.5,656.4 122.3,656.5 122.0,656.7 121.5,656.9 121.3,657.0 120.9,657.2 120.5,657.4 120.3,657.5 119.8,657.6 119.5,657.7 119.0,657.9 118.8,658.0 118.3,658.2 118.0,658.3 117.5,658.4 117.3,658.5 116.8,658.6 116.5,658.7 116.0,658.8 115.6,659.0 115.3,659.0 114.8,659.2 114.5,659.2 114.0,659.3 113.5,659.4 113.3,659.5 112.8,659.6 112.3,659.7 112.0,659.7 111.5,659.8 111.0,659.9 110.8,660.0 110.3,660.0 109.8,660.1 109.3,660.2 109.0,660.2 108.5,660.3 108.0,660.3 107.5,660.4 107.0,660.4 106.5,660.4 106.3,660.5 105.8,660.5 105.3,660.5 104.8,660.5 104.3,660.6 103.8,660.6 103.3,660.6 102.8,660.6 102.3,660.6 101.8,660.6 101.3,660.6 100.8,660.6 100.3,660.6 99.8,660.6 99.3,660.6 98.8,660.6 98.3,660.6 97.8,660.6 97.3,660.6 96.8,660.6 96.3,660.6 95.8,660.6 95.3,660.6 94.8,660.6 94.3,660.6 93.8,660.6 93.3,660.5 92.8,660.5 92.3,660.5 91.8,660.5 91.3,660.5 90.8,660.5 90.3,660.5 89.8,660.5 89.3,660.6 88.8,660.6 88.3,660.6 87.8,660.6 87.3,660.7 87.0,660.7 86.5,660.8 86.0,660.8 85.5,660.9 85.1,661.0 84.8,661.0 84.3,661.1 83.8,661.1 83.4,661.2 83.0,661.2 82.5,661.3 82.0,661.4 81.5,661.4 81.3,661.5Z" fill="none" stroke="#151515" stroke-width="0.7"/>
<path d="M80.3,661.2 79.8,661.2 79.3,661.3 78.8,661.3 78.3,661.3 77.8,661.3 77.3,661.2 77.0,661.2 76.5,661.2 76.0,661.1 75.5,661.0 75.3,660.9 74.8,660.8 74.5,660.7 74.0,660.6 73.7,660.5 73.3,660.3 73.0,660.2 72.6,660.0 72.3,659.8 72.0,659.7 71.7,659.5 71.3,659.2 71.0,659.0 70.8,658.8 70.5,658.6 70.3,658.4 70.0,658.2 69.8,657.9 69.5,657.7 69.3,657.4 69.0,657.1 68.8,656.7 68.6,656.5 68.5,656.2 68.3,655.9 68.1,655.5 68.0,655.2 67.8,654.8 67.7,654.5 67.6,654.0 67.5,653.7 67.4,653.2 67.4,652.7 67.4,652.2 67.4,651.7 67.5,651.2 67.5,650.7 67.6,650.5 67.7,650.0 67.8,649.7 68.0,649.2 68.1,649.0 68.3,648.5 68.5,648.2 68.6,648.0 68.8,647.6 69.0,647.2 69.3,647.0 69.5,646.7 69.7,646.5 69.9,646.2 70.1,646.0 70.4,645.7 70.7,645.5 71.0,645.2 71.3,645.0 71.5,644.8 71.8,644.6 72.0,644.4 72.4,644.2 72.8,644.0 73.0,643.9 73.4,643.7 73.8,643.5 74.0,643.4 74.5,643.3 74.8,643.2 75.3,643.1 75.8,643.0 76.0,642.9 76.5,642.8 77.0,642.7 77.5,642.7 77.8,642.7 78.3,642.7 78.8,642.7 79.3,642.7 79.8,642.7 80.0,642.7 80.5,642.7 81.0,642.8 81.5,642.8 82.0,642.9 82.5,643.0 82.8,643.0 83.3,643.1 83.8,643.1 84.3,643.2 84.5,643.2 85.0,643.3 85.5,643.4 86.0,643.4 86.3,643.5 86.8,643.5 87.3,643.6 87.8,643.6 88.3,643.6 88.8,643.7 89.3,643.7 89.5,643.7 90.0,643.7 90.5,643.7 91.0,643.7 91.5,643.8 92.0,643.8 92.5,643.8 93.0,643.8 93.5,643.8 94.0,643.8 94.5,643.8 95.0,643.8 95.5,643.9 96.0,643.9 96.5,643.9 97.0,643.9 97.5,644.0 97.8,644.0 98.3,644.0 98.8,644.0 99.3,644.0 99.8,644.1 100.3,644.1 100.8,644.1 101.3,644.1 101.8,644.2 102.3,644.2 102.5,644.2 103.0,644.2 103.5,644.3 104.0,644.3 104.5,644.3 105.0,644.4 105.5,644.4 106.0,644.4 106.3,644.5 106.8,644.5 107.3,644.6 107.8,644.6 108.3,644.7 108.5,644.7 109.0,644.8 109.5,644.8 110.0,644.9 110.3,645.0 110.8,645.0 111.3,645.1 111.8,645.2 112.0,645.2 112.5,645.3 113.0,645.4 113.3,645.5 113.8,645.6 114.3,645.7 114.5,645.8 115.0,645.9 115.3,646.0 115.8,646.1 116.2,646.2 116.5,646.3 117.0,646.4 117.3,646.5 117.8,646.7 118.0,646.8 118.5,646.9 118.8,647.0 119.2,647.2 119.5,647.3 119.8,647.5 120.3,647.7 120.5,647.8 120.9,648.0 121.3,648.2 121.5,648.3 121.8,648.5 122.1,648.7 122.5,649.0 122.8,649.2 123.0,649.5 123.3,649.7 123.5,650.0 123.7,650.2 123.9,650.5 124.0,650.8 124.2,651.2 124.3,651.7 124.3,652.0 124.3,652.5 124.3,652.7 124.1,653.2 124.0,653.5 123.8,653.8 123.5,654.1 123.3,654.4 123.0,654.7 122.8,654.9 122.5,655.1 122.3,655.3 122.0,655.5 121.8,655.7 121.4,656.0 121.0,656.2 120.8,656.3 120.5,656.5 120.0,656.7 119.8,656.8 119.5,657.0 119.0,657.2 118.8,657.3 118.4,657.5 118.0,657.6 117.7,657.7 117.3,657.9 117.0,658.0 116.5,658.1 116.3,658.2 115.8,658.4 115.5,658.5 115.0,658.6 114.6,658.7 114.3,658.8 113.8,658.9 113.5,659.0 113.0,659.1 112.5,659.2 112.3,659.3 111.8,659.4 111.3,659.5 111.0,659.5 110.5,659.6 110.0,659.7 109.8,659.7 109.3,659.8 108.8,659.9 108.3,659.9 107.9,660.0 107.5,660.0 107.0,660.0 106.5,660.1 106.0,660.1 105.5,660.2 105.0,660.2 104.6,660.2 104.3,660.2 103.8,660.2 103.3,660.2 102.8,660.3 102.3,660.3 101.8,660.3 101.3,660.3 100.8,660.3 100.3,660.3 99.8,660.3 99.3,660.3 98.8,660.3 98.3,660.3 97.8,660.2 97.3,660.2 96.8,660.2 96.3,660.2 95.8,660.2 95.5,660.2 95.0,660.2 94.5,660.2 94.0,660.2 93.5,660.2 93.0,660.2 92.5,660.1 92.0,660.1 91.5,660.1 91.0,660.1 90.5,660.1 90.0,660.1 89.5,660.2 89.0,660.2 88.5,660.2 88.3,660.2 87.8,660.3 87.3,660.3 86.8,660.4 86.3,660.4 86.0,660.5 85.5,660.5 85.0,660.6 84.5,660.7 84.3,660.7 83.8,660.8 83.3,660.9 82.8,660.9 82.5,661.0 82.0,661.0 81.5,661.1 81.0,661.2 80.5,661.2 80.3,661.2Z" fill="none" stroke="#151515" stroke-width="0.7"/>
<path d="M81.8,660.7 81.3,660.8 80.8,660.8 80.3,660.9 79.8,660.9 79.3,660.9 78.8,660.9 78.3,660.9 77.8,660.9 77.3,660.9 76.8,660.9 76.3,660.8 75.8,660.7 75.5,660.6 75.0,660.5 74.8,660.4 74.3,660.3 74.0,660.2 73.5,660.0 73.3,659.9 72.9,659.7 72.5,659.5 72.3,659.4 72.0,659.2 71.6,659.0 71.3,658.8 71.0,658.6 70.8,658.4 70.5,658.1 70.3,657.9 70.0,657.7 69.8,657.4 69.5,657.1 69.3,656.8 69.1,656.5 68.9,656.2 68.8,656.0 68.5,655.5 68.4,655.2 68.3,655.0 68.1,654.5 68.0,654.2 67.9,653.7 67.9,653.2 67.8,652.7 67.8,652.2 67.8,651.7 67.9,651.2 68.0,650.7 68.0,650.4 68.2,650.0 68.3,649.5 68.4,649.2 68.5,648.9 68.8,648.5 68.9,648.2 69.1,648.0 69.3,647.6 69.5,647.2 69.8,647.0 70.0,646.7 70.2,646.5 70.4,646.2 70.7,646.0 71.0,645.7 71.3,645.5 71.5,645.2 71.8,645.0 72.0,644.9 72.3,644.7 72.8,644.5 73.0,644.3 73.3,644.2 73.8,644.0 74.0,643.8 74.4,643.7 74.8,643.6 75.2,643.5 75.5,643.4 76.0,643.3 76.4,643.2 76.8,643.1 77.3,643.1 77.8,643.0 78.3,643.0 78.8,643.0 79.3,643.0 79.8,643.1 80.3,643.1 80.8,643.1 81.3,643.2 81.5,643.2 82.0,643.3 82.5,643.3 83.0,643.4 83.4,643.5 83.8,643.5 84.3,643.6 84.8,643.7 85.0,643.7 85.5,643.8 86.0,643.8 86.5,643.9 86.9,644.0 87.3,644.0 87.8,644.0 88.3,644.1 88.8,644.1 89.3,644.1 89.8,644.2 90.3,644.2 90.8,644.2 91.3,644.2 91.8,644.2 92.0,644.2 92.5,644.2 93.0,644.2 93.5,644.2 94.0,644.2 94.5,644.3 95.0,644.3 95.5,644.3 96.0,644.3 96.5,644.3 97.0,644.3 97.5,644.4 98.0,644.4 98.5,644.4 99.0,644.4 99.5,644.4 99.8,644.5 100.3,644.5 100.8,644.5 101.3,644.5 101.8,644.5 102.3,644.6 102.8,644.6 103.3,644.6 103.8,644.7 104.3,644.7 104.5,644.7 105.0,644.7 105.5,644.8 106.0,644.8 106.5,644.9 107.0,644.9 107.3,645.0 107.8,645.0 108.3,645.1 108.8,645.2 109.1,645.2 109.5,645.3 110.0,645.3 110.5,645.4 110.8,645.5 111.3,645.6 111.8,645.7 112.0,645.7 112.5,645.8 113.0,646.0 113.3,646.0 113.8,646.1 114.0,646.2 114.5,646.3 114.9,646.5 115.3,646.6 115.7,646.7 116.0,646.8 116.5,647.0 116.8,647.1 117.1,647.2 117.5,647.4 117.8,647.5 118.3,647.7 118.5,647.8 118.9,648.0 119.3,648.2 119.5,648.3 119.8,648.5 120.2,648.7 120.5,649.0 120.8,649.1 121.0,649.3 121.3,649.6 121.5,649.8 121.8,650.1 122.0,650.4 122.2,650.7 122.3,651.0 122.5,651.5 122.6,651.7 122.6,652.2 122.5,652.5 122.5,653.0 122.3,653.3 122.1,653.7 121.9,654.0 121.7,654.2 121.5,654.5 121.3,654.7 121.0,655.0 120.7,655.2 120.4,655.5 120.0,655.7 119.8,655.8 119.5,656.0 119.2,656.2 118.8,656.4 118.5,656.6 118.3,656.7 117.8,656.9 117.5,657.0 117.2,657.2 116.8,657.4 116.5,657.5 116.0,657.7 115.8,657.8 115.3,657.9 115.0,658.0 114.5,658.2 114.3,658.3 113.8,658.4 113.5,658.5 113.0,658.6 112.7,658.7 112.3,658.8 111.8,658.9 111.5,659.0 111.0,659.1 110.5,659.2 110.3,659.2 109.8,659.3 109.3,659.4 108.8,659.5 108.5,659.5 108.0,659.6 107.5,659.6 107.0,659.7 106.7,659.7 106.3,659.7 105.8,659.8 105.3,659.8 104.8,659.8 104.3,659.9 103.8,659.9 103.3,659.9 102.8,659.9 102.3,659.9 101.8,659.9 101.3,659.9 100.8,659.9 100.3,659.9 99.8,659.9 99.3,659.9 98.8,659.9 98.3,659.9 97.8,659.9 97.3,659.9 96.8,659.8 96.3,659.8 95.8,659.8 95.3,659.8 94.8,659.8 94.3,659.8 93.8,659.8 93.3,659.8 92.8,659.7 92.3,659.7 91.8,659.7 91.3,659.7 90.8,659.7 90.3,659.7 89.8,659.7 89.3,659.8 88.8,659.8 88.3,659.8 87.8,659.9 87.3,659.9 86.9,660.0 86.5,660.0 86.0,660.1 85.5,660.1 85.2,660.2 84.8,660.3 84.3,660.4 83.8,660.4 83.5,660.5 83.0,660.6 82.5,660.6 82.0,660.7 81.8,660.7Z" fill="none" stroke="#151515" stroke-width="0.7"/>
<path d="M81.0,660.5 80.5,660.5 80.0,660.5 79.5,660.6 79.0,660.6 78.5,660.6 78.0,660.6 77.5,660.6 77.0,660.5 76.5,660.5 76.3,660.4 75.8,660.3 75.3,660.2 75.0,660.2 74.5,660.0 74.3,659.9 73.8,659.7 73.5,659.6 73.2,659.5 72.8,659.3 72.5,659.1 72.3,659.0 71.9,658.7 71.5,658.5 71.3,658.3 71.0,658.1 70.8,657.9 70.5,657.6 70.3,657.4 70.0,657.1 69.8,656.8 69.6,656.5 69.4,656.2 69.2,656.0 69.0,655.6 68.8,655.2 68.7,655.0 68.6,654.5 68.5,654.2 68.4,653.7 68.3,653.3 68.3,653.0 68.2,652.5 68.2,652.0 68.3,651.5 68.3,651.2 68.4,650.7 68.5,650.2 68.6,650.0 68.8,649.5 68.9,649.2 69.0,648.8 69.2,648.5 69.4,648.2 69.5,647.9 69.8,647.6 70.0,647.2 70.3,647.0 70.5,646.7 70.7,646.5 71.0,646.2 71.3,646.0 71.5,645.7 71.8,645.5 72.0,645.3 72.3,645.2 72.7,645.0 73.0,644.7 73.3,644.6 73.6,644.5 74.0,644.2 74.3,644.1 74.8,644.0 75.0,643.9 75.5,643.8 75.8,643.7 76.3,643.6 76.8,643.5 77.3,643.5 77.5,643.4 78.0,643.4 78.5,643.4 79.0,643.4 79.5,643.4 80.0,643.5 80.3,643.5 80.8,643.5 81.3,643.6 81.8,643.6 82.3,643.7 82.5,643.7 83.0,643.8 83.5,643.9 84.0,644.0 84.3,644.0 84.8,644.1 85.3,644.2 85.5,644.2 86.0,644.3 86.5,644.4 87.0,644.4 87.4,644.5 87.8,644.5 88.3,644.5 88.8,644.6 89.3,644.6 89.8,644.6 90.3,644.6 90.8,644.6 91.3,644.6 91.8,644.7 92.3,644.7 92.8,644.7 93.3,644.7 93.8,644.7 94.3,644.7 94.5,644.7 95.0,644.7 95.5,644.7 96.0,644.7 96.5,644.8 97.0,644.8 97.5,644.8 98.0,644.8 98.5,644.8 99.0,644.8 99.5,644.9 100.0,644.9 100.5,644.9 101.0,644.9 101.5,644.9 101.8,645.0 102.3,645.0 102.8,645.0 103.3,645.0 103.8,645.1 104.3,645.1 104.8,645.1 105.3,645.2 105.6,645.2 106.0,645.2 106.5,645.3 107.0,645.3 107.5,645.4 107.9,645.5 108.3,645.5 108.8,645.6 109.3,645.7 109.5,645.7 110.0,645.8 110.5,645.9 110.8,646.0 111.3,646.0 111.8,646.2 112.0,646.2 112.5,646.4 112.9,646.5 113.3,646.6 113.8,646.7 114.0,646.8 114.5,647.0 114.8,647.0 115.2,647.2 115.5,647.3 115.9,647.5 116.3,647.6 116.5,647.7 117.0,648.0 117.3,648.1 117.5,648.2 118.0,648.5 118.3,648.7 118.5,648.8 118.8,649.0 119.1,649.2 119.4,649.5 119.7,649.7 119.9,650.0 120.1,650.2 120.3,650.5 120.5,650.8 120.7,651.2 120.8,651.5 120.9,652.0 120.9,652.5 120.8,652.9 120.7,653.2 120.5,653.5 120.3,653.9 120.1,654.2 119.9,654.5 119.6,654.7 119.4,655.0 119.1,655.2 118.8,655.4 118.5,655.6 118.3,655.8 118.0,656.0 117.6,656.2 117.3,656.4 117.0,656.5 116.7,656.7 116.3,656.9 116.0,657.0 115.6,657.2 115.3,657.3 114.9,657.5 114.5,657.6 114.3,657.7 113.8,657.9 113.5,658.0 113.0,658.1 112.7,658.2 112.3,658.3 111.8,658.4 111.5,658.5 111.0,658.6 110.7,658.7 110.3,658.8 109.8,658.9 109.4,659.0 109.0,659.0 108.5,659.1 108.0,659.2 107.7,659.2 107.3,659.3 106.8,659.3 106.3,659.4 105.8,659.4 105.3,659.4 104.9,659.5 104.5,659.5 104.0,659.5 103.5,659.5 103.0,659.5 102.5,659.5 102.0,659.5 101.5,659.5 101.0,659.5 100.5,659.5 100.0,659.5 99.5,659.5 99.0,659.5 98.5,659.5 98.0,659.5 97.5,659.5 97.1,659.5 96.8,659.4 96.3,659.4 95.8,659.4 95.3,659.4 94.8,659.4 94.3,659.4 93.8,659.3 93.3,659.3 92.8,659.3 92.3,659.3 91.8,659.3 91.3,659.3 90.8,659.3 90.3,659.3 89.8,659.3 89.3,659.3 88.8,659.3 88.3,659.4 87.8,659.4 87.5,659.5 87.0,659.5 86.5,659.6 86.0,659.7 85.8,659.7 85.3,659.8 84.8,659.9 84.4,660.0 84.0,660.0 83.5,660.1 83.0,660.2 82.8,660.2 82.3,660.3 81.8,660.4 81.3,660.4 81.0,660.5Z" fill="none" stroke="#151515" stroke-width="0.7"/>
<path d="M81.0,660.0 80.5,660.0 80.0,660.1 79.5,660.1 79.0,660.1 78.5,660.1 78.0,660.1 77.5,660.1 77.0,660.1 76.5,660.0 76.3,660.0 75.8,659.9 75.3,659.7 75.0,659.7 74.5,659.5 74.3,659.4 73.8,659.2 73.5,659.1 73.3,659.0 72.8,658.7 72.5,658.6 72.3,658.4 72.0,658.2 71.7,658.0 71.4,657.7 71.1,657.5 70.9,657.2 70.6,657.0 70.4,656.7 70.2,656.5 70.0,656.2 69.8,655.8 69.6,655.5 69.5,655.2 69.3,654.8 69.2,654.5 69.0,654.1 68.9,653.7 68.9,653.2 68.8,652.7 68.8,652.2 68.8,651.7 68.9,651.2 69.0,650.7 69.1,650.5 69.2,650.0 69.3,649.7 69.5,649.2 69.6,649.0 69.8,648.6 70.0,648.2 70.2,648.0 70.4,647.7 70.6,647.5 70.8,647.2 71.0,646.9 71.3,646.7 71.5,646.4 71.8,646.2 72.1,646.0 72.5,645.7 72.8,645.5 73.0,645.3 73.3,645.2 73.8,645.0 74.0,644.8 74.3,644.7 74.8,644.5 75.0,644.4 75.5,644.3 75.9,644.2 76.3,644.1 76.8,644.0 77.3,644.0 77.6,644.0 78.0,643.9 78.5,643.9 79.0,643.9 79.5,643.9 79.8,644.0 80.3,644.0 80.8,644.0 81.3,644.1 81.8,644.2 82.1,644.2 82.5,644.3 83.0,644.3 83.5,644.4 83.8,644.5 84.3,644.6 84.8,644.7 85.0,644.7 85.5,644.8 86.0,644.9 86.5,645.0 86.8,645.0 87.3,645.1 87.8,645.1 88.3,645.2 88.8,645.2 89.0,645.2 89.5,645.2 90.0,645.3 90.5,645.3 91.0,645.3 91.5,645.3 92.0,645.3 92.5,645.3 93.0,645.3 93.5,645.3 94.0,645.3 94.5,645.3 95.0,645.3 95.5,645.3 96.0,645.3 96.5,645.3 97.0,645.4 97.5,645.4 98.0,645.4 98.5,645.4 99.0,645.4 99.5,645.4 100.0,645.4 100.5,645.5 100.8,645.5 101.3,645.5 101.8,645.5 102.3,645.5 102.8,645.5 103.3,645.6 103.8,645.6 104.3,645.6 104.8,645.7 105.2,645.7 105.5,645.7 106.0,645.8 106.5,645.8 107.0,645.9 107.4,646.0 107.8,646.0 108.3,646.1 108.8,646.2 109.0,646.2 109.5,646.3 110.0,646.4 110.3,646.5 110.8,646.6 111.3,646.7 111.5,646.8 112.0,646.9 112.3,647.0 112.8,647.2 113.0,647.2 113.5,647.4 113.8,647.5 114.3,647.7 114.5,647.8 114.8,648.0 115.3,648.2 115.5,648.3 115.8,648.5 116.3,648.7 116.5,648.9 116.8,649.1 117.0,649.2 117.3,649.5 117.6,649.7 117.9,650.0 118.1,650.2 118.3,650.5 118.5,650.9 118.7,651.2 118.8,651.5 118.9,652.0 118.9,652.5 118.8,653.0 118.7,653.2 118.5,653.6 118.3,654.0 118.1,654.2 117.9,654.5 117.7,654.7 117.4,655.0 117.1,655.2 116.8,655.5 116.5,655.6 116.3,655.8 116.0,656.0 115.7,656.2 115.3,656.4 115.0,656.5 114.7,656.7 114.3,656.9 114.0,657.0 113.5,657.2 113.3,657.3 112.8,657.5 112.5,657.6 112.1,657.7 111.8,657.8 111.3,657.9 111.0,658.0 110.5,658.1 110.2,658.2 109.8,658.3 109.3,658.4 109.0,658.5 108.5,658.5 108.0,658.6 107.5,658.7 107.3,658.7 106.8,658.8 106.3,658.8 105.8,658.9 105.3,658.9 104.8,658.9 104.5,659.0 104.0,659.0 103.5,659.0 103.0,659.0 102.5,659.0 102.0,659.0 101.5,659.0 101.0,659.0 100.5,659.0 100.0,659.0 99.5,659.0 99.0,659.0 98.5,659.0 98.3,659.0 97.8,658.9 97.3,658.9 96.8,658.9 96.3,658.9 95.8,658.9 95.3,658.8 94.8,658.8 94.3,658.8 93.8,658.8 93.3,658.7 92.8,658.7 92.3,658.7 92.0,658.7 91.5,658.7 91.0,658.7 90.5,658.7 90.0,658.7 89.5,658.7 89.3,658.7 88.8,658.7 88.3,658.8 87.8,658.8 87.3,658.9 86.9,659.0 86.5,659.0 86.0,659.1 85.5,659.2 85.3,659.2 84.8,659.3 84.3,659.4 84.0,659.5 83.5,659.6 83.0,659.7 82.8,659.7 82.3,659.8 81.8,659.9 81.3,659.9 81.0,660.0Z" fill="none" stroke="#151515" stroke-width="0.7"/>
<path d="M80.3,659.7 79.8,659.7 79.3,659.8 78.8,659.8 78.3,659.8 77.8,659.8 77.3,659.7 76.9,659.7 76.5,659.7 76.0,659.6 75.6,659.5 75.3,659.4 74.8,659.2 74.5,659.1 74.1,659.0 73.8,658.8 73.5,658.7 73.1,658.5 72.8,658.3 72.5,658.1 72.3,657.9 72.0,657.7 71.7,657.5 71.4,657.2 71.1,657.0 70.9,656.7 70.7,656.5 70.5,656.2 70.3,655.9 70.0,655.5 69.9,655.2 69.8,655.0 69.6,654.5 69.5,654.2 69.4,653.7 69.3,653.3 69.2,653.0 69.2,652.5 69.2,652.0 69.3,651.5 69.3,651.2 69.4,650.7 69.5,650.2 69.6,650.0 69.8,649.5 69.9,649.2 70.1,649.0 70.3,648.6 70.5,648.2 70.7,648.0 70.9,647.7 71.1,647.5 71.3,647.2 71.6,647.0 71.8,646.7 72.1,646.5 72.4,646.2 72.8,646.0 73.0,645.8 73.3,645.6 73.6,645.5 74.0,645.2 74.3,645.1 74.7,645.0 75.0,644.8 75.5,644.7 75.8,644.6 76.3,644.5 76.5,644.4 77.0,644.4 77.5,644.3 78.0,644.3 78.5,644.3 79.0,644.3 79.5,644.3 80.0,644.3 80.5,644.4 81.0,644.4 81.3,644.5 81.8,644.5 82.3,644.6 82.8,644.7 83.0,644.7 83.5,644.8 84.0,644.9 84.3,645.0 84.8,645.1 85.3,645.2 85.5,645.2 86.0,645.3 86.5,645.4 86.8,645.5 87.3,645.5 87.8,645.6 88.3,645.6 88.8,645.7 89.3,645.7 89.5,645.7 90.0,645.7 90.5,645.7 91.0,645.8 91.5,645.8 92.0,645.8 92.5,645.8 93.0,645.8 93.5,645.8 94.0,645.8 94.5,645.8 95.0,645.8 95.5,645.8 96.0,645.8 96.5,645.8 97.0,645.8 97.5,645.8 98.0,645.8 98.5,645.8 99.0,645.8 99.5,645.8 100.0,645.8 100.5,645.8 101.0,645.9 101.5,645.9 102.0,645.9 102.5,645.9 103.0,645.9 103.3,646.0 103.8,646.0 104.3,646.0 104.8,646.1 105.3,646.1 105.8,646.2 106.2,646.2 106.5,646.2 107.0,646.3 107.5,646.4 108.0,646.5 108.3,646.5 108.8,646.6 109.3,646.7 109.5,646.7 110.0,646.9 110.4,647.0 110.8,647.1 111.3,647.2 111.5,647.3 112.0,647.4 112.3,647.5 112.8,647.7 113.0,647.8 113.4,648.0 113.8,648.1 114.0,648.2 114.5,648.5 114.8,648.6 115.0,648.8 115.3,649.0 115.7,649.2 116.0,649.5 116.3,649.7 116.5,649.9 116.8,650.2 117.0,650.5 117.2,650.7 117.3,651.0 117.5,651.5 117.6,651.7 117.7,652.2 117.6,652.7 117.5,653.1 117.4,653.5 117.3,653.7 117.0,654.0 116.8,654.4 116.5,654.6 116.3,654.9 116.0,655.1 115.8,655.3 115.5,655.5 115.2,655.7 114.8,656.0 114.5,656.1 114.3,656.2 113.9,656.5 113.5,656.6 113.3,656.7 112.8,656.9 112.5,657.0 112.1,657.2 111.8,657.3 111.3,657.5 111.0,657.5 110.5,657.7 110.3,657.7 109.8,657.9 109.4,658.0 109.0,658.0 108.5,658.1 108.1,658.2 107.8,658.2 107.3,658.3 106.8,658.4 106.3,658.4 106.0,658.5 105.5,658.5 105.0,658.6 104.5,658.6 104.0,658.6 103.5,658.6 103.0,658.6 102.5,658.6 102.0,658.6 101.5,658.6 101.0,658.6 100.5,658.6 100.0,658.6 99.5,658.6 99.0,658.6 98.5,658.6 98.0,658.6 97.5,658.5 97.0,658.5 96.5,658.5 96.1,658.5 95.8,658.4 95.3,658.4 94.8,658.4 94.3,658.4 93.8,658.3 93.3,658.3 92.8,658.3 92.3,658.3 91.8,658.2 91.3,658.2 90.8,658.2 90.3,658.2 89.8,658.2 89.3,658.3 88.8,658.3 88.3,658.3 87.8,658.4 87.4,658.5 87.0,658.5 86.5,658.6 86.0,658.7 85.8,658.7 85.3,658.8 84.8,658.9 84.5,659.0 84.0,659.1 83.6,659.2 83.3,659.3 82.8,659.4 82.3,659.4 82.0,659.5 81.5,659.6 81.0,659.6 80.5,659.7 80.3,659.7Z" fill="none" stroke="#151515" stroke-width="0.7"/>
<path d="M81.3,659.2 80.8,659.3 80.3,659.3 79.8,659.4 79.3,659.4 78.8,659.4 78.3,659.4 77.8,659.4 77.3,659.4 76.8,659.3 76.3,659.2 76.0,659.2 75.5,659.1 75.1,659.0 74.8,658.8 74.4,658.7 74.0,658.5 73.8,658.4 73.4,658.2 73.0,658.0 72.8,657.8 72.5,657.7 72.3,657.5 72.0,657.2 71.7,657.0 71.5,656.7 71.2,656.5 71.0,656.2 70.8,655.9 70.5,655.5 70.4,655.2 70.2,655.0 70.0,654.5 69.9,654.2 69.8,653.7 69.8,653.5 69.7,653.0 69.7,652.5 69.7,652.0 69.7,651.5 69.8,651.0 69.9,650.7 70.0,650.2 70.1,650.0 70.3,649.5 70.4,649.2 70.6,649.0 70.8,648.5 71.0,648.2 71.2,648.0 71.4,647.7 71.6,647.5 71.9,647.2 72.2,647.0 72.4,646.7 72.8,646.5 73.0,646.3 73.3,646.1 73.5,645.9 74.0,645.7 74.3,645.5 74.5,645.4 75.0,645.2 75.3,645.2 75.8,645.0 76.0,644.9 76.5,644.8 77.0,644.8 77.5,644.7 77.8,644.7 78.3,644.7 78.8,644.7 79.3,644.7 79.5,644.7 80.0,644.7 80.5,644.8 81.0,644.8 81.5,644.9 81.8,645.0 82.3,645.0 82.8,645.1 83.2,645.2 83.5,645.3 84.0,645.4 84.4,645.5 84.8,645.5 85.3,645.6 85.6,645.7 86.0,645.8 86.5,645.9 86.9,646.0 87.3,646.0 87.8,646.1 88.3,646.1 88.8,646.2 89.1,646.2 89.5,646.2 90.0,646.2 90.5,646.3 91.0,646.3 91.5,646.3 92.0,646.3 92.5,646.3 93.0,646.3 93.5,646.3 94.0,646.3 94.5,646.2 95.0,646.2 95.5,646.2 96.0,646.2 96.5,646.2 97.0,646.2 97.5,646.2 98.0,646.2 98.5,646.2 99.0,646.2 99.5,646.3 100.0,646.3 100.5,646.3 101.0,646.3 101.5,646.3 102.0,646.3 102.5,646.3 103.0,646.4 103.5,646.4 104.0,646.4 104.5,646.5 104.8,646.5 105.3,646.5 105.8,646.6 106.3,646.6 106.8,646.7 107.0,646.7 107.5,646.8 108.0,646.9 108.3,647.0 108.8,647.0 109.3,647.2 109.5,647.2 110.0,647.3 110.4,647.5 110.8,647.6 111.2,647.7 111.5,647.8 111.9,648.0 112.3,648.1 112.5,648.2 113.0,648.4 113.3,648.6 113.6,648.7 114.0,649.0 114.3,649.1 114.5,649.3 114.8,649.5 115.1,649.7 115.3,650.0 115.6,650.2 115.8,650.5 116.0,650.8 116.3,651.2 116.4,651.5 116.5,652.0 116.5,652.5 116.4,653.0 116.3,653.3 116.1,653.7 115.9,654.0 115.8,654.2 115.5,654.5 115.3,654.7 115.0,655.0 114.7,655.2 114.4,655.5 114.0,655.7 113.8,655.8 113.5,656.0 113.1,656.2 112.8,656.3 112.5,656.5 112.0,656.7 111.8,656.8 111.3,656.9 111.0,657.0 110.5,657.2 110.3,657.3 109.8,657.4 109.5,657.5 109.0,657.6 108.5,657.7 108.3,657.7 107.8,657.8 107.3,657.9 107.0,658.0 106.5,658.0 106.0,658.1 105.5,658.1 105.0,658.2 104.5,658.2 104.2,658.2 103.8,658.2 103.3,658.2 102.8,658.2 102.3,658.3 101.8,658.3 101.3,658.2 100.8,658.2 100.3,658.2 99.8,658.2 99.5,658.2 99.0,658.2 98.5,658.2 98.0,658.1 97.5,658.1 97.0,658.1 96.5,658.0 96.0,658.0 95.5,658.0 95.1,658.0 94.8,657.9 94.3,657.9 93.8,657.9 93.3,657.8 92.8,657.8 92.3,657.8 91.8,657.8 91.3,657.8 90.8,657.7 90.3,657.7 89.8,657.8 89.3,657.8 88.8,657.8 88.3,657.9 87.8,657.9 87.5,658.0 87.0,658.0 86.5,658.1 86.3,658.2 85.8,658.3 85.3,658.4 85.0,658.5 84.5,658.6 84.1,658.7 83.8,658.8 83.3,658.9 82.9,659.0 82.5,659.0 82.0,659.1 81.5,659.2 81.3,659.2Z" fill="none" stroke="#151515" stroke-width="0.7"/>
<path d="M80.3,659.0 79.8,659.0 79.3,659.0 78.8,659.1 78.3,659.1 77.8,659.0 77.3,659.0 76.8,659.0 76.5,658.9 76.0,658.8 75.6,658.7 75.3,658.6 74.8,658.5 74.5,658.3 74.2,658.2 73.8,658.0 73.5,657.8 73.3,657.7 72.9,657.5 72.6,657.2 72.3,657.0 72.0,656.7 71.8,656.5 71.6,656.2 71.4,656.0 71.2,655.7 71.0,655.5 70.8,655.1 70.6,654.7 70.5,654.5 70.3,654.0 70.3,653.7 70.2,653.2 70.1,652.7 70.1,652.2 70.1,651.7 70.2,651.2 70.3,650.8 70.4,650.5 70.5,650.0 70.7,649.7 70.8,649.4 71.0,649.0 71.2,648.7 71.4,648.5 71.6,648.2 71.8,647.9 72.0,647.7 72.3,647.4 72.5,647.2 72.8,647.0 73.1,646.7 73.5,646.5 73.8,646.3 74.0,646.1 74.4,646.0 74.8,645.8 75.0,645.7 75.5,645.5 75.8,645.4 76.3,645.3 76.8,645.2 77.0,645.2 77.5,645.1 78.0,645.1 78.5,645.1 79.0,645.1 79.5,645.1 80.0,645.1 80.5,645.2 80.8,645.2 81.3,645.3 81.8,645.4 82.2,645.5 82.5,645.5 83.0,645.6 83.5,645.7 83.8,645.8 84.3,645.9 84.5,646.0 85.0,646.1 85.5,646.2 85.8,646.2 86.3,646.4 86.8,646.5 87.0,646.5 87.5,646.6 88.0,646.6 88.5,646.7 88.8,646.7 89.3,646.8 89.8,646.8 90.3,646.8 90.8,646.8 91.3,646.8 91.8,646.8 92.3,646.8 92.8,646.8 93.3,646.8 93.8,646.8 94.3,646.8 94.8,646.8 95.3,646.8 95.8,646.7 96.3,646.7 96.8,646.7 97.3,646.7 97.8,646.7 98.3,646.7 98.8,646.7 99.3,646.7 99.8,646.7 100.3,646.7 100.8,646.7 101.3,646.7 101.8,646.7 102.3,646.8 102.8,646.8 103.3,646.8 103.8,646.8 104.3,646.9 104.8,646.9 105.2,647.0 105.5,647.0 106.0,647.0 106.5,647.1 107.0,647.2 107.3,647.2 107.8,647.3 108.3,647.4 108.5,647.5 109.0,647.6 109.4,647.7 109.8,647.8 110.3,648.0 110.5,648.0 111.0,648.2 111.3,648.3 111.6,648.5 112.0,648.6 112.3,648.8 112.7,649.0 113.0,649.2 113.3,649.3 113.5,649.5 113.8,649.7 114.1,650.0 114.4,650.2 114.6,650.5 114.8,650.7 115.0,651.1 115.2,651.5 115.3,651.8 115.4,652.2 115.3,652.7 115.3,653.0 115.1,653.5 115.0,653.7 114.8,654.0 114.5,654.3 114.3,654.5 114.0,654.8 113.8,655.0 113.5,655.2 113.1,655.5 112.8,655.6 112.5,655.8 112.2,656.0 111.8,656.2 111.5,656.3 111.1,656.5 110.8,656.6 110.4,656.7 110.0,656.8 109.6,657.0 109.3,657.0 108.8,657.2 108.5,657.2 108.0,657.3 107.5,657.4 107.3,657.5 106.8,657.5 106.3,657.6 105.8,657.7 105.3,657.7 105.0,657.7 104.5,657.8 104.0,657.8 103.5,657.8 103.0,657.8 102.5,657.8 102.0,657.8 101.5,657.8 101.0,657.8 100.5,657.8 100.0,657.8 99.5,657.8 99.0,657.7 98.5,657.7 98.3,657.7 97.8,657.7 97.3,657.6 96.8,657.6 96.3,657.6 95.8,657.5 95.3,657.5 94.9,657.5 94.5,657.4 94.0,657.4 93.5,657.4 93.0,657.3 92.5,657.3 92.0,657.3 91.5,657.2 91.0,657.2 90.5,657.2 90.0,657.2 89.5,657.2 89.0,657.3 88.5,657.3 88.0,657.4 87.6,657.5 87.3,657.5 86.8,657.6 86.3,657.7 86.0,657.8 85.5,657.9 85.3,658.0 84.8,658.1 84.3,658.2 84.0,658.3 83.5,658.4 83.3,658.5 82.8,658.6 82.3,658.7 82.0,658.7 81.5,658.8 81.0,658.9 80.5,658.9 80.3,659.0Z" fill="none" stroke="#151515" stroke-width="0.7"/>
<path d="M81.0,658.5 80.5,658.5 80.0,658.6 79.5,658.6 79.0,658.7 78.5,658.7 78.0,658.7 77.5,658.6 77.0,658.6 76.5,658.5 76.3,658.5 75.8,658.3 75.4,658.2 75.0,658.1 74.7,658.0 74.3,657.8 74.0,657.6 73.7,657.5 73.3,657.2 73.0,657.0 72.8,656.8 72.5,656.6 72.3,656.3 72.0,656.1 71.8,655.8 71.6,655.5 71.4,655.2 71.3,655.0 71.0,654.5 70.9,654.2 70.8,653.8 70.7,653.5 70.6,653.0 70.6,652.5 70.6,652.0 70.7,651.5 70.8,651.0 70.8,650.7 71.0,650.2 71.1,650.0 71.3,649.5 71.5,649.2 71.6,649.0 71.8,648.7 72.0,648.3 72.3,648.1 72.5,647.8 72.8,647.6 73.0,647.3 73.3,647.1 73.6,647.0 74.0,646.7 74.3,646.5 74.5,646.4 74.9,646.2 75.3,646.0 75.6,646.0 76.0,645.8 76.5,645.7 76.8,645.6 77.3,645.6 77.8,645.5 78.3,645.5 78.8,645.5 79.3,645.5 79.8,645.6 80.3,645.6 80.8,645.7 81.0,645.7 81.5,645.8 82.0,645.9 82.4,646.0 82.8,646.0 83.3,646.1 83.5,646.2 84.0,646.3 84.5,646.5 84.8,646.5 85.3,646.7 85.5,646.7 86.0,646.9 86.5,647.0 86.8,647.0 87.3,647.1 87.7,647.2 88.0,647.3 88.5,647.3 89.0,647.4 89.5,647.4 90.0,647.4 90.5,647.4 91.0,647.4 91.5,647.4 92.0,647.4 92.5,647.4 93.0,647.4 93.5,647.4 94.0,647.4 94.5,647.3 95.0,647.3 95.5,647.3 96.0,647.3 96.5,647.3 97.0,647.3 97.5,647.2 98.0,647.2 98.5,647.2 99.0,647.2 99.5,647.2 100.0,647.2 100.5,647.2 101.0,647.2 101.5,647.2 102.0,647.2 102.5,647.2 103.0,647.3 103.5,647.3 104.0,647.3 104.5,647.4 105.0,647.4 105.5,647.5 105.8,647.5 106.3,647.6 106.8,647.6 107.1,647.7 107.5,647.8 108.0,647.9 108.3,648.0 108.8,648.1 109.2,648.2 109.5,648.3 110.0,648.5 110.3,648.6 110.6,648.7 111.0,648.9 111.3,649.0 111.7,649.2 112.0,649.4 112.3,649.6 112.5,649.7 112.8,650.0 113.1,650.2 113.4,650.5 113.6,650.7 113.8,651.0 114.0,651.5 114.1,651.7 114.2,652.2 114.2,652.7 114.0,653.2 113.9,653.5 113.8,653.7 113.5,654.0 113.3,654.3 113.0,654.6 112.8,654.8 112.5,655.0 112.2,655.2 111.8,655.4 111.5,655.6 111.3,655.7 110.8,655.9 110.5,656.0 110.1,656.2 109.8,656.3 109.4,656.5 109.0,656.6 108.5,656.7 108.3,656.8 107.8,656.9 107.4,657.0 107.0,657.0 106.5,657.1 106.0,657.2 105.7,657.2 105.3,657.2 104.8,657.3 104.3,657.3 103.8,657.3 103.3,657.4 102.8,657.4 102.3,657.4 101.8,657.4 101.3,657.4 100.8,657.4 100.3,657.3 99.8,657.3 99.3,657.3 98.8,657.3 98.3,657.2 98.0,657.2 97.5,657.2 97.0,657.1 96.5,657.1 96.0,657.0 95.5,657.0 95.2,657.0 94.8,656.9 94.3,656.9 93.8,656.8 93.3,656.8 92.8,656.7 92.4,656.7 92.0,656.7 91.5,656.7 91.0,656.6 90.5,656.6 90.0,656.6 89.5,656.6 89.0,656.7 88.8,656.7 88.3,656.8 87.8,656.8 87.3,656.9 87.0,657.0 86.5,657.1 86.2,657.2 85.8,657.3 85.3,657.5 85.0,657.5 84.5,657.7 84.3,657.7 83.8,657.9 83.5,658.0 83.0,658.1 82.5,658.2 82.3,658.2 81.8,658.3 81.3,658.4 81.0,658.5Z" fill="none" stroke="#151515" stroke-width="0.7"/>
<path d="M79.3,658.2 78.8,658.2 78.3,658.2 77.8,658.2 77.4,658.2 77.0,658.2 76.5,658.1 76.0,658.0 75.8,657.9 75.3,657.7 75.0,657.6 74.6,657.5 74.3,657.3 74.0,657.1 73.8,657.0 73.4,656.7 73.1,656.5 72.8,656.2 72.6,656.0 72.4,655.7 72.2,655.5 72.0,655.2 71.8,654.9 71.6,654.5 71.5,654.2 71.3,653.7 71.2,653.5 71.1,653.0 71.1,652.5 71.1,652.0 71.2,651.5 71.3,651.0 71.4,650.7 71.5,650.2 71.6,650.0 71.8,649.6 72.0,649.2 72.2,649.0 72.4,648.7 72.6,648.5 72.8,648.2 73.1,648.0 73.4,647.7 73.7,647.5 74.0,647.2 74.3,647.0 74.5,646.9 75.0,646.7 75.3,646.5 75.6,646.5 76.0,646.3 76.4,646.2 76.8,646.1 77.3,646.0 77.8,646.0 78.3,646.0 78.8,646.0 79.3,646.0 79.8,646.0 80.3,646.1 80.8,646.1 81.2,646.2 81.5,646.3 82.0,646.4 82.4,646.5 82.8,646.5 83.3,646.7 83.5,646.7 84.0,646.9 84.3,647.0 84.8,647.1 85.1,647.2 85.5,647.3 86.0,647.5 86.3,647.5 86.8,647.7 87.0,647.7 87.5,647.8 88.0,647.9 88.3,648.0 88.8,648.0 89.3,648.1 89.8,648.1 90.3,648.1 90.8,648.1 91.3,648.1 91.8,648.1 92.3,648.1 92.8,648.1 93.3,648.0 93.8,648.0 94.3,648.0 94.8,648.0 95.0,647.9 95.5,647.9 96.0,647.9 96.5,647.9 97.0,647.8 97.5,647.8 98.0,647.8 98.5,647.8 99.0,647.8 99.5,647.7 100.0,647.7 100.5,647.7 101.0,647.7 101.5,647.7 102.0,647.7 102.5,647.7 103.0,647.8 103.5,647.8 104.0,647.8 104.5,647.9 105.0,647.9 105.3,648.0 105.8,648.0 106.3,648.1 106.8,648.2 107.0,648.2 107.5,648.3 108.0,648.5 108.3,648.5 108.8,648.7 109.0,648.8 109.5,649.0 109.8,649.1 110.1,649.2 110.5,649.4 110.8,649.5 111.1,649.7 111.5,650.0 111.8,650.2 112.0,650.4 112.3,650.7 112.5,651.0 112.7,651.2 112.8,651.5 113.0,652.0 113.0,652.5 112.9,653.0 112.8,653.3 112.6,653.7 112.4,654.0 112.1,654.2 111.9,654.5 111.5,654.7 111.3,654.9 111.0,655.0 110.8,655.2 110.3,655.4 110.0,655.6 109.7,655.7 109.3,655.9 109.0,656.0 108.5,656.1 108.2,656.2 107.8,656.3 107.3,656.4 107.0,656.5 106.5,656.6 106.0,656.6 105.6,656.7 105.3,656.7 104.8,656.8 104.3,656.8 103.8,656.8 103.3,656.9 102.8,656.9 102.3,656.9 101.8,656.9 101.3,656.9 100.8,656.8 100.3,656.8 99.8,656.8 99.3,656.8 98.8,656.7 98.5,656.7 98.0,656.7 97.5,656.6 97.0,656.6 96.5,656.5 96.0,656.5 95.8,656.4 95.3,656.4 94.8,656.3 94.3,656.3 93.9,656.2 93.5,656.2 93.0,656.1 92.5,656.1 92.0,656.0 91.5,656.0 91.0,656.0 90.8,655.9 90.3,655.9 89.8,656.0 89.5,656.0 89.0,656.0 88.5,656.1 88.0,656.2 87.8,656.2 87.3,656.3 86.8,656.5 86.5,656.5 86.0,656.7 85.8,656.8 85.3,656.9 85.0,657.0 84.5,657.1 84.3,657.2 83.8,657.4 83.5,657.5 83.0,657.6 82.6,657.7 82.3,657.8 81.8,657.9 81.5,658.0 81.0,658.0 80.5,658.1 80.0,658.2 79.5,658.2 79.3,658.2Z" fill="none" stroke="#151515" stroke-width="0.7"/>
<path d="M79.8,657.7 79.3,657.8 78.8,657.8 78.3,657.8 77.8,657.8 77.3,657.7 77.0,657.7 76.5,657.6 76.0,657.5 75.8,657.4 75.3,657.2 75.0,657.1 74.7,657.0 74.3,656.7 74.0,656.6 73.8,656.4 73.5,656.2 73.3,656.0 73.0,655.7 72.8,655.4 72.5,655.1 72.3,654.7 72.2,654.5 72.0,654.2 71.9,653.7 71.8,653.5 71.7,653.0 71.7,652.5 71.7,652.0 71.7,651.5 71.8,651.1 71.9,650.7 72.0,650.4 72.2,650.0 72.4,649.7 72.5,649.4 72.8,649.0 73.0,648.7 73.3,648.5 73.5,648.2 73.8,648.0 74.0,647.8 74.3,647.6 74.6,647.5 75.0,647.2 75.3,647.1 75.7,647.0 76.0,646.8 76.5,646.7 76.8,646.6 77.3,646.5 77.8,646.5 78.3,646.5 78.8,646.5 79.3,646.5 79.8,646.5 80.3,646.6 80.8,646.7 81.1,646.7 81.5,646.8 82.0,646.9 82.3,647.0 82.8,647.1 83.1,647.2 83.5,647.3 83.9,647.5 84.3,647.6 84.7,647.7 85.0,647.8 85.4,648.0 85.8,648.1 86.1,648.2 86.5,648.3 86.9,648.5 87.3,648.6 87.8,648.7 88.0,648.8 88.5,648.9 89.0,648.9 89.3,649.0 89.8,649.0 90.3,649.0 90.8,649.0 91.3,649.0 91.8,649.0 92.0,648.9 92.5,648.9 93.0,648.9 93.5,648.8 94.0,648.8 94.5,648.7 94.8,648.7 95.3,648.6 95.8,648.6 96.3,648.6 96.8,648.5 97.3,648.5 97.7,648.5 98.0,648.4 98.5,648.4 99.0,648.4 99.5,648.3 100.0,648.3 100.5,648.3 101.0,648.3 101.5,648.3 102.0,648.3 102.5,648.3 103.0,648.3 103.5,648.4 104.0,648.4 104.5,648.4 104.8,648.5 105.3,648.5 105.8,648.6 106.3,648.7 106.5,648.7 107.0,648.9 107.4,649.0 107.8,649.1 108.2,649.2 108.5,649.3 108.9,649.5 109.3,649.6 109.5,649.8 109.9,650.0 110.3,650.2 110.5,650.4 110.8,650.6 111.0,650.8 111.3,651.1 111.5,651.5 111.6,651.7 111.7,652.2 111.7,652.7 111.5,653.2 111.4,653.5 111.2,653.7 111.0,654.0 110.7,654.2 110.4,654.5 110.0,654.7 109.8,654.8 109.5,655.0 109.1,655.2 108.8,655.3 108.4,655.5 108.0,655.6 107.6,655.7 107.3,655.8 106.8,655.9 106.5,656.0 106.0,656.1 105.5,656.1 105.0,656.2 104.8,656.2 104.3,656.3 103.8,656.3 103.3,656.3 102.8,656.3 102.3,656.3 101.8,656.3 101.3,656.3 100.8,656.3 100.3,656.2 99.8,656.2 99.5,656.2 99.0,656.2 98.5,656.1 98.0,656.0 97.5,656.0 97.3,656.0 96.8,655.9 96.3,655.8 95.8,655.8 95.4,655.7 95.0,655.6 94.5,655.6 94.0,655.5 93.8,655.5 93.3,655.4 92.8,655.3 92.3,655.2 91.9,655.2 91.5,655.2 91.0,655.1 90.5,655.1 90.0,655.1 89.5,655.1 89.0,655.2 88.8,655.2 88.3,655.3 87.8,655.4 87.5,655.5 87.0,655.7 86.8,655.7 86.3,655.9 86.0,656.0 85.5,656.2 85.3,656.3 84.9,656.5 84.5,656.6 84.2,656.7 83.8,656.8 83.4,657.0 83.0,657.1 82.6,657.2 82.3,657.3 81.8,657.4 81.5,657.5 81.0,657.5 80.5,657.6 80.0,657.7 79.8,657.7Z" fill="none" stroke="#151515" stroke-width="0.7"/>
<path d="M79.8,657.2 79.3,657.3 78.8,657.3 78.3,657.3 77.8,657.3 77.3,657.2 77.0,657.2 76.5,657.1 76.0,657.0 75.8,656.9 75.4,656.7 75.0,656.5 74.8,656.4 74.5,656.2 74.1,656.0 73.8,655.7 73.6,655.5 73.3,655.2 73.1,655.0 73.0,654.7 72.8,654.4 72.6,654.0 72.5,653.7 72.3,653.2 72.3,653.0 72.3,652.5 72.3,652.0 72.3,651.7 72.4,651.2 72.5,650.7 72.7,650.5 72.8,650.1 73.0,649.7 73.2,649.5 73.4,649.2 73.6,649.0 73.9,648.7 74.2,648.5 74.5,648.2 74.8,648.0 75.0,647.8 75.3,647.7 75.8,647.5 76.0,647.4 76.5,647.2 76.8,647.2 77.3,647.1 77.8,647.0 78.3,647.0 78.8,647.0 79.3,647.0 79.8,647.1 80.3,647.1 80.7,647.2 81.0,647.3 81.5,647.4 81.8,647.5 82.3,647.6 82.7,647.7 83.0,647.8 83.4,648.0 83.8,648.1 84.1,648.2 84.5,648.4 84.8,648.5 85.3,648.7 85.5,648.8 85.8,649.0 86.3,649.2 86.5,649.3 87.0,649.5 87.3,649.6 87.6,649.7 88.0,649.9 88.4,650.0 88.8,650.1 89.3,650.2 89.7,650.2 90.0,650.2 90.5,650.2 91.0,650.2 91.3,650.2 91.8,650.1 92.3,650.0 92.8,650.0 93.0,649.9 93.5,649.8 94.0,649.7 94.3,649.7 94.8,649.6 95.3,649.5 95.8,649.5 96.0,649.4 96.5,649.4 97.0,649.3 97.5,649.2 97.9,649.2 98.3,649.2 98.8,649.1 99.3,649.1 99.8,649.0 100.3,649.0 100.8,649.0 101.3,649.0 101.8,649.0 102.3,649.0 102.8,649.0 103.3,649.0 103.8,649.0 104.3,649.1 104.8,649.1 105.2,649.2 105.5,649.3 106.0,649.4 106.4,649.5 106.8,649.5 107.3,649.7 107.5,649.8 108.0,650.0 108.3,650.1 108.5,650.2 108.9,650.5 109.3,650.7 109.5,650.9 109.8,651.2 110.0,651.5 110.1,651.7 110.3,652.2 110.2,652.7 110.0,653.2 109.9,653.5 109.7,653.7 109.4,654.0 109.0,654.2 108.8,654.4 108.5,654.5 108.1,654.7 107.8,654.8 107.5,655.0 107.0,655.1 106.7,655.2 106.3,655.3 105.8,655.4 105.5,655.5 105.0,655.5 104.5,655.6 104.0,655.6 103.5,655.6 103.0,655.7 102.5,655.7 102.0,655.7 101.5,655.7 101.0,655.6 100.5,655.6 100.0,655.6 99.5,655.5 99.0,655.5 98.8,655.4 98.3,655.4 97.8,655.3 97.3,655.2 97.0,655.2 96.5,655.1 96.0,655.0 95.8,654.9 95.3,654.8 94.8,654.7 94.5,654.7 94.0,654.5 93.6,654.5 93.3,654.4 92.8,654.3 92.4,654.2 92.0,654.1 91.5,654.0 91.0,654.0 90.7,654.0 90.3,653.9 89.8,654.0 89.5,654.0 89.0,654.0 88.5,654.2 88.3,654.2 87.8,654.4 87.5,654.5 87.1,654.7 86.8,654.8 86.5,655.0 86.0,655.2 85.8,655.3 85.5,655.5 85.0,655.7 84.8,655.8 84.4,656.0 84.0,656.1 83.8,656.2 83.3,656.4 83.0,656.5 82.5,656.6 82.3,656.7 81.8,656.9 81.4,657.0 81.0,657.0 80.5,657.1 80.0,657.2 79.8,657.2Z" fill="none" stroke="#151515" stroke-width="0.7"/>
<path d="M79.3,656.7 78.8,656.7 78.3,656.7 77.8,656.7 77.5,656.7 77.0,656.6 76.5,656.5 76.3,656.4 75.8,656.3 75.5,656.1 75.2,656.0 74.8,655.7 74.5,655.5 74.3,655.3 74.0,655.1 73.8,654.8 73.6,654.5 73.4,654.2 73.3,654.0 73.1,653.5 73.0,653.2 72.9,652.7 72.9,652.2 73.0,651.7 73.0,651.3 73.2,651.0 73.3,650.6 73.5,650.2 73.7,650.0 73.8,649.7 74.0,649.4 74.3,649.2 74.5,648.9 74.9,648.7 75.2,648.5 75.5,648.3 75.8,648.1 76.3,648.0 76.5,647.9 77.0,647.7 77.3,647.7 77.8,647.6 78.3,647.6 78.8,647.6 79.3,647.6 79.8,647.7 80.0,647.7 80.5,647.8 81.0,647.9 81.3,648.0 81.8,648.1 82.1,648.2 82.5,648.4 82.8,648.5 83.3,648.7 83.5,648.8 83.9,649.0 84.3,649.2 84.5,649.3 84.8,649.5 85.2,649.7 85.5,649.9 85.8,650.1 86.0,650.3 86.3,650.5 86.6,650.7 86.9,651.0 87.1,651.2 87.3,651.5 87.5,652.0 87.5,652.5 87.3,652.8 87.0,653.1 86.8,653.4 86.5,653.6 86.3,653.9 86.0,654.1 85.8,654.2 85.5,654.5 85.1,654.7 84.8,654.9 84.5,655.0 84.3,655.2 83.8,655.4 83.5,655.6 83.2,655.7 82.8,655.9 82.5,656.0 82.0,656.2 81.8,656.2 81.3,656.4 81.0,656.5 80.5,656.5 80.0,656.6 79.5,656.7 79.3,656.7Z" fill="none" stroke="#151515" stroke-width="0.7"/>
<path d="M104.8,654.7 104.3,654.8 103.8,654.8 103.3,654.8 102.8,654.9 102.3,654.9 101.8,654.8 101.3,654.8 100.8,654.8 100.3,654.7 100.0,654.7 99.5,654.6 99.0,654.5 98.5,654.5 98.3,654.4 97.8,654.3 97.5,654.2 97.0,654.1 96.6,654.0 96.3,653.9 95.9,653.7 95.5,653.6 95.3,653.5 94.8,653.2 94.5,653.1 94.3,652.9 94.0,652.7 93.8,652.3 93.8,652.1 94.0,651.7 94.3,651.5 94.5,651.3 94.8,651.2 95.2,651.0 95.5,650.8 95.9,650.7 96.3,650.6 96.8,650.5 97.0,650.4 97.5,650.3 97.9,650.2 98.3,650.1 98.8,650.1 99.3,650.0 99.5,649.9 100.0,649.9 100.5,649.9 101.0,649.8 101.5,649.8 102.0,649.8 102.5,649.8 103.0,649.8 103.5,649.8 104.0,649.9 104.5,650.0 104.8,650.0 105.3,650.1 105.7,650.2 106.0,650.3 106.5,650.5 106.8,650.6 107.1,650.7 107.5,651.0 107.8,651.2 108.0,651.4 108.3,651.7 108.4,652.0 108.5,652.5 108.3,653.0 108.2,653.2 107.9,653.5 107.6,653.7 107.3,653.9 107.0,654.0 106.7,654.2 106.3,654.3 106.0,654.5 105.5,654.6 105.0,654.7 104.8,654.7Z" fill="none" stroke="#151515" stroke-width="0.7"/>
<path d="M80.0,656.0 79.5,656.0 79.0,656.1 78.5,656.1 78.0,656.1 77.5,656.1 77.0,656.0 76.8,655.9 76.3,655.8 76.0,655.7 75.6,655.5 75.3,655.2 75.0,655.0 74.8,654.8 74.5,654.6 74.3,654.3 74.1,654.0 74.0,653.7 73.8,653.2 73.7,653.0 73.7,652.5 73.7,652.0 73.8,651.5 73.9,651.2 74.0,650.8 74.2,650.5 74.4,650.2 74.6,650.0 74.8,649.7 75.1,649.5 75.4,649.2 75.8,649.0 76.0,648.8 76.3,648.7 76.8,648.5 77.1,648.5 77.5,648.4 78.0,648.3 78.5,648.3 79.0,648.3 79.5,648.4 80.0,648.4 80.3,648.5 80.8,648.6 81.2,648.7 81.5,648.8 81.9,649.0 82.3,649.1 82.5,649.2 83.0,649.5 83.3,649.6 83.5,649.8 83.8,650.0 84.1,650.2 84.4,650.5 84.6,650.7 84.8,651.0 85.0,651.3 85.2,651.7 85.3,652.1 85.3,652.4 85.2,652.7 85.0,653.1 84.9,653.5 84.6,653.7 84.4,654.0 84.1,654.2 83.8,654.4 83.5,654.6 83.3,654.8 83.0,655.0 82.5,655.2 82.3,655.3 81.9,655.5 81.5,655.6 81.2,655.7 80.8,655.8 80.3,655.9 80.0,656.0Z" fill="none" stroke="#151515" stroke-width="0.7"/>
<path d="M104.0,653.5 103.5,653.6 103.0,653.6 102.5,653.6 102.0,653.6 101.5,653.6 101.0,653.5 100.8,653.5 100.3,653.3 99.9,653.2 99.5,653.0 99.3,652.9 99.0,652.7 98.8,652.2 99.0,651.9 99.3,651.7 99.8,651.5 100.0,651.4 100.5,651.2 100.8,651.2 101.3,651.1 101.8,651.1 102.3,651.1 102.8,651.1 103.3,651.1 103.8,651.2 104.0,651.2 104.5,651.3 104.8,651.5 105.3,651.7 105.5,651.9 105.7,652.2 105.6,652.7 105.4,653.0 105.0,653.2 104.8,653.3 104.3,653.4 104.0,653.5Z" fill="none" stroke="#151515" stroke-width="0.7"/>
<path d="M79.8,655.2 79.3,655.3 78.8,655.3 78.3,655.3 77.8,655.3 77.3,655.2 77.0,655.2 76.5,655.0 76.3,654.9 76.0,654.7 75.6,654.5 75.4,654.2 75.2,654.0 75.0,653.7 74.8,653.3 74.7,653.0 74.6,652.5 74.6,652.0 74.8,651.5 74.9,651.2 75.0,650.8 75.3,650.5 75.5,650.2 75.8,650.0 76.0,649.8 76.3,649.6 76.7,649.5 77.0,649.3 77.5,649.2 77.8,649.2 78.3,649.1 78.8,649.1 79.3,649.2 79.5,649.2 80.0,649.3 80.5,649.4 80.8,649.5 81.2,649.7 81.5,649.8 81.8,650.0 82.2,650.2 82.5,650.5 82.8,650.7 83.0,651.0 83.2,651.2 83.4,651.5 83.5,652.0 83.6,652.2 83.5,652.5 83.4,653.0 83.3,653.2 83.0,653.5 82.8,653.8 82.5,654.0 82.3,654.2 81.9,654.5 81.5,654.6 81.3,654.8 80.8,654.9 80.5,655.0 80.0,655.2 79.8,655.2Z" fill="none" stroke="#151515" stroke-width="0.7"/>
<path d="M79.3,654.2 78.8,654.3 78.3,654.3 77.8,654.3 77.5,654.2 77.0,654.0 76.8,653.9 76.5,653.7 76.3,653.5 76.0,653.1 75.9,652.7 75.9,652.2 76.0,651.7 76.1,651.5 76.3,651.2 76.5,650.9 76.8,650.7 77.3,650.5 77.5,650.4 78.0,650.3 78.5,650.3 79.0,650.3 79.5,650.4 79.8,650.5 80.3,650.7 80.5,650.8 80.8,651.0 81.0,651.2 81.3,651.5 81.5,652.0 81.6,652.2 81.5,652.6 81.4,653.0 81.2,653.2 81.0,653.5 80.6,653.7 80.3,653.9 80.0,654.0 79.5,654.1 79.3,654.2Z" fill="none" stroke="#151515" stroke-width="0.7"/>
</g>
<line x1="91.4" y1="571.2" x2="91.4" y2="680.2" stroke="#111" stroke-width="1.0"/>
<line x1="38.8" y1="641" x2="155.4" y2="641" stroke="#111" stroke-width="1.0"/>
<rect x="38.8" y="571.2" width="116.6" height="109" fill="none" stroke="#111" stroke-width="1.1"/>
<line x1="36" y1="580" x2="38.8" y2="580" stroke="#111" stroke-width="1.0"/>
<text x="33.2" y="582.9" font-size="7.9" text-anchor="end" fill="#222">10<tspan dy="-2.7" font-size="5.4">5</tspan></text>
<line x1="36" y1="607" x2="38.8" y2="607" stroke="#111" stroke-width="1.0"/>
<text x="33.2" y="609.9" font-size="7.9" text-anchor="end" fill="#222">10<tspan dy="-2.7" font-size="5.4">4</tspan></text>
<line x1="36" y1="637" x2="38.8" y2="637" stroke="#111" stroke-width="1.0"/>
<text x="33.2" y="639.9" font-size="7.9" text-anchor="end" fill="#222">10<tspan dy="-2.7" font-size="5.4">3</tspan></text>
<line x1="36" y1="654.5" x2="38.8" y2="654.5" stroke="#111" stroke-width="1.0"/>
<text x="27.5" y="657.5" font-size="8.4" text-anchor="middle" font-weight="normal" fill="#222" >0</text>
<line x1="36" y1="672.5" x2="38.8" y2="672.5" stroke="#111" stroke-width="1.0"/>
<text x="33.2" y="675.4" font-size="7.9" text-anchor="end" fill="#222">−10<tspan dy="-2.7" font-size="5.4">3</tspan></text>
<line x1="37" y1="627.97" x2="38.8" y2="627.97" stroke="#111" stroke-width="0.8"/>
<line x1="37" y1="622.69" x2="38.8" y2="622.69" stroke="#111" stroke-width="0.8"/>
<line x1="37" y1="618.94" x2="38.8" y2="618.94" stroke="#111" stroke-width="0.8"/>
<line x1="37" y1="616.03" x2="38.8" y2="616.03" stroke="#111" stroke-width="0.8"/>
<line x1="37" y1="613.66" x2="38.8" y2="613.66" stroke="#111" stroke-width="0.8"/>
<line x1="37" y1="611.65" x2="38.8" y2="611.65" stroke="#111" stroke-width="0.8"/>
<line x1="37" y1="609.91" x2="38.8" y2="609.91" stroke="#111" stroke-width="0.8"/>
<line x1="37" y1="608.37" x2="38.8" y2="608.37" stroke="#111" stroke-width="0.8"/>
<line x1="37" y1="598.87" x2="38.8" y2="598.87" stroke="#111" stroke-width="0.8"/>
<line x1="37" y1="594.12" x2="38.8" y2="594.12" stroke="#111" stroke-width="0.8"/>
<line x1="37" y1="590.74" x2="38.8" y2="590.74" stroke="#111" stroke-width="0.8"/>
<line x1="37" y1="588.13" x2="38.8" y2="588.13" stroke="#111" stroke-width="0.8"/>
<line x1="37" y1="585.99" x2="38.8" y2="585.99" stroke="#111" stroke-width="0.8"/>
<line x1="37" y1="584.18" x2="38.8" y2="584.18" stroke="#111" stroke-width="0.8"/>
<line x1="37" y1="582.62" x2="38.8" y2="582.62" stroke="#111" stroke-width="0.8"/>
<line x1="37" y1="581.24" x2="38.8" y2="581.24" stroke="#111" stroke-width="0.8"/>
<line x1="36.6" y1="649.5" x2="38.8" y2="649.5" stroke="#111" stroke-width="0.9"/>
<line x1="36.6" y1="652" x2="38.8" y2="652" stroke="#111" stroke-width="0.9"/>
<line x1="36.6" y1="654.5" x2="38.8" y2="654.5" stroke="#111" stroke-width="0.9"/>
<line x1="36.6" y1="657" x2="38.8" y2="657" stroke="#111" stroke-width="0.9"/>
<line x1="36.6" y1="659.5" x2="38.8" y2="659.5" stroke="#111" stroke-width="0.9"/>
<line x1="73.7" y1="680.2" x2="73.7" y2="683" stroke="#111" stroke-width="1.0"/>
<line x1="90.8" y1="680.2" x2="90.8" y2="683" stroke="#111" stroke-width="1.0"/>
<line x1="118.8" y1="680.2" x2="118.8" y2="683" stroke="#111" stroke-width="1.0"/>
<line x1="146" y1="680.2" x2="146" y2="683" stroke="#111" stroke-width="1.0"/>
<line x1="99.23" y1="680.2" x2="99.23" y2="682" stroke="#111" stroke-width="0.8"/>
<line x1="104.16" y1="680.2" x2="104.16" y2="682" stroke="#111" stroke-width="0.8"/>
<line x1="107.66" y1="680.2" x2="107.66" y2="682" stroke="#111" stroke-width="0.8"/>
<line x1="110.37" y1="680.2" x2="110.37" y2="682" stroke="#111" stroke-width="0.8"/>
<line x1="112.59" y1="680.2" x2="112.59" y2="682" stroke="#111" stroke-width="0.8"/>
<line x1="114.46" y1="680.2" x2="114.46" y2="682" stroke="#111" stroke-width="0.8"/>
<line x1="116.09" y1="680.2" x2="116.09" y2="682" stroke="#111" stroke-width="0.8"/>
<line x1="117.52" y1="680.2" x2="117.52" y2="682" stroke="#111" stroke-width="0.8"/>
<line x1="126.99" y1="680.2" x2="126.99" y2="682" stroke="#111" stroke-width="0.8"/>
<line x1="131.78" y1="680.2" x2="131.78" y2="682" stroke="#111" stroke-width="0.8"/>
<line x1="135.18" y1="680.2" x2="135.18" y2="682" stroke="#111" stroke-width="0.8"/>
<line x1="137.81" y1="680.2" x2="137.81" y2="682" stroke="#111" stroke-width="0.8"/>
<line x1="139.97" y1="680.2" x2="139.97" y2="682" stroke="#111" stroke-width="0.8"/>
<line x1="141.79" y1="680.2" x2="141.79" y2="682" stroke="#111" stroke-width="0.8"/>
<line x1="143.36" y1="680.2" x2="143.36" y2="682" stroke="#111" stroke-width="0.8"/>
<line x1="144.76" y1="680.2" x2="144.76" y2="682" stroke="#111" stroke-width="0.8"/>
<line x1="70" y1="680.2" x2="70" y2="682.4" stroke="#111" stroke-width="0.9"/>
<line x1="73.7" y1="680.2" x2="73.7" y2="682.4" stroke="#111" stroke-width="0.9"/>
<line x1="77" y1="680.2" x2="77" y2="682.4" stroke="#111" stroke-width="0.9"/>
<text x="73.7" y="692.3" font-size="8.4" text-anchor="middle" font-weight="normal" fill="#222" >0</text>
<text x="119.6" y="692.1" font-size="8.2" text-anchor="middle" fill="#222">10<tspan dy="-3.2" font-size="5.5">4</tspan></text>
<text x="146.8" y="692.1" font-size="8.2" text-anchor="middle" fill="#222">10<tspan dy="-3.2" font-size="5.5">5</tspan></text>
<text x="41.3" y="582.6" font-size="9.7" text-anchor="start" font-weight="normal" fill="#222" textLength="26" lengthAdjust="spacingAndGlyphs" >0.64%</text>
<text x="152.5" y="583" font-size="9.7" text-anchor="end" font-weight="normal" fill="#222" textLength="25.8" lengthAdjust="spacingAndGlyphs" >5.13%</text>
<text x="42" y="676.8" font-size="9.7" text-anchor="start" font-weight="normal" fill="#222" textLength="26" lengthAdjust="spacingAndGlyphs" >45.5%</text>
<text x="152.5" y="676.8" font-size="9.7" text-anchor="end" font-weight="normal" fill="#222" textLength="26.6" lengthAdjust="spacingAndGlyphs" >48.7%</text>
<text x="26.3" y="563.3" font-size="8.6" fill="#222" textLength="141.5" lengthAdjust="spacingAndGlyphs">CD4<tspan dy="-3.3" font-size="5.5">+</tspan><tspan dy="3.3"> CD44</tspan><tspan dy="-3.3" font-size="5.5">+</tspan><tspan dy="3.3"> PD1</tspan><tspan dy="-3.3" font-size="5.5">+</tspan><tspan dy="3.3"> LAG3</tspan><tspan dy="-3.3" font-size="5.5">+</tspan><tspan dy="3.3"> TIM3</tspan><tspan dy="-3.3" font-size="5.5">+</tspan></text>
<line x1="26.3" y1="564.6" x2="167.9" y2="564.6" stroke="#666" stroke-width="0.9"/>
<path d="M13.8 699.3 V650" stroke="#111" stroke-width="1.2" fill="none"/>
<path d="M10.8 651.5 L13.8 645.8 L16.8 651.5 Z" fill="#111"/>
<path d="M13.2 699.3 H56" stroke="#111" stroke-width="1.2" fill="none"/>
<path d="M54.8 696.3 L60.3 699.3 L54.8 702.3 Z" fill="#111"/>
<text transform="translate(16.8,633) rotate(-90) scale(1.013,1)" x="0" y="0" font-size="9.4" text-anchor="middle" fill="#222" >TNF</text>
<text x="64.5" y="702.2" font-size="9.7" text-anchor="start" font-weight="normal" fill="#222" textLength="18" lengthAdjust="spacingAndGlyphs" >IFNγ</text>
<rect x="0.65" y="0.65" width="518.7" height="709.7" fill="none" stroke="#000" stroke-width="1.3"/>
</svg></body></html>
